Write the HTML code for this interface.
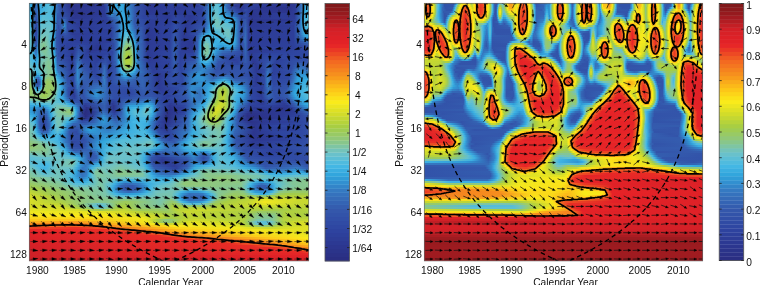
<!DOCTYPE html>
<html><head><meta charset="utf-8"><title>Wavelet power and coherence</title>
<style>
html,body{margin:0;padding:0;background:#fff}
body{width:760px;height:285px;position:relative;overflow:hidden}
.p{position:absolute;overflow:hidden}
.p i{display:block;height:2px}
svg{position:absolute;left:0;top:0}
text{font-family:"Liberation Sans",Arial,Helvetica,sans-serif;font-size:10.2px;fill:#111}
</style></head><body>
<div class="p" style="left:29px;top:3px;width:280px;height:258px">
<i style="background:linear-gradient(90deg,#37abdf 0.5px,#3195d3 4.5px,#3571bc 6.5px,#3382c7 8.5px,#40b3e3 11.5px,#53bbdb 21.5px,#2fa3dc 25.5px,#3465b4 28.5px,#2c358d 39.5px,#2c3891 74.5px,#345daf 79.5px,#3192d1 82.5px,#39ade0 91.5px,#356ab8 102.5px,#2c358c 118.5px,#2d409b 143.5px,#2c3993 164.5px,#3354aa 176.5px,#328dce 180.5px,#3bafe1 182.5px,#65c0cf 186.5px,#44b7e5 191.5px,#3193d2 194.5px,#314fa7 200.5px,#2c358c 211.5px,#2d409b 217.5px,#2c3892 249.5px,#2c378f 265.5px,#3467b6 271.5px,#39ace0 276.5px,#3eb1e2 279.5px)"></i>
<i style="background:linear-gradient(90deg,#37abdf 0.5px,#30a4dc 3.5px,#356cb9 6.5px,#347cc3 8.5px,#37abdf 10.5px,#56bcd9 20.5px,#3cafe1 24.5px,#3389cc 26.5px,#3459ac 29.5px,#2b348c 41.5px,#2c3891 74.5px,#3250a7 78.5px,#309bd7 81.5px,#2fa3dc 86.5px,#34a8de 93.5px,#3251a8 107.5px,#2c368f 121.5px,#2d3e98 142.5px,#2d3b95 168.5px,#345eb0 177.5px,#2fa2db 181.5px,#57bcd8 184.5px,#62bfd1 188.5px,#3baee1 192.5px,#3569b7 197.5px,#2c3992 206.5px,#2c3a94 213.5px,#2e419d 217.5px,#2c3790 247.5px,#2c378f 265.5px,#3568b6 271.5px,#39ace0 276.5px,#3eb1e2 279.5px)"></i>
<i style="background:linear-gradient(90deg,#39ace0 0.5px,#30a4dc 3.5px,#3466b5 6.5px,#3576bf 8.5px,#37abdf 10.5px,#56bcd9 20.5px,#3bafe1 24.5px,#3570bb 27.5px,#3251a8 31.5px,#2c358c 42.5px,#2d3b95 75.5px,#3251a8 78.5px,#33a7de 81.5px,#3197d4 85.5px,#37aadf 92.5px,#3251a8 107.5px,#2c378f 121.5px,#2d3e99 142.5px,#2c3992 149.5px,#2e45a0 173.5px,#356bb8 178.5px,#2fa3dc 181.5px,#58bdd7 184.5px,#63bfd0 188.5px,#3bafe1 192.5px,#3458ac 199.5px,#2c368f 211.5px,#2e439e 217.5px,#2c368e 233.5px,#2b338a 259.5px,#2d3c96 266.5px,#3576c0 272.5px,#3aaee1 276.5px,#40b3e3 279.5px)"></i>
<i style="background:linear-gradient(90deg,#3bafe1 0.5px,#31a5dd 3.5px,#3461b2 6.5px,#3573bd 8.5px,#38ace0 10.5px,#56bcd9 20.5px,#3bafe1 24.5px,#356eba 27.5px,#3251a8 31.5px,#2c358d 43.5px,#2d3b95 75.5px,#3250a7 78.5px,#37aadf 81.5px,#328ecf 85.5px,#36aadf 92.5px,#3384c8 99.5px,#3251a8 107.5px,#2c3891 121.5px,#2d3e99 142.5px,#2d3b95 148.5px,#2e419d 172.5px,#356cb9 178.5px,#31a5dd 181.5px,#64c0cf 185.5px,#5dbed4 189.5px,#3cb0e1 192.5px,#3459ac 200.5px,#2c3a94 212.5px,#304aa4 216.5px,#2c3891 223.5px,#2b348b 259.5px,#2d3c96 266.5px,#3579c1 272.5px,#36aadf 275.5px,#42b6e4 279.5px)"></i>
<i style="background:linear-gradient(90deg,#3eb2e2 0.5px,#33a6dd 3.5px,#345cae 6.5px,#356fbb 8.5px,#39ade0 10.5px,#59bdd7 18.5px,#3bafe1 24.5px,#356dba 27.5px,#3252a9 31.5px,#2c358d 44.5px,#2d3b95 75.5px,#3460b1 79.5px,#31a5dd 81.5px,#3195d3 83.5px,#3482c7 85.5px,#35a9df 92.5px,#3191d1 98.5px,#3353a9 106.5px,#2c3992 121.5px,#2d3f9a 142.5px,#2d3c96 148.5px,#2e419c 172.5px,#356db9 178.5px,#33a7de 181.5px,#5fbed3 184.5px,#67c0cd 188.5px,#3eb1e2 192.5px,#3385c9 196.5px,#2f48a3 207.5px,#2d409b 213.5px,#2e45a1 217.5px,#2c3891 224.5px,#2c358d 259.5px,#2d3d97 266.5px,#356cb9 271.5px,#3aade0 275.5px,#47b8e4 279.5px)"></i>
<i style="background:linear-gradient(90deg,#42b5e4 0.5px,#35a9de 3.5px,#3457ab 6.5px,#3457ac 7.5px,#3bafe1 10.5px,#57bcd8 15.5px,#4fbade 22.5px,#2fa0da 25.5px,#345caf 28.5px,#2c358d 45.5px,#2d3a94 75.5px,#3458ac 79.5px,#3191d1 81.5px,#3195d3 82.5px,#3574be 85.5px,#36aadf 93.5px,#3196d4 98.5px,#3353a9 106.5px,#2c3a94 121.5px,#2d3f9a 142.5px,#2d3c96 148.5px,#2d419c 172.5px,#356eba 178.5px,#35a9df 181.5px,#55bcda 183.5px,#6fc2c5 186.5px,#41b4e3 192.5px,#3290d0 196.5px,#2d419c 212.5px,#314ea6 216.5px,#2c368f 221.5px,#2d3d98 251.5px,#2c3992 265.5px,#356eba 271.5px,#3eb1e2 275.5px,#4dbadf 279.5px)"></i>
<i style="background:linear-gradient(90deg,#46b8e4 0.5px,#37abdf 3.5px,#3354aa 6.5px,#3354aa 7.5px,#3569b7 8.5px,#3db0e2 10.5px,#59bdd7 14.5px,#50bbdd 22.5px,#2fa1da 25.5px,#345aad 28.5px,#2c368e 46.5px,#2d3d97 76.5px,#3463b3 80.5px,#3577c0 82.5px,#356fbb 86.5px,#37aadf 93.5px,#309bd7 98.5px,#3354a9 106.5px,#2e439e 114.5px,#2c3993 140.5px,#2e45a1 146.5px,#2c3892 161.5px,#2f49a3 174.5px,#3481c6 179.5px,#46b8e4 182.5px,#6fc2c6 185.5px,#65c0ce 189.5px,#3cb0e1 193.5px,#3191d1 199.5px,#2e44a0 212.5px,#3251a8 216.5px,#2c368f 221.5px,#2d3d97 250.5px,#2c3a93 265.5px,#3571bc 271.5px,#37aadf 274.5px,#52bbdb 279.5px)"></i>
<i style="background:linear-gradient(90deg,#4bbae0 0.5px,#39ade0 3.5px,#3465b4 5.5px,#3251a8 7.5px,#3466b5 8.5px,#3fb2e2 10.5px,#5bbdd5 13.5px,#53bbdb 22.5px,#2fa2db 25.5px,#3458ac 28.5px,#3252a8 36.5px,#2c368e 43.5px,#2d3f99 77.5px,#3460b1 83.5px,#3577c0 88.5px,#37aadf 93.5px,#309fd9 98.5px,#3457ab 105.5px,#2e44a0 114.5px,#2c3a94 140.5px,#2f46a1 146.5px,#2c3993 161.5px,#2f49a3 174.5px,#3481c7 179.5px,#48b9e3 182.5px,#71c2c1 185.5px,#70c2c3 188.5px,#3cb0e1 194.5px,#3192d1 204.5px,#304ba4 211.5px,#304aa3 217.5px,#2c3790 222.5px,#2d3d97 250.5px,#2d3b95 265.5px,#3464b4 270.5px,#3aade0 274.5px,#57bcd8 279.5px)"></i>
<i style="background:linear-gradient(90deg,#50bbdd 0.5px,#3baee1 3.5px,#3462b2 5.5px,#314ea6 7.5px,#3463b3 8.5px,#40b3e3 10.5px,#5fbed3 13.5px,#56bcd9 22.5px,#2fa3dc 25.5px,#3457ab 28.5px,#3467b6 35.5px,#2d3b95 40.5px,#2d3d98 77.5px,#3568b6 87.5px,#37aadf 93.5px,#2fa2dc 98.5px,#3457ac 105.5px,#304ba4 113.5px,#2d3e98 122.5px,#2d3e98 141.5px,#2f48a3 146.5px,#2c3a93 160.5px,#3049a3 174.5px,#3481c6 179.5px,#47b9e3 182.5px,#72c3bf 185.5px,#73c3bd 188.5px,#41b5e4 195.5px,#31a5dd 204.5px,#314da5 211.5px,#3355aa 216.5px,#2c368f 220.5px,#2c3892 259.5px,#2e419d 266.5px,#3576bf 271.5px,#2fa2db 273.5px,#51bbdc 276.5px,#59bdd7 279.5px)"></i>
<i style="background:linear-gradient(90deg,#53bbdb 0.5px,#3cafe1 3.5px,#345fb1 5.5px,#304ca5 7.5px,#3460b1 8.5px,#41b4e3 10.5px,#5fbed3 12.5px,#60bfd2 21.5px,#42b6e4 24.5px,#3384c8 26.5px,#3355aa 28.5px,#3463b3 33.5px,#3576bf 35.5px,#2d409b 39.5px,#2c3a94 75.5px,#3463b3 87.5px,#36aadf 93.5px,#31a5dd 98.5px,#3458ac 105.5px,#314da5 113.5px,#2d3d98 121.5px,#2d3f9a 141.5px,#304aa4 146.5px,#2c3a94 159.5px,#304aa4 174.5px,#3481c6 179.5px,#45b8e5 182.5px,#71c2c1 185.5px,#75c3b8 188.5px,#4cbae0 196.5px,#42b6e4 203.5px,#3481c6 207.5px,#314ea6 211.5px,#3458ac 216.5px,#2c3790 220.5px,#2d3e99 265.5px,#3569b7 270.5px,#30a4dc 273.5px,#58bdd8 277.5px,#5abdd6 279.5px)"></i>
<i style="background:linear-gradient(90deg,#56bcd9 0.5px,#3db0e2 3.5px,#345daf 5.5px,#304aa3 7.5px,#345eb0 8.5px,#42b5e4 10.5px,#62bfd1 12.5px,#64c0cf 21.5px,#45b8e5 24.5px,#3383c8 26.5px,#3354a9 28.5px,#345daf 32.5px,#3386ca 35.5px,#2f49a3 38.5px,#2c3a94 49.5px,#2e419d 80.5px,#356ab8 88.5px,#3bafe1 94.5px,#309ed9 99.5px,#345aae 105.5px,#314ea6 113.5px,#2d3c97 120.5px,#2d409c 141.5px,#304ca5 146.5px,#2c3a94 158.5px,#3251a8 175.5px,#3481c6 179.5px,#43b6e4 182.5px,#74c3bb 186.5px,#71c2c2 190.5px,#5bbdd5 199.5px,#41b4e3 204.5px,#3385c9 207.5px,#314fa6 211.5px,#3252a8 214.5px,#345bae 216.5px,#2c3891 220.5px,#2d409b 265.5px,#356bb9 270.5px,#30a4dd 273.5px,#57bcd9 277.5px,#58bdd7 279.5px)"></i>
<i style="background:linear-gradient(90deg,#59bdd7 0.5px,#3eb1e2 3.5px,#345bae 5.5px,#2f48a2 7.5px,#345caf 8.5px,#43b6e4 10.5px,#65c0ce 12.5px,#67c0cd 21.5px,#47b8e4 24.5px,#33a7de 25.5px,#3463b3 27.5px,#314da6 29.5px,#3569b7 33.5px,#328dce 35.5px,#304aa4 38.5px,#2d3b95 50.5px,#2e419d 81.5px,#3568b6 88.5px,#36aadf 93.5px,#36aadf 98.5px,#3458ac 106.5px,#314fa6 113.5px,#2d3c96 120.5px,#2e429d 141.5px,#314ea6 146.5px,#2c3993 157.5px,#3355aa 175.5px,#3197d5 180.5px,#51bbdd 183.5px,#73c3bc 187.5px,#5abdd6 202.5px,#38ace0 205.5px,#3356ab 210.5px,#304ba4 213.5px,#345eb0 216.5px,#2c3892 220.5px,#2d3d97 264.5px,#356db9 270.5px,#30a4dc 273.5px,#54bcda 277.5px,#56bcd9 279.5px)"></i>
<i style="background:linear-gradient(90deg,#5cbed5 0.5px,#53bbdb 2.5px,#3fb3e3 3.5px,#345bae 5.5px,#2f47a2 7.5px,#345bae 8.5px,#328fcf 9.5px,#45b8e5 10.5px,#68c0cc 12.5px,#69c1cc 21.5px,#47b9e3 24.5px,#33a6dd 25.5px,#3461b2 27.5px,#304ca5 29.5px,#3568b6 33.5px,#3386ca 35.5px,#304aa3 38.5px,#2c3992 54.5px,#2e45a1 83.5px,#3572bd 89.5px,#37aadf 93.5px,#3baee1 98.5px,#345cae 106.5px,#3457ab 112.5px,#2d3b94 119.5px,#2e439e 141.5px,#314fa7 146.5px,#2c3993 157.5px,#3356ab 174.5px,#328acc 179.5px,#40b3e3 182.5px,#6ec2c8 187.5px,#65c0ce 201.5px,#39ade0 205.5px,#3355aa 210.5px,#304ba4 213.5px,#3462b2 216.5px,#2c3993 220.5px,#2d3e98 264.5px,#356dba 270.5px,#3baee1 274.5px,#52bbdb 279.5px)"></i>
<i style="background:linear-gradient(90deg,#5fbed3 0.5px,#56bcd9 2.5px,#41b4e3 3.5px,#345bae 5.5px,#2f47a2 7.5px,#345bae 8.5px,#3290d0 9.5px,#47b9e3 10.5px,#6bc1ca 12.5px,#6ec2c8 20.5px,#46b8e4 24.5px,#31a5dd 25.5px,#345eb0 27.5px,#314da5 30.5px,#3576c0 35.5px,#2e429d 39.5px,#2d3d98 80.5px,#3467b5 88.5px,#38ace0 93.5px,#40b3e3 98.5px,#347cc3 103.5px,#345caf 108.5px,#3458ac 112.5px,#2c3993 118.5px,#2e439f 141.5px,#3250a7 146.5px,#2c3992 156.5px,#345bae 173.5px,#36aadf 181.5px,#5fbed3 186.5px,#71c2c1 199.5px,#46b8e4 204.5px,#3385c9 207.5px,#314ea6 211.5px,#3355aa 214.5px,#3464b4 216.5px,#2d3c96 219.5px,#2d3e99 264.5px,#356dba 270.5px,#38ace0 274.5px,#4ebadf 279.5px)"></i>
<i style="background:linear-gradient(90deg,#63bfd0 0.5px,#5abdd6 2.5px,#43b6e4 3.5px,#345cae 5.5px,#2f47a2 6.5px,#2f47a2 7.5px,#345caf 8.5px,#3193d2 9.5px,#4bb9e1 10.5px,#6ec2c7 12.5px,#70c2c3 19.5px,#56bcd9 23.5px,#44b7e4 24.5px,#2fa2dc 25.5px,#345cae 27.5px,#304ca5 30.5px,#3568b7 35.5px,#2d3f99 40.5px,#2d3f9a 81.5px,#3467b6 88.5px,#3bafe1 93.5px,#4cbae0 97.5px,#3098d5 102.5px,#3461b2 107.5px,#345aad 112.5px,#2c3992 118.5px,#2e439f 141.5px,#3251a8 146.5px,#2c3892 156.5px,#3356ab 170.5px,#3aade0 181.5px,#71c3c1 195.5px,#70c2c3 200.5px,#39ade0 205.5px,#3355aa 210.5px,#304ca5 213.5px,#3467b5 216.5px,#2d3c97 219.5px,#2d3e99 264.5px,#356cb9 270.5px,#3db0e2 275.5px,#48b9e3 279.5px)"></i>
<i style="background:linear-gradient(90deg,#66c0ce 0.5px,#5dbed4 2.5px,#46b8e4 3.5px,#3192d1 4.5px,#345eb0 5.5px,#2f48a3 6.5px,#2f48a3 7.5px,#345fb0 8.5px,#3196d4 9.5px,#4fbade 10.5px,#71c3c0 12.5px,#70c2c3 19.5px,#53bbdb 23.5px,#309ed9 25.5px,#3459ad 27.5px,#304ba4 30.5px,#3354aa 36.5px,#2d3b95 43.5px,#2e419c 82.5px,#3568b6 88.5px,#34a7de 92.5px,#56bcd9 97.5px,#31a5dd 102.5px,#3465b4 107.5px,#345caf 112.5px,#2c3892 118.5px,#2e439f 141.5px,#3457ab 145.5px,#2c3992 155.5px,#304ca5 167.5px,#38abe0 178.5px,#53bbdb 189.5px,#73c3bd 199.5px,#47b8e4 204.5px,#3385c9 207.5px,#314ea6 211.5px,#3457ab 214.5px,#3568b7 216.5px,#2d3d97 219.5px,#2d3e99 264.5px,#3575be 271.5px,#37abdf 275.5px,#40b4e3 279.5px)"></i>
<i style="background:linear-gradient(90deg,#69c1cc 0.5px,#60bfd2 2.5px,#49b9e2 3.5px,#3196d4 4.5px,#3461b2 5.5px,#304aa4 6.5px,#304aa4 7.5px,#3462b2 8.5px,#309bd7 9.5px,#53bbdb 10.5px,#75c3b8 12.5px,#73c3bb 18.5px,#4fbbde 23.5px,#309bd7 25.5px,#3458ac 27.5px,#304aa4 30.5px,#314ea6 36.5px,#2d3d98 46.5px,#2e419c 82.5px,#3569b7 88.5px,#37abdf 92.5px,#61bfd1 97.5px,#3cb0e1 102.5px,#3572bd 106.5px,#3354a9 113.5px,#2c3892 119.5px,#2e439f 141.5px,#3457ac 145.5px,#2c3a93 154.5px,#2e429e 165.5px,#3579c1 171.5px,#3db0e2 175.5px,#3db1e2 184.5px,#58bdd8 192.5px,#71c2c2 199.5px,#46b8e4 204.5px,#3385c9 207.5px,#314ea6 211.5px,#3457ab 214.5px,#356ab7 216.5px,#2d3d97 219.5px,#2d3e99 264.5px,#3570bb 271.5px,#33a7de 276.5px,#37aadf 279.5px)"></i>
<i style="background:linear-gradient(90deg,#6bc1ca 0.5px,#63bfd0 2.5px,#4dbae0 3.5px,#309ad6 4.5px,#3464b4 5.5px,#314da5 6.5px,#314da5 7.5px,#3465b5 8.5px,#2fa0da 9.5px,#58bdd7 10.5px,#78c4b0 12.5px,#75c3b8 18.5px,#4cbae0 23.5px,#3197d4 25.5px,#3457ab 27.5px,#304aa3 30.5px,#304aa3 36.5px,#2d3e99 46.5px,#2d3e99 81.5px,#356ab8 88.5px,#2fa1da 91.5px,#57bdd8 94.5px,#6cc2c9 98.5px,#3bafe1 103.5px,#3578c1 106.5px,#3355aa 113.5px,#2c3891 118.5px,#2e439f 141.5px,#3459ac 145.5px,#2c3a93 154.5px,#2d3e98 164.5px,#3466b5 169.5px,#3baee1 173.5px,#5bbdd5 177.5px,#39ade0 187.5px,#5abdd6 194.5px,#6bc1ca 200.5px,#39ace0 205.5px,#3355aa 210.5px,#314da5 213.5px,#356bb8 215.5px,#356ab8 216.5px,#2d3c97 219.5px,#2d3e99 264.5px,#3572bd 272.5px,#309cd7 278.5px,#309bd7 279.5px)"></i>
<i style="background:linear-gradient(90deg,#6dc2c9 0.5px,#65c0ce 2.5px,#50bbde 3.5px,#309fd9 4.5px,#3568b7 5.5px,#3250a7 6.5px,#3250a7 7.5px,#356ab8 8.5px,#31a5dd 9.5px,#5ebed4 10.5px,#7cc4a7 12.5px,#7ac4ac 17.5px,#4ab9e1 23.5px,#3195d3 25.5px,#3356ab 27.5px,#3049a3 30.5px,#2e449f 37.5px,#2d3f9a 46.5px,#2d3e99 81.5px,#356bb9 88.5px,#31a5dd 91.5px,#60bfd2 94.5px,#77c3b3 98.5px,#57bcd8 102.5px,#37abdf 104.5px,#356cb9 108.5px,#3462b3 112.5px,#2c3a94 117.5px,#2d3f99 140.5px,#345aad 145.5px,#2d3b95 153.5px,#2d3d97 164.5px,#356ab8 169.5px,#37aadf 172.5px,#58bdd8 174.5px,#69c1cb 178.5px,#3cafe1 184.5px,#43b6e4 192.5px,#65c0ce 200.5px,#38ace0 205.5px,#3355aa 210.5px,#314da5 213.5px,#356bb8 215.5px,#356bb8 216.5px,#2d3c97 219.5px,#2d3f99 264.5px,#3384c8 278.5px,#3384c8 279.5px)"></i>
<i style="background:linear-gradient(90deg,#6dc2c8 0.5px,#66c0ce 2.5px,#2fa3dc 4.5px,#356dba 5.5px,#3353a9 6.5px,#3354a9 7.5px,#356fbb 8.5px,#36aadf 9.5px,#63bfd0 10.5px,#80c59f 12.5px,#7dc4a6 17.5px,#58bdd7 22.5px,#39ade0 24.5px,#3356ab 27.5px,#3049a3 30.5px,#2e439f 37.5px,#2d409c 46.5px,#2d3c96 80.5px,#345fb0 87.5px,#34a8de 91.5px,#58bdd7 93.5px,#80c59d 97.5px,#7ac4ac 100.5px,#40b3e3 104.5px,#2fa3dc 105.5px,#356eba 108.5px,#3464b4 112.5px,#2d3b95 117.5px,#2d3f99 140.5px,#345bae 145.5px,#2d3b95 153.5px,#2c3992 163.5px,#345caf 168.5px,#309cd8 171.5px,#50bbdd 173.5px,#74c3ba 176.5px,#5abdd6 181.5px,#39ace0 185.5px,#43b6e4 194.5px,#5abdd6 201.5px,#37aadf 205.5px,#3355aa 210.5px,#314ca5 213.5px,#356bb8 215.5px,#356ab8 216.5px,#2d3c97 219.5px,#2d3f9a 264.5px,#356fbb 279.5px)"></i>
<i style="background:linear-gradient(90deg,#6dc2c9 0.5px,#66c0ce 2.5px,#32a6dd 4.5px,#3572bd 5.5px,#3457ac 6.5px,#3458ac 7.5px,#3575bf 8.5px,#3aaee1 9.5px,#67c0cd 10.5px,#7cc4a8 11.5px,#85c692 14.5px,#76c3b6 19.5px,#39ade0 24.5px,#3456ab 27.5px,#304aa3 30.5px,#2d409c 38.5px,#2e429d 46.5px,#2e439f 51.5px,#2d3b94 70.5px,#2f48a3 84.5px,#356eba 88.5px,#38ace0 91.5px,#60bfd2 93.5px,#8ac687 97.5px,#85c693 100.5px,#61bfd1 103.5px,#36aadf 105.5px,#3570bc 108.5px,#3459ad 113.5px,#2d3a94 118.5px,#2d3f99 140.5px,#345caf 145.5px,#2d3c96 152.5px,#2c3892 163.5px,#345daf 168.5px,#2fa0da 171.5px,#55bcda 173.5px,#7ac4ad 176.5px,#74c3bb 179.5px,#41b4e3 184.5px,#33a6dd 192.5px,#4ab9e1 202.5px,#3195d3 206.5px,#314da5 211.5px,#3457ab 214.5px,#356ab7 216.5px,#2d3c97 219.5px,#2d409a 264.5px,#345eb0 279.5px)"></i>
<i style="background:linear-gradient(90deg,#6cc1ca 0.5px,#54bcda 3.5px,#35a9df 4.5px,#3578c1 5.5px,#345fb0 6.5px,#345fb1 7.5px,#347dc4 8.5px,#3eb2e2 9.5px,#6ac1cb 10.5px,#7dc4a5 11.5px,#87c68d 14.5px,#77c3b2 19.5px,#3baee1 24.5px,#3457ab 27.5px,#304aa4 30.5px,#2d409b 38.5px,#2e439f 46.5px,#304ba4 50.5px,#2c3992 68.5px,#2f48a3 84.5px,#356fbb 88.5px,#3cb0e2 91.5px,#69c1cb 93.5px,#8ec77e 96.5px,#92c874 99.5px,#7cc4a7 102.5px,#56bcd9 104.5px,#309ad6 106.5px,#3572bd 108.5px,#345bae 113.5px,#2d3b95 118.5px,#2d3f9a 140.5px,#345daf 145.5px,#2d3c96 152.5px,#2c3992 163.5px,#345eb0 168.5px,#2fa2db 171.5px,#41b4e3 172.5px,#77c3b3 175.5px,#7dc4a6 178.5px,#43b6e4 184.5px,#309ad7 191.5px,#39ace0 203.5px,#304ca5 211.5px,#3456ab 214.5px,#3568b7 216.5px,#2d3c97 219.5px,#2d409b 264.5px,#3353a9 279.5px)"></i>
<i style="background:linear-gradient(90deg,#69c1cb 0.5px,#54bcda 3.5px,#38abe0 4.5px,#3466b5 6.5px,#3467b6 7.5px,#42b5e4 9.5px,#6cc1ca 10.5px,#7dc4a5 11.5px,#88c68d 14.5px,#79c4ae 19.5px,#3db0e2 24.5px,#3458ac 27.5px,#304ba4 30.5px,#2d3e99 39.5px,#2e45a0 46.5px,#314ea6 50.5px,#2c3891 67.5px,#2f49a3 84.5px,#3571bc 88.5px,#2fa2db 90.5px,#41b4e3 91.5px,#71c2c1 93.5px,#8dc77f 95.5px,#99ca62 98.5px,#8fc77b 101.5px,#5fbed2 104.5px,#43b6e4 105.5px,#2fa0da 106.5px,#3574be 108.5px,#345caf 113.5px,#2d3b95 118.5px,#2d3f9a 140.5px,#345eb0 145.5px,#2d3c97 152.5px,#2c3a93 163.5px,#345fb0 168.5px,#30a4dc 171.5px,#43b6e4 172.5px,#79c4ae 175.5px,#7fc5a0 178.5px,#44b7e4 184.5px,#3195d3 189.5px,#3195d3 197.5px,#3099d6 203.5px,#304aa4 211.5px,#3356ab 214.5px,#3467b5 216.5px,#2d3d97 219.5px,#2e439f 238.5px,#2d3f9a 263.5px,#314da5 279.5px)"></i>
<i style="background:linear-gradient(90deg,#66c0ce 0.5px,#53bbdb 3.5px,#39ade0 4.5px,#356dba 6.5px,#356eba 7.5px,#328ecf 8.5px,#44b7e4 9.5px,#6ac1cb 10.5px,#82c59b 12.5px,#83c599 17.5px,#62bfd0 22.5px,#40b4e3 24.5px,#309dd8 25.5px,#345bae 27.5px,#304ca5 30.5px,#2d3f9a 45.5px,#3355aa 49.5px,#2c3790 61.5px,#2d3d97 78.5px,#3457ab 86.5px,#328dce 89.5px,#46b8e4 91.5px,#88c68c 94.5px,#9dcb58 97.5px,#9bca5f 100.5px,#8cc782 102.5px,#67c0cd 104.5px,#48b9e3 105.5px,#30a4dc 106.5px,#3575be 108.5px,#345daf 113.5px,#2d3b95 118.5px,#2d409b 140.5px,#345fb0 145.5px,#2d3d97 152.5px,#2d3b95 163.5px,#3461b2 168.5px,#32a6dd 171.5px,#45b8e5 172.5px,#7cc4a9 175.5px,#81c59c 178.5px,#4fbade 183.5px,#309bd7 187.5px,#3576c0 194.5px,#3575bf 204.5px,#2f46a1 212.5px,#3465b4 216.5px,#2d3b94 220.5px,#2d3e99 248.5px,#2f49a3 279.5px)"></i>
<i style="background:linear-gradient(90deg,#62bfd1 0.5px,#51bbdc 3.5px,#3baee1 4.5px,#3574be 6.5px,#3575bf 7.5px,#3195d3 8.5px,#45b8e5 9.5px,#77c3b2 11.5px,#83c597 15.5px,#77c3b3 20.5px,#45b8e5 24.5px,#2fa3dc 25.5px,#345eb0 27.5px,#314da5 30.5px,#2d3c96 44.5px,#3459ac 49.5px,#2c3993 59.5px,#2e429e 73.5px,#2e45a1 83.5px,#3568b6 87.5px,#37abdf 90.5px,#69c1cc 92.5px,#8ec77e 94.5px,#a2cc4c 97.5px,#a0cc53 100.5px,#91c876 102.5px,#6ec2c7 104.5px,#4ebadf 105.5px,#33a7de 106.5px,#3575bf 108.5px,#345daf 113.5px,#2d3a94 118.5px,#2e45a1 141.5px,#345fb1 145.5px,#2d3f99 151.5px,#2d3d97 163.5px,#3465b4 168.5px,#35a9df 171.5px,#49b9e2 172.5px,#7dc4a5 175.5px,#81c59c 178.5px,#4ab9e2 183.5px,#3191d1 187.5px,#356bb8 193.5px,#3353a9 207.5px,#304aa3 213.5px,#3463b3 216.5px,#2d3b95 220.5px,#2d409b 243.5px,#2f48a2 279.5px)"></i>
<i style="background:linear-gradient(90deg,#5ebed3 0.5px,#50bbdd 3.5px,#3195d3 5.5px,#347cc3 6.5px,#347ec4 7.5px,#309bd7 8.5px,#46b8e5 9.5px,#73c3bb 11.5px,#81c59d 16.5px,#74c3ba 21.5px,#4cbae0 24.5px,#34a8de 25.5px,#3462b3 27.5px,#314da5 29.5px,#2f49a3 35.5px,#2d3c96 44.5px,#345eb0 49.5px,#2d409b 56.5px,#2d409b 72.5px,#2f47a2 83.5px,#356bb8 87.5px,#3bafe1 90.5px,#6fc2c5 92.5px,#92c875 94.5px,#a7ce44 97.5px,#a4cd48 100.5px,#88c68c 103.5px,#53bbdb 105.5px,#35a9df 106.5px,#3576bf 108.5px,#345daf 113.5px,#2c3a93 118.5px,#2e46a1 141.5px,#345fb1 145.5px,#2d3f9a 151.5px,#2e439f 164.5px,#3568b6 168.5px,#38abe0 171.5px,#63bfd0 173.5px,#82c59b 176.5px,#78c4b1 179.5px,#43b6e4 183.5px,#3192d1 186.5px,#345eb0 193.5px,#3049a3 213.5px,#3461b1 216.5px,#2d3c97 220.5px,#2e44a0 236.5px,#2e45a1 266.5px,#2f48a2 279.5px)"></i>
<i style="background:linear-gradient(90deg,#5bbdd5 0.5px,#4fbade 3.5px,#309bd7 5.5px,#3386c9 6.5px,#3387ca 7.5px,#2fa1db 8.5px,#47b9e4 9.5px,#70c2c3 11.5px,#80c5a0 17.5px,#77c3b2 21.5px,#53bbdb 24.5px,#3aade0 25.5px,#3467b5 27.5px,#314fa6 29.5px,#2e44a0 36.5px,#2d3c96 44.5px,#3464b4 49.5px,#2e439e 55.5px,#2d3d98 71.5px,#2f47a2 76.5px,#2e439f 82.5px,#356dba 87.5px,#309cd8 89.5px,#3eb2e2 90.5px,#73c3bc 92.5px,#95c96d 94.5px,#a5cd45 96.5px,#a9ce43 100.5px,#8dc781 103.5px,#57bcd8 105.5px,#38abe0 106.5px,#3576c0 108.5px,#345daf 113.5px,#2c3993 118.5px,#2f46a1 141.5px,#345fb1 145.5px,#2d409b 151.5px,#2f47a2 164.5px,#356cb9 168.5px,#39ace0 171.5px,#61bfd1 173.5px,#7dc4a6 176.5px,#66c0ce 180.5px,#3aaee1 183.5px,#3578c1 187.5px,#314fa6 196.5px,#3049a3 213.5px,#345eb0 216.5px,#2d3c96 221.5px,#2f47a2 236.5px,#2f47a2 241.5px,#2f47a2 266.5px,#304aa4 279.5px)"></i>
<i style="background:linear-gradient(90deg,#5bbdd6 0.5px,#50bbdd 3.5px,#2fa2dc 5.5px,#3290d0 6.5px,#33a7de 8.5px,#4ab9e2 9.5px,#74c3bb 12.5px,#80c59f 19.5px,#6cc2c9 23.5px,#3fb2e2 25.5px,#3457ab 28.5px,#2d3d97 44.5px,#356ab7 49.5px,#2e46a1 54.5px,#2d3d97 70.5px,#304aa4 76.5px,#2e439f 82.5px,#356eba 87.5px,#309ed9 89.5px,#40b3e3 90.5px,#75c3b7 92.5px,#97c969 94.5px,#b2d13d 97.5px,#a4cd48 101.5px,#90c77a 103.5px,#5cbed5 105.5px,#3aaee1 106.5px,#3578c0 108.5px,#345eb0 113.5px,#2c3a93 118.5px,#2f46a1 141.5px,#345fb1 145.5px,#2d419c 151.5px,#3150a7 165.5px,#3480c6 169.5px,#47b8e4 172.5px,#71c2c2 175.5px,#63bfd0 179.5px,#3cafe1 182.5px,#3577c0 186.5px,#304aa4 195.5px,#2e439f 212.5px,#345daf 216.5px,#2d3b94 222.5px,#3049a3 236.5px,#3049a3 241.5px,#2f47a2 265.5px,#314da5 279.5px)"></i>
<i style="background:linear-gradient(90deg,#5cbed5 0.5px,#44b7e5 4.5px,#309bd7 6.5px,#39ace0 8.5px,#6fc2c6 11.5px,#82c59a 19.5px,#79c4af 22.5px,#60bed2 24.5px,#43b6e4 25.5px,#3197d4 26.5px,#345aad 28.5px,#2d3b95 43.5px,#3460b1 47.5px,#356fbb 49.5px,#304aa4 53.5px,#2d3e98 69.5px,#314ea6 76.5px,#2e439f 82.5px,#356dba 87.5px,#309dd8 89.5px,#40b3e3 90.5px,#75c3b7 92.5px,#97c967 94.5px,#abcf41 96.5px,#b2d13d 100.5px,#9ecb57 102.5px,#7ec5a2 104.5px,#61bfd2 105.5px,#3db1e2 106.5px,#357ac2 108.5px,#3353a9 114.5px,#2d3a94 120.5px,#2f46a1 141.5px,#345fb0 145.5px,#2e419d 151.5px,#3353a9 165.5px,#3480c6 169.5px,#3fb2e3 172.5px,#61bfd1 176.5px,#39ade0 181.5px,#345fb1 188.5px,#2d3e99 204.5px,#304aa4 213.5px,#345bae 216.5px,#2c3993 223.5px,#304ba4 236.5px,#3252a8 240.5px,#2d409b 249.5px,#314ea6 266.5px,#3250a7 279.5px)"></i>
<i style="background:linear-gradient(90deg,#60bfd2 0.5px,#4ab9e1 4.5px,#32a6dd 7.5px,#55bcda 9.5px,#76c3b6 12.5px,#84c595 19.5px,#7cc4a8 22.5px,#64c0cf 24.5px,#47b9e3 25.5px,#309dd8 26.5px,#345fb1 28.5px,#2d3c96 43.5px,#3464b4 47.5px,#3574be 49.5px,#314da6 53.5px,#2d409b 67.5px,#3251a8 76.5px,#2d409b 81.5px,#345caf 86.5px,#309ad6 89.5px,#3db1e2 90.5px,#73c3bc 92.5px,#96c96a 94.5px,#b3d23d 97.5px,#a7ce44 101.5px,#93c872 103.5px,#64bfcf 105.5px,#40b3e3 106.5px,#347cc3 108.5px,#2d3c96 119.5px,#2e429e 140.5px,#345eb0 145.5px,#2e429d 151.5px,#345eb0 166.5px,#36a9df 172.5px,#46b8e4 177.5px,#328ecf 182.5px,#3354aa 189.5px,#2e419d 208.5px,#345aad 216.5px,#2c3892 224.5px,#314da5 236.5px,#3354aa 240.5px,#2d409b 247.5px,#314fa6 265.5px,#3355aa 276.5px,#3354aa 279.5px)"></i>
<i style="background:linear-gradient(90deg,#64c0cf 0.5px,#52bbdc 4.5px,#3baee1 7.5px,#5cbed5 9.5px,#7bc4ab 13.5px,#85c693 20.5px,#77c3b4 23.5px,#4dbae0 25.5px,#2fa3dc 26.5px,#3464b4 28.5px,#2d3d98 43.5px,#3355aa 46.5px,#3579c1 48.5px,#356db9 50.5px,#314fa7 54.5px,#2e419c 66.5px,#3356ab 73.5px,#3355aa 76.5px,#2d409b 81.5px,#3568b6 87.5px,#39ade0 90.5px,#6ec2c7 92.5px,#93c872 94.5px,#a4cd47 96.5px,#accf41 100.5px,#91c875 103.5px,#64bfcf 105.5px,#41b4e3 106.5px,#347ec5 108.5px,#2d3e99 119.5px,#2e429e 140.5px,#345daf 145.5px,#2e429e 151.5px,#3464b4 166.5px,#36aadf 174.5px,#309bd7 179.5px,#3355aa 188.5px,#2e45a0 208.5px,#3252a9 217.5px,#2c3891 226.5px,#314ea6 236.5px,#3460b1 239.5px,#2d409b 245.5px,#314ea6 264.5px,#3462b2 271.5px,#3458ac 279.5px)"></i>
<i style="background:linear-gradient(90deg,#6ac1cb 0.5px,#5abdd6 4.5px,#42b5e4 7.5px,#74c3b9 11.5px,#87c68f 19.5px,#79c4af 23.5px,#52bbdc 25.5px,#34a8de 26.5px,#356ab8 28.5px,#2d3d98 42.5px,#3457ab 46.5px,#347fc5 48.5px,#3571bc 50.5px,#3354aa 53.5px,#2e429e 66.5px,#3250a7 72.5px,#3464b4 75.5px,#2d3f9a 80.5px,#3457ab 86.5px,#328ecf 89.5px,#49b9e2 91.5px,#7bc4a9 93.5px,#97c968 95.5px,#a5cd46 98.5px,#9dcb58 101.5px,#8cc784 103.5px,#5ebed3 105.5px,#3fb2e2 106.5px,#347fc5 108.5px,#2d3f9a 120.5px,#2d409b 139.5px,#345caf 145.5px,#2e429e 151.5px,#356fbb 167.5px,#309bd7 175.5px,#3250a7 189.5px,#314fa7 213.5px,#3252a9 217.5px,#2c3992 227.5px,#3250a7 236.5px,#3465b4 239.5px,#2e419c 244.5px,#314ea6 263.5px,#356db9 270.5px,#3460b1 279.5px)"></i>
<i style="background:linear-gradient(90deg,#6fc2c6 0.5px,#61bfd1 4.5px,#49b9e2 7.5px,#76c3b4 12.5px,#86c690 20.5px,#7bc4aa 23.5px,#58bdd7 25.5px,#3aaee1 26.5px,#3570bc 28.5px,#2d3f99 42.5px,#3459ac 46.5px,#3383c8 48.5px,#3574be 50.5px,#3356ab 54.5px,#2e439e 65.5px,#3252a8 72.5px,#3569b7 75.5px,#2d3f9a 80.5px,#3355aa 86.5px,#3386ca 89.5px,#2fa0da 90.5px,#40b3e3 91.5px,#70c2c3 93.5px,#8dc77f 95.5px,#9aca61 98.5px,#92c874 101.5px,#6dc2c9 104.5px,#39ade0 106.5px,#3573bd 109.5px,#2d3f9a 122.5px,#2e429e 140.5px,#345bae 145.5px,#2e439e 151.5px,#328ccd 175.5px,#3251a8 188.5px,#3252a9 217.5px,#2c3992 227.5px,#3251a8 236.5px,#3569b7 239.5px,#2e419c 244.5px,#304ca5 262.5px,#3575bf 270.5px,#3569b7 279.5px)"></i>
<i style="background:linear-gradient(90deg,#73c3bd 0.5px,#65c0ce 4.5px,#4ab9e1 7.5px,#7cc4a8 15.5px,#85c693 21.5px,#74c3ba 24.5px,#41b4e3 26.5px,#3197d4 27.5px,#3578c0 28.5px,#2d3f9a 41.5px,#314da5 45.5px,#3387ca 48.5px,#3576bf 50.5px,#3459ad 54.5px,#2e439f 65.5px,#3353a9 72.5px,#356eba 75.5px,#2e419d 79.5px,#3354aa 86.5px,#3196d4 90.5px,#49b9e2 92.5px,#7cc4a8 95.5px,#89c68a 98.5px,#7dc4a6 101.5px,#40b3e3 105.5px,#328dce 107.5px,#356fbb 110.5px,#2d3d97 124.5px,#304ca5 142.5px,#3354aa 146.5px,#2e44a0 152.5px,#328acc 173.5px,#3252a9 187.5px,#3253a9 217.5px,#2c3992 227.5px,#2f49a3 235.5px,#356eba 239.5px,#2d419c 244.5px,#314ea6 262.5px,#3481c6 269.5px,#3572bd 279.5px)"></i>
<i style="background:linear-gradient(90deg,#77c3b4 0.5px,#68c0cd 4.5px,#45b8e5 7.5px,#82c59a 18.5px,#85c693 22.5px,#79c4af 24.5px,#49b9e2 26.5px,#2fa3dc 27.5px,#3574be 29.5px,#2d409b 42.5px,#345caf 46.5px,#3389cb 48.5px,#3577c0 50.5px,#345bae 55.5px,#2e44a0 65.5px,#3354a9 72.5px,#3571bc 75.5px,#2e429d 79.5px,#3354a9 86.5px,#328bcd 90.5px,#3baee1 92.5px,#6bc1ca 96.5px,#5dbed4 101.5px,#3aaee1 104.5px,#3481c7 107.5px,#2d3f9a 123.5px,#2e429e 140.5px,#3459ac 145.5px,#2e45a1 152.5px,#328ece 171.5px,#3354aa 186.5px,#3253a9 217.5px,#2c3992 227.5px,#3049a3 235.5px,#3572bd 238.5px,#3464b4 240.5px,#2d409b 244.5px,#304ba4 261.5px,#328bcd 269.5px,#347fc5 279.5px)"></i>
<i style="background:linear-gradient(90deg,#7bc4aa 0.5px,#73c3bd 3.5px,#42b5e4 6.5px,#3aaee1 9.5px,#6ac1cb 13.5px,#86c691 19.5px,#85c692 23.5px,#71c2c2 25.5px,#39ace0 27.5px,#3579c2 30.5px,#2e419c 41.5px,#314ea6 45.5px,#328acc 48.5px,#3579c1 50.5px,#3460b1 54.5px,#2e44a0 66.5px,#3354aa 72.5px,#3575be 74.5px,#3465b5 76.5px,#2e429e 79.5px,#345aad 87.5px,#38ace0 93.5px,#4ab9e1 98.5px,#3194d3 104.5px,#356fbb 109.5px,#2c3992 128.5px,#304ca5 142.5px,#3253a9 146.5px,#2e46a1 152.5px,#3194d2 169.5px,#3574be 177.5px,#3457ab 187.5px,#3459ad 199.5px,#314ea6 218.5px,#2d3b95 229.5px,#3354aa 236.5px,#3575bf 238.5px,#3466b5 240.5px,#2d409b 244.5px,#304ca5 261.5px,#3193d2 269.5px,#328fcf 279.5px)"></i>
<i style="background:linear-gradient(90deg,#80c59f 0.5px,#74c3bb 3.5px,#49b9e2 5.5px,#3099d5 7.5px,#3192d1 9.5px,#3cafe1 11.5px,#74c3bb 14.5px,#88c68c 18.5px,#8bc686 23.5px,#79c4b0 25.5px,#43b6e4 27.5px,#2fa2dc 28.5px,#304ba4 38.5px,#2e45a1 44.5px,#3574be 47.5px,#328acc 48.5px,#3579c1 50.5px,#3462b2 54.5px,#2e45a1 67.5px,#3355aa 72.5px,#3577c0 74.5px,#3467b6 76.5px,#2e439f 79.5px,#3458ac 87.5px,#32a6dd 95.5px,#3290d0 101.5px,#356cb9 108.5px,#2c3993 130.5px,#304ba4 142.5px,#3252a8 146.5px,#2f46a1 152.5px,#3197d4 168.5px,#3386c9 175.5px,#345cae 185.5px,#356db9 197.5px,#3253a9 208.5px,#314fa7 218.5px,#2c3a94 228.5px,#304aa4 235.5px,#3578c0 238.5px,#3568b7 240.5px,#2e439f 243.5px,#304aa3 260.5px,#3574be 265.5px,#3198d5 268.5px,#309ed9 279.5px)"></i>
<i style="background:linear-gradient(90deg,#86c692 0.5px,#7fc5a1 2.5px,#5cbed5 4.5px,#3db1e2 5.5px,#3578c1 7.5px,#356fbb 9.5px,#309bd7 11.5px,#42b5e4 12.5px,#83c599 15.5px,#90c878 19.5px,#8bc785 24.5px,#6fc2c7 26.5px,#3aade0 28.5px,#314da5 38.5px,#2e45a1 44.5px,#3573bd 47.5px,#3389cb 48.5px,#3578c0 50.5px,#3462b2 54.5px,#2f47a2 69.5px,#3456ab 72.5px,#357ac2 74.5px,#3569b7 76.5px,#2e44a0 79.5px,#345daf 88.5px,#328ecf 96.5px,#3466b5 107.5px,#3461b2 114.5px,#2c3993 129.5px,#3251a8 143.5px,#304aa3 153.5px,#3192d1 166.5px,#3195d3 173.5px,#3465b4 184.5px,#328cce 195.5px,#3457ab 206.5px,#3356ab 217.5px,#2c3993 227.5px,#304ba4 235.5px,#357ac2 238.5px,#356ab8 240.5px,#2e44a0 243.5px,#2f48a3 259.5px,#356dba 264.5px,#309dd8 268.5px,#35a9de 279.5px)"></i>
<i style="background:linear-gradient(90deg,#8cc783 0.5px,#83c598 2.5px,#56bcd9 4.5px,#33a7de 5.5px,#3464b4 7.5px,#3457ac 9.5px,#3382c7 11.5px,#38ace0 12.5px,#5ebed4 13.5px,#89c689 15.5px,#95c96d 18.5px,#90c879 24.5px,#5fbed3 27.5px,#45b8e5 28.5px,#309fd9 31.5px,#314fa7 38.5px,#2e45a1 44.5px,#3572bd 47.5px,#3387ca 48.5px,#3576bf 50.5px,#3460b1 54.5px,#314ca5 70.5px,#356cb9 73.5px,#347bc2 75.5px,#2f46a1 79.5px,#345fb0 89.5px,#3578c0 96.5px,#345daf 106.5px,#3465b4 113.5px,#2c3993 129.5px,#3250a7 143.5px,#304aa4 153.5px,#328bcc 164.5px,#3195d3 173.5px,#3571bc 183.5px,#3192d1 189.5px,#38ace0 195.5px,#3465b4 205.5px,#3459ad 217.5px,#2c3993 227.5px,#304ba4 235.5px,#347bc2 238.5px,#356bb8 240.5px,#2f46a1 243.5px,#304ba4 259.5px,#3573bd 264.5px,#2fa0da 268.5px,#3cb0e1 279.5px)"></i>
<i style="background:linear-gradient(90deg,#91c877 0.5px,#87c68f 2.5px,#54bcda 4.5px,#2fa1db 5.5px,#3572bd 6.5px,#314ea6 8.5px,#3458ac 10.5px,#3574be 11.5px,#32a6dd 12.5px,#5cbed5 13.5px,#8ec77d 15.5px,#99ca63 18.5px,#93c871 24.5px,#7ec5a2 26.5px,#6bc1ca 27.5px,#41b4e3 29.5px,#3290d0 33.5px,#3251a8 38.5px,#2e45a0 44.5px,#356fbb 47.5px,#3384c8 49.5px,#345caf 53.5px,#3355aa 71.5px,#357bc2 75.5px,#2f48a3 79.5px,#3463b3 91.5px,#3463b3 99.5px,#345cae 107.5px,#3465b4 113.5px,#2c3993 129.5px,#314fa7 143.5px,#304aa4 153.5px,#3388cb 163.5px,#328cce 176.5px,#3389cc 184.5px,#3cafe1 189.5px,#5abdd6 195.5px,#32a6dd 200.5px,#3573be 206.5px,#345eb0 217.5px,#2c3993 226.5px,#304ba4 235.5px,#357ac2 238.5px,#356bb8 240.5px,#2f48a2 243.5px,#304ba4 258.5px,#356eba 263.5px,#2fa2db 268.5px,#42b5e4 279.5px)"></i>
<i style="background:linear-gradient(90deg,#95c96d 0.5px,#8bc784 2.5px,#59bdd7 4.5px,#30a4dc 5.5px,#3573be 6.5px,#314ea6 8.5px,#3458ac 10.5px,#3575bf 11.5px,#34a8de 12.5px,#5fbed3 13.5px,#90c878 15.5px,#9bca5f 18.5px,#95c96c 24.5px,#83c597 26.5px,#5cbed5 28.5px,#3aaee1 31.5px,#3253a9 38.5px,#2e44a0 44.5px,#356cb9 47.5px,#347fc5 49.5px,#3458ac 53.5px,#3464b4 72.5px,#3579c2 75.5px,#304ba4 79.5px,#3461b2 97.5px,#3459ac 107.5px,#3464b4 113.5px,#2c3993 129.5px,#314ea6 146.5px,#304ba4 153.5px,#3389cb 163.5px,#309ed9 183.5px,#51bbdc 188.5px,#7cc4a6 193.5px,#79c4ae 196.5px,#42b5e4 201.5px,#3194d2 205.5px,#345aad 218.5px,#2c3993 227.5px,#304aa4 235.5px,#3578c1 238.5px,#356bb8 240.5px,#2f47a2 244.5px,#314fa7 258.5px,#3383c8 264.5px,#2fa3dc 268.5px,#47b9e3 279.5px)"></i>
<i style="background:linear-gradient(90deg,#98ca65 0.5px,#90c879 2.5px,#65c0ce 4.5px,#3cafe1 5.5px,#3467b6 7.5px,#3458ac 9.5px,#3388cb 11.5px,#3eb2e2 12.5px,#69c1cc 13.5px,#84c596 14.5px,#98c966 16.5px,#99ca63 23.5px,#91c877 25.5px,#63bfd0 28.5px,#3eb1e2 31.5px,#3467b6 36.5px,#2d419c 43.5px,#3354aa 46.5px,#3578c1 48.5px,#3356ab 53.5px,#3571bc 73.5px,#356eba 76.5px,#304ba4 80.5px,#3457ac 98.5px,#3457ab 107.5px,#3463b3 113.5px,#2c3a93 129.5px,#314ea6 146.5px,#304ba4 153.5px,#328acc 163.5px,#328bcd 173.5px,#37aadf 182.5px,#58bdd7 186.5px,#7cc4a9 189.5px,#92c875 192.5px,#95c96c 195.5px,#85c694 198.5px,#62bfd0 201.5px,#3eb2e2 204.5px,#3195d3 211.5px,#2d3c96 224.5px,#2e439e 234.5px,#3576bf 238.5px,#304aa4 244.5px,#3253a9 258.5px,#2fa2db 267.5px,#4cbae0 279.5px)"></i>
<i style="background:linear-gradient(90deg,#9bca5f 0.5px,#94c96f 2.5px,#8ac687 3.5px,#53bbdb 5.5px,#33a7de 6.5px,#3575bf 8.5px,#3389cb 10.5px,#34a8de 11.5px,#55bcd9 12.5px,#8ac686 14.5px,#99ca64 16.5px,#99ca64 23.5px,#86c691 26.5px,#66c0ce 28.5px,#3fb2e3 31.5px,#3388cb 34.5px,#314da6 39.5px,#2e45a1 45.5px,#3573bd 48.5px,#3354a9 53.5px,#3574be 69.5px,#356fbb 76.5px,#314da6 80.5px,#314fa6 101.5px,#345fb0 114.5px,#2d3b94 130.5px,#2f49a3 147.5px,#345aad 156.5px,#328ccd 162.5px,#347ec4 171.5px,#37aadf 180.5px,#57bcd8 184.5px,#7bc4a9 187.5px,#9ccb5a 191.5px,#a4cd47 195.5px,#8ec77d 199.5px,#6cc2c9 202.5px,#42b5e4 206.5px,#328dce 214.5px,#2e449f 222.5px,#2d3e99 233.5px,#3573be 239.5px,#314ea6 243.5px,#3252a9 257.5px,#2fa3dc 267.5px,#50bbdd 279.5px)"></i>
<i style="background:linear-gradient(90deg,#9ccb5c 0.5px,#91c877 3.5px,#55bcda 6.5px,#35a8de 8.5px,#40b3e3 10.5px,#73c3bd 12.5px,#92c874 14.5px,#9dcb5a 18.5px,#93c870 24.5px,#54bcda 29.5px,#309bd7 33.5px,#3253a9 38.5px,#2d3c97 44.5px,#356eba 49.5px,#3252a8 53.5px,#3385c9 68.5px,#356fbb 76.5px,#314ea6 81.5px,#304ba4 101.5px,#345daf 114.5px,#2d3c96 131.5px,#3049a3 147.5px,#345aad 156.5px,#328cce 162.5px,#3577c0 171.5px,#36a9df 179.5px,#59bdd7 183.5px,#7dc4a5 186.5px,#a0cc51 190.5px,#b5d23c 195.5px,#9ecb57 198.5px,#6ac1cb 203.5px,#42b5e4 208.5px,#3196d4 214.5px,#2e45a0 222.5px,#2d3c96 232.5px,#3354aa 236.5px,#3570bc 239.5px,#314ea6 244.5px,#3355aa 257.5px,#30a4dc 266.5px,#4ab9e1 275.5px,#53bbdb 279.5px)"></i>
<i style="background:linear-gradient(90deg,#9bca5e 0.5px,#8fc77b 4.5px,#6bc1ca 7.5px,#6ec2c7 10.5px,#93c871 13.5px,#9ecb55 17.5px,#90c77a 24.5px,#61bfd1 28.5px,#3db1e2 31.5px,#304ba4 39.5px,#2c3993 44.5px,#3467b6 49.5px,#3251a8 53.5px,#328fcf 68.5px,#3466b5 77.5px,#314ea6 84.5px,#3049a3 101.5px,#345caf 114.5px,#2d3e99 133.5px,#2f47a2 148.5px,#3463b3 157.5px,#328bcd 163.5px,#3572bd 170.5px,#38ace0 179.5px,#54bcdb 182.5px,#6dc2c8 184.5px,#9fcb54 189.5px,#bfd636 193.5px,#aacf42 197.5px,#84c594 201.5px,#6dc2c9 203.5px,#41b4e3 209.5px,#328fcf 215.5px,#2e46a1 222.5px,#2d3c96 232.5px,#3461b2 237.5px,#356dba 239.5px,#3250a7 244.5px,#3457ab 257.5px,#30a4dc 265.5px,#47b8e4 274.5px,#55bcd9 279.5px)"></i>
<i style="background:linear-gradient(90deg,#98ca65 0.5px,#8fc77b 5.5px,#83c598 8.5px,#a0cc50 15.5px,#93c870 22.5px,#77c3b3 26.5px,#4fbade 29.5px,#309bd7 33.5px,#304ca5 39.5px,#2c3891 44.5px,#3461b2 49.5px,#314fa7 53.5px,#3194d2 67.5px,#3250a7 82.5px,#2f48a3 101.5px,#345bae 115.5px,#2d3f99 135.5px,#345aad 156.5px,#3389cb 163.5px,#3570bc 170.5px,#3aade0 179.5px,#65c0ce 183.5px,#a2cc4d 189.5px,#c3d733 194.5px,#a0cc50 198.5px,#69c1cb 203.5px,#42b5e4 208.5px,#309cd8 214.5px,#2f46a1 222.5px,#2d3c96 232.5px,#3569b7 239.5px,#3150a7 245.5px,#3457ac 257.5px,#30a4dd 265.5px,#48b9e3 274.5px,#56bcd9 279.5px)"></i>
<i style="background:linear-gradient(90deg,#92c875 0.5px,#92c875 9.5px,#a1cc50 15.5px,#8ec77e 22.5px,#58bdd7 28.5px,#36aadf 32.5px,#314fa6 39.5px,#2d3c97 45.5px,#345bae 49.5px,#3251a8 54.5px,#3290d0 67.5px,#314fa7 83.5px,#304ca5 100.5px,#3458ac 109.5px,#3354a9 122.5px,#2d3e99 139.5px,#3458ac 156.5px,#3384c8 163.5px,#3572bd 171.5px,#35a8de 178.5px,#50bbdd 181.5px,#76c3b7 184.5px,#a4cd49 189.5px,#c2d733 194.5px,#9fcb54 198.5px,#64c0cf 203.5px,#41b4e3 207.5px,#3098d5 214.5px,#2f46a1 222.5px,#2d3c96 232.5px,#3465b4 239.5px,#314ea6 246.5px,#345cae 258.5px,#31a5dd 266.5px,#54bcda 279.5px)"></i>
<i style="background:linear-gradient(90deg,#86c690 0.5px,#93c870 10.5px,#9aca61 16.5px,#7fc5a0 23.5px,#58bdd8 28.5px,#34a7de 33.5px,#314fa6 40.5px,#2d409b 45.5px,#3458ac 49.5px,#3252a9 55.5px,#3385c9 68.5px,#3462b3 77.5px,#304ca5 85.5px,#3251a8 100.5px,#345cae 109.5px,#3462b2 121.5px,#2d3f99 135.5px,#3356ab 156.5px,#347ec5 163.5px,#3574be 171.5px,#39ace0 178.5px,#65c0cf 182.5px,#a7ce44 189.5px,#c2d733 194.5px,#9ecb57 198.5px,#70c2c3 202.5px,#41b4e3 206.5px,#3290d0 214.5px,#2f46a1 222.5px,#2d3e99 233.5px,#3460b1 239.5px,#3049a3 249.5px,#345caf 259.5px,#2fa3dc 267.5px,#50bbdd 279.5px)"></i>
<i style="background:linear-gradient(90deg,#74c3ba 0.5px,#83c598 9.5px,#8ec77e 15.5px,#73c3bc 24.5px,#3fb2e3 33.5px,#3481c6 37.5px,#304ba4 43.5px,#3353a9 50.5px,#3252a9 57.5px,#3575bf 69.5px,#3466b5 76.5px,#2f46a1 83.5px,#345bae 99.5px,#3461b2 108.5px,#3575bf 120.5px,#2e439f 132.5px,#2e419d 142.5px,#3354a9 156.5px,#3579c1 163.5px,#3579c1 171.5px,#37abdf 177.5px,#57bcd8 180.5px,#7cc4a8 183.5px,#a5cd45 188.5px,#c7d831 193.5px,#a8ce43 197.5px,#7ec5a2 201.5px,#62bfd0 203.5px,#40b3e3 206.5px,#328bcd 213.5px,#2d419c 223.5px,#2d409b 234.5px,#3355aa 240.5px,#2f47a2 255.5px,#3568b7 262.5px,#2fa1db 269.5px,#49b9e2 279.5px)"></i>
<i style="background:linear-gradient(90deg,#5cbed5 0.5px,#73c3bd 21.5px,#48b9e3 34.5px,#3195d3 38.5px,#3459ac 44.5px,#314ea6 51.5px,#3250a7 60.5px,#356bb8 73.5px,#2d3f9a 84.5px,#356cb9 99.5px,#347bc3 112.5px,#3195d3 119.5px,#314da6 129.5px,#2d3f9a 142.5px,#3250a7 156.5px,#3576bf 164.5px,#3389cc 172.5px,#38abdf 176.5px,#59bdd7 179.5px,#7ec5a2 182.5px,#a8ce43 187.5px,#ccda2e 192.5px,#abcf42 197.5px,#82c59a 201.5px,#57bcd8 204.5px,#31a5dd 208.5px,#2e429e 222.5px,#2d3f9a 234.5px,#3250a7 240.5px,#2d409b 254.5px,#3460b1 263.5px,#309ad6 270.5px,#40b4e3 279.5px)"></i>
<i style="background:linear-gradient(90deg,#43b7e4 0.5px,#58bdd7 18.5px,#6cc2c9 29.5px,#54bcdb 36.5px,#34a7de 40.5px,#356bb8 46.5px,#2d3f99 56.5px,#3462b2 75.5px,#2c3992 83.5px,#3459ad 92.5px,#3385c9 100.5px,#3193d2 112.5px,#3cafe1 118.5px,#328fd0 123.5px,#3252a8 129.5px,#2c3a93 141.5px,#314da5 156.5px,#3578c0 165.5px,#39ace0 175.5px,#6ac1cb 179.5px,#a4cd49 185.5px,#d1dc2b 191.5px,#b9d439 196.5px,#9aca61 199.5px,#6bc1ca 203.5px,#3fb2e3 206.5px,#3388cb 210.5px,#2f46a1 220.5px,#2d3c96 233.5px,#304ba4 240.5px,#2d3b95 255.5px,#3458ac 264.5px,#31a5dd 275.5px,#37abdf 279.5px)"></i>
<i style="background:linear-gradient(90deg,#36a9df 0.5px,#30a4dc 15.5px,#54bcda 21.5px,#75c3b7 28.5px,#71c2c1 36.5px,#3eb1e2 43.5px,#356fbb 48.5px,#2c3891 55.5px,#345eb0 75.5px,#2c358c 84.5px,#345bae 92.5px,#309ed9 99.5px,#35a9de 112.5px,#54bcda 118.5px,#30a4dd 123.5px,#345cae 128.5px,#2c368f 140.5px,#2e45a0 155.5px,#35a9de 173.5px,#4fbbde 176.5px,#6cc2c9 178.5px,#a0cc52 183.5px,#d3dc2a 189.5px,#c2d734 195.5px,#9aca61 199.5px,#6cc2c9 203.5px,#3db0e2 206.5px,#3570bb 211.5px,#2d3f9a 221.5px,#2e429d 236.5px,#2d409b 241.5px,#2c3992 258.5px,#345caf 266.5px,#309fd9 278.5px,#309ed9 279.5px)"></i>
<i style="background:linear-gradient(90deg,#2fa0da 0.5px,#347fc5 14.5px,#3cb0e1 20.5px,#71c3c1 25.5px,#80c59e 33.5px,#7fc5a1 40.5px,#54bcda 44.5px,#2fa2db 46.5px,#314fa7 51.5px,#2b3085 57.5px,#345eb0 75.5px,#2b348b 84.5px,#345daf 92.5px,#34a8de 98.5px,#45b8e5 107.5px,#44b7e4 112.5px,#69c1cb 117.5px,#47b8e4 122.5px,#328dce 125.5px,#3252a8 130.5px,#2c358e 141.5px,#2d3f9a 154.5px,#3aaee1 172.5px,#53bbdb 175.5px,#6ec2c8 177.5px,#a2cc4d 182.5px,#d6de28 188.5px,#c4d732 194.5px,#9ecb56 198.5px,#56bcd9 204.5px,#37abdf 206.5px,#345aad 212.5px,#2c3891 225.5px,#2d409c 240.5px,#2b338a 251.5px,#2d3f9a 263.5px,#328ccd 278.5px,#328ccd 279.5px)"></i>
<i style="background:linear-gradient(90deg,#309ed9 0.5px,#3385c9 7.5px,#356bb8 14.5px,#3388cb 18.5px,#3db0e2 21.5px,#77c3b3 26.5px,#8fc77b 40.5px,#7dc4a6 43.5px,#54bcda 45.5px,#3098d5 47.5px,#2e429d 52.5px,#2a2d80 57.5px,#345aad 70.5px,#3462b3 75.5px,#2c368e 84.5px,#3354aa 91.5px,#3aade0 98.5px,#58bdd7 106.5px,#49b9e2 111.5px,#72c3c0 117.5px,#4dbadf 122.5px,#3191d1 125.5px,#3457ac 129.5px,#2b338a 140.5px,#2e439f 155.5px,#3bafe1 170.5px,#57bcd8 174.5px,#6fc2c5 176.5px,#a2cc4d 181.5px,#d8de28 187.5px,#c0d635 193.5px,#9ecb57 197.5px,#7bc4ab 201.5px,#5dbed4 203.5px,#3cafe1 205.5px,#357ac2 208.5px,#2f47a2 214.5px,#2c3891 230.5px,#2c3992 241.5px,#2c358d 261.5px,#3577c0 278.5px,#3577c0 279.5px)"></i>
<i style="background:linear-gradient(90deg,#30a4dc 0.5px,#328bcd 6.5px,#345eb0 13.5px,#3577c0 18.5px,#35a9de 21.5px,#53bbdb 23.5px,#7bc4aa 27.5px,#8ec77f 37.5px,#91c877 41.5px,#83c597 43.5px,#5cbed5 45.5px,#40b3e3 46.5px,#3480c6 48.5px,#2d409b 52.5px,#2a2d80 56.5px,#2c3790 63.5px,#356eba 74.5px,#2d3c96 85.5px,#3462b2 92.5px,#39ade0 98.5px,#5dbed4 106.5px,#4fbade 111.5px,#71c2c1 117.5px,#4ab9e2 122.5px,#2fa3dc 124.5px,#3460b1 128.5px,#2b3289 138.5px,#2d419c 154.5px,#3388cb 163.5px,#41b4e3 169.5px,#70c2c3 175.5px,#aacf42 181.5px,#d6de28 186.5px,#bad438 192.5px,#93c870 197.5px,#5ebed4 202.5px,#30a4dc 205.5px,#3356ab 210.5px,#2c358c 220.5px,#2c378f 241.5px,#2d3c96 264.5px,#3569b7 279.5px)"></i>
<i style="background:linear-gradient(90deg,#38abe0 0.5px,#309bd7 5.5px,#3459ac 12.5px,#3464b4 17.5px,#2fa2db 21.5px,#5fbed3 24.5px,#7dc4a5 29.5px,#83c596 36.5px,#8bc784 41.5px,#7ec4a4 43.5px,#57bcd8 45.5px,#3cb0e1 46.5px,#3356ab 50.5px,#2a2d80 55.5px,#2b348b 62.5px,#357ac2 74.5px,#2e439f 85.5px,#3464b4 92.5px,#35a9df 98.5px,#5abdd6 106.5px,#54bcdb 112.5px,#6ac1cb 117.5px,#36aadf 123.5px,#345bae 128.5px,#2b3187 138.5px,#2f48a2 155.5px,#3191d1 163.5px,#4dbae0 169.5px,#72c3bf 174.5px,#b1d13e 181.5px,#d3dd29 186.5px,#a1cc4f 193.5px,#5abdd6 201.5px,#31a5dd 204.5px,#3456ab 209.5px,#2b3289 218.5px,#2c368e 241.5px,#2d3e98 265.5px,#345caf 279.5px)"></i>
<i style="background:linear-gradient(90deg,#42b5e4 0.5px,#30a4dd 5.5px,#3459ad 11.5px,#345bae 17.5px,#37abdf 22.5px,#5abdd6 24.5px,#7ac4ad 28.5px,#7bc4a9 37.5px,#7cc4a8 41.5px,#5dbed4 44.5px,#46b8e4 45.5px,#328ecf 47.5px,#2f49a3 51.5px,#2a2d80 56.5px,#2e429e 64.5px,#328bcd 74.5px,#314ea6 84.5px,#3460b1 91.5px,#36aadf 99.5px,#53bbdb 107.5px,#55bcda 113.5px,#5abdd6 118.5px,#37abdf 122.5px,#3356ab 128.5px,#2b3186 138.5px,#3251a8 156.5px,#39ade0 165.5px,#6dc2c9 172.5px,#b2d13d 181.5px,#cbda2e 186.5px,#9ecb56 192.5px,#61bfd1 199.5px,#3cafe1 202.5px,#3251a8 209.5px,#2b3085 218.5px,#2c368e 241.5px,#2d409b 266.5px,#3354aa 279.5px)"></i>
<i style="background:linear-gradient(90deg,#4fbbde 0.5px,#38abe0 5.5px,#3457ab 11.5px,#3355aa 17.5px,#3290d0 21.5px,#42b5e4 23.5px,#75c3b7 27.5px,#74c3bb 32.5px,#5cbed5 42.5px,#35a9de 45.5px,#3353a9 50.5px,#2b3187 56.5px,#3356ab 66.5px,#3197d4 74.5px,#3355aa 85.5px,#3572bd 93.5px,#3cafe1 101.5px,#4bb9e1 108.5px,#4cbae0 118.5px,#3290d0 123.5px,#304ba4 129.5px,#2b3287 139.5px,#345aad 157.5px,#36aadf 164.5px,#58bdd8 168.5px,#78c4b2 173.5px,#add040 181.5px,#bed536 186.5px,#a2cc4c 190.5px,#5dbed4 198.5px,#3baee1 201.5px,#314ea6 209.5px,#2b3084 219.5px,#2c358c 242.5px,#3049a3 271.5px,#314fa7 279.5px)"></i>
<i style="background:linear-gradient(90deg,#5dbed4 0.5px,#4ab9e1 4.5px,#3290d0 7.5px,#3354aa 11.5px,#3250a7 17.5px,#3387ca 21.5px,#3db1e2 23.5px,#74c3b9 27.5px,#75c3b9 31.5px,#3cafe1 42.5px,#2f47a2 52.5px,#2d3f99 59.5px,#3572bd 68.5px,#309bd7 74.5px,#345fb0 86.5px,#3384c8 95.5px,#39ade0 101.5px,#47b8e4 109.5px,#47b8e4 117.5px,#3290d0 122.5px,#314da6 128.5px,#2b3289 138.5px,#345fb0 157.5px,#39ade0 164.5px,#6fc2c5 171.5px,#a7ce44 182.5px,#a4cd49 188.5px,#7ec4a4 194.5px,#5fbed3 197.5px,#3db0e2 200.5px,#3467b6 206.5px,#2c358c 215.5px,#2d3f99 251.5px,#314da5 279.5px)"></i>
<i style="background:linear-gradient(90deg,#68c0cd 0.5px,#53bbdb 4.5px,#34a8de 6.5px,#345bae 10.5px,#2e45a0 15.5px,#356cb9 20.5px,#3aade0 23.5px,#74c3bb 27.5px,#77c3b3 30.5px,#3db1e2 38.5px,#3386ca 43.5px,#304ca5 53.5px,#3461b2 64.5px,#3197d4 74.5px,#3569b7 87.5px,#328fcf 96.5px,#45b8e5 104.5px,#41b4e3 117.5px,#3383c8 122.5px,#2e44a0 129.5px,#2b338a 137.5px,#314fa6 152.5px,#3573bd 159.5px,#3aaee1 164.5px,#73c3bc 172.5px,#9dcb58 182.5px,#9ecb57 187.5px,#88c68b 192.5px,#65c0cf 196.5px,#38ace0 200.5px,#3250a7 209.5px,#2b3389 221.5px,#2d3b95 240.5px,#2d3f9a 261.5px,#314da5 279.5px)"></i>
<i style="background:linear-gradient(90deg,#70c2c4 0.5px,#5bbdd6 4.5px,#38ace0 6.5px,#345bae 10.5px,#2e439e 15.5px,#3568b6 20.5px,#37aadf 23.5px,#5cbed5 25.5px,#78c4b1 29.5px,#57bcd8 34.5px,#309fd9 38.5px,#3465b5 44.5px,#345bae 56.5px,#328fcf 74.5px,#3571bc 88.5px,#3aaee1 101.5px,#48b9e3 110.5px,#36aadf 118.5px,#314da5 127.5px,#2c358d 137.5px,#3252a8 151.5px,#356cb9 158.5px,#3aade0 164.5px,#74c3ba 173.5px,#95c96d 183.5px,#8ec77f 190.5px,#56bcd9 197.5px,#309fd9 201.5px,#3457ab 208.5px,#2c358c 223.5px,#2d3e98 240.5px,#2e439f 260.5px,#314da5 279.5px)"></i>
<i style="background:linear-gradient(90deg,#74c3b9 0.5px,#61bfd1 4.5px,#3cafe1 6.5px,#345daf 10.5px,#2e439f 15.5px,#3467b6 20.5px,#35a8de 23.5px,#45b8e5 24.5px,#71c2c2 27.5px,#74c3bb 30.5px,#40b3e3 35.5px,#328acc 38.5px,#3355aa 44.5px,#3570bb 55.5px,#328bcd 70.5px,#3579c2 88.5px,#38ace0 100.5px,#4cbae0 109.5px,#3bafe1 117.5px,#304ca5 127.5px,#2c368e 136.5px,#3356ab 151.5px,#3576bf 159.5px,#39ade0 164.5px,#72c3be 174.5px,#8cc783 185.5px,#83c597 191.5px,#54bcda 197.5px,#309cd8 201.5px,#3459ad 208.5px,#2c368f 225.5px,#2e429d 239.5px,#2f47a2 251.5px,#2f48a3 272.5px,#314ea6 279.5px)"></i>
<i style="background:linear-gradient(90deg,#78c4b2 0.5px,#71c2c2 3.5px,#40b3e3 6.5px,#2fa2dc 7.5px,#3463b3 10.5px,#2f47a2 15.5px,#356ab8 20.5px,#34a8de 23.5px,#56bcd9 25.5px,#71c2c2 29.5px,#42b6e4 34.5px,#3289cc 37.5px,#3353a9 42.5px,#345bae 50.5px,#309ad6 60.5px,#347cc3 83.5px,#38abe0 99.5px,#4ebadf 109.5px,#3cafe1 117.5px,#356dba 123.5px,#2c3993 132.5px,#314fa7 143.5px,#356bb9 157.5px,#39ade0 164.5px,#71c3c0 176.5px,#83c597 188.5px,#77c3b3 193.5px,#45b8e5 198.5px,#328ccd 202.5px,#3353a9 210.5px,#2c3790 226.5px,#2e429e 240.5px,#2e44a0 260.5px,#314fa7 279.5px)"></i>
<i style="background:linear-gradient(90deg,#79c4ae 0.5px,#73c3bc 3.5px,#46b8e4 6.5px,#3195d3 8.5px,#3457ab 12.5px,#345aad 18.5px,#36aadf 23.5px,#67c0cd 28.5px,#43b6e4 33.5px,#328dce 36.5px,#3253a9 41.5px,#3250a7 48.5px,#2fa0da 60.5px,#347ec4 79.5px,#38ace0 98.5px,#4dbae0 111.5px,#38ace0 118.5px,#304ca5 128.5px,#2d3b95 137.5px,#3575bf 158.5px,#3aade0 164.5px,#70c2c3 178.5px,#7dc4a4 190.5px,#5bbdd5 196.5px,#39ace0 199.5px,#3464b4 206.5px,#2c368f 225.5px,#2e439f 241.5px,#2d409b 262.5px,#314fa7 279.5px)"></i>
<i style="background:linear-gradient(90deg,#7ac4ab 0.5px,#75c3b8 3.5px,#3fb2e3 7.5px,#3191d1 9.5px,#3460b1 13.5px,#3569b7 18.5px,#39ade0 23.5px,#5bbdd6 28.5px,#38abe0 33.5px,#3355aa 40.5px,#304aa4 47.5px,#3098d5 61.5px,#3385c9 79.5px,#3db0e2 98.5px,#4cbae0 115.5px,#309bd7 121.5px,#314da5 129.5px,#2d3e99 138.5px,#347cc3 158.5px,#36a9df 163.5px,#6ac1cb 177.5px,#7bc4aa 190.5px,#57bcd8 196.5px,#35a9df 199.5px,#3466b5 205.5px,#2c368e 224.5px,#2e449f 246.5px,#3049a3 272.5px,#314fa6 279.5px)"></i>
<i style="background:linear-gradient(90deg,#7bc4a9 0.5px,#72c3bf 4.5px,#3eb2e2 8.5px,#347ec5 12.5px,#3576bf 17.5px,#36aadf 22.5px,#4fbade 28.5px,#2fa0da 33.5px,#3354a9 40.5px,#304ba4 48.5px,#328dce 64.5px,#3192d1 80.5px,#4cbae0 108.5px,#46b8e4 118.5px,#3289cc 124.5px,#304ba4 131.5px,#2e45a1 141.5px,#347cc3 157.5px,#39ade0 163.5px,#74c3ba 182.5px,#7ac4ad 190.5px,#53bbdb 196.5px,#32a6dd 199.5px,#3462b2 205.5px,#2c368e 224.5px,#2e45a1 251.5px,#2f49a3 272.5px,#314ea6 279.5px)"></i>
<i style="background:linear-gradient(90deg,#7dc4a4 0.5px,#77c3b4 4.5px,#44b7e5 9.5px,#3194d3 14.5px,#3aade0 21.5px,#49b9e2 27.5px,#3195d3 33.5px,#314fa7 41.5px,#3250a7 51.5px,#328dce 70.5px,#3db1e2 89.5px,#4fbade 119.5px,#2fa1db 124.5px,#3458ac 130.5px,#2e439f 140.5px,#3576c0 155.5px,#39ade0 162.5px,#72c3be 180.5px,#7ac4ac 189.5px,#5bbdd5 195.5px,#39ade0 198.5px,#345eb0 205.5px,#2c368e 223.5px,#2e429e 252.5px,#304ba4 273.5px,#314ea6 279.5px)"></i>
<i style="background:linear-gradient(90deg,#81c59b 0.5px,#79c4af 5.5px,#45b8e5 12.5px,#46b8e4 21.5px,#42b5e4 28.5px,#3385c9 34.5px,#314ca5 42.5px,#3252a8 54.5px,#309bd7 75.5px,#4ebadf 97.5px,#5cbed5 115.5px,#50bbdd 122.5px,#309fd9 126.5px,#3457ab 132.5px,#2f48a3 142.5px,#3573bd 153.5px,#3bafe1 161.5px,#72c3be 177.5px,#7ac4ad 189.5px,#58bdd7 195.5px,#37abdf 198.5px,#345caf 205.5px,#2c368f 222.5px,#2d409c 252.5px,#314ea6 279.5px)"></i>
<i style="background:linear-gradient(90deg,#87c68d 0.5px,#7ec5a2 6.5px,#61bfd1 12.5px,#43b6e4 28.5px,#3388cb 34.5px,#314ca5 42.5px,#314da5 54.5px,#2fa3dc 75.5px,#54bcda 92.5px,#5cbed5 113.5px,#67c0cd 121.5px,#3db0e2 126.5px,#3467b6 132.5px,#304ca5 140.5px,#3569b7 150.5px,#3aade0 159.5px,#71c2c2 171.5px,#7cc4a8 183.5px,#73c3bc 191.5px,#40b3e3 197.5px,#3191d0 200.5px,#3252a8 207.5px,#2c3790 226.5px,#2d3f9a 253.5px,#314fa7 279.5px)"></i>
<i style="background:linear-gradient(90deg,#8ec77e 0.5px,#83c599 8.5px,#69c1cc 17.5px,#3eb1e2 30.5px,#3577c0 36.5px,#2f46a1 44.5px,#3355aa 57.5px,#2fa2db 72.5px,#53bbdb 87.5px,#62bfd0 113.5px,#71c3c1 121.5px,#37abdf 128.5px,#3461b2 135.5px,#3458ac 145.5px,#3098d5 154.5px,#4dbadf 161.5px,#81c59c 175.5px,#72c3bf 191.5px,#41b4e3 197.5px,#3192d1 200.5px,#3456ab 206.5px,#2c3992 223.5px,#304ca5 272.5px,#3251a8 279.5px)"></i>
<i style="background:linear-gradient(90deg,#92c873 0.5px,#87c68e 10.5px,#63bfd0 24.5px,#3baee1 32.5px,#314ea6 42.5px,#2f46a1 52.5px,#357ac2 63.5px,#34a7de 73.5px,#57bcd8 86.5px,#60bfd2 104.5px,#71c2c1 116.5px,#72c3be 122.5px,#40b3e3 128.5px,#3196d4 131.5px,#3466b5 137.5px,#3466b5 146.5px,#37aadf 155.5px,#59bdd7 162.5px,#7ec5a3 171.5px,#84c596 178.5px,#61bfd2 194.5px,#39ade0 198.5px,#3459ad 206.5px,#2d3b95 223.5px,#314ea6 272.5px,#3253a9 279.5px)"></i>
<i style="background:linear-gradient(90deg,#94c96e 0.5px,#87c68e 13.5px,#64c0cf 26.5px,#3eb1e2 33.5px,#3481c6 37.5px,#304ca5 43.5px,#304ba4 53.5px,#39ace0 74.5px,#5dbed4 86.5px,#66c0cd 108.5px,#70c2c4 121.5px,#3aade0 129.5px,#356db9 138.5px,#3573bd 147.5px,#35a9df 154.5px,#5fbed3 163.5px,#80c59e 176.5px,#61bfd1 194.5px,#3cafe1 198.5px,#345eb0 206.5px,#2d3d97 222.5px,#3251a8 273.5px,#3354aa 279.5px)"></i>
<i style="background:linear-gradient(90deg,#93c872 0.5px,#89c68a 14.5px,#68c1cc 27.5px,#38ace0 35.5px,#3457ab 42.5px,#314da6 52.5px,#309ad6 69.5px,#50bbdd 80.5px,#6ec2c7 99.5px,#5fbed3 121.5px,#36aadf 128.5px,#356fbb 139.5px,#347dc4 148.5px,#38ace0 155.5px,#6cc2c9 173.5px,#66c0ce 193.5px,#37abdf 199.5px,#3459ad 208.5px,#2d3e98 227.5px,#3354aa 279.5px)"></i>
<i style="background:linear-gradient(90deg,#8dc780 0.5px,#87c68e 15.5px,#6bc1ca 28.5px,#43b6e4 35.5px,#3196d4 38.5px,#3459ad 44.5px,#3464b4 60.5px,#328fcf 69.5px,#4bbae1 77.5px,#71c2c2 98.5px,#5abdd6 117.5px,#34a7de 124.5px,#356fbb 136.5px,#347dc4 149.5px,#3aade0 158.5px,#4ab9e1 168.5px,#4cbae0 179.5px,#6ac1cb 191.5px,#3cb0e1 199.5px,#3480c6 204.5px,#304ba4 214.5px,#2e429e 248.5px,#3354a9 279.5px)"></i>
<i style="background:linear-gradient(90deg,#81c59b 0.5px,#83c597 16.5px,#6ec2c8 28.5px,#51bbdd 35.5px,#3195d3 40.5px,#3569b7 46.5px,#3465b5 65.5px,#37abdf 73.5px,#63bfd0 82.5px,#70c2c4 107.5px,#4dbadf 116.5px,#3192d1 122.5px,#3467b5 130.5px,#356fbb 148.5px,#39ade0 162.5px,#3195d3 171.5px,#3194d3 177.5px,#48b9e3 183.5px,#68c1cc 190.5px,#3cafe1 200.5px,#3385c9 205.5px,#314da5 215.5px,#2e429e 245.5px,#3252a8 279.5px)"></i>
<i style="background:linear-gradient(90deg,#74c3ba 0.5px,#7fc5a1 16.5px,#6dc2c9 30.5px,#3aaee1 40.5px,#347ec4 49.5px,#3456ab 64.5px,#3482c7 70.5px,#37aadf 73.5px,#66c0ce 80.5px,#6fc2c5 107.5px,#3eb1e2 116.5px,#3386ca 120.5px,#3354aa 128.5px,#356eba 154.5px,#309fd9 164.5px,#3466b5 174.5px,#347dc4 179.5px,#3aade0 183.5px,#65c0ce 190.5px,#38ace0 202.5px,#3354aa 214.5px,#2e429e 232.5px,#3250a7 279.5px)"></i>
<i style="background:linear-gradient(90deg,#66c0cd 0.5px,#77c3b4 18.5px,#58bdd7 39.5px,#35a9de 47.5px,#3354a9 61.5px,#345db0 67.5px,#38abe0 73.5px,#6ac1cb 79.5px,#6bc1ca 108.5px,#3db0e2 115.5px,#3570bb 120.5px,#2f48a3 127.5px,#3465b4 156.5px,#328ccd 164.5px,#3253a9 174.5px,#356ab7 179.5px,#3baee1 184.5px,#63bfd0 190.5px,#37aadf 204.5px,#3355aa 215.5px,#2e44a0 233.5px,#314ea6 279.5px)"></i>
<i style="background:linear-gradient(90deg,#5cbed5 0.5px,#6ec2c8 32.5px,#5abdd6 45.5px,#38ace0 50.5px,#3456ab 60.5px,#345fb0 67.5px,#2fa3dc 72.5px,#54bcdb 75.5px,#70c2c3 81.5px,#65c0ce 109.5px,#38abe0 115.5px,#3353a9 122.5px,#2d3d97 133.5px,#345daf 157.5px,#3480c6 164.5px,#314da5 174.5px,#3462b3 179.5px,#38abe0 184.5px,#61bfd1 190.5px,#3fb3e3 204.5px,#328ccd 209.5px,#3252a8 218.5px,#304aa3 239.5px,#304ca5 279.5px)"></i>
<i style="background:linear-gradient(90deg,#59bdd7 0.5px,#74c3ba 37.5px,#75c3b8 43.5px,#3eb2e2 50.5px,#3387ca 54.5px,#3458ac 62.5px,#3572bd 68.5px,#36aadf 72.5px,#6ec2c8 78.5px,#63bfd0 109.5px,#37aadf 115.5px,#3251a8 122.5px,#2c3992 133.5px,#3356ab 157.5px,#357bc2 165.5px,#3251a8 174.5px,#3568b6 179.5px,#3aade0 184.5px,#61bfd2 190.5px,#46b8e5 204.5px,#328fcf 210.5px,#3457ab 219.5px,#314da5 241.5px,#314da5 274.5px,#304ba4 279.5px)"></i>
<i style="background:linear-gradient(90deg,#5cbed5 0.5px,#55bcd9 17.5px,#6fc2c6 31.5px,#7cc4a7 42.5px,#60bfd2 47.5px,#3db0e2 50.5px,#357ac2 55.5px,#356ab8 63.5px,#328bcd 68.5px,#38ace0 71.5px,#71c2c2 79.5px,#5bbdd5 111.5px,#3aade0 115.5px,#3353a9 122.5px,#2c3992 133.5px,#314fa7 156.5px,#3482c7 165.5px,#3460b1 175.5px,#3385c9 180.5px,#38abe0 183.5px,#61bfd1 190.5px,#4cbae0 204.5px,#3193d2 211.5px,#345eb0 221.5px,#314da5 240.5px,#3354aa 270.5px,#304ba4 279.5px)"></i>
<i style="background:linear-gradient(90deg,#63bfd0 0.5px,#46b8e4 16.5px,#70c2c4 28.5px,#76c3b6 37.5px,#79c4ae 43.5px,#3fb2e3 49.5px,#3387ca 53.5px,#3574be 59.5px,#36aadf 68.5px,#64bfcf 75.5px,#74c3ba 90.5px,#5abdd6 112.5px,#36aadf 116.5px,#3253a9 123.5px,#2d3b95 137.5px,#304ba4 155.5px,#3291d0 166.5px,#3383c8 176.5px,#36aadf 181.5px,#63bfd0 189.5px,#4cbae0 205.5px,#3194d2 213.5px,#3150a7 232.5px,#345cae 260.5px,#345bae 269.5px,#314ea6 279.5px)"></i>
<i style="background:linear-gradient(90deg,#6cc2c9 0.5px,#49b9e3 10.5px,#47b8e4 18.5px,#71c2c1 27.5px,#73c3bb 37.5px,#76c3b5 42.5px,#4cbae0 47.5px,#3290d0 51.5px,#3574be 56.5px,#3baee1 64.5px,#6bc1ca 76.5px,#78c4b0 91.5px,#69c1cc 107.5px,#55bcda 114.5px,#35a9df 117.5px,#3356ab 124.5px,#2d3b95 145.5px,#3457ac 157.5px,#33a7de 167.5px,#49b9e3 180.5px,#69c1cc 190.5px,#4fbade 206.5px,#309ad6 216.5px,#3252a8 236.5px,#3462b2 259.5px,#3569b7 268.5px,#3253a9 279.5px)"></i>
<i style="background:linear-gradient(90deg,#74c3bb 0.5px,#59bdd7 8.5px,#3db1e2 15.5px,#59bdd7 21.5px,#72c3bf 29.5px,#6ac1cb 43.5px,#35a9de 48.5px,#3573be 53.5px,#3382c7 58.5px,#3fb2e3 62.5px,#71c2c2 68.5px,#73c3bc 80.5px,#7ec4a3 91.5px,#6fc2c6 106.5px,#62bfd1 114.5px,#37abdf 118.5px,#345caf 125.5px,#2d409b 147.5px,#3569b7 158.5px,#39ade0 165.5px,#6bc1ca 182.5px,#5fbed2 204.5px,#3cafe1 215.5px,#3290d0 226.5px,#345daf 236.5px,#356bb8 258.5px,#3579c1 267.5px,#345caf 279.5px)"></i>
<i style="background:linear-gradient(90deg,#79c4af 0.5px,#60bed2 8.5px,#41b4e3 15.5px,#73c3bc 27.5px,#5ebed3 43.5px,#36aadf 47.5px,#3572bd 52.5px,#357ac2 57.5px,#32a5dd 60.5px,#5dbed4 63.5px,#7ec5a2 68.5px,#71c3c1 77.5px,#84c694 91.5px,#77c3b3 106.5px,#73c3bd 113.5px,#3aade0 119.5px,#3466b5 126.5px,#2f48a2 146.5px,#356bb8 156.5px,#37abdf 163.5px,#5dbed4 168.5px,#7ac4ac 178.5px,#6fc2c6 202.5px,#3baee1 226.5px,#3573bd 237.5px,#3579c1 257.5px,#3196d4 266.5px,#3570bb 278.5px,#3570bb 279.5px)"></i>
<i style="background:linear-gradient(90deg,#7dc4a5 0.5px,#73c3bc 6.5px,#4cbae0 15.5px,#74c3bb 28.5px,#53bbdb 43.5px,#2fa3dc 47.5px,#356fbb 52.5px,#347bc3 57.5px,#35a8de 60.5px,#53bbdb 62.5px,#7fc5a0 66.5px,#81c59b 70.5px,#74c3ba 77.5px,#89c689 91.5px,#80c59d 108.5px,#77c3b4 114.5px,#45b8e5 119.5px,#3191d0 123.5px,#3465b4 130.5px,#3457ab 147.5px,#328dce 157.5px,#44b7e4 163.5px,#7fc5a0 173.5px,#82c59a 182.5px,#77c3b2 203.5px,#67c0cd 216.5px,#54bcda 227.5px,#2fa2dc 235.5px,#328bcd 253.5px,#3aade0 266.5px,#3191d0 279.5px)"></i>
<i style="background:linear-gradient(90deg,#81c59d 0.5px,#76c3b6 7.5px,#5cbed5 15.5px,#74c3bb 29.5px,#52bbdc 42.5px,#309cd8 47.5px,#3570bb 52.5px,#347ec5 57.5px,#36aadf 60.5px,#53bbdb 62.5px,#7fc5a1 66.5px,#80c59f 71.5px,#78c4b1 78.5px,#8ac687 91.5px,#7fc5a1 113.5px,#47b8e4 120.5px,#309ad6 124.5px,#3570bb 132.5px,#356eba 146.5px,#37abdf 157.5px,#5cbed5 164.5px,#88c68c 176.5px,#84c595 201.5px,#77c3b2 217.5px,#71c2c1 227.5px,#3fb2e2 240.5px,#3db0e2 256.5px,#4fbade 268.5px,#3eb1e2 279.5px)"></i>
<i style="background:linear-gradient(90deg,#84c694 0.5px,#76c3b6 10.5px,#6fc2c6 18.5px,#75c3b7 29.5px,#4dbae0 42.5px,#3191d0 48.5px,#3572bd 53.5px,#3384c9 57.5px,#37abdf 60.5px,#60bfd2 63.5px,#80c59e 68.5px,#7bc4aa 79.5px,#83c597 91.5px,#7cc4a8 113.5px,#40b4e3 122.5px,#3193d2 128.5px,#3481c6 140.5px,#3aade0 151.5px,#70c2c4 165.5px,#89c689 177.5px,#8dc780 200.5px,#77c3b2 230.5px,#4bbae0 246.5px,#6ac1cb 269.5px,#61bfd1 279.5px)"></i>
<i style="background:linear-gradient(90deg,#89c689 0.5px,#7bc4ab 21.5px,#71c3c0 33.5px,#3aade0 45.5px,#347dc4 53.5px,#31a5dd 59.5px,#51bbdc 62.5px,#7ac4ab 67.5px,#78c4b0 87.5px,#6ac1cb 100.5px,#6cc2c9 115.5px,#3baee1 125.5px,#309ed9 138.5px,#52bbdc 149.5px,#78c4b1 161.5px,#92c875 191.5px,#81c59d 220.5px,#5ebed4 243.5px,#76c3b5 260.5px,#7ac4ac 279.5px)"></i>
<i style="background:linear-gradient(90deg,#8fc77c 0.5px,#75c3b9 33.5px,#40b3e3 45.5px,#3191d1 53.5px,#3aaee1 59.5px,#70c2c2 65.5px,#7dc4a4 71.5px,#5dbed4 88.5px,#40b3e3 99.5px,#52bbdc 119.5px,#3cafe1 137.5px,#5bbdd5 145.5px,#87c68f 158.5px,#90c878 201.5px,#84c595 216.5px,#63bfd0 225.5px,#4ebade 238.5px,#76c3b6 254.5px,#86c692 275.5px,#86c691 279.5px)"></i>
<i style="background:linear-gradient(90deg,#94c870 0.5px,#7ec5a2 30.5px,#4bb9e1 45.5px,#37abdf 55.5px,#57bcd8 61.5px,#7dc4a5 70.5px,#72c3c0 79.5px,#3eb2e2 88.5px,#328fcf 95.5px,#3196d4 106.5px,#4cbae0 124.5px,#50bbdd 138.5px,#74c3bb 146.5px,#8fc77b 155.5px,#8cc782 210.5px,#79c4af 217.5px,#4dbadf 223.5px,#309bd7 231.5px,#38abe0 240.5px,#5abdd6 246.5px,#81c59b 261.5px,#89c68a 279.5px)"></i>
<i style="background:linear-gradient(90deg,#99ca62 0.5px,#83c597 30.5px,#58bdd8 46.5px,#50bbdd 56.5px,#7ec5a2 71.5px,#5ebed4 81.5px,#3db1e2 85.5px,#3290d0 89.5px,#3568b6 96.5px,#3579c1 109.5px,#38ace0 118.5px,#57bcd8 130.5px,#72c3bf 143.5px,#91c876 155.5px,#89c68a 211.5px,#77c3b4 216.5px,#46b8e4 221.5px,#3197d4 225.5px,#356db9 232.5px,#3385c9 239.5px,#38abdf 243.5px,#5ebed3 248.5px,#83c598 263.5px,#88c68c 279.5px)"></i>
<i style="background:linear-gradient(90deg,#9fcc53 0.5px,#84c595 33.5px,#69c1cc 48.5px,#73c3bd 62.5px,#7fc5a1 72.5px,#5dbed4 80.5px,#39ace0 84.5px,#3463b3 92.5px,#3356ab 103.5px,#328acc 115.5px,#3db0e2 120.5px,#63bfd0 129.5px,#72c3be 141.5px,#8cc783 156.5px,#8dc780 181.5px,#85c693 212.5px,#5cbed4 218.5px,#3aaee1 221.5px,#3461b2 229.5px,#345cae 236.5px,#3193d2 242.5px,#48b9e3 246.5px,#76c3b6 254.5px,#86c691 269.5px,#86c690 279.5px)"></i>
<i style="background:linear-gradient(90deg,#a6cd44 0.5px,#88c68b 34.5px,#7ac4ac 49.5px,#7cc4a7 74.5px,#4fbade 81.5px,#3191d1 86.5px,#3457ac 93.5px,#3458ac 107.5px,#328ece 116.5px,#43b6e4 121.5px,#6bc1ca 129.5px,#7bc4aa 152.5px,#7ac4ab 167.5px,#87c68e 182.5px,#85c692 212.5px,#5bbdd6 218.5px,#38abe0 221.5px,#3463b3 228.5px,#345aad 236.5px,#3192d1 242.5px,#4bbae1 246.5px,#77c3b2 253.5px,#88c68b 267.5px,#88c68d 279.5px)"></i>
<i style="background:linear-gradient(90deg,#b3d23d 0.5px,#9ecb57 17.5px,#86c691 48.5px,#7fc5a0 69.5px,#7ac4ad 75.5px,#3eb1e2 83.5px,#328bcd 87.5px,#3457ab 95.5px,#3464b4 108.5px,#2fa0da 117.5px,#53bbdb 122.5px,#72c3c0 130.5px,#75c3b7 146.5px,#48b9e3 162.5px,#73c3bc 178.5px,#87c68d 191.5px,#8cc783 211.5px,#76c3b5 216.5px,#40b3e3 221.5px,#328ccd 225.5px,#3572bd 231.5px,#3482c7 239.5px,#37abdf 243.5px,#6dc2c9 248.5px,#87c68e 255.5px,#90c77a 271.5px,#8fc77c 279.5px)"></i>
<i style="background:linear-gradient(90deg,#bfd636 0.5px,#9fcc53 19.5px,#8dc77f 46.5px,#85c694 59.5px,#80c59f 70.5px,#78c4b2 76.5px,#3fb3e3 84.5px,#3383c8 90.5px,#3568b7 99.5px,#3389cb 111.5px,#3baee1 117.5px,#71c2c2 126.5px,#77c3b3 143.5px,#42b5e4 152.5px,#3194d3 159.5px,#3194d3 169.5px,#45b8e5 177.5px,#81c59c 187.5px,#93c872 207.5px,#8bc784 214.5px,#53bcdb 221.5px,#309cd8 226.5px,#328dce 236.5px,#3cafe1 242.5px,#61bfd1 245.5px,#8ec77e 251.5px,#99ca64 265.5px,#98c966 279.5px)"></i>
<i style="background:linear-gradient(90deg,#cad92f 0.5px,#a0cc50 21.5px,#86c691 59.5px,#7bc4aa 76.5px,#43b7e4 86.5px,#3197d4 94.5px,#30a4dc 108.5px,#50bbde 117.5px,#76c3b5 128.5px,#78c4b0 142.5px,#50bbdd 148.5px,#3195d3 153.5px,#356eba 160.5px,#3577c0 173.5px,#35a8de 179.5px,#51bbdd 182.5px,#85c694 189.5px,#98ca66 204.5px,#93c873 215.5px,#59bdd7 225.5px,#38abe0 232.5px,#4cbae0 239.5px,#76c3b6 243.5px,#96c96a 248.5px,#a3cc4a 258.5px,#a2cc4d 279.5px)"></i>
<i style="background:linear-gradient(90deg,#d4dd29 0.5px,#b5d23b 17.5px,#9aca61 34.5px,#83c597 68.5px,#7bc4aa 78.5px,#5abdd6 88.5px,#51bbdc 104.5px,#77c3b2 131.5px,#7bc4aa 142.5px,#56bcd9 147.5px,#33a7de 150.5px,#356dba 156.5px,#3467b6 173.5px,#3191d0 179.5px,#4cbae0 183.5px,#86c691 189.5px,#9aca60 199.5px,#9dcb58 214.5px,#8dc781 234.5px,#b0d13e 249.5px,#b2d13d 279.5px)"></i>
<i style="background:linear-gradient(90deg,#dadf27 0.5px,#bbd438 18.5px,#9ccb5a 34.5px,#87c68f 62.5px,#83c598 78.5px,#7ac4ad 92.5px,#7bc4a9 135.5px,#81c59b 142.5px,#5dbed4 147.5px,#36a9df 150.5px,#356cb9 156.5px,#3467b5 173.5px,#3191d1 179.5px,#50bbdd 183.5px,#7fc5a1 187.5px,#95c96c 192.5px,#a6cd45 207.5px,#bdd536 228.5px,#c2d734 262.5px,#c0d635 279.5px)"></i>
<i style="background:linear-gradient(90deg,#d9df27 0.5px,#b2d13d 24.5px,#8ac688 57.5px,#89c689 79.5px,#91c877 100.5px,#7ac4ac 132.5px,#8dc781 142.5px,#7ac4ab 146.5px,#47b8e4 150.5px,#3099d6 153.5px,#356dba 159.5px,#3575bf 173.5px,#38abe0 179.5px,#6ac1cb 183.5px,#92c875 188.5px,#a7ce44 200.5px,#bfd635 220.5px,#e9e521 236.5px,#c7d831 274.5px,#c7d830 279.5px)"></i>
<i style="background:linear-gradient(90deg,#d7de28 0.5px,#b1d13e 29.5px,#8ac687 58.5px,#88c68d 77.5px,#9ecb57 96.5px,#7bc4aa 131.5px,#97c968 143.5px,#89c689 147.5px,#61bfd1 151.5px,#3eb2e2 154.5px,#328ccd 161.5px,#309ad6 171.5px,#4dbae0 177.5px,#77c3b4 181.5px,#96c969 186.5px,#a8ce43 196.5px,#c3d733 219.5px,#f2e81e 235.5px,#c7d831 269.5px,#c8d930 279.5px)"></i>
<i style="background:linear-gradient(90deg,#d6de28 0.5px,#bfd635 29.5px,#8ec77d 53.5px,#69c1cc 68.5px,#74c3b9 76.5px,#9fcc53 90.5px,#a0cc52 98.5px,#8ec77e 110.5px,#7dc4a6 131.5px,#a2cc4e 144.5px,#8fc77c 150.5px,#6cc2c9 155.5px,#50bbdd 164.5px,#71c2c2 174.5px,#9dcb59 184.5px,#aed040 194.5px,#c7d830 220.5px,#e7e422 236.5px,#c4d732 268.5px,#c5d832 279.5px)"></i>
<i style="background:linear-gradient(90deg,#dadf27 0.5px,#ccda2d 30.5px,#9dcb58 49.5px,#84c596 58.5px,#62bfd0 64.5px,#53bbdb 72.5px,#73c3bb 78.5px,#9ccb5b 87.5px,#aacf42 94.5px,#8fc77b 110.5px,#84c595 127.5px,#87c68f 134.5px,#abcf41 143.5px,#a1cc50 151.5px,#90c77a 160.5px,#9bca5d 176.5px,#b1d13e 189.5px,#c9d930 224.5px,#c8d930 247.5px,#bed536 279.5px)"></i>
<i style="background:linear-gradient(90deg,#dfe125 0.5px,#d6dd29 34.5px,#a1cc4e 54.5px,#71c2c2 68.5px,#77c3b3 74.5px,#a7ce44 87.5px,#b1d13e 96.5px,#94c96f 110.5px,#8ec77d 128.5px,#8fc77c 135.5px,#b7d33a 145.5px,#b7d33a 279.5px)"></i>
<i style="background:linear-gradient(90deg,#e7e422 0.5px,#dbdf27 47.5px,#9fcb53 70.5px,#c6d831 94.5px,#9ecb57 109.5px,#9aca61 127.5px,#94c96f 136.5px,#bad438 148.5px,#cdda2d 170.5px,#b6d33b 209.5px,#a3cc4b 245.5px,#b1d13e 274.5px,#b1d13e 279.5px)"></i>
<i style="background:linear-gradient(90deg,#ede71f 0.5px,#e7e422 57.5px,#d9df27 84.5px,#c7d830 100.5px,#afd03f 115.5px,#a0cc51 130.5px,#9bca5f 139.5px,#cad92f 156.5px,#bbd438 181.5px,#abcf41 217.5px,#98ca65 230.5px,#99ca63 246.5px,#b0d13f 256.5px,#add040 279.5px)"></i>
<i style="background:linear-gradient(90deg,#f7eb1b 0.5px,#eee71f 80.5px,#b6d33b 129.5px,#a1cc4f 142.5px,#c8d930 162.5px,#b2d13d 207.5px,#a3cc4a 218.5px,#90c879 227.5px,#8ec77d 245.5px,#afd03f 255.5px,#accf41 279.5px)"></i>
<i style="background:linear-gradient(90deg,#fbe41a 0.5px,#fbe81a 73.5px,#ccda2e 128.5px,#a7ce44 143.5px,#c2d733 162.5px,#a9ce43 216.5px,#89c689 227.5px,#85c694 244.5px,#aed040 254.5px,#afd03f 279.5px)"></i>
<i style="background:linear-gradient(90deg,#fbd719 0.5px,#fbda19 72.5px,#f0e81e 113.5px,#b8d33a 131.5px,#a3cc4a 142.5px,#c4d732 163.5px,#aed040 215.5px,#85c692 228.5px,#85c693 244.5px,#b1d13e 254.5px,#b8d33a 264.5px,#b8d33a 279.5px)"></i>
<i style="background:linear-gradient(90deg,#fcca18 0.5px,#fcc618 61.5px,#f0e81e 116.5px,#a6cd44 128.5px,#8dc781 136.5px,#94c870 143.5px,#bcd537 153.5px,#d0db2b 168.5px,#b1d13e 214.5px,#8ec77f 222.5px,#78c4b1 229.5px,#7dc4a6 241.5px,#b5d23c 255.5px,#c6d831 279.5px)"></i>
<i style="background:linear-gradient(90deg,#fab31a 0.5px,#f89f1c 48.5px,#f3e91d 118.5px,#a4cd48 129.5px,#8ec77d 136.5px,#96c969 143.5px,#bfd635 151.5px,#e0e224 163.5px,#bfd636 211.5px,#9ecb56 217.5px,#6cc1ca 226.5px,#59bdd7 236.5px,#71c3c1 242.5px,#a6cd44 253.5px,#cbda2e 264.5px,#d6dd29 279.5px)"></i>
<i style="background:linear-gradient(90deg,#f68f1e 0.5px,#f57f1f 51.5px,#fab01a 84.5px,#f1e81e 125.5px,#c4d733 139.5px,#f0e81e 164.5px,#cbda2e 211.5px,#a0cc52 218.5px,#6dc2c9 227.5px,#5cbed4 236.5px,#73c3bd 241.5px,#a4cd47 251.5px,#d4dd29 265.5px,#dde026 279.5px)"></i>
<i style="background:linear-gradient(90deg,#f36f21 0.5px,#f05b23 47.5px,#f7981d 89.5px,#fbe91a 146.5px,#e1e224 209.5px,#afd03f 221.5px,#90c77a 232.5px,#9aca5f 241.5px,#c2d734 251.5px,#e0e125 279.5px)"></i>
<i style="background:linear-gradient(90deg,#ed4724 0.5px,#e93226 47.5px,#f05923 76.5px,#fcd419 147.5px,#f0e81e 208.5px,#c9d930 238.5px,#dde026 266.5px,#dfe125 279.5px)"></i>
<i style="background:linear-gradient(90deg,#e72827 0.5px,#e82d26 74.5px,#f57d1f 113.5px,#fccc18 156.5px,#f1e81e 225.5px,#dde026 279.5px)"></i>
<i style="background:linear-gradient(90deg,#e42227 0.5px,#e82d26 89.5px,#fab21a 152.5px,#f5ea1c 242.5px,#dee125 279.5px)"></i>
<i style="background:linear-gradient(90deg,#e02127 0.5px,#e82d26 110.5px,#f9a41b 167.5px,#fbd919 221.5px,#eee71f 267.5px,#e5e323 279.5px)"></i>
<i style="background:linear-gradient(90deg,#de2127 0.5px,#e82c26 129.5px,#f47a20 159.5px,#fccf19 226.5px,#f1e81e 276.5px,#eee71f 279.5px)"></i>
<i style="background:linear-gradient(90deg,#dc2127 0.5px,#e82c26 141.5px,#f37221 180.5px,#fccb18 241.5px,#f9eb1b 279.5px)"></i>
<i style="background:linear-gradient(90deg,#da2127 0.5px,#e82c26 157.5px,#fcd519 267.5px,#fbe31a 279.5px)"></i>
<i style="background:linear-gradient(90deg,#d82127 0.5px,#e82c26 183.5px,#fcd619 279.5px)"></i>
<i style="background:linear-gradient(90deg,#d72027 0.5px,#e82c26 202.5px,#faad1a 267.5px,#fcc818 279.5px)"></i>
<i style="background:linear-gradient(90deg,#d52027 0.5px,#e82c26 223.5px,#faae1a 279.5px)"></i>
<i style="background:linear-gradient(90deg,#d42027 0.5px,#e82d26 244.5px,#f68b1e 279.5px)"></i>
<i style="background:linear-gradient(90deg,#d32027 0.5px,#e82b26 259.5px,#f36b21 279.5px)"></i>
<i style="background:linear-gradient(90deg,#d12027 0.5px,#e72a26 271.5px,#ec4125 279.5px)"></i>
<i style="background:linear-gradient(90deg,#d02027 0.5px,#e72627 279.5px)"></i>
<i style="background:linear-gradient(90deg,#cf2027 0.5px,#e32227 279.5px)"></i>
<i style="background:linear-gradient(90deg,#cd2026 0.5px,#df2127 279.5px)"></i>
<i style="background:linear-gradient(90deg,#cc1f26 0.5px,#dd2127 279.5px)"></i>
</div>
<div class="p" style="left:424px;top:3px;width:279px;height:258px">
<i style="background:linear-gradient(90deg,#fccf19 0.5px,#fab31a 1.5px,#f47b20 2.5px,#f16122 3.5px,#f16122 4.5px,#f47b20 5.5px,#fab31a 6.5px,#f9eb1b 8.5px,#b1d13e 10.5px,#7bc4ab 12.5px,#45b8e5 14.5px,#328dce 16.5px,#3253a9 20.5px,#3353a9 29.5px,#3387ca 31.5px,#3db1e2 32.5px,#6dc2c9 33.5px,#93c872 34.5px,#add040 35.5px,#ece620 37.5px,#fbd919 39.5px,#fcca18 41.5px,#f7ea1c 44.5px,#a4cd47 47.5px,#fbe61a 50.5px,#f9a31b 52.5px,#f36c21 53.5px,#ea3925 56.5px,#ed4824 58.5px,#f36c21 60.5px,#fcce19 62.5px,#fbe61a 63.5px,#e7e422 64.5px,#bdd536 65.5px,#9aca60 66.5px,#73c3bc 67.5px,#3fb2e2 68.5px,#345fb1 70.5px,#3354a9 72.5px,#3574be 73.5px,#3fb2e2 74.5px,#74c3bb 75.5px,#81c59d 76.5px,#6fc2c5 78.5px,#7ac4ad 79.5px,#b5d23b 81.5px,#e6e422 82.5px,#fbd719 83.5px,#f89e1c 85.5px,#f7971d 87.5px,#f1e81e 91.5px,#d1dc2b 92.5px,#f2e81e 93.5px,#fcc118 95.5px,#f26822 97.5px,#ed4a24 99.5px,#f36a21 101.5px,#fcc818 103.5px,#fbe21a 104.5px,#eee71f 105.5px,#a0cc52 107.5px,#7dc4a4 108.5px,#4ab9e2 109.5px,#3192d1 110.5px,#3568b6 111.5px,#3253a9 112.5px,#356bb8 120.5px,#328bcc 123.5px,#3389cb 125.5px,#42b5e4 126.5px,#77c3b4 127.5px,#9ccb5b 128.5px,#eae521 130.5px,#fbe41a 131.5px,#fccb18 132.5px,#f36b21 134.5px,#ee5124 136.5px,#f5821f 138.5px,#fbbc19 139.5px,#f4e91d 141.5px,#a7ce44 143.5px,#58bdd8 145.5px,#309ed9 146.5px,#356fbb 147.5px,#3459ad 148.5px,#3573bd 149.5px,#30a4dc 150.5px,#5ebed3 151.5px,#8ec77e 152.5px,#accf41 153.5px,#f7eb1b 155.5px,#fbb519 157.5px,#f47c20 158.5px,#f16122 159.5px,#f16122 160.5px,#f47c20 161.5px,#faab1a 162.5px,#f26222 164.5px,#f05c23 165.5px,#f37021 166.5px,#fcd019 168.5px,#fbe81a 169.5px,#bbd438 171.5px,#99ca64 172.5px,#71c2c1 173.5px,#3db0e2 174.5px,#3482c7 175.5px,#52bbdb 176.5px,#a4cd47 177.5px,#fbeb1a 178.5px,#fcc218 179.5px,#fcc618 182.5px,#f7981d 184.5px,#f7941d 185.5px,#efe71f 188.5px,#b5d23b 189.5px,#4fbade 191.5px,#328ecf 192.5px,#3463b3 193.5px,#3253a9 195.5px,#3253a9 205.5px,#3569b7 206.5px,#3194d2 207.5px,#4ebade 208.5px,#a5cd45 210.5px,#dbe026 211.5px,#fbe21a 212.5px,#fab01a 214.5px,#fcbd18 216.5px,#efe71f 218.5px,#a6cd45 220.5px,#86c690 221.5px,#b7d33a 223.5px,#fbe91a 225.5px,#f9a81b 227.5px,#f37021 228.5px,#f15d23 229.5px,#f26822 230.5px,#fccb18 232.5px,#fbe41a 233.5px,#eae521 234.5px,#9ccb5b 236.5px,#76c3b5 237.5px,#41b5e4 238.5px,#3461b2 240.5px,#3253a9 243.5px,#3458ac 246.5px,#3579c1 247.5px,#3cafe1 248.5px,#78c4b0 249.5px,#a4cd48 250.5px,#e3e323 251.5px,#fcd019 252.5px,#f7941d 254.5px,#f7981d 255.5px,#fbe51a 257.5px,#c5d832 258.5px,#5bbdd5 260.5px,#34a8de 261.5px,#3463b3 263.5px,#3253a9 265.5px,#345fb1 266.5px,#3db1e2 268.5px,#70c2c3 269.5px,#97c967 270.5px,#b8d33a 271.5px,#fbeb1a 273.5px,#fab11a 275.5px,#f57d1f 276.5px,#ee5123 278.5px)"></i>
<i style="background:linear-gradient(90deg,#fccb18 0.5px,#f36a21 2.5px,#f05823 4.5px,#f36a21 5.5px,#fccb18 7.5px,#fbe41a 8.5px,#eae521 9.5px,#9ccb5b 11.5px,#7ac4ac 12.5px,#45b8e5 14.5px,#328dce 16.5px,#3253a9 20.5px,#3253a9 28.5px,#3462b2 29.5px,#3db0e2 31.5px,#6dc2c9 32.5px,#93c871 33.5px,#b0d13f 34.5px,#f5ea1c 36.5px,#fcc218 38.5px,#f47720 40.5px,#f37121 41.5px,#faac1a 43.5px,#fbe41a 45.5px,#c9d930 47.5px,#c6d831 48.5px,#eee71f 49.5px,#fbe019 50.5px,#fcc518 51.5px,#f68b1e 52.5px,#ef5323 54.5px,#e93526 56.5px,#ec4325 58.5px,#f26622 60.5px,#f68b1e 61.5px,#fcc518 62.5px,#fbe019 63.5px,#eee71f 64.5px,#9fcb55 66.5px,#7ac4ac 67.5px,#44b7e5 68.5px,#328bcd 69.5px,#3463b3 70.5px,#3253a9 71.5px,#3458ac 72.5px,#328ece 73.5px,#6ac1ca 74.5px,#9aca61 75.5px,#a0cc52 76.5px,#7cc4a7 78.5px,#7ec4a4 79.5px,#b3d23d 81.5px,#e4e323 82.5px,#fbda19 83.5px,#f8a21c 85.5px,#f89a1c 87.5px,#f1e81e 91.5px,#e5e323 92.5px,#fbe81a 93.5px,#f9a71b 95.5px,#f37121 96.5px,#ec4225 99.5px,#f47a20 102.5px,#fab41a 103.5px,#f7eb1b 105.5px,#accf41 107.5px,#8ec77d 108.5px,#5fbed2 109.5px,#30a4dd 110.5px,#3356ab 112.5px,#3463b3 119.5px,#3194d3 122.5px,#328acc 124.5px,#3197d4 125.5px,#51bbdd 126.5px,#a3cd49 128.5px,#f2e91d 130.5px,#fcbe18 132.5px,#f5831f 133.5px,#ee5123 135.5px,#ed4b24 136.5px,#f47420 138.5px,#fcd319 140.5px,#fbec1a 141.5px,#b3d23d 143.5px,#93c872 144.5px,#67c0cd 145.5px,#35a9df 146.5px,#3577c0 147.5px,#3461b2 148.5px,#347cc3 149.5px,#39ade0 150.5px,#6dc2c9 151.5px,#97c969 152.5px,#b8d339 153.5px,#fbe91a 155.5px,#f9a61b 157.5px,#f36f21 158.5px,#f05a23 159.5px,#f05a23 160.5px,#f36f21 161.5px,#f89c1c 162.5px,#f37221 163.5px,#ef5423 165.5px,#f26622 166.5px,#fcc518 168.5px,#fbe119 169.5px,#eee71f 170.5px,#9fcc53 172.5px,#7cc4a8 173.5px,#47b9e4 174.5px,#328ecf 175.5px,#52bbdb 176.5px,#a4cd48 177.5px,#fbeb1a 178.5px,#fcc218 179.5px,#fcc818 182.5px,#f89b1c 184.5px,#f7981d 185.5px,#fccd19 187.5px,#ece620 188.5px,#b2d13d 189.5px,#4dbadf 191.5px,#328dce 192.5px,#3462b3 193.5px,#3253a9 195.5px,#3253a9 205.5px,#3194d2 207.5px,#4ebadf 208.5px,#a5cd46 210.5px,#fbe41a 212.5px,#fab21a 214.5px,#fcc018 216.5px,#efe71f 218.5px,#abcf42 220.5px,#8ac688 221.5px,#bfd635 223.5px,#e9e521 224.5px,#fbe51a 225.5px,#fccc18 226.5px,#f26822 228.5px,#f05923 229.5px,#f26522 230.5px,#f6891e 231.5px,#fcc518 232.5px,#fbe019 233.5px,#eee71f 234.5px,#9fcc53 236.5px,#7cc4a7 237.5px,#47b9e3 238.5px,#328ecf 239.5px,#3465b5 240.5px,#3253a9 242.5px,#3460b1 246.5px,#347bc2 247.5px,#3bafe1 248.5px,#77c3b2 249.5px,#a3cc4b 250.5px,#e1e224 251.5px,#fcd319 252.5px,#f7981d 254.5px,#f89c1c 255.5px,#fbe81a 257.5px,#c0d635 258.5px,#59bdd7 260.5px,#36aadf 261.5px,#3253a9 264.5px,#3354aa 265.5px,#309dd8 267.5px,#55bcd9 268.5px,#a4cd47 270.5px,#f2e91d 272.5px,#fcc018 274.5px,#f26622 276.5px,#ec4524 278.5px)"></i>
<i style="background:linear-gradient(90deg,#fcc518 0.5px,#f6891e 1.5px,#ef5223 3.5px,#f26522 5.5px,#f6891e 6.5px,#fcc518 7.5px,#fbe019 8.5px,#eee71f 9.5px,#9fcb55 11.5px,#7ac4ac 12.5px,#5fbed3 13.5px,#43b7e4 14.5px,#30a4dd 15.5px,#3467b6 18.5px,#3253a9 21.5px,#3457ac 28.5px,#32a6dd 30.5px,#60bfd2 31.5px,#8ec77e 32.5px,#aacf42 33.5px,#f4e91d 35.5px,#fcc118 37.5px,#f36a21 39.5px,#ee5024 41.5px,#f37321 43.5px,#fcce19 45.5px,#fbe51a 46.5px,#cfdb2c 48.5px,#fbe019 50.5px,#fcc518 51.5px,#f6891e 52.5px,#ee5123 54.5px,#e93326 56.5px,#ec4225 58.5px,#f26522 60.5px,#f6891e 61.5px,#fcc518 62.5px,#fbe019 63.5px,#eee71f 64.5px,#9fcb55 66.5px,#7ac4ac 67.5px,#44b7e5 68.5px,#328bcd 69.5px,#3463b3 70.5px,#3253a9 71.5px,#3460b1 72.5px,#31a5dd 73.5px,#8bc785 74.5px,#c2d733 75.5px,#c9d930 76.5px,#a0cc53 77.5px,#85c692 78.5px,#7dc4a4 79.5px,#a8ce43 81.5px,#fbe71a 83.5px,#faaf1a 85.5px,#f9a51b 87.5px,#fbdc19 90.5px,#f1e81e 92.5px,#fcc018 94.5px,#f26622 96.5px,#eb3c25 99.5px,#f36e21 102.5px,#fccf19 104.5px,#fbe81a 105.5px,#b9d439 107.5px,#97c967 108.5px,#6fc2c7 109.5px,#3baee1 110.5px,#345cae 112.5px,#3464b3 119.5px,#309fd9 122.5px,#328fd0 124.5px,#3098d5 125.5px,#52bbdc 126.5px,#a4cd46 128.5px,#f4e91d 130.5px,#fbb919 132.5px,#f47b20 133.5px,#ee4d24 135.5px,#ed4724 136.5px,#f36a21 138.5px,#fcce19 140.5px,#fbe71a 141.5px,#e5e422 142.5px,#bad438 143.5px,#98ca66 144.5px,#6fc2c6 145.5px,#3baee1 146.5px,#347ec4 147.5px,#3465b5 148.5px,#3fb2e3 150.5px,#73c3bb 151.5px,#9bca5f 152.5px,#bed536 153.5px,#e8e521 154.5px,#fbe61a 155.5px,#fccd19 156.5px,#f26822 158.5px,#ef5623 160.5px,#f26822 161.5px,#f7941d 162.5px,#f26822 163.5px,#ee5024 165.5px,#f5801f 167.5px,#fbbb19 168.5px,#f3e91d 170.5px,#a4cd47 172.5px,#52bbdc 174.5px,#3198d5 175.5px,#43b6e4 176.5px,#97c968 177.5px,#e1e224 178.5px,#fbda19 179.5px,#fcc018 183.5px,#f9a81b 185.5px,#fbdb19 187.5px,#dfe125 188.5px,#a5cd46 189.5px,#7fc5a2 190.5px,#44b7e5 191.5px,#345fb1 193.5px,#3253a9 198.5px,#3355aa 205.5px,#3194d3 207.5px,#4dbadf 208.5px,#a2cc4c 210.5px,#fbec1a 212.5px,#fbbc19 214.5px,#fcc918 216.5px,#fbe31a 217.5px,#d6dd29 219.5px,#afd03f 220.5px,#8dc781 221.5px,#9fcb55 222.5px,#eee71f 224.5px,#fbe019 225.5px,#fcc518 226.5px,#f6891e 227.5px,#f26522 228.5px,#ef5623 229.5px,#f5801f 231.5px,#fbbb19 232.5px,#f3e91d 234.5px,#a4cd47 236.5px,#52bbdc 238.5px,#3198d5 239.5px,#356bb8 240.5px,#3253a9 241.5px,#345daf 244.5px,#3197d5 246.5px,#41b4e3 247.5px,#63bfd0 248.5px,#9fcb54 250.5px,#d7de28 251.5px,#fbdf19 252.5px,#f9a81b 254.5px,#faac1a 255.5px,#f2e81e 257.5px,#b4d23c 258.5px,#55bcd9 260.5px,#37abdf 261.5px,#3353a9 264.5px,#345daf 265.5px,#3bafe1 267.5px,#6fc2c6 268.5px,#97c968 269.5px,#b8d339 270.5px,#fbe91a 272.5px,#f9a91b 274.5px,#f37221 275.5px,#eb3d25 278.5px)"></i>
<i style="background:linear-gradient(90deg,#fcc518 0.5px,#f6891e 1.5px,#ee5123 3.5px,#f26522 5.5px,#f6891e 6.5px,#fcc518 7.5px,#fbe019 8.5px,#eee71f 9.5px,#9fcb55 11.5px,#7ac4ac 12.5px,#5abdd6 13.5px,#41b4e3 14.5px,#2fa3dc 15.5px,#3467b6 18.5px,#3253a9 22.5px,#3253a9 27.5px,#3467b6 28.5px,#3290d0 29.5px,#48b9e3 30.5px,#7bc4a9 31.5px,#9fcb55 32.5px,#ebe620 34.5px,#fbe31a 35.5px,#fcca18 36.5px,#f36c21 38.5px,#ec4225 41.5px,#f47b20 44.5px,#fab31a 45.5px,#f9eb1b 47.5px,#dee125 48.5px,#fbe019 50.5px,#fcc518 51.5px,#f68b1e 52.5px,#ef5323 54.5px,#e93526 56.5px,#ec4325 58.5px,#f26622 60.5px,#f68b1e 61.5px,#fcc518 62.5px,#fbe019 63.5px,#eee71f 64.5px,#9fcb55 66.5px,#7ac4ac 67.5px,#44b7e5 68.5px,#328bcd 69.5px,#3463b3 70.5px,#3253a9 71.5px,#3466b5 72.5px,#3eb1e2 73.5px,#9bca5d 74.5px,#e4e323 75.5px,#e6e422 76.5px,#aed040 77.5px,#88c68b 78.5px,#78c3b2 79.5px,#84c596 80.5px,#c0d635 82.5px,#e9e521 83.5px,#fcc818 85.5px,#fcc218 88.5px,#fbe61a 90.5px,#e7e422 91.5px,#f9eb1b 92.5px,#fab11a 94.5px,#f47720 95.5px,#eb3e25 98.5px,#ea3725 99.5px,#f26722 102.5px,#fcc918 104.5px,#fbe21a 105.5px,#ece620 106.5px,#9ecb57 108.5px,#78c4b0 109.5px,#43b6e4 110.5px,#3462b3 112.5px,#345aae 117.5px,#3573bd 120.5px,#33a7de 122.5px,#33a7de 123.5px,#3193d2 124.5px,#3098d5 125.5px,#52bbdc 126.5px,#a4cd46 128.5px,#f4e91d 130.5px,#fbb919 132.5px,#f47b20 133.5px,#ee4d24 135.5px,#ec4624 136.5px,#f26822 138.5px,#fcce19 140.5px,#fbe71a 141.5px,#e5e422 142.5px,#bad438 143.5px,#98ca66 144.5px,#6fc2c6 145.5px,#3baee1 146.5px,#347ec4 147.5px,#3467b6 148.5px,#328bcd 149.5px,#44b7e5 150.5px,#7ac4ac 151.5px,#9fcb55 152.5px,#eee71f 154.5px,#fbe019 155.5px,#fcc518 156.5px,#f68b1e 157.5px,#ef5323 159.5px,#f26622 161.5px,#f6871e 162.5px,#ef5623 164.5px,#ee4e24 165.5px,#f47b20 167.5px,#fbb919 168.5px,#f4e91d 170.5px,#a4cd46 172.5px,#52bbdc 174.5px,#3098d5 175.5px,#31a5dd 176.5px,#7cc4a8 177.5px,#b1d13e 178.5px,#e2e224 179.5px,#fbeb1a 181.5px,#fcc618 185.5px,#f1e81e 187.5px,#c4d732 188.5px,#98ca65 189.5px,#6fc2c6 190.5px,#39ace0 191.5px,#345aad 193.5px,#3356ab 204.5px,#3196d4 206.5px,#46b8e4 207.5px,#71c3c0 208.5px,#91c877 209.5px,#a6cd44 210.5px,#ede71f 212.5px,#fccc18 215.5px,#f8eb1b 217.5px,#d6dd29 219.5px,#b1d13e 220.5px,#8fc77c 221.5px,#9fcb55 222.5px,#eee71f 224.5px,#fbe019 225.5px,#fcc518 226.5px,#f6891e 227.5px,#ef5423 229.5px,#f47b20 231.5px,#fbb919 232.5px,#f4e91d 234.5px,#a4cd46 236.5px,#52bbdc 238.5px,#3098d5 239.5px,#356cb9 240.5px,#3356ab 241.5px,#3356ab 242.5px,#40b3e3 245.5px,#69c1cc 246.5px,#9fcc53 248.5px,#d2dc2a 250.5px,#faec1a 252.5px,#fcc518 254.5px,#fcca18 255.5px,#fbe31a 256.5px,#9fcc53 259.5px,#68c0cd 261.5px,#3eb1e2 262.5px,#3569b7 264.5px,#3568b6 265.5px,#3191d1 266.5px,#4ab9e1 267.5px,#a0cc50 269.5px,#efe71f 271.5px,#fcc618 273.5px,#f26622 275.5px,#ea3625 278.5px)"></i>
<i style="background:linear-gradient(90deg,#fcc718 0.5px,#f26622 2.5px,#ef5423 4.5px,#f26622 5.5px,#fcc718 7.5px,#fbe119 8.5px,#ede71f 9.5px,#9ecb55 11.5px,#7ac4ad 12.5px,#55bcda 13.5px,#2fa1db 15.5px,#345aad 19.5px,#345aad 26.5px,#347dc4 28.5px,#32a6dd 29.5px,#61bfd1 30.5px,#8fc77b 31.5px,#add040 32.5px,#f8eb1b 34.5px,#fbb519 36.5px,#f47c20 37.5px,#eb4025 40.5px,#ea3925 41.5px,#f26922 44.5px,#fcc718 46.5px,#eee71f 48.5px,#e8e521 49.5px,#fbe61a 50.5px,#f9a31b 52.5px,#f36c21 53.5px,#ea3a25 56.5px,#ed4824 58.5px,#f36c21 60.5px,#fcce19 62.5px,#fbe61a 63.5px,#e7e422 64.5px,#bdd536 65.5px,#9aca60 66.5px,#73c3bc 67.5px,#3fb2e2 68.5px,#345fb1 70.5px,#3253a9 71.5px,#3568b6 72.5px,#42b5e4 73.5px,#a1cc50 74.5px,#f0e81e 75.5px,#f1e81e 76.5px,#b3d23d 77.5px,#85c694 78.5px,#6cc1ca 79.5px,#72c3be 80.5px,#a1cc4e 82.5px,#e7e422 84.5px,#fbea1a 85.5px,#fbda19 88.5px,#e5e323 91.5px,#fbe71a 92.5px,#f9a31b 94.5px,#f36c21 95.5px,#e93426 99.5px,#f26522 102.5px,#f6891e 103.5px,#fcc518 104.5px,#fbe019 105.5px,#eee71f 106.5px,#9fcb55 108.5px,#7ac4ac 109.5px,#44b7e5 110.5px,#328bcd 111.5px,#3463b3 112.5px,#3464b4 119.5px,#3bafe1 122.5px,#3baee1 123.5px,#3197d4 124.5px,#3098d5 125.5px,#52bbdc 126.5px,#a4cd46 128.5px,#f4e91d 130.5px,#fbb919 132.5px,#f47b20 133.5px,#ee4d24 135.5px,#ed4724 136.5px,#f36a21 138.5px,#fcce19 140.5px,#fbe71a 141.5px,#e5e422 142.5px,#bad438 143.5px,#98ca66 144.5px,#6fc2c6 145.5px,#3baee1 146.5px,#347ec4 147.5px,#3467b6 148.5px,#328bcd 149.5px,#44b7e5 150.5px,#7ac4ac 151.5px,#9fcb55 152.5px,#eee71f 154.5px,#fbe019 155.5px,#fcc518 156.5px,#f6891e 157.5px,#ee5123 159.5px,#f26522 161.5px,#f5851f 162.5px,#ef5623 164.5px,#ee4e24 165.5px,#f47b20 167.5px,#fbb919 168.5px,#f4e91d 170.5px,#a4cd46 172.5px,#52bbdc 174.5px,#3098d5 175.5px,#328cce 176.5px,#53bcdb 177.5px,#8dc781 178.5px,#abcf42 179.5px,#e8e521 182.5px,#fbe91a 185.5px,#cedb2c 187.5px,#a3cc4a 188.5px,#56bcd9 190.5px,#309dd8 191.5px,#3355aa 193.5px,#3355aa 203.5px,#3198d5 205.5px,#4dbadf 206.5px,#9dcb5a 208.5px,#e0e125 210.5px,#fbe019 212.5px,#fbd719 215.5px,#f1e81e 217.5px,#d6de28 219.5px,#b4d23c 220.5px,#91c877 221.5px,#9fcb55 222.5px,#eee71f 224.5px,#fbe019 225.5px,#fcc518 226.5px,#f6891e 227.5px,#ef5423 229.5px,#f47b20 231.5px,#fbb919 232.5px,#f4e91d 234.5px,#a4cd46 236.5px,#52bbdc 238.5px,#3098d5 239.5px,#3460b1 241.5px,#3572bd 242.5px,#309dd8 243.5px,#4fbade 244.5px,#7bc4aa 245.5px,#9aca60 246.5px,#dadf27 248.5px,#fbe31a 250.5px,#fbb819 253.5px,#fcd319 256.5px,#f2e81e 258.5px,#b4d23c 260.5px,#98ca65 261.5px,#78c4b1 262.5px,#4ab9e1 263.5px,#3198d5 264.5px,#3577c0 265.5px,#2fa0da 266.5px,#5abdd6 267.5px,#a9ce43 269.5px,#f6ea1c 271.5px,#fbb719 273.5px,#f47c20 274.5px,#e93126 278.5px)"></i>
<i style="background:linear-gradient(90deg,#fcd019 0.5px,#f37021 2.5px,#f05c23 3.5px,#f05c23 4.5px,#f37021 5.5px,#fcd019 7.5px,#fbe91a 8.5px,#bad439 10.5px,#98ca66 11.5px,#70c2c4 12.5px,#3db1e2 14.5px,#3389cc 16.5px,#3353a9 20.5px,#345daf 24.5px,#3eb1e2 27.5px,#71c2c1 29.5px,#bfd636 32.5px,#e8e521 33.5px,#fbe51a 34.5px,#f9a21b 36.5px,#f36c21 37.5px,#e93226 41.5px,#f47a20 45.5px,#fab41a 46.5px,#f7eb1b 48.5px,#e2e224 49.5px,#f7eb1b 50.5px,#fbb619 52.5px,#f57f1f 53.5px,#ec4325 56.5px,#ee5123 58.5px,#f57f1f 60.5px,#fbb619 61.5px,#f7eb1b 63.5px,#add040 65.5px,#8fc77b 66.5px,#61bfd1 67.5px,#32a5dd 68.5px,#3356ab 70.5px,#3253a9 71.5px,#3467b5 72.5px,#3db0e2 73.5px,#9aca60 74.5px,#e3e323 75.5px,#e5e323 76.5px,#a6cd45 77.5px,#79c4af 78.5px,#56bcd9 79.5px,#58bdd8 80.5px,#71c2c2 81.5px,#a0cc51 83.5px,#d5dd29 85.5px,#efe71f 88.5px,#e0e125 90.5px,#fbe21a 92.5px,#fcc918 93.5px,#f26722 95.5px,#e93326 99.5px,#f26522 102.5px,#f6891e 103.5px,#fcc518 104.5px,#fbe019 105.5px,#eee71f 106.5px,#9fcb55 108.5px,#7ac4ac 109.5px,#44b7e5 110.5px,#328bcd 111.5px,#3463b3 112.5px,#3465b5 119.5px,#3578c1 120.5px,#2fa2db 121.5px,#46b8e5 122.5px,#45b8e5 123.5px,#309fd9 124.5px,#3197d4 125.5px,#51bbdd 126.5px,#a3cd49 128.5px,#f2e91d 130.5px,#fcbe18 132.5px,#f5831f 133.5px,#ee5123 135.5px,#ed4b24 136.5px,#f47420 138.5px,#fcd319 140.5px,#fbec1a 141.5px,#b3d23d 143.5px,#93c872 144.5px,#67c0cd 145.5px,#35a9df 146.5px,#3577c0 147.5px,#3466b5 148.5px,#328bcd 149.5px,#44b7e5 150.5px,#7ac4ac 151.5px,#9fcb55 152.5px,#eee71f 154.5px,#fbe019 155.5px,#fcc518 156.5px,#f68b1e 157.5px,#ef5323 159.5px,#f26622 161.5px,#f6871e 162.5px,#ef5723 164.5px,#ee5024 165.5px,#f5801f 167.5px,#fbbb19 168.5px,#f3e91d 170.5px,#a4cd47 172.5px,#52bbdc 174.5px,#3198d5 175.5px,#3577c0 176.5px,#35a9de 177.5px,#64c0cf 178.5px,#8ac688 179.5px,#9dcb59 180.5px,#d3dc2a 183.5px,#d7de28 185.5px,#a6cd44 187.5px,#90c878 188.5px,#6fc2c7 189.5px,#40b3e3 190.5px,#3569b7 192.5px,#3253a9 202.5px,#3463b3 203.5px,#41b4e3 205.5px,#75c3b9 206.5px,#9aca60 207.5px,#bbd438 208.5px,#fbea1a 210.5px,#fab31a 212.5px,#f6861e 213.5px,#f57f1f 214.5px,#fbe119 217.5px,#d7de28 219.5px,#b7d33a 220.5px,#93c873 221.5px,#9fcb55 222.5px,#eee71f 224.5px,#fbe019 225.5px,#fcc518 226.5px,#f6891e 227.5px,#ef5423 229.5px,#f47b20 231.5px,#fbb919 232.5px,#f4e91d 234.5px,#a4cd46 236.5px,#52bbdc 238.5px,#3098d5 239.5px,#3572bd 241.5px,#309ed9 242.5px,#54bcdb 243.5px,#a0cc52 245.5px,#e6e422 247.5px,#fbea1a 248.5px,#fbb919 250.5px,#f37021 252.5px,#f26422 254.5px,#f68f1e 256.5px,#fcd719 258.5px,#fbec1a 259.5px,#bdd536 261.5px,#9ccb5c 262.5px,#79c4ae 263.5px,#48b9e3 264.5px,#3195d3 265.5px,#35a9df 266.5px,#67c0cd 267.5px,#93c872 268.5px,#b3d23d 269.5px,#fbec1a 271.5px,#faac1a 273.5px,#f37321 274.5px,#e82d26 278.5px)"></i>
<i style="background:linear-gradient(90deg,#fbdd19 0.5px,#fcc218 1.5px,#f36b21 3.5px,#f36b21 4.5px,#fcc218 6.5px,#f3e91d 8.5px,#a6cd45 10.5px,#64c0cf 12.5px,#3eb1e2 14.5px,#328ccd 16.5px,#3353a9 20.5px,#3355aa 22.5px,#40b3e3 25.5px,#69c1cc 26.5px,#9ecb56 28.5px,#c6d831 30.5px,#d9df27 32.5px,#f2e81e 33.5px,#fcc018 35.5px,#f5851f 36.5px,#ef5223 38.5px,#e82d26 41.5px,#f36e21 45.5px,#fccf19 47.5px,#fbe81a 48.5px,#e5e422 49.5px,#e6e422 50.5px,#fbe81a 51.5px,#faad1a 53.5px,#f47b20 54.5px,#ef5423 56.5px,#f26322 58.5px,#f47b20 59.5px,#fcd119 61.5px,#fbe81a 62.5px,#bed536 64.5px,#9ccb5c 65.5px,#78c4b0 66.5px,#45b8e5 67.5px,#328ecf 68.5px,#3466b5 69.5px,#3253a9 71.5px,#3462b2 72.5px,#30a4dc 73.5px,#88c68d 74.5px,#bed536 75.5px,#c2d734 76.5px,#95c96c 77.5px,#62bfd1 78.5px,#3eb2e2 79.5px,#4dbadf 81.5px,#6cc1ca 82.5px,#98ca66 84.5px,#a5cd45 85.5px,#cbda2e 88.5px,#cad92f 90.5px,#eee71f 91.5px,#fbe019 92.5px,#fcc518 93.5px,#f6891e 94.5px,#ee5123 96.5px,#e93326 99.5px,#f26522 102.5px,#f6891e 103.5px,#fcc518 104.5px,#fbe019 105.5px,#eee71f 106.5px,#9fcb55 108.5px,#7ac4ac 109.5px,#44b7e5 110.5px,#328bcd 111.5px,#3463b3 112.5px,#3569b7 119.5px,#38ace0 121.5px,#58bdd7 122.5px,#57bcd8 123.5px,#35a9de 124.5px,#3389cb 125.5px,#42b5e4 126.5px,#77c3b4 127.5px,#9ccb5b 128.5px,#eae521 130.5px,#fbe41a 131.5px,#fccb18 132.5px,#f36b21 134.5px,#ef5223 136.5px,#f5821f 138.5px,#fbbc19 139.5px,#f4e91d 141.5px,#a7ce44 143.5px,#58bdd8 145.5px,#309ed9 146.5px,#356fbb 147.5px,#3461b2 148.5px,#3fb2e3 150.5px,#73c3bb 151.5px,#9bca5f 152.5px,#bed536 153.5px,#e8e521 154.5px,#fbe61a 155.5px,#fccd19 156.5px,#f26822 158.5px,#ef5623 160.5px,#f26822 161.5px,#f8991c 162.5px,#f05c23 164.5px,#ef5423 165.5px,#f26622 166.5px,#fcc518 168.5px,#fbe119 169.5px,#eee71f 170.5px,#9fcc53 172.5px,#7cc4a8 173.5px,#47b9e4 174.5px,#328ecf 175.5px,#3570bc 176.5px,#3193d2 177.5px,#42b5e4 178.5px,#68c1cc 179.5px,#95c96d 181.5px,#accf41 183.5px,#b0d13e 185.5px,#a2cc4d 186.5px,#94c870 187.5px,#58bdd8 189.5px,#35a8de 190.5px,#35a9df 192.5px,#309dd8 196.5px,#3355aa 201.5px,#3354aa 202.5px,#356bb8 203.5px,#3197d5 204.5px,#51bbdc 205.5px,#a4cd48 207.5px,#f3e91d 209.5px,#fbbd19 211.5px,#f5831f 212.5px,#f26422 213.5px,#f15e22 214.5px,#f47420 215.5px,#fcd219 217.5px,#fbea1a 218.5px,#bbd438 220.5px,#96c96b 221.5px,#9fcb55 222.5px,#eee71f 224.5px,#fbe019 225.5px,#fcc518 226.5px,#f6891e 227.5px,#f26522 228.5px,#ef5623 229.5px,#f5801f 231.5px,#fbbb19 232.5px,#f3e91d 234.5px,#a4cd47 236.5px,#52bbdc 238.5px,#31a5dd 239.5px,#3193d2 241.5px,#4ab9e2 242.5px,#7cc4a8 243.5px,#9ecb56 244.5px,#e8e422 246.5px,#fbe71a 247.5px,#faac1a 249.5px,#f47b20 250.5px,#ec4624 253.5px,#f26522 256.5px,#f5811f 257.5px,#fcd619 259.5px,#faec1a 260.5px,#b7d33a 262.5px,#98ca66 263.5px,#71c3c0 264.5px,#3fb2e2 265.5px,#3cafe1 266.5px,#70c2c3 267.5px,#98ca64 268.5px,#bbd438 269.5px,#e6e422 270.5px,#fbe71a 271.5px,#f8a11c 273.5px,#f36a21 274.5px,#e72a26 278.5px)"></i>
<i style="background:linear-gradient(90deg,#f4e91d 0.5px,#fbb919 3.5px,#fccb18 5.5px,#f4e91d 7.5px,#afd03f 9.5px,#75c3b8 11.5px,#42b5e4 14.5px,#3191d1 16.5px,#3354aa 20.5px,#3354aa 21.5px,#3193d2 23.5px,#47b8e4 24.5px,#77c3b2 25.5px,#99ca62 26.5px,#b7d33a 27.5px,#f2e81e 29.5px,#fcd719 34.5px,#fab41a 35.5px,#f47920 36.5px,#e83026 40.5px,#e72827 41.5px,#f26622 45.5px,#fcc718 47.5px,#fbe119 48.5px,#cfdb2c 50.5px,#fbea1a 52.5px,#fcbe18 54.5px,#f7971d 55.5px,#f5851f 57.5px,#f7971d 58.5px,#fcd619 60.5px,#fbea1a 61.5px,#c3d733 63.5px,#a0cc52 64.5px,#51bbdc 66.5px,#309bd7 67.5px,#3355aa 69.5px,#345aad 72.5px,#328bcd 73.5px,#63bfd0 74.5px,#94c96f 75.5px,#97c968 76.5px,#77c3b4 77.5px,#41b4e3 78.5px,#309bd7 79.5px,#31a5dd 81.5px,#43b6e4 82.5px,#78c4b2 84.5px,#96c96b 86.5px,#a7ce44 89.5px,#eee71f 91.5px,#fbe019 92.5px,#fcc518 93.5px,#f6891e 94.5px,#ee5123 96.5px,#e93326 98.5px,#ec4225 100.5px,#f26522 102.5px,#f6891e 103.5px,#fcc518 104.5px,#fbe019 105.5px,#eee71f 106.5px,#9fcb55 108.5px,#7ac4ac 109.5px,#44b7e5 110.5px,#328bcd 111.5px,#3464b3 112.5px,#3571bc 119.5px,#3290d0 120.5px,#45b8e5 121.5px,#6ec2c8 122.5px,#6dc2c9 123.5px,#42b5e4 124.5px,#309ad6 125.5px,#3eb1e2 126.5px,#65c0ce 127.5px,#90c77a 128.5px,#add040 129.5px,#f6ea1c 131.5px,#fbbc19 133.5px,#f26822 135.5px,#f16122 136.5px,#f47620 137.5px,#fcd019 139.5px,#fbe81a 140.5px,#bed536 142.5px,#9bca5d 143.5px,#76c3b5 144.5px,#42b5e4 145.5px,#3463b3 147.5px,#345daf 148.5px,#39ade0 150.5px,#6dc2c9 151.5px,#97c969 152.5px,#b8d339 153.5px,#fbe91a 155.5px,#f9a61b 157.5px,#f36f21 158.5px,#f05a23 159.5px,#f05a23 160.5px,#f36f21 161.5px,#f9a21b 162.5px,#f26322 164.5px,#f05c23 165.5px,#f37021 166.5px,#fcd019 168.5px,#fbe81a 169.5px,#bbd438 171.5px,#99ca64 172.5px,#71c2c1 173.5px,#3db0e2 174.5px,#3482c7 175.5px,#356fbb 176.5px,#34a8de 178.5px,#4ebadf 179.5px,#6dc2c9 180.5px,#90c878 182.5px,#9dcb59 184.5px,#94c96f 186.5px,#6fc2c7 188.5px,#64bfcf 189.5px,#91c876 192.5px,#95c96d 194.5px,#86c690 196.5px,#43b6e4 199.5px,#309fd9 200.5px,#347cc3 201.5px,#3480c6 202.5px,#3bafe1 204.5px,#5cbed5 205.5px,#a4cd46 207.5px,#f4e91d 209.5px,#fbb919 211.5px,#f47b20 212.5px,#f05823 214.5px,#f26822 215.5px,#fcce19 217.5px,#fbe71a 218.5px,#c1d634 220.5px,#98ca65 221.5px,#9bca5d 222.5px,#e9e521 224.5px,#fbe51a 225.5px,#fccc18 226.5px,#f26822 228.5px,#f05923 229.5px,#f26522 230.5px,#f6891e 231.5px,#fcc518 232.5px,#fbe019 233.5px,#eee71f 234.5px,#9fcc53 236.5px,#7cc4a7 237.5px,#47b9e3 238.5px,#3cafe1 241.5px,#6ec2c8 242.5px,#95c96b 243.5px,#b5d23c 244.5px,#faec1a 246.5px,#fab11a 248.5px,#f47b20 249.5px,#ed4924 252.5px,#ef5523 256.5px,#f6871e 258.5px,#fcbe18 259.5px,#f4e91d 261.5px,#a6cd44 263.5px,#59bdd7 265.5px,#45b8e5 266.5px,#79c4ae 267.5px,#9ecb56 268.5px,#ede620 270.5px,#fbe21a 271.5px,#fcc818 272.5px,#f26722 274.5px,#e72727 278.5px)"></i>
<i style="background:linear-gradient(90deg,#c3d733 0.5px,#ece620 2.5px,#ece620 5.5px,#a4cd47 8.5px,#83c597 10.5px,#4bbae0 14.5px,#309bd7 16.5px,#3355aa 20.5px,#3462b2 21.5px,#3fb2e2 23.5px,#71c3c0 24.5px,#98ca66 25.5px,#b7d33a 26.5px,#faec1a 28.5px,#fbb919 30.5px,#f68f1e 31.5px,#f6881e 32.5px,#fcc818 34.5px,#f9ab1b 35.5px,#f37221 36.5px,#e62527 41.5px,#f26322 45.5px,#f5821f 46.5px,#fbbd19 47.5px,#f3e91d 49.5px,#b8d339 51.5px,#fbea1a 54.5px,#fbda19 57.5px,#fbea1a 59.5px,#b3d23d 62.5px,#99ca62 63.5px,#7bc4aa 64.5px,#52bbdc 65.5px,#42b5e4 66.5px,#3195d3 67.5px,#3568b6 68.5px,#3253a9 69.5px,#3354aa 72.5px,#3571bc 73.5px,#37aadf 74.5px,#63bfd0 75.5px,#69c1cb 76.5px,#46b8e4 77.5px,#3198d5 78.5px,#347dc4 79.5px,#3386c9 81.5px,#3aade0 83.5px,#64c0cf 85.5px,#8cc783 88.5px,#c6d831 90.5px,#eee71f 91.5px,#fbe019 92.5px,#fcc518 93.5px,#f6891e 94.5px,#ee5123 96.5px,#e93326 98.5px,#ef5323 101.5px,#f68b1e 103.5px,#fcc518 104.5px,#fbe019 105.5px,#eee71f 106.5px,#9fcb55 108.5px,#7ac4ac 109.5px,#44b7e5 110.5px,#328bcd 111.5px,#3465b4 112.5px,#347fc5 119.5px,#2fa3dc 120.5px,#5abdd6 121.5px,#7ec5a2 122.5px,#7ec4a3 123.5px,#66c0cd 124.5px,#8dc780 126.5px,#a1cc4f 129.5px,#f7ea1c 132.5px,#f8991c 136.5px,#fbe61a 139.5px,#c7d830 141.5px,#a2cc4d 142.5px,#54bcda 144.5px,#309ed9 145.5px,#3570bc 146.5px,#345eb0 147.5px,#3573bd 149.5px,#30a4dc 150.5px,#5ebed3 151.5px,#8ec77e 152.5px,#accf41 153.5px,#f7eb1b 155.5px,#fbb519 157.5px,#f47c20 158.5px,#f16122 159.5px,#f16122 160.5px,#f47c20 161.5px,#fab31a 162.5px,#f9a51b 163.5px,#f37321 164.5px,#f36b21 165.5px,#fcc118 167.5px,#f3e91d 169.5px,#a6cd45 171.5px,#59bdd7 173.5px,#2fa0da 174.5px,#3571bc 175.5px,#328acc 177.5px,#30a4dd 178.5px,#44b7e5 179.5px,#85c693 182.5px,#94c96f 184.5px,#8ec77f 186.5px,#81c59d 187.5px,#a2cc4b 189.5px,#dadf27 192.5px,#d9df27 195.5px,#a2cc4b 198.5px,#91c877 199.5px,#73c3be 200.5px,#4dbadf 201.5px,#5dbed4 202.5px,#9ccb5c 205.5px,#b5d23b 207.5px,#f4e91d 209.5px,#fbba19 211.5px,#f57e1f 212.5px,#f16222 213.5px,#f05b23 214.5px,#f36e21 215.5px,#fccf19 217.5px,#fbe81a 218.5px,#c7d831 220.5px,#9aca5f 221.5px,#96c96b 222.5px,#b7d33a 223.5px,#fbe91a 225.5px,#f9a81b 227.5px,#f37021 228.5px,#f15e23 229.5px,#f26822 230.5px,#fccb18 232.5px,#fbe41a 233.5px,#eae521 234.5px,#9ccb5b 236.5px,#76c3b5 237.5px,#41b5e4 238.5px,#55bcda 241.5px,#a4cd47 243.5px,#f2e81e 245.5px,#fcc118 247.5px,#f26622 249.5px,#ef5423 251.5px,#f5821f 254.5px,#f15d23 257.5px,#f37021 258.5px,#fcd019 260.5px,#fbe81a 261.5px,#bbd438 263.5px,#99ca64 264.5px,#71c2c1 265.5px,#4dbadf 266.5px,#7ac4ac 267.5px,#9fcb55 268.5px,#eee71f 270.5px,#fbe019 271.5px,#fcc518 272.5px,#f6891e 273.5px,#ee5123 275.5px,#e62427 278.5px)"></i>
<i style="background:linear-gradient(90deg,#b6d33b 0.5px,#d5dd29 4.5px,#a6cd44 7.5px,#5bbdd5 14.5px,#44b7e5 15.5px,#328fcf 17.5px,#3459ad 20.5px,#3571bc 21.5px,#2fa1db 22.5px,#5bbdd5 23.5px,#a8ce43 25.5px,#f4e91d 27.5px,#fbbd19 29.5px,#f26622 31.5px,#f16022 32.5px,#f47420 33.5px,#f9aa1b 34.5px,#f8a01c 35.5px,#f26822 36.5px,#e62227 41.5px,#f16022 45.5px,#f47b20 46.5px,#fbb719 47.5px,#f6ea1c 49.5px,#a9ce42 51.5px,#9ccb5a 52.5px,#ccda2d 55.5px,#ccda2d 58.5px,#aacf42 60.5px,#99ca63 61.5px,#60bed2 63.5px,#3fb3e3 64.5px,#48b9e3 66.5px,#3099d6 67.5px,#3568b7 68.5px,#3253a9 69.5px,#3460b1 73.5px,#2fa3dc 75.5px,#33a7de 76.5px,#3569b7 79.5px,#3579c1 82.5px,#2fa1db 84.5px,#4ab9e1 86.5px,#5cbdd5 87.5px,#7ac4ac 88.5px,#9fcb55 89.5px,#eee71f 91.5px,#fbe019 92.5px,#fcc518 93.5px,#f6891e 94.5px,#ee5123 96.5px,#e93326 98.5px,#f26822 102.5px,#fccd19 104.5px,#fbe61a 105.5px,#e8e521 106.5px,#bed536 107.5px,#9bca5f 108.5px,#73c3bb 109.5px,#3fb2e3 110.5px,#3465b5 112.5px,#3383c7 118.5px,#3fb3e3 120.5px,#6fc2c5 121.5px,#8cc782 122.5px,#93c871 123.5px,#bbd438 125.5px,#dfe125 127.5px,#d6dd29 132.5px,#fbe81a 135.5px,#efe71f 138.5px,#bbd438 140.5px,#9dcb58 141.5px,#57bcd9 143.5px,#2fa3dc 144.5px,#3576bf 145.5px,#3464b4 148.5px,#3568b7 149.5px,#3290d0 150.5px,#48b9e3 151.5px,#7bc4a9 152.5px,#9fcb55 153.5px,#ebe620 155.5px,#fbe41a 156.5px,#fccb18 157.5px,#f37021 159.5px,#f37021 160.5px,#fccb18 162.5px,#fcd119 163.5px,#fbb919 165.5px,#f5ea1c 168.5px,#b3d23d 170.5px,#95c96d 171.5px,#6ec2c8 172.5px,#3cafe1 173.5px,#3382c7 174.5px,#3572bd 175.5px,#34a7de 178.5px,#45b8e5 179.5px,#72c3bf 181.5px,#8cc782 183.5px,#92c874 185.5px,#8fc77d 186.5px,#c0d635 188.5px,#f6ea1c 190.5px,#fccf19 194.5px,#f6ea1c 197.5px,#a4cd48 200.5px,#90c879 201.5px,#b3d23c 203.5px,#f1e81e 206.5px,#fbe31a 210.5px,#f9a31b 212.5px,#f47420 213.5px,#f36d21 214.5px,#f68b1e 215.5px,#fcbe18 216.5px,#f4e91d 218.5px,#ebe620 219.5px,#cedb2d 220.5px,#9ecb57 221.5px,#8cc782 222.5px,#aacf42 223.5px,#f6ea1c 225.5px,#fbb719 227.5px,#f57f1f 228.5px,#f26522 229.5px,#f47720 230.5px,#fcd419 232.5px,#fbec1a 233.5px,#b3d23c 235.5px,#93c871 236.5px,#68c1cc 237.5px,#39ade0 238.5px,#60bfd2 239.5px,#6cc2c9 241.5px,#95c96c 242.5px,#b6d33b 243.5px,#fbea1a 245.5px,#f9ab1b 247.5px,#f47420 248.5px,#ef5723 250.5px,#f6891e 252.5px,#fbba19 253.5px,#fccd19 254.5px,#fab01a 255.5px,#f47a20 256.5px,#f16222 257.5px,#f26622 258.5px,#fcc318 260.5px,#f0e81e 262.5px,#a1cc4e 264.5px,#80c59f 265.5px,#5cbed5 266.5px,#a3cc4a 268.5px,#f1e81e 270.5px,#fcc018 272.5px,#f5851f 273.5px,#ee5123 275.5px,#e62427 278.5px)"></i>
<i style="background:linear-gradient(90deg,#fbec1a 0.5px,#fbdc19 4.5px,#eae521 7.5px,#b1d13e 10.5px,#92c873 12.5px,#86c690 15.5px,#46b8e5 18.5px,#31a5dd 19.5px,#3388cb 20.5px,#3384c8 21.5px,#3cafe1 22.5px,#70c2c4 23.5px,#98ca66 24.5px,#bad439 25.5px,#fbe91a 27.5px,#f9a61b 29.5px,#f36f21 30.5px,#ef5423 32.5px,#f89f1c 35.5px,#f26822 36.5px,#e62227 41.5px,#f37321 46.5px,#fcd419 48.5px,#faec1a 49.5px,#afd03f 51.5px,#90c77a 52.5px,#8ac688 56.5px,#78c4b0 59.5px,#4dbae0 61.5px,#3099d6 63.5px,#4fbade 65.5px,#4dbadf 66.5px,#309cd8 67.5px,#3568b7 68.5px,#3253a9 69.5px,#3354aa 73.5px,#3576bf 76.5px,#3458ac 80.5px,#328ecf 85.5px,#309ed9 86.5px,#44b7e5 87.5px,#7ac4ac 88.5px,#9fcb55 89.5px,#eee71f 91.5px,#fbe019 92.5px,#fcc518 93.5px,#f68b1e 94.5px,#ef5323 96.5px,#e93526 98.5px,#f37221 102.5px,#fcd219 104.5px,#fbea1a 105.5px,#b6d33b 107.5px,#95c96d 108.5px,#6ac1cb 109.5px,#38abe0 110.5px,#357ac2 111.5px,#3465b5 112.5px,#36aadf 119.5px,#57bcd8 120.5px,#9dcb58 122.5px,#dee125 124.5px,#fbe119 126.5px,#fcca18 129.5px,#f6ea1c 132.5px,#bed536 135.5px,#a9ce42 138.5px,#89c68a 140.5px,#69c1cb 141.5px,#48b9e3 142.5px,#30a4dd 143.5px,#3572bd 146.5px,#3465b4 149.5px,#3576bf 150.5px,#32a6dd 151.5px,#5ebed3 152.5px,#a5cd45 154.5px,#eee71f 156.5px,#fcd119 158.5px,#fbbc19 159.5px,#fbbc19 160.5px,#fbe41a 162.5px,#dde026 167.5px,#a4cd47 169.5px,#90c879 170.5px,#6ec2c8 171.5px,#40b3e3 172.5px,#3577c0 174.5px,#3aade0 178.5px,#61bfd1 180.5px,#8dc780 183.5px,#95c96e 185.5px,#a2cc4d 186.5px,#ebe620 188.5px,#fbe51a 189.5px,#f47520 193.5px,#f6881e 195.5px,#fbe019 198.5px,#f3e91d 199.5px,#b7d33a 201.5px,#fbe71a 204.5px,#f9a81b 208.5px,#fbd919 211.5px,#fcc118 214.5px,#f5ea1c 217.5px,#f1e81e 219.5px,#d4dd29 220.5px,#a2cc4d 221.5px,#81c59c 222.5px,#9ccb5b 223.5px,#e7e422 225.5px,#fbe81a 226.5px,#f6891e 229.5px,#fbe21a 232.5px,#d1dc2b 234.5px,#accf41 235.5px,#94c870 236.5px,#74c3bb 237.5px,#4bbae1 238.5px,#6dc2c8 239.5px,#6bc1ca 240.5px,#7bc4a9 241.5px,#9fcb54 242.5px,#ede71f 244.5px,#fbe21a 245.5px,#fcc818 246.5px,#f26722 248.5px,#f05723 249.5px,#f47c20 251.5px,#fab41a 252.5px,#fcd619 253.5px,#fbe019 254.5px,#fcc818 255.5px,#f26722 257.5px,#f16122 258.5px,#f47b20 259.5px,#fbb919 260.5px,#f5e91d 262.5px,#a6cd44 264.5px,#63bfd0 266.5px,#a4cd46 268.5px,#f4e91d 270.5px,#fbb919 272.5px,#f47b20 273.5px,#e83026 277.5px,#e62227 278.5px)"></i>
<i style="background:linear-gradient(90deg,#faac1a 0.5px,#f6881e 3.5px,#f8a11c 5.5px,#fbe81a 9.5px,#d5dd29 11.5px,#cdda2d 15.5px,#a4cd46 17.5px,#5fbed3 20.5px,#3cb0e1 21.5px,#46b8e4 22.5px,#7bc4ab 23.5px,#9fcb54 24.5px,#ede71f 26.5px,#fbe119 27.5px,#fcc718 28.5px,#f26622 30.5px,#ee4e24 32.5px,#f68a1e 35.5px,#ef5323 37.5px,#e62227 41.5px,#f37221 46.5px,#fcd419 48.5px,#faec1a 49.5px,#afd03f 51.5px,#92c875 52.5px,#90c878 54.5px,#53bbdb 58.5px,#31a4dd 60.5px,#3388cb 62.5px,#36aadf 64.5px,#53bbdb 65.5px,#52bbdc 66.5px,#309ed9 67.5px,#3568b6 68.5px,#3253a9 69.5px,#345eb0 83.5px,#3384c8 86.5px,#3fb2e3 87.5px,#73c3bb 88.5px,#9bca5f 89.5px,#bed536 90.5px,#e8e521 91.5px,#fbe61a 92.5px,#fccd19 93.5px,#f26822 95.5px,#ea3925 98.5px,#f16222 101.5px,#f57e1f 102.5px,#fbb819 103.5px,#f6ea1c 105.5px,#a9ce43 107.5px,#5abdd6 109.5px,#2fa0da 110.5px,#3570bc 111.5px,#3467b5 112.5px,#36aadf 118.5px,#4ab9e2 119.5px,#7bc4aa 120.5px,#9dcb59 121.5px,#e7e422 123.5px,#fbe81a 124.5px,#fab41a 126.5px,#f37121 128.5px,#f37121 129.5px,#fbe81a 133.5px,#c0d635 135.5px,#9fcb55 136.5px,#6fc2c5 140.5px,#3eb1e2 143.5px,#3192d1 145.5px,#3465b4 149.5px,#3462b3 150.5px,#34a8de 152.5px,#5ebed3 153.5px,#9fcb53 155.5px,#d8de28 157.5px,#f2e81e 160.5px,#d8de28 162.5px,#a5cd45 164.5px,#98ca65 167.5px,#8ac687 168.5px,#70c2c3 169.5px,#50bbdd 170.5px,#36a9df 171.5px,#3384c8 173.5px,#33a7de 177.5px,#52bbdb 179.5px,#85c692 182.5px,#99ca62 185.5px,#e2e224 187.5px,#fbea1a 188.5px,#f9ab1b 190.5px,#f47420 191.5px,#ee5024 193.5px,#f05b23 195.5px,#f7901d 197.5px,#fcbf18 198.5px,#f8eb1b 200.5px,#e2e224 201.5px,#fbdd19 203.5px,#f8991c 205.5px,#f47420 206.5px,#f15f22 208.5px,#f5841f 210.5px,#fcd119 212.5px,#f5ea1c 214.5px,#e0e224 216.5px,#f5ea1c 219.5px,#dadf27 220.5px,#a8ce43 221.5px,#8ac688 222.5px,#85c692 223.5px,#a2cc4c 224.5px,#e9e521 226.5px,#fbe91a 227.5px,#fcc918 230.5px,#f7ea1c 234.5px,#a1cc4e 237.5px,#88c68d 238.5px,#75c3b8 239.5px,#74c3bb 240.5px,#85c692 241.5px,#a4cd47 242.5px,#f3e91d 244.5px,#fbbb19 246.5px,#f5801f 247.5px,#f05823 249.5px,#f26722 250.5px,#fcc818 252.5px,#fbe21a 253.5px,#fbe71a 254.5px,#fcce19 255.5px,#f26822 257.5px,#f15f22 258.5px,#f47520 259.5px,#fcd419 261.5px,#faec1a 262.5px,#afd03f 264.5px,#90c77a 265.5px,#68c0cc 266.5px,#a4cd46 268.5px,#f4e91d 270.5px,#fbb919 272.5px,#f47b20 273.5px,#e82f26 277.5px,#e62227 278.5px)"></i>
<i style="background:linear-gradient(90deg,#f15f22 0.5px,#ef5623 4.5px,#f47820 7.5px,#fcc718 9.5px,#fbe019 10.5px,#fbd719 14.5px,#f9eb1b 16.5px,#b4d23c 19.5px,#9bca5f 20.5px,#64c0cf 22.5px,#a4cd48 24.5px,#f3e91d 26.5px,#fbbd19 28.5px,#f5821f 29.5px,#ee5024 31.5px,#ed4a24 32.5px,#f6871e 35.5px,#ee5123 37.5px,#e62227 41.5px,#f37221 46.5px,#fcd419 48.5px,#faec1a 49.5px,#afd03f 51.5px,#97c967 52.5px,#96c96a 54.5px,#7fc5a1 56.5px,#6bc1ca 57.5px,#3db0e2 59.5px,#328dce 61.5px,#328bcd 63.5px,#36a9df 64.5px,#56bcd9 65.5px,#55bcda 66.5px,#309ed9 67.5px,#3466b5 68.5px,#3253a9 70.5px,#345caf 85.5px,#3579c1 86.5px,#36aadf 87.5px,#68c1cc 88.5px,#94c870 89.5px,#b4d23c 90.5px,#fbeb1a 92.5px,#faac1a 94.5px,#f47520 95.5px,#eb3e25 98.5px,#f26922 101.5px,#fcca18 103.5px,#fbe31a 104.5px,#ece620 105.5px,#9fcb55 107.5px,#7bc4aa 108.5px,#47b8e4 109.5px,#328ecf 110.5px,#3466b5 111.5px,#37abdf 117.5px,#43b6e4 118.5px,#64bfcf 119.5px,#91c877 120.5px,#b0d13f 121.5px,#f9eb1b 123.5px,#fbb419 125.5px,#f57d1f 126.5px,#ef5223 128.5px,#f26222 130.5px,#f57d1f 131.5px,#fbb419 132.5px,#f9eb1b 134.5px,#b0d13f 136.5px,#93c871 137.5px,#74c3b9 140.5px,#41b4e3 144.5px,#3196d4 149.5px,#3576bf 151.5px,#357ac2 152.5px,#3197d4 153.5px,#42b5e4 154.5px,#68c0cc 155.5px,#95c96c 157.5px,#a3cd49 159.5px,#9fcb55 161.5px,#84c595 163.5px,#68c1cc 164.5px,#4dbae0 166.5px,#65c0cf 169.5px,#36aadf 171.5px,#328bcd 173.5px,#38ace0 177.5px,#58bdd8 179.5px,#7bc4aa 181.5px,#99ca62 184.5px,#9ecb55 185.5px,#ede71f 187.5px,#fbe119 188.5px,#fcc718 189.5px,#f26622 191.5px,#eb3d25 194.5px,#f26822 197.5px,#fcc118 199.5px,#f8eb1b 201.5px,#fcc418 203.5px,#f36b21 205.5px,#ec4424 208.5px,#f47720 211.5px,#fcd119 213.5px,#fbe81a 214.5px,#d9df27 216.5px,#f8eb1b 218.5px,#f7eb1b 219.5px,#dfe125 220.5px,#b2d13d 221.5px,#93c872 222.5px,#96c96a 223.5px,#b4d23c 224.5px,#f7eb1b 226.5px,#fcc118 228.5px,#f47c20 230.5px,#f37321 231.5px,#f5851f 232.5px,#fbe31a 235.5px,#cdda2d 237.5px,#a5cd46 238.5px,#8ac688 239.5px,#79c4af 240.5px,#add040 242.5px,#f8eb1b 244.5px,#fab21a 246.5px,#f47820 247.5px,#f05723 249.5px,#f26822 250.5px,#fcce19 252.5px,#fbe71a 253.5px,#fbe21a 254.5px,#fcc818 255.5px,#f26722 257.5px,#f15d23 258.5px,#f37221 259.5px,#fcd419 261.5px,#faec1a 262.5px,#afd03f 264.5px,#90c77a 265.5px,#68c0cc 266.5px,#a4cd46 268.5px,#f4e91d 270.5px,#fbb919 272.5px,#f47b20 273.5px,#e82f26 277.5px,#e62227 278.5px)"></i>
<i style="background:linear-gradient(90deg,#eb3e25 0.5px,#ea3a25 4.5px,#f37121 8.5px,#fcc918 10.5px,#f47820 13.5px,#fbe81a 18.5px,#cedb2c 20.5px,#aacf42 21.5px,#93c873 22.5px,#89c68a 23.5px,#a4cd46 24.5px,#f4e91d 26.5px,#fbb919 28.5px,#f47b20 29.5px,#ee4d24 31.5px,#ed4924 32.5px,#f6861e 35.5px,#ee5123 37.5px,#e62227 41.5px,#f37221 46.5px,#fcd419 48.5px,#faec1a 49.5px,#afd03f 51.5px,#9dcb59 52.5px,#9dcb59 54.5px,#84c595 56.5px,#6ec2c8 57.5px,#3bafe1 59.5px,#347dc4 62.5px,#3387ca 63.5px,#35a8de 64.5px,#56bcd9 65.5px,#56bcd9 66.5px,#309dd8 67.5px,#3465b4 68.5px,#3253a9 70.5px,#3354a9 85.5px,#309cd7 87.5px,#55bcd9 88.5px,#a5cd46 90.5px,#f3e91d 92.5px,#fcbe18 94.5px,#f5851f 95.5px,#ef5223 97.5px,#ec4624 98.5px,#f47c20 101.5px,#fab41a 102.5px,#f9eb1b 104.5px,#b0d13e 106.5px,#92c875 107.5px,#66c0ce 108.5px,#35a9df 109.5px,#3578c1 110.5px,#3465b4 111.5px,#36aadf 116.5px,#4fbade 118.5px,#6fc2c6 119.5px,#98ca66 120.5px,#bad438 121.5px,#e5e422 122.5px,#fbe71a 123.5px,#f8a21c 125.5px,#f36b21 126.5px,#ed4724 128.5px,#f05823 130.5px,#f36b21 131.5px,#fcce19 133.5px,#fbe71a 134.5px,#e5e422 135.5px,#bad438 136.5px,#7ec5a2 138.5px,#6fc2c6 142.5px,#73c3bd 143.5px,#8bc784 145.5px,#8bc784 148.5px,#52bbdc 151.5px,#38ace0 152.5px,#328fcf 153.5px,#30a4dc 156.5px,#51bbdc 160.5px,#30a4dc 163.5px,#347bc3 165.5px,#2fa0da 166.5px,#53bbdb 167.5px,#73c3bc 168.5px,#75c3b8 169.5px,#3aaee1 171.5px,#328acc 173.5px,#39ace0 177.5px,#59bdd7 179.5px,#7cc4a8 181.5px,#9bca5e 184.5px,#a0cc51 185.5px,#eee71f 187.5px,#fbe019 188.5px,#fcc518 189.5px,#f6891e 190.5px,#ee5123 192.5px,#e93426 194.5px,#f36f21 198.5px,#fccd19 200.5px,#fbe019 201.5px,#fccf19 202.5px,#f37121 204.5px,#ea3626 208.5px,#f57f1f 212.5px,#fbb719 213.5px,#f6ea1c 215.5px,#dfe125 216.5px,#f8eb1b 219.5px,#bed536 221.5px,#9dcb5a 222.5px,#aacf42 223.5px,#f5ea1c 225.5px,#fcbe18 227.5px,#f26822 229.5px,#ee5024 231.5px,#f37121 233.5px,#fccc18 235.5px,#fbe41a 236.5px,#ebe620 237.5px,#a0cc52 239.5px,#80c59f 240.5px,#90c77a 241.5px,#afd03f 242.5px,#faec1a 244.5px,#faad1a 246.5px,#f37221 247.5px,#ef5523 249.5px,#f26722 250.5px,#fcc818 252.5px,#fbe019 253.5px,#fcd619 254.5px,#fab41a 255.5px,#f47c20 256.5px,#f16122 257.5px,#f05b23 258.5px,#f37221 259.5px,#fcd419 261.5px,#faec1a 262.5px,#afd03f 264.5px,#90c77a 265.5px,#68c0cc 266.5px,#a4cd46 268.5px,#f4e91d 270.5px,#fbb919 272.5px,#f47b20 273.5px,#e82f26 277.5px,#e62227 278.5px)"></i>
<i style="background:linear-gradient(90deg,#e62327 0.5px,#e72627 4.5px,#f47920 9.5px,#f9a91b 10.5px,#f26422 12.5px,#ef5623 14.5px,#f47420 16.5px,#fcc418 18.5px,#f7ea1c 20.5px,#b9d439 22.5px,#9ccb5b 23.5px,#a4cd46 24.5px,#f4e91d 26.5px,#fbb919 28.5px,#f47b20 29.5px,#ee4d24 31.5px,#ed4724 32.5px,#f6871e 35.5px,#ef5323 37.5px,#e62227 41.5px,#f37221 46.5px,#fcd419 48.5px,#faec1a 49.5px,#afd03f 51.5px,#a4cd47 54.5px,#8ac688 56.5px,#71c2c2 57.5px,#51bbdc 58.5px,#3098d5 60.5px,#3578c0 62.5px,#3383c7 63.5px,#33a6dd 64.5px,#55bcda 65.5px,#54bcda 66.5px,#309bd7 67.5px,#3463b3 68.5px,#3253a9 70.5px,#3253a9 85.5px,#3461b2 86.5px,#40b3e3 88.5px,#73c3bc 89.5px,#99ca62 90.5px,#bbd438 91.5px,#fbe91a 93.5px,#f9aa1b 95.5px,#f47420 96.5px,#ef5223 98.5px,#f37321 100.5px,#fcce19 102.5px,#fbe51a 103.5px,#eae521 104.5px,#9ecb56 106.5px,#7bc4aa 107.5px,#47b9e3 108.5px,#3290d0 109.5px,#3569b7 110.5px,#3385c9 113.5px,#3bafe1 116.5px,#56bcd9 118.5px,#6fc2c6 119.5px,#98ca66 120.5px,#bad438 121.5px,#e5e422 122.5px,#fbe71a 123.5px,#f8a21c 125.5px,#f36b21 126.5px,#ed4724 128.5px,#f05823 130.5px,#f36b21 131.5px,#fcce19 133.5px,#fbe71a 134.5px,#e5e422 135.5px,#bad438 136.5px,#98ca66 137.5px,#72c3bf 138.5px,#70c2c4 140.5px,#9aca61 142.5px,#c4d733 144.5px,#dadf27 147.5px,#aed040 150.5px,#9aca61 151.5px,#5ebed3 153.5px,#38abe0 154.5px,#356bb8 156.5px,#3356ab 164.5px,#356bb9 165.5px,#309ad7 166.5px,#5cbed5 167.5px,#83c599 168.5px,#85c693 169.5px,#68c1cc 170.5px,#3cafe1 171.5px,#3384c8 173.5px,#37abdf 177.5px,#58bdd8 179.5px,#7bc4aa 181.5px,#9bca5e 184.5px,#a1cc4f 185.5px,#eee71f 187.5px,#fbe019 188.5px,#fcc518 189.5px,#f6891e 190.5px,#ef5223 192.5px,#e93326 195.5px,#f26322 198.5px,#f5821f 199.5px,#fbbc19 200.5px,#fcd619 201.5px,#fcbe18 202.5px,#f5831f 203.5px,#ec4325 206.5px,#e82d26 208.5px,#f36c21 212.5px,#fccd19 214.5px,#fbe51a 215.5px,#e8e521 216.5px,#f9eb1b 219.5px,#cbda2e 221.5px,#a9ce43 222.5px,#ebe620 224.5px,#fbe31a 225.5px,#fcca18 226.5px,#f36c21 228.5px,#ec4225 231.5px,#f47920 234.5px,#fcd519 236.5px,#faec1a 237.5px,#b3d23d 239.5px,#94c870 240.5px,#90c77a 241.5px,#afd03f 242.5px,#faec1a 244.5px,#faad1a 246.5px,#f37221 247.5px,#ee5024 249.5px,#f47a20 251.5px,#fab01a 252.5px,#fccd19 253.5px,#fbba19 254.5px,#f26722 256.5px,#ef5723 257.5px,#f47820 259.5px,#fab21a 260.5px,#f8eb1b 262.5px,#add040 264.5px,#67c0cd 266.5px,#a4cd46 268.5px,#f4e91d 270.5px,#fbb919 272.5px,#f47b20 273.5px,#e82f26 277.5px,#e62227 278.5px)"></i>
<i style="background:linear-gradient(90deg,#e32227 0.5px,#e72926 5.5px,#f26822 9.5px,#f89d1c 10.5px,#ee4d24 13.5px,#ed4a24 15.5px,#f26822 17.5px,#fcd519 20.5px,#fbea1a 21.5px,#a9ce42 24.5px,#f4e91d 26.5px,#fbb919 28.5px,#f47b20 29.5px,#ee4e24 31.5px,#ed4924 32.5px,#f37221 34.5px,#f89a1c 35.5px,#f26822 36.5px,#e62227 41.5px,#f37321 46.5px,#fcd419 48.5px,#faec1a 49.5px,#afd03f 51.5px,#b2d13d 54.5px,#a1cc4f 55.5px,#8fc77b 56.5px,#73c3bc 57.5px,#51bbdd 58.5px,#3194d2 60.5px,#3574be 62.5px,#347ec4 63.5px,#2fa3dc 64.5px,#51bbdc 65.5px,#50bbdd 66.5px,#3196d4 67.5px,#3460b1 68.5px,#3253a9 72.5px,#3355aa 86.5px,#309bd7 88.5px,#53bbdb 89.5px,#a2cc4d 91.5px,#ece620 93.5px,#fbe41a 94.5px,#f9a71b 96.5px,#f57e1f 97.5px,#f36f21 98.5px,#faac1a 100.5px,#fbe41a 102.5px,#c9d930 104.5px,#a3cc4b 105.5px,#59bdd7 107.5px,#2fa2db 108.5px,#3574be 109.5px,#356dba 111.5px,#3db0e2 116.5px,#6cc2c9 119.5px,#91c877 120.5px,#b0d13f 121.5px,#f9eb1b 123.5px,#fbb419 125.5px,#f57d1f 126.5px,#ef5223 128.5px,#f26222 130.5px,#f57d1f 131.5px,#fbb419 132.5px,#f9eb1b 134.5px,#b0d13f 136.5px,#91c877 137.5px,#67c0cd 138.5px,#71c2c1 139.5px,#94c96f 140.5px,#aed040 141.5px,#ece620 143.5px,#fcd319 146.5px,#fbe91a 149.5px,#d2dc2a 151.5px,#aed040 152.5px,#94c96f 153.5px,#71c2c1 154.5px,#41b5e4 155.5px,#3568b6 157.5px,#3253a9 159.5px,#3253a9 164.5px,#3463b3 165.5px,#309ad6 166.5px,#6bc1ca 167.5px,#94c870 168.5px,#95c96d 169.5px,#76c3b6 170.5px,#3fb3e3 171.5px,#347fc5 173.5px,#36aadf 177.5px,#57bcd8 179.5px,#7ac4ac 181.5px,#9aca5f 184.5px,#a1cc50 185.5px,#eae521 187.5px,#fbe41a 188.5px,#fccb18 189.5px,#f36b21 191.5px,#e93026 195.5px,#f47520 199.5px,#faae1a 200.5px,#fcce19 201.5px,#faaf1a 202.5px,#f47620 203.5px,#e82f26 207.5px,#e72727 208.5px,#f26522 212.5px,#f6871e 213.5px,#fcc118 214.5px,#f1e81e 216.5px,#f8eb1b 219.5px,#bdd537 222.5px,#f7ea1c 224.5px,#fbb619 226.5px,#f57d1f 227.5px,#eb4025 230.5px,#ea3925 231.5px,#f26822 234.5px,#fcc918 236.5px,#fbe21a 237.5px,#ece620 238.5px,#9fcb55 240.5px,#92c875 241.5px,#afd03f 242.5px,#faec1a 244.5px,#faae1a 246.5px,#f47520 247.5px,#ee4c24 249.5px,#f5821f 253.5px,#ee5124 257.5px,#f5801f 259.5px,#fbbb19 260.5px,#f3e91d 262.5px,#a4cd47 264.5px,#61bfd1 266.5px,#a4cd47 268.5px,#f4e91d 270.5px,#fbba19 272.5px,#f57e1f 273.5px,#e93126 277.5px,#e62327 278.5px)"></i>
<i style="background:linear-gradient(90deg,#e12127 0.5px,#e72627 5.5px,#f26622 9.5px,#f68b1e 10.5px,#eb4025 14.5px,#ec4524 16.5px,#f57d1f 19.5px,#fcd319 21.5px,#fbea1a 22.5px,#c0d635 24.5px,#cad92f 25.5px,#f0e81e 26.5px,#fcc318 28.5px,#f6891e 29.5px,#ef5223 31.5px,#ed4c24 32.5px,#f47520 34.5px,#f89b1c 35.5px,#f26822 36.5px,#e62227 41.5px,#f16022 45.5px,#f47b20 46.5px,#fbb719 47.5px,#f6ea1c 49.5px,#a9ce43 51.5px,#c4d733 53.5px,#a9ce43 55.5px,#93c871 56.5px,#75c3b9 57.5px,#4fbade 58.5px,#34a8de 59.5px,#3577c0 61.5px,#3577c0 63.5px,#309ed9 64.5px,#4bb9e1 65.5px,#49b9e2 66.5px,#3290d0 67.5px,#345daf 68.5px,#3459ac 87.5px,#30a4dd 89.5px,#5abdd6 90.5px,#a2cc4c 92.5px,#fbec1a 95.5px,#fcca18 98.5px,#f7ea1c 101.5px,#a1cc4e 104.5px,#5abdd6 106.5px,#33a7de 107.5px,#356db9 109.5px,#3575bf 112.5px,#3aade0 116.5px,#55bcda 118.5px,#6ac1cb 119.5px,#80c59e 120.5px,#9dcb59 121.5px,#e7e422 123.5px,#fbe81a 124.5px,#fab41a 126.5px,#f37121 128.5px,#f37121 129.5px,#fbe81a 133.5px,#c0d635 135.5px,#9dcb59 136.5px,#7bc4aa 137.5px,#72c3be 138.5px,#96c96a 139.5px,#b4d23c 140.5px,#f7eb1b 142.5px,#fcc118 144.5px,#f57d1f 146.5px,#f57d1f 147.5px,#fbda19 150.5px,#f7eb1b 151.5px,#b4d23c 153.5px,#96c96a 154.5px,#70c2c3 155.5px,#3fb2e2 156.5px,#3462b2 158.5px,#3253a9 161.5px,#3253a9 164.5px,#3461b2 165.5px,#2fa0da 166.5px,#7bc4ab 167.5px,#a3cc4b 168.5px,#a4cd48 169.5px,#85c694 170.5px,#47b8e4 171.5px,#3194d3 172.5px,#3480c6 173.5px,#38ace0 175.5px,#6cc2c9 177.5px,#83c596 179.5px,#9aca61 184.5px,#aed03f 186.5px,#f8eb1b 188.5px,#fbb519 190.5px,#f47c20 191.5px,#e93426 195.5px,#f05b23 198.5px,#f37221 199.5px,#faad1a 200.5px,#fccb18 201.5px,#f36c21 203.5px,#e62327 208.5px,#f16022 212.5px,#f47b20 213.5px,#fbb919 214.5px,#f4e91d 216.5px,#efe71f 220.5px,#cedb2c 222.5px,#fbea1a 224.5px,#f9a91b 226.5px,#f37121 227.5px,#e93426 231.5px,#f26222 234.5px,#f5801f 235.5px,#fbbb19 236.5px,#f3e91d 238.5px,#a4cd47 240.5px,#91c877 241.5px,#a6cd44 242.5px,#f5e91d 244.5px,#fbb919 246.5px,#f47b20 247.5px,#ec4225 250.5px,#ed4724 256.5px,#f26722 258.5px,#fcc818 260.5px,#fbe21a 261.5px,#ede71f 262.5px,#9fcb54 264.5px,#7bc4a9 265.5px,#56bcd9 266.5px,#7dc4a5 267.5px,#a3cc4a 268.5px,#eee71f 270.5px,#fbe019 271.5px,#fcc518 272.5px,#f6891e 273.5px,#ee5123 275.5px,#e62427 278.5px)"></i>
<i style="background:linear-gradient(90deg,#e02127 0.5px,#e62427 5.5px,#f26522 9.5px,#f6891e 10.5px,#f7901d 11.5px,#f26622 12.5px,#ea3625 15.5px,#ef5223 18.5px,#f57d1f 20.5px,#fcd319 22.5px,#fbea1a 23.5px,#cbda2e 25.5px,#fbe41a 27.5px,#fccb18 28.5px,#f36a21 30.5px,#ee5024 32.5px,#f5801f 34.5px,#f9a61b 35.5px,#f37221 36.5px,#e62527 41.5px,#f26322 45.5px,#f5821f 46.5px,#fbbd19 47.5px,#f3e91d 49.5px,#abcf42 51.5px,#d1dc2b 53.5px,#cedb2c 54.5px,#b4d23c 55.5px,#96c96a 56.5px,#75c3b8 57.5px,#4ab9e1 58.5px,#2fa3dc 59.5px,#3572bd 61.5px,#3572bd 63.5px,#3196d3 64.5px,#42b6e4 65.5px,#41b4e3 66.5px,#3458ac 68.5px,#3459ad 88.5px,#2fa1db 90.5px,#51bbdc 91.5px,#96c96b 93.5px,#aacf42 94.5px,#e0e224 97.5px,#d7de28 100.5px,#a4cd47 102.5px,#91c877 103.5px,#72c3be 104.5px,#4ab9e2 105.5px,#2fa1db 106.5px,#3099d6 107.5px,#3466b5 109.5px,#356bb8 112.5px,#30a4dd 116.5px,#4dbadf 118.5px,#65c0cf 119.5px,#bcd537 123.5px,#f6ea1c 125.5px,#fcca18 129.5px,#f6ea1c 132.5px,#bcd537 134.5px,#9dcb58 135.5px,#80c59e 136.5px,#67c0cd 137.5px,#a9ce43 139.5px,#f4e91d 141.5px,#fcbe18 143.5px,#f26822 145.5px,#ef5723 147.5px,#f68a1e 149.5px,#fcbe18 150.5px,#f4e91d 152.5px,#a9ce43 154.5px,#5cbed4 156.5px,#2fa3dc 157.5px,#3356ab 159.5px,#3253a9 164.5px,#3568b7 165.5px,#39ace0 166.5px,#8cc783 167.5px,#bbd438 168.5px,#bdd537 169.5px,#93c872 170.5px,#58bdd7 171.5px,#2fa2db 172.5px,#3bafe1 173.5px,#60bed2 174.5px,#9aca61 176.5px,#aed040 177.5px,#d1dc2b 180.5px,#b4d23c 183.5px,#9ecb56 185.5px,#a1cc4e 186.5px,#eae521 188.5px,#fbe51a 189.5px,#f9a41b 191.5px,#f37221 192.5px,#eb4025 195.5px,#ee4d24 197.5px,#f47820 199.5px,#fab21a 200.5px,#fccb18 201.5px,#f26822 203.5px,#e62227 208.5px,#f16022 212.5px,#f47b20 213.5px,#fbb919 214.5px,#f4e91d 216.5px,#f2e81e 220.5px,#d9df27 222.5px,#fbe71a 224.5px,#fcce19 225.5px,#f26822 227.5px,#e93026 231.5px,#f47820 235.5px,#fab21a 236.5px,#f8eb1b 238.5px,#add040 240.5px,#92c874 241.5px,#a1cc4e 242.5px,#f0e81e 244.5px,#fcc318 246.5px,#f26622 248.5px,#e93026 252.5px,#eb3d25 255.5px,#f47420 258.5px,#fcd219 260.5px,#fbea1a 261.5px,#b6d33b 263.5px,#95c96c 264.5px,#6cc2c9 265.5px,#4bb9e1 266.5px,#7ac4ac 267.5px,#aed040 268.5px,#eee71f 270.5px,#fbe019 271.5px,#fcc518 272.5px,#f6891e 273.5px,#ef5223 275.5px,#e72627 278.5px)"></i>
<i style="background:linear-gradient(90deg,#df2127 0.5px,#e62327 5.5px,#f26222 9.5px,#f9a41b 11.5px,#f37221 12.5px,#e93026 16.5px,#f26322 20.5px,#f57f1f 21.5px,#fcd619 23.5px,#faec1a 24.5px,#dee125 25.5px,#dde026 26.5px,#faec1a 27.5px,#fab01a 29.5px,#f47820 30.5px,#f05923 32.5px,#f36b21 33.5px,#f89a1c 34.5px,#fab11a 35.5px,#f47920 36.5px,#e83026 40.5px,#e72827 41.5px,#f26622 45.5px,#fcc718 47.5px,#fbe119 48.5px,#ede71f 49.5px,#b1d13e 51.5px,#dbdf27 53.5px,#d9df27 54.5px,#bed536 55.5px,#98ca65 56.5px,#73c3bd 57.5px,#44b7e5 58.5px,#309ad6 59.5px,#356cb9 61.5px,#356cb9 63.5px,#3aaee1 65.5px,#39ace0 66.5px,#3356ab 68.5px,#3459ad 87.5px,#3579c1 90.5px,#36aadf 92.5px,#4fbade 93.5px,#6dc2c9 94.5px,#90c77a 96.5px,#95c96d 99.5px,#90c77a 100.5px,#6bc1ca 102.5px,#48b9e3 103.5px,#2fa1da 104.5px,#347cc3 105.5px,#328bcd 107.5px,#3458ac 109.5px,#3462b3 113.5px,#31a4dd 117.5px,#42b5e4 118.5px,#5fbed3 119.5px,#8dc780 121.5px,#a2cc4b 124.5px,#dfe125 127.5px,#d2dc2a 131.5px,#a2cc4b 133.5px,#90c878 134.5px,#70c2c3 135.5px,#51bbdc 136.5px,#75c3b8 137.5px,#9bca5e 138.5px,#e8e422 140.5px,#fbe61a 141.5px,#f9a41b 143.5px,#f36e21 144.5px,#ed4924 146.5px,#f05a23 148.5px,#f36e21 149.5px,#fcce19 151.5px,#fbe61a 152.5px,#e8e422 153.5px,#9bca5e 155.5px,#75c3b8 156.5px,#41b4e3 157.5px,#3462b2 159.5px,#3253a9 162.5px,#3458ac 164.5px,#347bc2 165.5px,#4ebadf 166.5px,#98ca65 167.5px,#cdda2d 168.5px,#cedb2d 169.5px,#9ecb57 170.5px,#70c2c4 171.5px,#4cbae0 172.5px,#7ac4ab 173.5px,#99ca62 174.5px,#d3dd29 176.5px,#fbe91a 178.5px,#fbdc19 181.5px,#f6ea1c 183.5px,#a5cd46 186.5px,#a4cd47 187.5px,#eee71f 189.5px,#fccb18 191.5px,#f47620 193.5px,#ee4d24 196.5px,#f36a21 198.5px,#fcc718 200.5px,#fccd19 201.5px,#f26822 203.5px,#e62227 208.5px,#f16022 212.5px,#f47b20 213.5px,#fbb919 214.5px,#f4e91d 216.5px,#f2e81e 220.5px,#dde026 222.5px,#fbe71a 224.5px,#fcce19 225.5px,#f26822 227.5px,#e82d26 231.5px,#f37221 235.5px,#fcd419 237.5px,#faec1a 238.5px,#afd03f 240.5px,#90c878 241.5px,#99ca64 242.5px,#bbd438 243.5px,#fbe81a 245.5px,#f9a71b 247.5px,#f37021 248.5px,#e82e26 252.5px,#ea3725 254.5px,#f26622 257.5px,#fcc118 259.5px,#f2e81e 261.5px,#a4cd47 263.5px,#55bcda 265.5px,#42b5e4 266.5px,#78c4b0 267.5px,#b3d23c 268.5px,#bfd635 269.5px,#e9e521 270.5px,#fbe51a 271.5px,#fccc18 272.5px,#f26822 274.5px,#e72827 278.5px)"></i>
<i style="background:linear-gradient(90deg,#df2127 0.5px,#e62227 5.5px,#f47b20 10.5px,#fab11a 11.5px,#f26622 13.5px,#e82d26 17.5px,#f26622 21.5px,#fbdb19 24.5px,#f5ea1c 25.5px,#dadf27 26.5px,#fbe31a 28.5px,#f89e1c 30.5px,#f37021 31.5px,#f26922 32.5px,#fbbc19 34.5px,#fcc018 35.5px,#f5851f 36.5px,#ef5223 38.5px,#e82d26 41.5px,#f36e21 45.5px,#fccf19 47.5px,#fbe81a 48.5px,#e5e323 49.5px,#bad438 50.5px,#b4d23c 51.5px,#e2e224 53.5px,#e1e224 54.5px,#c4d733 55.5px,#98ca65 56.5px,#6ec2c7 57.5px,#3db1e2 58.5px,#3573be 60.5px,#345eb0 62.5px,#3480c6 64.5px,#30a4dd 65.5px,#2fa3dc 66.5px,#3353a9 68.5px,#3459ad 84.5px,#3bafe1 88.5px,#6ec2c8 94.5px,#6fc2c6 97.5px,#43b6e4 100.5px,#3192d1 102.5px,#3465b5 104.5px,#3460b1 105.5px,#3577c0 106.5px,#3577c0 107.5px,#3253a9 109.5px,#3459ac 114.5px,#3192d1 117.5px,#39ace0 118.5px,#57bdd8 119.5px,#8dc781 121.5px,#96c96a 123.5px,#90c77a 126.5px,#96c96a 129.5px,#8dc780 131.5px,#63bfd0 133.5px,#43b7e4 134.5px,#34a8de 135.5px,#51bbdd 136.5px,#a3cd49 138.5px,#f2e91d 140.5px,#fcbe18 142.5px,#f5831f 143.5px,#ec4325 146.5px,#ef5223 148.5px,#f5831f 150.5px,#fcbe18 151.5px,#f2e91d 153.5px,#a3cd49 155.5px,#51bbdd 157.5px,#3197d4 158.5px,#356bb8 159.5px,#3253a9 160.5px,#345caf 163.5px,#3571bc 164.5px,#2fa1db 165.5px,#6dc2c9 166.5px,#a2cc4e 167.5px,#d3dd29 168.5px,#d4dd29 169.5px,#a7ce44 170.5px,#85c693 171.5px,#7bc4ab 172.5px,#9dcb5a 173.5px,#e4e323 175.5px,#fbeb1a 176.5px,#fcbe18 178.5px,#f7951d 179.5px,#f5841f 180.5px,#f68b1e 181.5px,#fbe21a 184.5px,#efe71f 185.5px,#a7ce44 187.5px,#a5cd46 188.5px,#e9e521 190.5px,#fbe81a 191.5px,#fcbe18 193.5px,#f57d1f 195.5px,#f37221 196.5px,#f57e1f 197.5px,#fbdb19 200.5px,#fcd019 201.5px,#f36f21 203.5px,#e62427 208.5px,#f16122 212.5px,#f47c20 213.5px,#fbb919 214.5px,#f4e91d 216.5px,#efe71f 220.5px,#dadf27 222.5px,#fbe71a 224.5px,#fcce19 225.5px,#f26822 227.5px,#e82e26 231.5px,#f37221 235.5px,#fcd419 237.5px,#faec1a 238.5px,#afd03f 240.5px,#90c77a 241.5px,#89c689 242.5px,#a6cd44 243.5px,#f4e91d 245.5px,#fcbe18 247.5px,#f6871e 248.5px,#ef5423 250.5px,#e93526 253.5px,#f47b20 257.5px,#fcd519 259.5px,#faec1a 260.5px,#b5d23c 262.5px,#95c96b 263.5px,#6ec2c8 264.5px,#3cafe1 265.5px,#3aade0 266.5px,#76c3b6 267.5px,#aed040 268.5px,#b8d339 269.5px,#fbe91a 271.5px,#f9a61b 273.5px,#f36f21 274.5px,#e82b26 278.5px)"></i>
<i style="background:linear-gradient(90deg,#e02127 0.5px,#e72627 5.5px,#f26522 9.5px,#fcc018 11.5px,#faae1a 12.5px,#f47720 13.5px,#e93226 17.5px,#ea3b25 19.5px,#f36c21 22.5px,#fccc18 24.5px,#fbe41a 25.5px,#d5dd29 27.5px,#fbe41a 29.5px,#fbbc19 31.5px,#fcc718 33.5px,#fbda19 34.5px,#fccd19 35.5px,#f36c21 37.5px,#e93226 41.5px,#f47a20 45.5px,#fab41a 46.5px,#f7eb1b 48.5px,#accf41 50.5px,#b1d13e 51.5px,#e6e422 53.5px,#e6e422 54.5px,#c5d832 55.5px,#96c96b 56.5px,#66c0ce 57.5px,#36a9df 58.5px,#356eba 60.5px,#345aad 62.5px,#3576bf 64.5px,#3198d5 65.5px,#3195d3 66.5px,#3253a9 68.5px,#3355aa 82.5px,#3aaee1 85.5px,#5ebed3 86.5px,#92c873 88.5px,#abcf41 91.5px,#b9d439 96.5px,#a2cc4d 98.5px,#67c0cd 101.5px,#48b9e3 102.5px,#328ccd 104.5px,#3571bc 105.5px,#3569b7 107.5px,#3253a9 109.5px,#3457ab 115.5px,#347fc5 117.5px,#2fa3dc 118.5px,#4fbade 119.5px,#8cc783 121.5px,#97c968 123.5px,#91c877 125.5px,#58bdd8 128.5px,#3bafe1 130.5px,#357ac2 134.5px,#2fa3dc 135.5px,#5ebed4 136.5px,#8ec77f 137.5px,#accf41 138.5px,#f7eb1b 140.5px,#fab41a 142.5px,#f47920 143.5px,#eb3e25 146.5px,#ee4d24 148.5px,#f47920 150.5px,#fab41a 151.5px,#f7eb1b 153.5px,#accf41 155.5px,#8ec77f 156.5px,#5ebed4 157.5px,#2fa3dc 158.5px,#3355aa 160.5px,#3578c1 163.5px,#309bd7 164.5px,#4dbadf 165.5px,#abcf41 167.5px,#d3dc2a 168.5px,#d3dc2a 169.5px,#b3d23d 170.5px,#96c96a 171.5px,#95c96c 172.5px,#b5d23c 173.5px,#faec1a 175.5px,#fab31a 177.5px,#f57e1f 178.5px,#ef5523 180.5px,#f36f21 182.5px,#fcca18 184.5px,#fbe31a 185.5px,#ece620 186.5px,#a0cc50 188.5px,#9ccb5b 189.5px,#d3dd29 191.5px,#fbe91a 193.5px,#fcca18 196.5px,#faec1a 200.5px,#fab11a 202.5px,#f47720 203.5px,#e82f26 207.5px,#e72827 208.5px,#f26622 212.5px,#fcc518 214.5px,#efe71f 216.5px,#eae521 220.5px,#d2dc2a 222.5px,#fbe71a 224.5px,#fcce19 225.5px,#f26822 227.5px,#e93126 231.5px,#f47a20 235.5px,#fbb519 236.5px,#f7ea1c 238.5px,#aacf42 240.5px,#75c3b7 242.5px,#98ca66 243.5px,#b7d33a 244.5px,#faec1a 246.5px,#fbb419 248.5px,#f5811f 249.5px,#ed4724 252.5px,#ef5323 254.5px,#f47b20 256.5px,#fcd019 258.5px,#fbe71a 259.5px,#c2d734 261.5px,#9ecb56 262.5px,#7cc4a8 263.5px,#4ab9e2 264.5px,#3194d3 265.5px,#31a5dd 266.5px,#6fc2c7 267.5px,#a2cc4c 268.5px,#aed040 269.5px,#f9eb1b 271.5px,#fab11a 273.5px,#f47720 274.5px,#e82f26 278.5px)"></i>
<i style="background:linear-gradient(90deg,#e12127 0.5px,#e72926 5.5px,#f26822 9.5px,#fccc18 11.5px,#fccc18 12.5px,#f37021 14.5px,#e93026 18.5px,#ee4f24 21.5px,#f47c20 23.5px,#fbb519 24.5px,#f8eb1b 26.5px,#c3d733 28.5px,#f2e81e 31.5px,#f8eb1b 34.5px,#fbb519 36.5px,#f47c20 37.5px,#eb4025 40.5px,#ea3925 41.5px,#f26922 44.5px,#fcc718 46.5px,#eee71f 48.5px,#a0cc51 50.5px,#a6cd44 51.5px,#e6e422 53.5px,#e5e323 54.5px,#bfd635 55.5px,#90c879 56.5px,#59bdd7 57.5px,#2fa0da 58.5px,#3569b7 60.5px,#3458ac 62.5px,#3572bd 64.5px,#328ccd 65.5px,#3389cc 66.5px,#3253a9 68.5px,#3353a9 81.5px,#3191d1 83.5px,#46b8e5 84.5px,#76c3b5 85.5px,#98ca66 86.5px,#b2d13d 87.5px,#e6e422 89.5px,#fbe71a 95.5px,#e7e422 98.5px,#a6cd44 101.5px,#84c594 103.5px,#68c1cc 104.5px,#44b7e5 105.5px,#309fd9 106.5px,#3458ac 109.5px,#3253a9 115.5px,#3573be 117.5px,#3198d5 118.5px,#45b8e5 119.5px,#6fc2c5 120.5px,#88c68c 121.5px,#96c96a 123.5px,#92c874 125.5px,#59bdd7 128.5px,#3db1e2 129.5px,#3480c6 131.5px,#3464b4 133.5px,#3573bd 134.5px,#31a5dd 135.5px,#61bfd1 136.5px,#90c77a 137.5px,#afd03f 138.5px,#faec1a 140.5px,#faad1a 142.5px,#f37221 143.5px,#ea3b25 146.5px,#ed4924 148.5px,#f37221 150.5px,#fcd419 152.5px,#faec1a 153.5px,#afd03f 155.5px,#90c77a 156.5px,#61bfd1 157.5px,#31a5dd 158.5px,#3573bd 159.5px,#345eb0 160.5px,#2fa0da 163.5px,#46b8e4 164.5px,#71c3c0 165.5px,#94c96e 166.5px,#b3d23c 167.5px,#cfdb2c 168.5px,#d0db2b 169.5px,#a2cc4c 171.5px,#a1cc4e 172.5px,#efe81e 174.5px,#fcc418 176.5px,#f26722 178.5px,#ed4724 180.5px,#f47920 183.5px,#fab21a 184.5px,#f8eb1b 186.5px,#afd03f 188.5px,#90c878 189.5px,#88c68b 190.5px,#aed040 192.5px,#dfe125 195.5px,#d4dd29 199.5px,#f1e81e 200.5px,#fcc018 202.5px,#f26622 204.5px,#e82e26 208.5px,#f36f21 212.5px,#fcd019 214.5px,#fbe81a 215.5px,#eee71f 217.5px,#e3e323 220.5px,#c4d732 222.5px,#fbeb1a 224.5px,#faab1a 226.5px,#f47420 227.5px,#e93526 231.5px,#f26422 234.5px,#f5831f 235.5px,#fcbe18 236.5px,#f2e91d 238.5px,#a3cd49 240.5px,#84c596 241.5px,#7dc4a6 242.5px,#9ccb5c 243.5px,#dfe125 245.5px,#f8eb1b 246.5px,#f9aa1b 249.5px,#f37021 251.5px,#f26422 253.5px,#f68e1e 255.5px,#fcd519 257.5px,#fbea1a 258.5px,#c3d733 260.5px,#a0cc52 261.5px,#54bcdb 263.5px,#309ed9 264.5px,#3577c0 265.5px,#3099d5 266.5px,#62bfd0 267.5px,#97c967 268.5px,#a4cd48 269.5px,#f2e91d 271.5px,#fcbe18 273.5px,#f5831f 274.5px,#ec4225 277.5px,#e93426 278.5px)"></i>
<i style="background:linear-gradient(90deg,#e32227 0.5px,#e82d26 5.5px,#f37321 9.5px,#fcd219 11.5px,#fbde19 12.5px,#fcc618 13.5px,#f36d21 15.5px,#e93226 19.5px,#f36b21 23.5px,#fccb18 25.5px,#fbe41a 26.5px,#eae521 27.5px,#a1cc4e 29.5px,#a9ce43 32.5px,#ebe620 34.5px,#fbe31a 35.5px,#fcca18 36.5px,#f36c21 38.5px,#ec4225 41.5px,#f47b20 44.5px,#fab31a 45.5px,#f9eb1b 47.5px,#b2d13d 49.5px,#93c871 50.5px,#9aca5f 51.5px,#bcd537 52.5px,#dde026 53.5px,#dce026 54.5px,#b1d13e 55.5px,#47b9e3 57.5px,#3194d3 58.5px,#3569b7 60.5px,#3462b3 63.5px,#3386ca 65.5px,#3383c7 66.5px,#3354a9 68.5px,#3458ac 81.5px,#36aadf 83.5px,#68c1cc 84.5px,#93c871 85.5px,#b3d23d 86.5px,#f9eb1b 88.5px,#f9a81b 92.5px,#f7971d 95.5px,#faec1a 100.5px,#bdd537 103.5px,#a3cc4b 104.5px,#56bcd9 107.5px,#38ace0 108.5px,#345daf 111.5px,#345caf 116.5px,#3eb1e2 119.5px,#64bfcf 120.5px,#8dc780 122.5px,#8fc77b 124.5px,#7ac4ad 126.5px,#47b8e4 128.5px,#31a5dd 129.5px,#3467b6 132.5px,#345daf 133.5px,#3573bd 134.5px,#31a5dd 135.5px,#61bfd1 136.5px,#90c77a 137.5px,#afd03f 138.5px,#faec1a 140.5px,#faad1a 142.5px,#f37321 143.5px,#eb3c25 146.5px,#ed4a24 148.5px,#f37321 150.5px,#fcd419 152.5px,#faec1a 153.5px,#afd03f 155.5px,#90c77a 156.5px,#61bfd1 157.5px,#31a5dd 158.5px,#3573bd 159.5px,#356bb8 160.5px,#309ad6 162.5px,#3eb2e2 163.5px,#5fbed2 164.5px,#9bca5e 166.5px,#b6d33b 167.5px,#cdda2d 169.5px,#a4cd46 172.5px,#f4e91d 174.5px,#fbb919 176.5px,#f47b20 177.5px,#eb4025 180.5px,#f36c21 183.5px,#fcce19 185.5px,#fbe71a 186.5px,#e5e323 187.5px,#bad438 188.5px,#7ec4a4 190.5px,#76c3b4 191.5px,#80c59f 193.5px,#94c96f 195.5px,#9aca5f 198.5px,#e3e323 200.5px,#fbe91a 201.5px,#f9aa1b 203.5px,#f47420 204.5px,#ea3825 208.5px,#f26522 211.5px,#fbdb19 214.5px,#ede71f 216.5px,#dce026 220.5px,#b4d23c 222.5px,#f4e91d 224.5px,#fbbc19 226.5px,#f5821f 227.5px,#ec4225 230.5px,#ea3b25 231.5px,#f36b21 234.5px,#fccb18 236.5px,#fbe41a 237.5px,#eae521 238.5px,#9ccb5b 240.5px,#81c59b 241.5px,#bbd438 243.5px,#fbea1a 245.5px,#fbb519 247.5px,#f36b21 249.5px,#f36b21 251.5px,#fcd319 255.5px,#f2e91d 257.5px,#b7d33a 259.5px,#9aca60 260.5px,#7bc4aa 261.5px,#4fbade 262.5px,#309dd8 263.5px,#3572bd 264.5px,#356ab8 265.5px,#328cce 266.5px,#55bcd9 267.5px,#8ac688 268.5px,#c0d635 270.5px,#eae521 271.5px,#fbe41a 272.5px,#fccb18 273.5px,#f36b21 275.5px,#ea3925 278.5px)"></i>
<i style="background:linear-gradient(90deg,#e62327 0.5px,#e72926 4.5px,#f26422 8.5px,#f5811f 9.5px,#fbb919 10.5px,#faec1a 12.5px,#fcc518 14.5px,#f36d21 16.5px,#ea3625 20.5px,#f26422 23.5px,#f5831f 24.5px,#fcbe18 25.5px,#f2e91d 27.5px,#a3cd49 29.5px,#87c68f 30.5px,#82c59b 31.5px,#8ec77e 32.5px,#aacf42 33.5px,#f4e91d 35.5px,#fcc118 37.5px,#f36a21 39.5px,#ee5024 41.5px,#f37321 43.5px,#fcce19 45.5px,#fbe51a 46.5px,#eae521 47.5px,#9ecb55 49.5px,#7cc4a8 50.5px,#85c694 51.5px,#a3cc4b 52.5px,#c8d930 53.5px,#c6d831 54.5px,#9dcb58 55.5px,#70c2c4 56.5px,#38ace0 57.5px,#3573be 59.5px,#356cb9 63.5px,#3389cc 65.5px,#356fbb 67.5px,#3253a9 69.5px,#345caf 81.5px,#3bafe1 83.5px,#6fc2c5 84.5px,#98ca65 85.5px,#bad438 86.5px,#e5e422 87.5px,#fbe71a 88.5px,#fcce19 89.5px,#f26922 91.5px,#f05923 95.5px,#f5841f 98.5px,#fbe119 102.5px,#e3e323 104.5px,#afd03f 106.5px,#85c693 108.5px,#68c1cc 109.5px,#44b7e5 110.5px,#309fd9 111.5px,#3458ac 114.5px,#3573be 117.5px,#35a9df 119.5px,#6ec2c7 121.5px,#7cc4a7 122.5px,#7fc5a0 123.5px,#52bbdb 126.5px,#309bd7 128.5px,#3464b4 131.5px,#3356ab 133.5px,#3570bc 134.5px,#2fa0da 135.5px,#5abdd6 136.5px,#a9ce43 138.5px,#f6ea1c 140.5px,#fbb719 142.5px,#f47b20 143.5px,#eb3f25 146.5px,#ee4d24 148.5px,#f47b20 150.5px,#fbb719 151.5px,#f6ea1c 153.5px,#a9ce43 155.5px,#5abdd6 157.5px,#2fa0da 158.5px,#3570bc 159.5px,#3384c8 161.5px,#3fb2e3 163.5px,#5ebed3 164.5px,#98c966 166.5px,#aed040 167.5px,#c5d832 169.5px,#a4cd46 172.5px,#f4e91d 174.5px,#fbb919 176.5px,#f47b20 177.5px,#eb3f25 180.5px,#f26822 183.5px,#fcce19 185.5px,#fbe71a 186.5px,#e5e422 187.5px,#bad438 188.5px,#82c599 190.5px,#6ac1cb 195.5px,#64bfcf 197.5px,#a2cc4c 199.5px,#eee71f 201.5px,#fcc918 203.5px,#f36f21 205.5px,#ed4824 208.5px,#f57d1f 211.5px,#fcd419 213.5px,#fbea1a 214.5px,#d3dc2a 220.5px,#a3cc4a 222.5px,#fbe61a 225.5px,#f9a41b 227.5px,#f36f21 228.5px,#ec4424 231.5px,#f57e1f 234.5px,#fbb619 235.5px,#f8eb1b 237.5px,#aed03f 239.5px,#90c879 240.5px,#8dc780 241.5px,#aacf42 242.5px,#f6ea1c 244.5px,#fbb919 246.5px,#f5821f 247.5px,#ef5323 249.5px,#ed4824 250.5px,#f26422 252.5px,#f5821f 253.5px,#fbb919 254.5px,#f6ea1c 256.5px,#afd03f 258.5px,#93c871 259.5px,#6fc2c5 260.5px,#42b5e4 261.5px,#309cd7 262.5px,#3572bd 264.5px,#3574be 265.5px,#3192d1 266.5px,#4dbadf 267.5px,#7ac4ab 268.5px,#aed03f 270.5px,#f8eb1b 272.5px,#fbb519 274.5px,#f47c20 275.5px,#eb4025 278.5px)"></i>
<i style="background:linear-gradient(90deg,#eb3e25 0.5px,#ec4424 5.5px,#f57d1f 8.5px,#fcd319 10.5px,#fbea1a 11.5px,#e6e422 12.5px,#fbdf19 14.5px,#f7981d 16.5px,#f36f21 17.5px,#eb3f25 21.5px,#f47b20 24.5px,#fbb919 25.5px,#f4e91d 27.5px,#a4cd46 29.5px,#85c692 30.5px,#74c3ba 31.5px,#72c3c0 32.5px,#93c871 33.5px,#b0d13f 34.5px,#f5ea1c 36.5px,#fcc218 38.5px,#f47720 40.5px,#f37121 41.5px,#faac1a 43.5px,#fbe41a 45.5px,#c9d930 47.5px,#a3cc4b 48.5px,#59bdd7 50.5px,#5cbed5 51.5px,#8cc784 52.5px,#a3cc4a 53.5px,#a2cc4c 54.5px,#88c68c 55.5px,#50bbdd 56.5px,#309ad7 57.5px,#3574be 59.5px,#3480c6 63.5px,#3197d4 65.5px,#347bc3 67.5px,#3253a9 70.5px,#3253a9 80.5px,#3462b3 81.5px,#43b6e4 83.5px,#78c4b0 84.5px,#9ecb57 85.5px,#ece620 87.5px,#fbe21a 88.5px,#fcc918 89.5px,#f26722 91.5px,#eb3c25 94.5px,#f36e21 100.5px,#fbd919 104.5px,#ede620 106.5px,#a3cc4b 109.5px,#56bcd9 112.5px,#38ace0 113.5px,#3571bc 115.5px,#2fa1db 119.5px,#52bbdc 121.5px,#60bfd2 123.5px,#3aaee1 125.5px,#356eba 128.5px,#3253a9 132.5px,#3253a9 133.5px,#3569b7 134.5px,#3194d3 135.5px,#4ebadf 136.5px,#a2cc4c 138.5px,#f1e81e 140.5px,#fcc118 142.5px,#f6891e 143.5px,#ef5323 145.5px,#ec4325 147.5px,#f26622 149.5px,#f6891e 150.5px,#fcc118 151.5px,#f1e81e 153.5px,#a2cc4c 155.5px,#4ebadf 157.5px,#3194d3 158.5px,#3569b7 159.5px,#328fcf 162.5px,#31a5dd 163.5px,#46b8e4 164.5px,#6ac1cb 165.5px,#9ecb57 167.5px,#afd03f 168.5px,#a0cc51 171.5px,#a4cd46 172.5px,#f4e91d 174.5px,#fbb919 176.5px,#f47b20 177.5px,#eb4025 180.5px,#f36c21 183.5px,#fcce19 185.5px,#fbe71a 186.5px,#e5e323 187.5px,#bad438 188.5px,#97c967 189.5px,#89c68a 191.5px,#70c2c3 198.5px,#a5cd45 200.5px,#efe71f 202.5px,#fccc18 204.5px,#f36d21 207.5px,#f37121 209.5px,#fcd519 212.5px,#fbe51a 214.5px,#dbe026 219.5px,#aacf42 221.5px,#97c967 222.5px,#a6cd44 223.5px,#f2e81e 225.5px,#fcc518 227.5px,#f36d21 229.5px,#ef5423 231.5px,#f47920 233.5px,#fcd119 235.5px,#fbe81a 236.5px,#bfd635 238.5px,#9ccb5b 239.5px,#7fc5a1 240.5px,#b8d339 242.5px,#fbe91a 244.5px,#f9a61b 246.5px,#f36f21 247.5px,#eb3e25 250.5px,#f36f21 253.5px,#fcd019 255.5px,#fbe91a 256.5px,#b8d339 258.5px,#97c969 259.5px,#6dc2c9 260.5px,#42b5e4 261.5px,#3387ca 264.5px,#3387ca 265.5px,#309fd9 266.5px,#4bbae1 267.5px,#70c2c3 268.5px,#7bc4a9 269.5px,#9fcb55 270.5px,#ebe620 272.5px,#fbe31a 273.5px,#fcca18 274.5px,#f36d21 276.5px,#ee4f24 278.5px)"></i>
<i style="background:linear-gradient(90deg,#f16022 0.5px,#f15d23 5.5px,#f57d1f 7.5px,#fcd319 9.5px,#fbea1a 10.5px,#c5d832 12.5px,#d0db2b 13.5px,#fbe21a 15.5px,#f9a81b 17.5px,#f26322 19.5px,#ed4924 21.5px,#f16122 23.5px,#f47b20 24.5px,#fbb919 25.5px,#f4e91d 27.5px,#a4cd46 29.5px,#5fbed3 31.5px,#5abdd6 32.5px,#6dc2c9 33.5px,#93c872 34.5px,#add040 35.5px,#ece620 37.5px,#fbd919 39.5px,#fcca18 41.5px,#f7ea1c 44.5px,#a1cc4e 47.5px,#5abdd6 49.5px,#30a4dd 50.5px,#30a4dc 51.5px,#60bfd2 52.5px,#84c595 53.5px,#85c694 54.5px,#64bfcf 55.5px,#36a9df 56.5px,#3578c1 58.5px,#37abdf 65.5px,#3197d4 67.5px,#345eb0 70.5px,#3253a9 80.5px,#3463b3 81.5px,#328bcd 82.5px,#44b7e5 83.5px,#7ac4ac 84.5px,#9fcb55 85.5px,#eee71f 87.5px,#fbe019 88.5px,#fcc518 89.5px,#f6891e 90.5px,#ee5123 92.5px,#e72727 95.5px,#f26622 102.5px,#fcd119 106.5px,#f6ea1c 108.5px,#afd03f 111.5px,#9aca61 112.5px,#60bed2 114.5px,#3bafe1 115.5px,#3098d5 116.5px,#3aaee1 123.5px,#3459ac 127.5px,#3253a9 133.5px,#3460b1 134.5px,#3fb2e2 136.5px,#72c3be 137.5px,#99ca62 138.5px,#bcd537 139.5px,#e6e422 140.5px,#fbe81a 141.5px,#f9a71b 143.5px,#f37121 144.5px,#ed4b24 146.5px,#f05d23 148.5px,#f37121 149.5px,#fcd019 151.5px,#fbe81a 152.5px,#e6e422 153.5px,#bcd537 154.5px,#99ca62 155.5px,#72c3be 156.5px,#3fb2e2 157.5px,#3462b3 159.5px,#3388cb 163.5px,#2fa0da 164.5px,#44b7e5 165.5px,#6cc2c9 166.5px,#8ac687 167.5px,#99ca62 168.5px,#9ccb5a 169.5px,#90c878 171.5px,#a1cc4e 172.5px,#efe81e 174.5px,#fcc418 176.5px,#f26722 178.5px,#ed4724 180.5px,#f47920 183.5px,#fab21a 184.5px,#f8eb1b 186.5px,#afd03f 188.5px,#97c967 189.5px,#8dc781 196.5px,#76c3b5 199.5px,#a3cc4b 201.5px,#f7ea1c 204.5px,#fcc118 208.5px,#f6ea1c 212.5px,#f6ea1c 216.5px,#b5d23b 220.5px,#87c68f 222.5px,#90c779 223.5px,#abcf42 224.5px,#f2e81e 226.5px,#fccb18 228.5px,#f68b1e 230.5px,#f5841f 231.5px,#f7921d 232.5px,#fbe81a 235.5px,#c4d733 237.5px,#a0cc52 238.5px,#81c59b 239.5px,#72c3bf 240.5px,#98ca66 241.5px,#bad438 242.5px,#e5e422 243.5px,#fbe71a 244.5px,#fcce19 245.5px,#f26822 247.5px,#ea3b25 250.5px,#f26822 253.5px,#fcce19 255.5px,#fbe71a 256.5px,#e5e422 257.5px,#bad438 258.5px,#98ca66 259.5px,#70c2c3 260.5px,#58bdd8 261.5px,#45b8e5 266.5px,#72c3bf 269.5px,#a9ce43 271.5px,#f2e91d 273.5px,#fcc518 275.5px,#f47520 277.5px,#f47520 278.5px)"></i>
<i style="background:linear-gradient(90deg,#fab01a 0.5px,#f7981d 3.5px,#fcc018 7.5px,#fbeb1a 9.5px,#c9d92f 11.5px,#cdda2d 14.5px,#fbeb1a 16.5px,#fcbe18 18.5px,#f47720 20.5px,#f16022 22.5px,#f36d21 23.5px,#fcc718 25.5px,#eee71f 27.5px,#a1cc4f 29.5px,#4cbae0 31.5px,#3eb1e2 33.5px,#5ebed3 34.5px,#9aca5f 36.5px,#c8d930 38.5px,#e2e224 41.5px,#bdd536 44.5px,#a4cd49 45.5px,#91c877 46.5px,#72c3be 47.5px,#4ab9e2 48.5px,#309cd8 49.5px,#3574be 50.5px,#3574be 51.5px,#30a4dd 52.5px,#50bbdd 53.5px,#54bcda 54.5px,#3bafe1 55.5px,#347bc3 57.5px,#3386c9 59.5px,#41b4e3 62.5px,#53bbdb 65.5px,#31a5dd 68.5px,#3459ad 72.5px,#3253a9 80.5px,#3463b3 81.5px,#328bcd 82.5px,#44b7e5 83.5px,#7ac4ac 84.5px,#9fcb55 85.5px,#eee71f 87.5px,#fbe019 88.5px,#fcc518 89.5px,#f6891e 90.5px,#ee5123 92.5px,#e52227 96.5px,#ed4924 102.5px,#f36e21 105.5px,#fbd919 109.5px,#ece620 111.5px,#b4d23c 113.5px,#9aca60 114.5px,#55bcda 116.5px,#46b8e4 117.5px,#50bbdd 120.5px,#3197d4 124.5px,#3354a9 129.5px,#3355aa 134.5px,#309fd9 136.5px,#57bcd8 137.5px,#a4cd47 139.5px,#f1e81e 141.5px,#fcc618 143.5px,#f36d21 145.5px,#f05b23 147.5px,#f36d21 148.5px,#fcc618 150.5px,#f1e81e 152.5px,#a4cd47 154.5px,#57bcd8 156.5px,#309fd9 157.5px,#3570bc 158.5px,#345aad 159.5px,#356cb9 163.5px,#309bd7 165.5px,#44b7e5 166.5px,#7fc5a0 168.5px,#84c595 169.5px,#74c3ba 171.5px,#95c96c 172.5px,#b5d23c 173.5px,#faec1a 175.5px,#fab31a 177.5px,#f57e1f 178.5px,#ef5523 180.5px,#f36f21 182.5px,#fcca18 184.5px,#fbe31a 185.5px,#ece620 186.5px,#a2cc4d 188.5px,#9aca5f 196.5px,#7fc5a1 199.5px,#71c2c1 200.5px,#73c3bd 201.5px,#91c877 202.5px,#a4cd47 203.5px,#e4e323 206.5px,#e2e224 210.5px,#d3dc2a 211.5px,#f1e81e 214.5px,#cad92f 218.5px,#9ecb56 220.5px,#6cc1ca 222.5px,#65c0ce 223.5px,#8dc780 224.5px,#a4cd48 225.5px,#f6ea1c 228.5px,#fbdd19 232.5px,#f0e81e 234.5px,#b9d439 236.5px,#9ccb5c 237.5px,#55bcda 239.5px,#6dc2c9 240.5px,#97c969 241.5px,#b8d339 242.5px,#fbe91a 244.5px,#f9a61b 246.5px,#f36f21 247.5px,#eb3e25 250.5px,#f36f21 253.5px,#fcd019 255.5px,#fbe91a 256.5px,#b8d339 258.5px,#9bca5e 259.5px,#94c870 260.5px,#a4cd48 263.5px,#a0cc51 265.5px,#7ac4ad 270.5px,#aacf42 272.5px,#ece620 274.5px,#fbd719 276.5px,#fccb18 278.5px)"></i>
<i style="background:linear-gradient(90deg,#f9eb1b 0.5px,#f1e81e 7.5px,#cedb2d 11.5px,#c5d832 15.5px,#fbe81a 18.5px,#f9a61b 22.5px,#f2e81e 26.5px,#aacf42 28.5px,#8fc77c 29.5px,#64bfcf 30.5px,#35a9df 31.5px,#3195d3 34.5px,#3aade0 35.5px,#72c3be 37.5px,#91c876 39.5px,#94c96f 42.5px,#8dc780 43.5px,#66c0ce 45.5px,#46b8e4 46.5px,#2fa0da 47.5px,#3463b3 49.5px,#345bae 51.5px,#309ad6 53.5px,#2fa2db 54.5px,#357ac2 57.5px,#3baee1 60.5px,#76c3b6 63.5px,#78c4b1 65.5px,#5abdd6 68.5px,#44b7e5 69.5px,#3191d1 71.5px,#3356ab 74.5px,#3253a9 80.5px,#3463b3 81.5px,#328bcd 82.5px,#44b7e5 83.5px,#7ac4ac 84.5px,#9fcb55 85.5px,#eee71f 87.5px,#fbe019 88.5px,#fcc518 89.5px,#f6891e 90.5px,#ef5223 92.5px,#e52227 96.5px,#e72827 101.5px,#f47a20 108.5px,#fcd619 111.5px,#fbe91a 112.5px,#c9d92f 114.5px,#a5cd45 115.5px,#94c870 116.5px,#a4cd48 119.5px,#95c96d 122.5px,#80c59f 124.5px,#59bdd7 126.5px,#3eb1e2 127.5px,#3578c1 129.5px,#3253a9 132.5px,#345daf 135.5px,#38abdf 137.5px,#66c0ce 138.5px,#90c77a 139.5px,#abcf42 140.5px,#f2e81e 142.5px,#fccb18 144.5px,#f68f1e 146.5px,#f68f1e 147.5px,#fbe019 150.5px,#f2e81e 151.5px,#abcf42 153.5px,#90c77a 154.5px,#66c0ce 155.5px,#38abdf 156.5px,#345daf 158.5px,#3459ad 163.5px,#347fc5 165.5px,#2fa3dc 166.5px,#47b9e3 167.5px,#61bfd1 169.5px,#4cbae0 171.5px,#7bc4ab 172.5px,#9dcb5a 173.5px,#e4e323 175.5px,#fbeb1a 176.5px,#fcbe18 178.5px,#f7951d 179.5px,#f5841f 180.5px,#f68b1e 181.5px,#fbe21a 184.5px,#efe71f 185.5px,#aacf42 187.5px,#a4cd47 196.5px,#94c96f 198.5px,#6fc2c6 200.5px,#4dbadf 202.5px,#6bc1ca 203.5px,#92c875 205.5px,#9dcb59 207.5px,#98ca65 210.5px,#bbd438 213.5px,#b9d439 216.5px,#a3cc4b 218.5px,#84c596 220.5px,#64c0cf 221.5px,#41b4e3 222.5px,#30a4dc 223.5px,#4bb9e1 224.5px,#72c3be 225.5px,#90c879 226.5px,#a1cc4f 227.5px,#d0db2b 230.5px,#c2d733 233.5px,#9bca5d 235.5px,#72c3bf 237.5px,#3fb2e3 239.5px,#5dbed4 240.5px,#aacf42 242.5px,#f6ea1c 244.5px,#fbb919 246.5px,#f5821f 247.5px,#ef5323 249.5px,#ed4824 250.5px,#f26422 252.5px,#f5821f 253.5px,#fbb919 254.5px,#f6ea1c 256.5px,#c8d930 258.5px,#f2e91d 264.5px,#b1d13e 270.5px,#9aca61 272.5px,#b2d13d 274.5px,#dde026 276.5px,#e2e224 278.5px)"></i>
<i style="background:linear-gradient(90deg,#c4d732 0.5px,#c8d930 14.5px,#bad439 17.5px,#f8eb1b 21.5px,#ede71f 24.5px,#a4cd48 27.5px,#8dc780 28.5px,#65c0ce 29.5px,#39ace0 30.5px,#328ccd 31.5px,#356eba 35.5px,#35a9df 39.5px,#31a5dd 43.5px,#3355aa 48.5px,#3253a9 51.5px,#3385c9 54.5px,#3385c9 57.5px,#3bafe1 59.5px,#57bcd8 60.5px,#93c872 63.5px,#90c779 67.5px,#56bcd9 71.5px,#3eb1e2 72.5px,#3577c0 74.5px,#3354a9 77.5px,#3253a9 80.5px,#3460b1 81.5px,#40b3e3 83.5px,#75c3b8 84.5px,#9bca5d 85.5px,#e9e521 87.5px,#fbe51a 88.5px,#fccc18 89.5px,#f26822 91.5px,#e52227 96.5px,#e82d26 104.5px,#f16222 109.5px,#f47720 110.5px,#fcc818 112.5px,#f3e91d 114.5px,#d7de28 115.5px,#d1dc2b 116.5px,#f3e91d 119.5px,#c6d831 124.5px,#9ecb55 126.5px,#8ec77f 127.5px,#73c3bd 128.5px,#52bbdc 129.5px,#36aadf 130.5px,#3459ad 133.5px,#3253a9 135.5px,#3481c7 137.5px,#39ace0 138.5px,#65c0ce 139.5px,#8dc780 140.5px,#a4cd48 141.5px,#f6ea1c 144.5px,#f6ea1c 149.5px,#a4cd48 152.5px,#8dc780 153.5px,#65c0ce 154.5px,#39ace0 155.5px,#3461b2 157.5px,#3253a9 160.5px,#345fb0 164.5px,#3baee1 167.5px,#37abdf 170.5px,#2fa3dc 171.5px,#4cbae0 172.5px,#7ac4ab 173.5px,#99ca62 174.5px,#d3dd29 176.5px,#fbe91a 178.5px,#fbdc19 181.5px,#f6ea1c 183.5px,#add040 186.5px,#b6d33b 195.5px,#a6cd45 197.5px,#86c691 199.5px,#67c0cd 200.5px,#43b6e4 201.5px,#2fa2db 202.5px,#3192d1 203.5px,#44b7e5 207.5px,#55bcda 210.5px,#86c691 214.5px,#82c599 217.5px,#6cc2c9 219.5px,#4fbade 220.5px,#33a7de 221.5px,#3576bf 223.5px,#347bc2 224.5px,#309dd8 225.5px,#40b4e3 226.5px,#7ec5a3 229.5px,#8fc77c 235.5px,#5ebed3 239.5px,#50bbdd 240.5px,#75c3b8 241.5px,#9aca60 242.5px,#bbd438 243.5px,#fbea1a 245.5px,#fbb519 247.5px,#f36b21 249.5px,#f36b21 251.5px,#fcd419 254.5px,#fbea1a 255.5px,#e8e521 256.5px,#fbdc19 259.5px,#fbb919 264.5px,#f7eb1b 270.5px,#accf41 273.5px,#96c96b 275.5px,#99ca64 278.5px)"></i>
<i style="background:linear-gradient(90deg,#c7d830 0.5px,#c1d634 15.5px,#9ecb57 19.5px,#afd03f 22.5px,#a3cd49 24.5px,#8ac687 26.5px,#70c2c3 27.5px,#4bb9e1 28.5px,#2fa0da 29.5px,#347fc5 30.5px,#3355aa 37.5px,#3253a9 51.5px,#3aade0 58.5px,#54bcda 59.5px,#74c3ba 60.5px,#9bca5e 62.5px,#abcf41 64.5px,#a2cc4d 69.5px,#91c876 71.5px,#6ac1cb 73.5px,#46b8e4 74.5px,#2fa2db 75.5px,#3465b4 78.5px,#345bae 81.5px,#3aade0 83.5px,#6ec2c8 84.5px,#97c967 85.5px,#b9d439 86.5px,#fbe81a 88.5px,#f9a51b 90.5px,#f36e21 91.5px,#e52227 96.5px,#e72926 106.5px,#f36c21 111.5px,#fcd719 114.5px,#fbe119 116.5px,#fbb819 119.5px,#f3e91d 125.5px,#accf41 128.5px,#99ca63 129.5px,#60bed2 131.5px,#3bafe1 132.5px,#3458ac 135.5px,#3574be 137.5px,#3aade0 139.5px,#57bcd8 140.5px,#76c3b4 141.5px,#a1cc4f 143.5px,#c6d831 146.5px,#b4d23c 149.5px,#a1cc4f 150.5px,#90c879 151.5px,#72c3be 152.5px,#4bb9e1 153.5px,#2fa0da 154.5px,#345eb0 156.5px,#3253a9 163.5px,#3480c6 165.5px,#32a6dd 166.5px,#3eb1e2 168.5px,#3386c9 171.5px,#328cce 172.5px,#3bafe1 173.5px,#60bed2 174.5px,#9aca61 176.5px,#aed040 177.5px,#d1dc2b 180.5px,#abcf41 185.5px,#c1d634 190.5px,#b7d33a 197.5px,#a1cc4f 198.5px,#5fbed2 200.5px,#35a8de 201.5px,#356eba 203.5px,#3467b6 207.5px,#38ace0 215.5px,#2fa3dc 219.5px,#3464b4 222.5px,#345fb1 225.5px,#32a6dd 229.5px,#47b9e3 230.5px,#67c0cd 231.5px,#90c77a 233.5px,#9ccb5b 235.5px,#8dc780 238.5px,#69c1cb 241.5px,#7cc4a8 242.5px,#9ccb5c 243.5px,#dee125 245.5px,#f6ea1c 246.5px,#fbb719 250.5px,#f6ea1c 254.5px,#e3e323 255.5px,#fbe119 257.5px,#f57d1f 260.5px,#f26622 264.5px,#f9a41b 269.5px,#fbec1a 272.5px,#b4d23c 275.5px,#92c875 277.5px,#90c879 278.5px)"></i>
<i style="background:linear-gradient(90deg,#c9d930 0.5px,#bad438 16.5px,#a1cc4f 18.5px,#76c3b5 21.5px,#45b8e5 25.5px,#3384c9 28.5px,#3253a9 35.5px,#3354a9 51.5px,#38ace0 57.5px,#4dbadf 58.5px,#6cc1ca 59.5px,#97c968 61.5px,#a5cd46 62.5px,#cbda2e 66.5px,#d3dc2a 69.5px,#afd03f 72.5px,#8fc77d 74.5px,#76c3b7 75.5px,#57bcd8 76.5px,#309cd8 78.5px,#356ab7 81.5px,#3574be 82.5px,#32a6dd 83.5px,#62bfd1 84.5px,#90c879 85.5px,#afd03f 86.5px,#faeb1b 88.5px,#faaf1a 90.5px,#f47620 91.5px,#e62327 96.5px,#e62427 107.5px,#f47b20 113.5px,#f9a51b 115.5px,#f6871e 117.5px,#f26522 119.5px,#f68e1e 123.5px,#fbdb19 126.5px,#ece620 128.5px,#b4d23c 130.5px,#9bca5f 131.5px,#5abdd6 133.5px,#35a9de 134.5px,#3568b7 136.5px,#3aade0 139.5px,#6cc2c9 141.5px,#92c873 143.5px,#9aca61 145.5px,#7cc4a7 148.5px,#59bdd7 150.5px,#40b4e3 151.5px,#309dd8 152.5px,#3463b3 154.5px,#3253a9 158.5px,#3253a9 163.5px,#3569b7 164.5px,#309dd8 165.5px,#4ebade 166.5px,#5bbdd6 167.5px,#48b9e3 168.5px,#30a4dc 169.5px,#3575be 171.5px,#3576c0 173.5px,#38ace0 175.5px,#6cc2c9 177.5px,#8ac686 180.5px,#b6d33b 185.5px,#c8d930 189.5px,#c0d635 194.5px,#cdda2d 197.5px,#b1d13e 198.5px,#90c878 199.5px,#5dbed4 200.5px,#309dd8 201.5px,#3570bb 202.5px,#3353a9 204.5px,#356cb9 216.5px,#356bb8 219.5px,#3253a9 223.5px,#345aad 226.5px,#309ed9 229.5px,#44b7e5 230.5px,#67c0cd 231.5px,#94c96f 233.5px,#a8ce43 235.5px,#a0cc50 238.5px,#85c694 243.5px,#a4cd47 245.5px,#e9e521 248.5px,#e9e521 252.5px,#cfdb2c 254.5px,#fbe71a 256.5px,#f9a81b 258.5px,#f37221 259.5px,#ec4624 262.5px,#f05823 268.5px,#f47c20 270.5px,#fcd619 273.5px,#ede71f 275.5px,#a8ce43 278.5px)"></i>
<i style="background:linear-gradient(90deg,#c7d830 0.5px,#bdd536 16.5px,#a2cc4c 18.5px,#61bfd1 22.5px,#32a6dd 25.5px,#345aae 31.5px,#345bae 51.5px,#35a9df 56.5px,#43b6e4 57.5px,#73c3bc 59.5px,#a4cd47 62.5px,#f6ea1c 69.5px,#d6dd29 73.5px,#a7ce44 75.5px,#61bfd1 78.5px,#43b6e4 79.5px,#2fa2dc 80.5px,#3577c0 82.5px,#3099d5 83.5px,#51bbdc 84.5px,#a2cc4c 86.5px,#efe71f 88.5px,#fcc718 90.5px,#f26922 92.5px,#e52227 97.5px,#e72a26 109.5px,#f15e23 116.5px,#ec4524 120.5px,#f26922 124.5px,#f7971d 126.5px,#fcd619 128.5px,#ebe620 130.5px,#abcf41 132.5px,#94c970 133.5px,#74c3bb 134.5px,#48b9e3 135.5px,#309bd7 136.5px,#347ec5 137.5px,#3db0e2 139.5px,#71c2c1 141.5px,#94c970 143.5px,#99ca63 145.5px,#91c876 146.5px,#65c0ce 148.5px,#42b5e4 149.5px,#3098d5 150.5px,#3462b2 152.5px,#3253a9 156.5px,#3354a9 163.5px,#357ac2 164.5px,#4ab9e2 165.5px,#7ec4a4 166.5px,#83c597 167.5px,#65c0ce 168.5px,#37abdf 169.5px,#3571bc 171.5px,#357ac2 174.5px,#3cafe1 177.5px,#68c0cc 179.5px,#99ca63 182.5px,#b3d23d 184.5px,#cdda2d 188.5px,#b9d439 193.5px,#e2e224 196.5px,#e0e125 197.5px,#c4d733 198.5px,#97c968 199.5px,#61bfd1 200.5px,#3098d5 201.5px,#3569b7 202.5px,#3353a9 203.5px,#3356ab 226.5px,#3578c1 228.5px,#3099d6 229.5px,#41b4e3 230.5px,#62bfd0 231.5px,#93c871 233.5px,#add040 235.5px,#b1d13e 238.5px,#98ca65 246.5px,#afd03f 250.5px,#bdd537 253.5px,#f6ea1c 255.5px,#fbb719 257.5px,#f57f1f 258.5px,#e93426 262.5px,#e82b26 265.5px,#f16122 271.5px,#f7951d 273.5px,#fcce19 275.5px,#fbec1a 277.5px,#ebe620 278.5px)"></i>
<i style="background:linear-gradient(90deg,#e2e224 0.5px,#bdd536 6.5px,#bdd537 13.5px,#c4d733 16.5px,#a6cd44 18.5px,#66c0cd 22.5px,#41b4e3 24.5px,#3385c9 27.5px,#3253a9 32.5px,#345eb0 50.5px,#37aadf 56.5px,#53bbdb 58.5px,#79c4ae 60.5px,#a0cc52 63.5px,#fbe51a 69.5px,#fbdc19 72.5px,#f4e91d 74.5px,#c1d634 76.5px,#a1cc4f 77.5px,#6fc2c7 79.5px,#4bb9e1 80.5px,#32a6dd 81.5px,#347fc5 83.5px,#37aadf 84.5px,#67c0cd 85.5px,#92c874 86.5px,#b0d13e 87.5px,#f8eb1b 89.5px,#fbb619 91.5px,#f57e1f 92.5px,#e72627 97.5px,#e72827 110.5px,#ec4125 115.5px,#e72927 120.5px,#f16122 126.5px,#f47420 127.5px,#fcc418 129.5px,#f8eb1b 131.5px,#a1cc50 134.5px,#62bfd0 136.5px,#39ace0 137.5px,#32a6dd 138.5px,#45b8e5 139.5px,#78c4b0 141.5px,#97c969 143.5px,#9aca60 145.5px,#82c59a 147.5px,#69c1cc 148.5px,#45b8e5 149.5px,#309dd8 150.5px,#3462b3 152.5px,#3253a9 155.5px,#345aad 163.5px,#3197d4 164.5px,#74c3b9 165.5px,#9fcb54 166.5px,#a1cc4f 167.5px,#83c598 168.5px,#46b8e4 169.5px,#3290d0 170.5px,#3576bf 171.5px,#3386c9 174.5px,#45b8e5 177.5px,#73c3bd 179.5px,#9ecb56 182.5px,#c5d832 185.5px,#c9d92f 189.5px,#b9d439 193.5px,#e8e422 196.5px,#e7e422 197.5px,#ccda2d 198.5px,#9bcb5d 199.5px,#69c1cc 200.5px,#2f9fda 201.5px,#356dba 202.5px,#3355aa 203.5px,#3457ab 226.5px,#3194d2 229.5px,#3aaee1 230.5px,#56bcd9 231.5px,#73c3bd 232.5px,#96c96a 234.5px,#a6cd44 236.5px,#a4cd47 249.5px,#bcd537 253.5px,#fbe91a 255.5px,#f9a81b 257.5px,#f37021 258.5px,#e62227 263.5px,#e72a26 268.5px,#f5811f 275.5px,#fcce19 278.5px)"></i>
<i style="background:linear-gradient(90deg,#fcca18 0.5px,#fbe91a 3.5px,#b9d439 6.5px,#b7d33a 12.5px,#cbda2e 16.5px,#9fcb55 19.5px,#72c3bf 22.5px,#4bbae1 24.5px,#309fd9 26.5px,#345cae 30.5px,#3354aa 40.5px,#3388cb 44.5px,#356cb9 49.5px,#39ace0 58.5px,#60bed2 61.5px,#7fc5a1 63.5px,#a6cd44 66.5px,#f1e81e 69.5px,#fcd319 73.5px,#f8eb1b 75.5px,#b9d439 77.5px,#9aca61 78.5px,#5abdd6 80.5px,#3aade0 81.5px,#357ac2 83.5px,#328fcf 84.5px,#45b8e5 85.5px,#79c4b0 86.5px,#9ccb5b 87.5px,#e7e422 89.5px,#fbe71a 90.5px,#f9a61b 92.5px,#f37121 93.5px,#e62327 98.5px,#e72926 109.5px,#f05923 114.5px,#e52227 120.5px,#e93326 124.5px,#f26722 128.5px,#fccf19 131.5px,#f0e81e 133.5px,#aed03f 135.5px,#94c96e 136.5px,#72c3bf 137.5px,#47b8e4 138.5px,#71c2c1 140.5px,#92c874 142.5px,#a0cc52 144.5px,#98ca65 146.5px,#5cbed4 149.5px,#3eb1e2 150.5px,#3577c0 152.5px,#3253a9 155.5px,#3253a9 162.5px,#3466b5 163.5px,#38abe0 164.5px,#8ec77e 165.5px,#c2d734 166.5px,#c3d733 167.5px,#96c96b 168.5px,#5cbed5 169.5px,#2fa3dc 170.5px,#328ccd 171.5px,#31a5dd 174.5px,#50bbdd 176.5px,#77c3b4 178.5px,#9ccb5b 181.5px,#bdd537 184.5px,#c5d832 189.5px,#b9d439 193.5px,#e2e224 196.5px,#e1e224 197.5px,#c9d930 198.5px,#9ecb57 199.5px,#75c3b8 200.5px,#3db0e2 201.5px,#3568b7 203.5px,#3253a9 206.5px,#3457ab 225.5px,#328ecf 229.5px,#40b4e3 231.5px,#6ac1cb 233.5px,#8ec77d 236.5px,#a4cd46 243.5px,#a1cc4e 250.5px,#a5cd46 252.5px,#ece620 254.5px,#fbe21a 255.5px,#fcc918 256.5px,#f26722 258.5px,#e52227 263.5px,#e72827 270.5px,#f36c21 277.5px,#f5811f 278.5px)"></i>
<i style="background:linear-gradient(90deg,#f36e21 0.5px,#f89a1c 2.5px,#fbdb19 4.5px,#f7ea1c 5.5px,#b6d33b 7.5px,#b3d23d 11.5px,#d2dc2a 16.5px,#a6cd45 19.5px,#70c2c3 23.5px,#46b8e4 25.5px,#3193d2 27.5px,#3354aa 31.5px,#3356ab 39.5px,#32a5dd 42.5px,#4cbae0 44.5px,#3193d2 48.5px,#3384c8 58.5px,#34a8de 62.5px,#54bcdb 64.5px,#6cc2c9 65.5px,#b2d13d 68.5px,#f7ea1c 71.5px,#fbe019 74.5px,#f8eb1b 75.5px,#bcd537 77.5px,#9aca5f 78.5px,#57bcd8 80.5px,#35a9df 81.5px,#3573bd 83.5px,#3571bc 84.5px,#309fda 85.5px,#57bcd8 86.5px,#a4cd47 88.5px,#f1e81e 90.5px,#fcc618 92.5px,#f36d21 94.5px,#e62327 99.5px,#e72926 108.5px,#f68c1e 114.5px,#f05b23 116.5px,#e62227 121.5px,#e82c26 125.5px,#f36f21 130.5px,#fcc118 132.5px,#f8eb1b 134.5px,#bbd438 136.5px,#9ccb5b 137.5px,#7ec5a2 138.5px,#7ac4ad 139.5px,#96c96a 141.5px,#a5cd45 144.5px,#9aca61 147.5px,#68c1cc 150.5px,#4cbae0 151.5px,#3194d2 153.5px,#3458ac 157.5px,#3355aa 162.5px,#3570bc 163.5px,#42b5e4 164.5px,#96c96a 165.5px,#d0db2b 166.5px,#d1dc2b 167.5px,#9dcb59 168.5px,#6dc2c9 169.5px,#3fb2e3 170.5px,#37abdf 172.5px,#56bcd9 174.5px,#7ac4ac 176.5px,#99ca62 179.5px,#b6d33b 183.5px,#bad438 190.5px,#c4d732 194.5px,#d5dd29 197.5px,#a0cc51 199.5px,#60bfd2 201.5px,#3db0e2 202.5px,#3386c9 204.5px,#3466b5 210.5px,#356fbb 213.5px,#30a4dc 217.5px,#3099d6 221.5px,#356bb8 224.5px,#3388cb 229.5px,#44b7e5 234.5px,#71c3c0 238.5px,#9bca5e 242.5px,#9fcb55 245.5px,#93c871 250.5px,#94c970 251.5px,#a4cd48 252.5px,#f3e91d 254.5px,#fbbd19 256.5px,#f5821f 257.5px,#ec4125 260.5px,#e52227 263.5px,#e72a26 273.5px,#ee5124 278.5px)"></i>
<i style="background:linear-gradient(90deg,#ed4a24 0.5px,#f26822 2.5px,#fbdb19 5.5px,#f5ea1c 6.5px,#add040 8.5px,#c8d930 13.5px,#d7de28 16.5px,#a3cc4b 20.5px,#80c59f 23.5px,#58bdd7 25.5px,#40b3e3 26.5px,#2fa1da 27.5px,#3463b3 30.5px,#3253a9 35.5px,#345aad 38.5px,#328fcf 40.5px,#40b4e3 41.5px,#69c1cc 42.5px,#7fc5a0 43.5px,#86c690 44.5px,#5bbdd5 47.5px,#3aaee1 49.5px,#3569b7 56.5px,#356dba 62.5px,#30a4dc 65.5px,#48b9e3 66.5px,#71c2c1 67.5px,#93c871 68.5px,#b1d13e 69.5px,#dadf27 71.5px,#f3e91d 74.5px,#d1dc2a 76.5px,#aed040 77.5px,#93c871 78.5px,#73c3bd 79.5px,#48b9e3 80.5px,#309cd8 81.5px,#3568b6 83.5px,#345db0 84.5px,#38abdf 86.5px,#66c0ce 87.5px,#90c77a 88.5px,#abcf42 89.5px,#f2e91d 91.5px,#fcc518 93.5px,#f36d21 95.5px,#e62327 100.5px,#e72627 107.5px,#f47c20 112.5px,#fab11a 113.5px,#fcc718 114.5px,#f26422 117.5px,#e62227 122.5px,#e93026 127.5px,#f26722 131.5px,#fcd319 134.5px,#fbe81a 135.5px,#a6cd45 138.5px,#e0e224 142.5px,#dfe125 146.5px,#a8ce43 149.5px,#72c3be 152.5px,#45b8e5 154.5px,#3194d3 156.5px,#345caf 160.5px,#345fb1 162.5px,#3578c0 163.5px,#44b7e4 164.5px,#92c874 165.5px,#c4d732 166.5px,#c5d832 167.5px,#9bca5f 168.5px,#72c3be 169.5px,#4fbbde 170.5px,#49b9e2 171.5px,#6dc2c9 173.5px,#8fc77c 175.5px,#a4cd47 178.5px,#b4d23c 187.5px,#c4d732 194.5px,#cdda2d 197.5px,#aacf42 199.5px,#6ac1cb 203.5px,#42b5e4 208.5px,#39ade0 212.5px,#46b8e4 213.5px,#89c68a 216.5px,#8fc77b 219.5px,#83c598 221.5px,#5abdd6 223.5px,#40b4e3 224.5px,#3388cb 226.5px,#3385c9 234.5px,#3baee1 238.5px,#6dc2c9 240.5px,#95c96c 242.5px,#9fcb55 244.5px,#7ec4a3 249.5px,#7cc4a8 250.5px,#86c690 251.5px,#a5cd46 252.5px,#f4e91d 254.5px,#fbb919 256.5px,#f47b20 257.5px,#e82f26 261.5px,#e22227 265.5px,#e82f26 277.5px,#e93226 278.5px)"></i>
<i style="background:linear-gradient(90deg,#ea3b25 0.5px,#f36c21 3.5px,#fcca18 5.5px,#fbe31a 6.5px,#ebe620 7.5px,#aacf42 9.5px,#d9df27 16.5px,#a2cc4b 21.5px,#7ec5a2 24.5px,#6bc1ca 25.5px,#38ace0 27.5px,#356ab8 30.5px,#3253a9 34.5px,#345fb1 37.5px,#3193d2 39.5px,#44b7e5 40.5px,#74c3b9 41.5px,#93c872 42.5px,#a1cc4e 43.5px,#a1cc4e 45.5px,#8ac687 47.5px,#61bfd1 49.5px,#38abe0 51.5px,#345bae 56.5px,#345caf 64.5px,#3389cc 66.5px,#3db1e2 67.5px,#74c3ba 68.5px,#9dcb59 69.5px,#c5d832 70.5px,#d9df27 72.5px,#d4dd29 75.5px,#9fcb53 77.5px,#61bfd1 79.5px,#39ade0 80.5px,#345bae 83.5px,#3354aa 84.5px,#3481c7 86.5px,#39ade0 87.5px,#67c0cd 88.5px,#90c779 89.5px,#abcf42 90.5px,#f2e91d 92.5px,#fcc518 94.5px,#f36d21 96.5px,#e62427 101.5px,#e62327 106.5px,#f37221 111.5px,#fccf19 113.5px,#fbe31a 114.5px,#fbb819 116.5px,#f26822 118.5px,#e62327 123.5px,#e82c26 128.5px,#f47720 133.5px,#fccb18 135.5px,#f1e81e 137.5px,#dfe125 138.5px,#fbe61a 140.5px,#fcca18 144.5px,#faec1a 148.5px,#abcf41 151.5px,#85c694 154.5px,#58bdd7 156.5px,#3fb2e2 157.5px,#3385c9 159.5px,#356bb8 162.5px,#347ec4 163.5px,#3db1e2 164.5px,#82c59b 165.5px,#a3cd49 166.5px,#a6cd44 167.5px,#90c878 168.5px,#6fc2c6 169.5px,#59bdd7 170.5px,#70c2c4 172.5px,#95c96e 174.5px,#aacf42 176.5px,#b9d439 180.5px,#a5cd45 188.5px,#d0db2b 197.5px,#9dcb59 205.5px,#8ec77e 212.5px,#91c877 213.5px,#a4cd49 214.5px,#d9df27 217.5px,#d7de28 220.5px,#a1cc4f 223.5px,#90c879 224.5px,#72c3be 225.5px,#4bb9e1 226.5px,#2fa2db 227.5px,#3579c1 229.5px,#3460b1 235.5px,#347fc5 238.5px,#2fa0da 239.5px,#4ebadf 240.5px,#94c96f 242.5px,#a0cc51 243.5px,#a1cc4e 244.5px,#8ec77f 246.5px,#6fc2c5 248.5px,#64c0cf 250.5px,#8fc77b 251.5px,#aed040 252.5px,#f9eb1b 254.5px,#fab11a 256.5px,#f47720 257.5px,#e62227 262.5px,#e52227 278.5px)"></i>
<i style="background:linear-gradient(90deg,#e93226 0.5px,#f57d1f 4.5px,#fbb619 5.5px,#f7ea1c 7.5px,#accf41 9.5px,#dadf27 15.5px,#bed536 20.5px,#97c967 23.5px,#5fbed3 26.5px,#43b6e4 27.5px,#2fa3dc 28.5px,#3568b6 31.5px,#345bae 35.5px,#3573bd 37.5px,#40b4e3 39.5px,#71c2c2 40.5px,#94c96e 41.5px,#aed040 42.5px,#ccda2e 44.5px,#a5cd45 47.5px,#87c68e 49.5px,#70c2c3 50.5px,#39ade0 52.5px,#3467b6 55.5px,#3253a9 58.5px,#3355aa 65.5px,#3465b4 66.5px,#328ccd 67.5px,#51bbdc 68.5px,#91c877 69.5px,#bcd537 70.5px,#d8de28 71.5px,#c4d733 75.5px,#accf41 76.5px,#96c96a 77.5px,#50bbdd 79.5px,#2fa1db 80.5px,#3463b3 82.5px,#3253a9 85.5px,#3481c7 87.5px,#39ade0 88.5px,#67c0cd 89.5px,#90c779 90.5px,#abcf42 91.5px,#f2e91d 93.5px,#fcc518 95.5px,#f36d21 97.5px,#e52227 103.5px,#e82d26 106.5px,#f36c21 110.5px,#fcc718 112.5px,#f0e81e 114.5px,#fbda19 116.5px,#fcc018 117.5px,#f36c21 119.5px,#e62227 124.5px,#e72827 129.5px,#f36e21 134.5px,#fcc518 136.5px,#fbe71a 138.5px,#f47a20 142.5px,#f37021 145.5px,#f8a01c 147.5px,#fbdb19 149.5px,#f7ea1c 150.5px,#b1d13e 153.5px,#94c96e 155.5px,#67c0cd 157.5px,#46b8e4 158.5px,#30a4dc 159.5px,#3576bf 161.5px,#347cc3 163.5px,#31a5dd 164.5px,#64bfcf 165.5px,#89c689 166.5px,#8ec77e 167.5px,#5ebed4 169.5px,#51bbdc 170.5px,#70c2c2 172.5px,#95c96c 174.5px,#a9ce43 176.5px,#afd03f 180.5px,#9bca5e 187.5px,#bed536 193.5px,#e2e224 200.5px,#e0e125 209.5px,#cad92f 213.5px,#f7ea1c 215.5px,#fcd319 219.5px,#f6ea1c 222.5px,#a4cd48 225.5px,#8ec77f 226.5px,#69c1cc 227.5px,#3eb1e2 228.5px,#356cb9 230.5px,#3253a9 233.5px,#3355aa 237.5px,#3481c6 239.5px,#3db0e2 240.5px,#74c3ba 241.5px,#97c967 242.5px,#a9ce43 243.5px,#aacf42 244.5px,#9dcb5a 245.5px,#73c3bc 247.5px,#50bbdd 249.5px,#61bfd1 250.5px,#90c77a 251.5px,#afd03f 252.5px,#faec1a 254.5px,#faad1a 256.5px,#f37221 257.5px,#e62227 262.5px,#e22227 278.5px)"></i>
<i style="background:linear-gradient(90deg,#e82c26 0.5px,#f37021 4.5px,#fcd119 6.5px,#fbe91a 7.5px,#b7d33a 9.5px,#dadf27 16.5px,#b9d439 21.5px,#9dcb59 23.5px,#6bc1ca 26.5px,#39ade0 28.5px,#356bb8 32.5px,#356bb8 35.5px,#328ecf 37.5px,#39ace0 38.5px,#61bfd1 39.5px,#a6cd45 41.5px,#dbdf27 43.5px,#d7de28 46.5px,#a1cc4f 49.5px,#5dbed4 52.5px,#3db1e2 53.5px,#3464b4 56.5px,#3253a9 59.5px,#3355aa 66.5px,#3573bd 67.5px,#3cb0e1 68.5px,#85c694 69.5px,#b3d23d 70.5px,#d4dd29 71.5px,#bcd537 75.5px,#a4cd47 76.5px,#92c874 77.5px,#74c3bb 78.5px,#48b9e3 79.5px,#3099d6 80.5px,#345daf 82.5px,#3253a9 86.5px,#3481c7 88.5px,#39ade0 89.5px,#67c0cd 90.5px,#90c779 91.5px,#abcf42 92.5px,#f2e81e 94.5px,#fcc818 96.5px,#f37021 98.5px,#e62227 104.5px,#f26522 109.5px,#fbdb19 112.5px,#f5ea1c 113.5px,#d5dd29 114.5px,#d6dd29 115.5px,#f3e91d 116.5px,#fcc418 118.5px,#f36a21 120.5px,#e62227 125.5px,#e93026 131.5px,#f36d21 135.5px,#fcc518 137.5px,#fcd219 138.5px,#f47a20 140.5px,#ed4824 143.5px,#f05823 146.5px,#f68c1e 148.5px,#fcc218 149.5px,#f1e81e 151.5px,#bcd537 153.5px,#9bcb5d 155.5px,#73c3bc 157.5px,#53bcdb 158.5px,#38ace0 159.5px,#3572bd 162.5px,#3575bf 163.5px,#3db0e2 165.5px,#5cbed5 166.5px,#63bfd0 167.5px,#39ade0 170.5px,#51bbdc 172.5px,#7cc4a8 174.5px,#92c874 176.5px,#98ca65 180.5px,#91c875 187.5px,#b7d33a 193.5px,#fbe71a 200.5px,#fcc918 206.5px,#f6ea1c 213.5px,#fccc18 215.5px,#f5851f 217.5px,#f47a20 219.5px,#fbe019 223.5px,#d8de28 225.5px,#b3d23c 226.5px,#97c968 227.5px,#75c3b8 228.5px,#45b8e5 229.5px,#3193d2 230.5px,#3355aa 232.5px,#3356ab 238.5px,#3572bd 239.5px,#36a9df 240.5px,#74c3bb 241.5px,#9ccb5c 242.5px,#b6d33b 243.5px,#b7d33a 244.5px,#a0cc50 245.5px,#70c2c4 247.5px,#48b9e3 249.5px,#62bfd0 250.5px,#90c878 251.5px,#b0d13f 252.5px,#faec1a 254.5px,#faad1a 256.5px,#f37221 257.5px,#e62227 262.5px,#e02127 278.5px)"></i>
<i style="background:linear-gradient(90deg,#e72827 0.5px,#f26822 4.5px,#fcce19 6.5px,#fbe71a 7.5px,#e5e422 8.5px,#bad438 9.5px,#dadf27 16.5px,#c8d930 20.5px,#9ecb57 23.5px,#70c2c3 26.5px,#41b4e3 28.5px,#3193d2 30.5px,#3574be 33.5px,#328dce 36.5px,#31a5dd 37.5px,#4dbae0 38.5px,#77c3b4 39.5px,#98ca66 40.5px,#b9d439 41.5px,#e4e323 43.5px,#d9df27 48.5px,#afd03f 50.5px,#88c68c 52.5px,#6dc2c8 53.5px,#49b9e2 54.5px,#2fa2db 55.5px,#3356ab 58.5px,#3253a9 66.5px,#3569b7 67.5px,#31a5dd 68.5px,#79c4ae 69.5px,#a6cd44 70.5px,#ccda2e 71.5px,#bad438 75.5px,#a4cd47 76.5px,#92c875 77.5px,#73c3bc 78.5px,#47b8e4 79.5px,#3197d4 80.5px,#345aae 82.5px,#3253a9 87.5px,#3481c7 89.5px,#39ace0 90.5px,#65c0ce 91.5px,#8ec77e 92.5px,#a6cd44 93.5px,#eee71f 95.5px,#fccc18 97.5px,#f47420 99.5px,#e72a26 104.5px,#f16022 108.5px,#f47720 109.5px,#fcd319 111.5px,#fbeb1a 112.5px,#b8d339 114.5px,#afd03f 115.5px,#f6ea1c 117.5px,#fcbe18 119.5px,#f26622 121.5px,#e62227 126.5px,#e83026 132.5px,#f36d21 136.5px,#fcc018 138.5px,#f9a71b 139.5px,#f37021 140.5px,#eb3f25 143.5px,#ee5123 146.5px,#f5801f 148.5px,#fbbb19 149.5px,#f3e91d 151.5px,#a9ce42 153.5px,#92c873 155.5px,#69c1cc 157.5px,#4ab9e2 158.5px,#33a7de 159.5px,#356db9 162.5px,#3574be 164.5px,#2fa1db 166.5px,#309ad6 168.5px,#3384c8 170.5px,#41b4e3 174.5px,#73c3bb 179.5px,#8cc783 188.5px,#a4cd47 190.5px,#ece620 193.5px,#e2e224 197.5px,#fbea1a 199.5px,#faaf1a 205.5px,#fccf19 211.5px,#fbe21a 213.5px,#fccb18 214.5px,#f36f21 216.5px,#ee4e24 218.5px,#f36c21 221.5px,#fbd819 224.5px,#f9eb1b 225.5px,#bad439 227.5px,#9aca61 228.5px,#76c3b4 229.5px,#44b7e5 230.5px,#328fcf 231.5px,#3353a9 233.5px,#3253a9 238.5px,#356dba 239.5px,#32a6dd 240.5px,#73c3bc 241.5px,#9dcb58 242.5px,#bbd438 243.5px,#bbd438 244.5px,#a2cc4d 245.5px,#70c2c4 247.5px,#4ab9e1 249.5px,#6ec2c8 250.5px,#97c967 251.5px,#b9d439 252.5px,#fbe81a 254.5px,#f9a51b 256.5px,#f36e21 257.5px,#e52227 262.5px,#df2127 278.5px)"></i>
<i style="background:linear-gradient(90deg,#e72827 0.5px,#f26822 4.5px,#fcce19 6.5px,#fbe71a 7.5px,#e5e422 8.5px,#bad438 9.5px,#dadf27 15.5px,#c3d733 20.5px,#99ca62 23.5px,#6ec2c8 26.5px,#43b6e4 28.5px,#3291d0 31.5px,#3386ca 34.5px,#309fd9 36.5px,#3db1e2 37.5px,#5cbed5 38.5px,#9dcb59 40.5px,#c1d634 41.5px,#e8e422 43.5px,#f0e81e 48.5px,#c4d733 51.5px,#a8ce43 52.5px,#5ebed3 55.5px,#3aaee1 56.5px,#3458ac 59.5px,#3253a9 66.5px,#3467b5 67.5px,#309ed9 68.5px,#70c2c3 69.5px,#9ecb56 70.5px,#bfd635 71.5px,#bcd537 75.5px,#a7ce44 76.5px,#94c870 77.5px,#76c3b6 78.5px,#49b9e2 79.5px,#3098d5 80.5px,#345aad 82.5px,#3356ab 88.5px,#3386ca 90.5px,#3aade0 91.5px,#64c0cf 92.5px,#a3cc4a 94.5px,#eae521 96.5px,#fbe61a 97.5px,#faac1a 99.5px,#f47b20 100.5px,#e93526 104.5px,#ef5623 107.5px,#f26822 108.5px,#fcc918 110.5px,#fbe21a 111.5px,#ede620 112.5px,#a0cc51 114.5px,#9dcb5a 115.5px,#dee125 117.5px,#faeb1b 118.5px,#fbb619 120.5px,#f5811f 121.5px,#ec4325 124.5px,#e52227 127.5px,#e83026 133.5px,#f36e21 137.5px,#fcbd18 139.5px,#f47420 141.5px,#f05a23 144.5px,#f26922 146.5px,#fbe81a 150.5px,#bfd635 152.5px,#89c68a 154.5px,#66c0ce 156.5px,#37abdf 158.5px,#356eba 161.5px,#3462b3 164.5px,#3571bc 167.5px,#345fb1 171.5px,#34a7de 178.5px,#4fbade 181.5px,#79c4b0 186.5px,#9ecb55 188.5px,#dde026 190.5px,#f5ea1c 191.5px,#fbba19 194.5px,#fbec1a 197.5px,#eee71f 198.5px,#fbdf19 200.5px,#faac1a 205.5px,#fcc918 210.5px,#fbe019 212.5px,#fbd819 213.5px,#fbb619 214.5px,#f57d1f 215.5px,#eb4125 218.5px,#ed4724 220.5px,#f5841f 223.5px,#fbb819 224.5px,#f9eb1b 226.5px,#b3d23c 228.5px,#95c96d 229.5px,#6ec2c8 230.5px,#3cafe1 231.5px,#345fb1 233.5px,#3253a9 238.5px,#356cb9 239.5px,#30a4dc 240.5px,#70c2c4 241.5px,#9bca5f 242.5px,#b5d23b 243.5px,#b6d33b 244.5px,#a0cc51 245.5px,#72c3bf 247.5px,#55bcda 249.5px,#6fc2c6 250.5px,#98ca66 251.5px,#bad438 252.5px,#e5e422 253.5px,#fbe71a 254.5px,#fcce19 255.5px,#f26822 257.5px,#e52227 262.5px,#df2127 278.5px)"></i>
<i style="background:linear-gradient(90deg,#e72827 0.5px,#f26822 4.5px,#fcce19 6.5px,#fbe71a 7.5px,#e5e422 8.5px,#bad438 9.5px,#d8df27 15.5px,#c3d733 19.5px,#99ca63 22.5px,#60bfd2 26.5px,#34a8de 29.5px,#328cce 33.5px,#31a5dd 36.5px,#40b4e3 37.5px,#5dbed4 38.5px,#9ccb5b 40.5px,#c0d635 41.5px,#e9e521 43.5px,#f6ea1c 50.5px,#c0d635 53.5px,#a2cc4b 54.5px,#8ec77d 55.5px,#6fc2c7 56.5px,#43b7e4 57.5px,#3196d4 58.5px,#345daf 60.5px,#3459ad 63.5px,#3571bc 67.5px,#309cd7 68.5px,#67c0cd 69.5px,#97c969 70.5px,#b1d13e 71.5px,#c6d831 74.5px,#abcf42 76.5px,#96c96b 77.5px,#78c4b0 78.5px,#4cbae0 79.5px,#309ad6 80.5px,#345aad 82.5px,#3355aa 88.5px,#35a9de 91.5px,#5abdd6 92.5px,#97c968 94.5px,#c4d732 96.5px,#fbe81a 98.5px,#f9aa1b 100.5px,#f47420 101.5px,#eb3e25 104.5px,#ed4924 106.5px,#f37021 108.5px,#fcd119 110.5px,#fbe91a 111.5px,#b7d33a 113.5px,#9bca5d 114.5px,#9ecb55 116.5px,#e8e422 118.5px,#fbe61a 119.5px,#f9a31b 121.5px,#f36c21 122.5px,#e52227 127.5px,#e72527 133.5px,#f26322 137.5px,#f5821f 138.5px,#fbbc19 139.5px,#fcd119 140.5px,#f8991c 144.5px,#f7ea1c 149.5px,#c0d635 151.5px,#9fcb54 152.5px,#81c59c 153.5px,#66c0ce 154.5px,#40b4e3 156.5px,#3191d1 158.5px,#3459ad 162.5px,#345daf 176.5px,#31a4dd 181.5px,#4bbae1 183.5px,#61bfd2 184.5px,#7ac4ac 185.5px,#97c968 186.5px,#b1d13e 187.5px,#eee71f 189.5px,#fcd119 191.5px,#f36c21 194.5px,#f47c20 195.5px,#fbda19 198.5px,#faec1a 200.5px,#fbba19 205.5px,#fbda19 210.5px,#faec1a 212.5px,#faad1a 214.5px,#f37221 215.5px,#e82f26 219.5px,#f26822 223.5px,#fcc118 225.5px,#f3e91d 227.5px,#a6cd45 229.5px,#59bdd7 231.5px,#2fa0da 232.5px,#3355aa 234.5px,#3353a9 238.5px,#356cb9 239.5px,#2fa1db 240.5px,#68c0cd 241.5px,#94c870 242.5px,#a6cd45 243.5px,#a8ce43 244.5px,#89c689 246.5px,#75c3b8 247.5px,#64c0cf 249.5px,#6fc2c6 250.5px,#97c967 251.5px,#bad438 252.5px,#e5e323 253.5px,#fbe71a 254.5px,#f9a31b 256.5px,#f36c21 257.5px,#e52227 262.5px,#df2127 278.5px)"></i>
<i style="background:linear-gradient(90deg,#e72a26 0.5px,#f36b21 4.5px,#fcce19 6.5px,#fbe71a 7.5px,#e5e422 8.5px,#bad438 9.5px,#d1dc2b 16.5px,#add040 19.5px,#67c0cd 24.5px,#45b8e5 26.5px,#309ad7 29.5px,#328acc 34.5px,#39ade0 37.5px,#50bbdd 38.5px,#74c3b9 39.5px,#95c96d 40.5px,#b6d33b 41.5px,#dadf27 42.5px,#e9e521 44.5px,#eee71f 47.5px,#f8eb1b 52.5px,#add040 55.5px,#93c872 56.5px,#73c3bd 57.5px,#46b8e5 58.5px,#3198d5 59.5px,#3574be 60.5px,#356cb9 61.5px,#3bafe1 64.5px,#51bbdc 67.5px,#4ab9e1 68.5px,#61bfd1 69.5px,#90c779 70.5px,#a5cd46 71.5px,#c6d831 74.5px,#abcf41 76.5px,#96c96a 77.5px,#78c4b1 78.5px,#4bbae1 79.5px,#3099d6 80.5px,#3459ad 82.5px,#3354a9 88.5px,#347ec4 90.5px,#31a5dd 91.5px,#53bcdb 92.5px,#93c871 94.5px,#a3cc4b 95.5px,#cad92f 97.5px,#efe71f 98.5px,#fcc718 100.5px,#f36a21 102.5px,#eb3f25 105.5px,#f47520 108.5px,#fcd419 110.5px,#faec1a 111.5px,#afd03f 113.5px,#9bca5d 114.5px,#9dcb58 116.5px,#b0d13e 117.5px,#faec1a 119.5px,#faad1a 121.5px,#f47420 122.5px,#e62227 127.5px,#e82d26 134.5px,#f37321 138.5px,#fcd219 140.5px,#faec1a 142.5px,#ece620 147.5px,#a4cd47 150.5px,#91c877 151.5px,#73c3bd 152.5px,#42b6e4 154.5px,#3387ca 157.5px,#3353a9 162.5px,#3457ac 178.5px,#3290d0 181.5px,#3aaee1 182.5px,#63bfd0 183.5px,#a3cd49 185.5px,#fbec1a 188.5px,#fcc018 190.5px,#f37121 192.5px,#ee5123 194.5px,#f47c20 197.5px,#fbdb19 200.5px,#fbe61a 202.5px,#fcd219 206.5px,#ebe620 211.5px,#faec1a 212.5px,#faad1a 214.5px,#f37221 215.5px,#e82c26 219.5px,#f05c23 223.5px,#f37021 224.5px,#fccf19 226.5px,#fbe71a 227.5px,#e6e422 228.5px,#bcd537 229.5px,#9aca61 230.5px,#73c3bc 231.5px,#40b3e3 232.5px,#3461b2 234.5px,#3253a9 237.5px,#3355aa 238.5px,#356dba 239.5px,#309cd8 240.5px,#5cbed5 241.5px,#88c68b 242.5px,#9aca5f 243.5px,#9dcb59 244.5px,#7ac4ad 247.5px,#75c3b7 249.5px,#7cc4a8 250.5px,#b0d13e 252.5px,#faec1a 254.5px,#faad1a 256.5px,#f47420 257.5px,#e62227 262.5px,#df2127 278.5px)"></i>
<i style="background:linear-gradient(90deg,#e82f26 0.5px,#f47620 4.5px,#faaf1a 5.5px,#faec1a 7.5px,#b1d13e 9.5px,#c0d635 16.5px,#a4cd48 18.5px,#61bfd2 22.5px,#3eb1e2 24.5px,#3386c9 28.5px,#3575bf 34.5px,#3197d5 37.5px,#39ace0 38.5px,#5abdd6 39.5px,#a4cd47 41.5px,#d1dc2b 42.5px,#e6e422 43.5px,#dce026 47.5px,#fbe71a 50.5px,#faeb1b 53.5px,#ccda2e 55.5px,#a5cd45 56.5px,#69c1cb 58.5px,#3fb2e2 59.5px,#3192d1 60.5px,#3aaee1 61.5px,#5ebed3 62.5px,#92c873 64.5px,#a3cc4b 66.5px,#9fcb55 68.5px,#93c871 70.5px,#b0d13f 72.5px,#c3d733 74.5px,#a6cd44 76.5px,#93c872 77.5px,#74c3bb 78.5px,#46b8e5 79.5px,#3194d3 80.5px,#3457ab 82.5px,#3253a9 88.5px,#3575bf 90.5px,#309bd7 91.5px,#47b9e3 92.5px,#70c2c4 93.5px,#8cc783 94.5px,#a9ce43 96.5px,#b6d33b 97.5px,#f7ea1c 99.5px,#fbb919 101.5px,#f5821f 102.5px,#ec4524 105.5px,#f47720 108.5px,#faaf1a 109.5px,#fbe91a 111.5px,#bfd636 113.5px,#9fcb54 114.5px,#9ccb5a 115.5px,#a2cc4c 116.5px,#e8e422 118.5px,#fbe71a 119.5px,#faae1a 121.5px,#f47720 122.5px,#e62227 127.5px,#e72827 134.5px,#f26722 138.5px,#fcc718 140.5px,#eee71f 142.5px,#bdd536 144.5px,#a1cc4e 147.5px,#8dc780 149.5px,#6bc1ca 151.5px,#43b6e4 153.5px,#3194d3 155.5px,#3356ab 160.5px,#3356ab 178.5px,#328fcf 180.5px,#41b4e3 181.5px,#6fc2c6 182.5px,#92c873 183.5px,#accf41 184.5px,#f1e81e 186.5px,#fccb18 188.5px,#f47c20 190.5px,#eb3d25 194.5px,#f26722 198.5px,#fccf19 201.5px,#f7ea1c 203.5px,#eae521 209.5px,#dce026 211.5px,#faec1a 212.5px,#faad1a 214.5px,#f37321 215.5px,#e82d26 219.5px,#e93526 221.5px,#f26522 224.5px,#f5851f 225.5px,#fcbe18 226.5px,#f2e91d 228.5px,#a4cd48 230.5px,#52bbdb 232.5px,#3099d5 233.5px,#3253a9 235.5px,#3356ab 238.5px,#3196d4 240.5px,#4ebadf 241.5px,#79c4ae 242.5px,#8fc77c 243.5px,#93c872 244.5px,#7fc5a0 247.5px,#84c595 249.5px,#94c96e 251.5px,#a8ce43 252.5px,#f5ea1c 254.5px,#fbb819 256.5px,#f47b20 257.5px,#e62227 262.5px,#df2127 278.5px)"></i>
<i style="background:linear-gradient(90deg,#ea3625 0.5px,#f26622 3.5px,#fcc018 5.5px,#f2e81e 7.5px,#a4cd48 9.5px,#a4cd47 16.5px,#90c77a 18.5px,#61bfd2 20.5px,#45b8e5 21.5px,#3098d5 23.5px,#3467b6 28.5px,#3465b5 35.5px,#3575bf 37.5px,#3aade0 39.5px,#6ac1cb 40.5px,#96c969 41.5px,#c0d635 42.5px,#dde026 43.5px,#d2dc2a 45.5px,#c2d733 47.5px,#fbea1a 52.5px,#eee71f 54.5px,#b7d33a 56.5px,#99ca63 57.5px,#56bcd9 59.5px,#46b8e4 60.5px,#77c3b4 61.5px,#98ca66 62.5px,#b2d13d 63.5px,#e6e422 65.5px,#eae521 68.5px,#aed03f 72.5px,#b4d23c 75.5px,#a0cc50 76.5px,#8ec77f 77.5px,#6cc2c9 78.5px,#40b3e3 79.5px,#3355aa 82.5px,#3459ad 89.5px,#3cb0e1 92.5px,#60bfd2 93.5px,#93c872 95.5px,#bcd537 98.5px,#fbe81a 100.5px,#f9a81b 102.5px,#f37121 103.5px,#ec4524 106.5px,#f57d1f 109.5px,#fcd319 111.5px,#fbea1a 112.5px,#cfdb2c 115.5px,#fbe61a 118.5px,#faac1a 120.5px,#f47920 121.5px,#e72927 126.5px,#e62327 134.5px,#f47c20 139.5px,#fbb919 140.5px,#f4e91d 142.5px,#a4cd46 144.5px,#96c96a 145.5px,#70c2c3 151.5px,#42b5e4 153.5px,#2fa1db 154.5px,#3569b7 157.5px,#3253a9 161.5px,#345eb0 177.5px,#309cd8 179.5px,#4dbadf 180.5px,#7bc4ab 181.5px,#9aca60 182.5px,#dce026 184.5px,#f6ea1c 185.5px,#fcc318 187.5px,#f36e21 189.5px,#e72a26 194.5px,#f37021 200.5px,#fcc018 202.5px,#fbec1a 204.5px,#dde026 207.5px,#d5dd29 211.5px,#f6ea1c 212.5px,#fbb719 214.5px,#f47c20 215.5px,#e93126 219.5px,#e72527 220.5px,#f15e23 224.5px,#f47720 225.5px,#fab11a 226.5px,#f9eb1b 228.5px,#aed040 230.5px,#8fc77b 231.5px,#60bfd2 232.5px,#30a4dc 233.5px,#3355aa 235.5px,#3457ab 238.5px,#328fcf 240.5px,#41b5e4 241.5px,#80c59f 243.5px,#88c68c 245.5px,#89c68a 248.5px,#a5cd45 252.5px,#f1e81e 254.5px,#fcc118 256.5px,#f6871e 257.5px,#ee5123 259.5px,#e52227 263.5px,#df2127 278.5px)"></i>
<i style="background:linear-gradient(90deg,#ec4125 0.5px,#f47720 3.5px,#fcd319 5.5px,#fbeb1a 6.5px,#b8d33a 8.5px,#97c967 9.5px,#93c871 13.5px,#8fc77a 16.5px,#6dc2c9 18.5px,#4dbadf 19.5px,#35a8de 20.5px,#356eba 23.5px,#3353a9 29.5px,#345eb0 37.5px,#328cce 39.5px,#44b8e5 40.5px,#81c59d 41.5px,#a5cd45 42.5px,#cad92f 43.5px,#cedb2c 44.5px,#a3cd49 47.5px,#ebe620 52.5px,#d7de28 55.5px,#9ecb57 57.5px,#67c0cd 59.5px,#70c2c3 60.5px,#97c967 61.5px,#b7d33a 62.5px,#faec1a 64.5px,#fcc118 66.5px,#fcc718 68.5px,#f6ea1c 71.5px,#b9d439 73.5px,#a8ce43 75.5px,#9aca60 76.5px,#63bfd0 78.5px,#3baee1 79.5px,#3355aa 82.5px,#3456ab 89.5px,#32a6dd 92.5px,#4fbade 93.5px,#70c2c3 94.5px,#94c96f 96.5px,#a7ce44 98.5px,#f4e91d 100.5px,#fbbc19 102.5px,#f5821f 103.5px,#ec4325 106.5px,#f26322 109.5px,#f57d1f 110.5px,#faaf1a 111.5px,#fbdb19 114.5px,#fcd619 116.5px,#f89b1c 119.5px,#f16022 121.5px,#e52227 126.5px,#e62227 134.5px,#f16022 138.5px,#f47b20 139.5px,#fbb919 140.5px,#f4e91d 142.5px,#a4cd46 144.5px,#97c969 145.5px,#85c692 149.5px,#7ec4a3 151.5px,#4bb9e1 153.5px,#30a4dc 154.5px,#3466b5 157.5px,#3253a9 161.5px,#345eb0 175.5px,#3198d5 177.5px,#42b5e4 178.5px,#6ac1cb 179.5px,#a1cc4f 181.5px,#fbea1a 184.5px,#fbb819 186.5px,#f26922 188.5px,#e52227 194.5px,#eb3d25 198.5px,#f57d1f 202.5px,#fccb18 204.5px,#f3e91d 206.5px,#c6d831 208.5px,#c7d831 211.5px,#eee71f 212.5px,#fbe119 213.5px,#fcc818 214.5px,#f26922 216.5px,#e72a26 220.5px,#ed4924 223.5px,#f37221 225.5px,#fcd419 227.5px,#faec1a 228.5px,#afd03f 230.5px,#90c77a 231.5px,#61bfd1 232.5px,#31a5dd 233.5px,#3355aa 235.5px,#3457ab 238.5px,#38abdf 241.5px,#71c3c0 243.5px,#81c59c 245.5px,#94c96e 249.5px,#aacf42 252.5px,#ece620 254.5px,#fbe21a 255.5px,#fcc918 256.5px,#f26722 258.5px,#e52227 263.5px,#df2127 278.5px)"></i>
<i style="background:linear-gradient(90deg,#f05823 0.5px,#f47a20 2.5px,#fccd19 4.5px,#fbe41a 5.5px,#ebe620 6.5px,#a0cc51 8.5px,#81c59c 9.5px,#76c3b4 13.5px,#75c3b8 15.5px,#3eb2e2 18.5px,#347dc4 20.5px,#3356ab 23.5px,#3458ac 38.5px,#356fbb 39.5px,#309dd8 40.5px,#62bfd1 41.5px,#93c872 42.5px,#aacf42 43.5px,#b1d13e 44.5px,#92c875 47.5px,#afd03f 50.5px,#d9df27 53.5px,#ccda2e 55.5px,#9ecb56 57.5px,#71c2c1 59.5px,#86c690 60.5px,#a4cd47 61.5px,#f2e91d 63.5px,#fcc018 65.5px,#f6891e 66.5px,#f36b21 67.5px,#f6881e 69.5px,#fbd819 71.5px,#f8eb1b 72.5px,#aed03f 74.5px,#94c96f 76.5px,#5dbed4 78.5px,#39ace0 79.5px,#3457ab 82.5px,#3356ab 89.5px,#309cd8 92.5px,#41b4e3 93.5px,#77c3b2 95.5px,#9ccb5c 98.5px,#e8e521 100.5px,#fbe51a 101.5px,#f9a21b 103.5px,#f36c21 104.5px,#eb3c25 107.5px,#f7921d 115.5px,#e52227 125.5px,#e62227 134.5px,#f16022 138.5px,#f47b20 139.5px,#fbb919 140.5px,#f4e91d 142.5px,#a4cd46 144.5px,#93c873 146.5px,#8ec77e 149.5px,#8ec77e 151.5px,#5abdd6 153.5px,#36aadf 154.5px,#3467b6 157.5px,#3253a9 161.5px,#345eb0 173.5px,#3198d5 175.5px,#42b5e4 176.5px,#6ac1cb 177.5px,#a0cc52 179.5px,#f2e91d 182.5px,#fccf19 184.5px,#f47c20 186.5px,#e82d26 191.5px,#e62227 197.5px,#f36d21 203.5px,#fcd519 206.5px,#fbe81a 207.5px,#b8d339 210.5px,#b5d23c 211.5px,#f9eb1b 213.5px,#fab31a 215.5px,#f47b20 216.5px,#e93326 220.5px,#e82d26 221.5px,#f37221 225.5px,#fcd419 227.5px,#faec1a 228.5px,#afd03f 230.5px,#90c77a 231.5px,#61bfd1 232.5px,#31a5dd 233.5px,#3355aa 235.5px,#3356ab 238.5px,#347cc3 240.5px,#2f9fda 241.5px,#44b7e5 242.5px,#77c3b2 245.5px,#a3cc4b 252.5px,#b7d33a 253.5px,#fbea1a 255.5px,#f9a91b 257.5px,#f37221 258.5px,#e62227 263.5px,#df2127 278.5px)"></i>
<i style="background:linear-gradient(90deg,#f7971d 0.5px,#fbea1a 4.5px,#a2cc4c 7.5px,#60bfd2 9.5px,#3fb2e2 16.5px,#328ccd 18.5px,#3356ab 21.5px,#3253a9 38.5px,#345fb1 39.5px,#41b4e3 41.5px,#78c4b0 42.5px,#94c96f 43.5px,#99ca63 44.5px,#7dc4a6 47.5px,#8ec77e 49.5px,#a5cd45 51.5px,#c3d733 54.5px,#aacf42 56.5px,#8cc783 58.5px,#75c3b7 59.5px,#98ca65 60.5px,#b9d439 61.5px,#fbe91a 63.5px,#f9a91b 65.5px,#f37221 66.5px,#f05823 68.5px,#f36b21 69.5px,#fcca18 71.5px,#fbe31a 72.5px,#ece620 73.5px,#9fcb55 75.5px,#5ebed4 78.5px,#3db0e2 79.5px,#3461b2 82.5px,#3354a9 88.5px,#347cc3 91.5px,#3aaee1 93.5px,#69c1cb 95.5px,#8fc77b 98.5px,#add040 99.5px,#f8eb1b 101.5px,#fab41a 103.5px,#f47a20 104.5px,#e93526 108.5px,#ef5223 116.5px,#e42227 125.5px,#e62227 134.5px,#f16022 138.5px,#f47b20 139.5px,#fbb919 140.5px,#f4e91d 142.5px,#a4cd46 144.5px,#94c96f 146.5px,#8fc77c 148.5px,#97c968 151.5px,#89c68a 152.5px,#68c0cd 153.5px,#3eb1e2 154.5px,#356dba 157.5px,#3253a9 162.5px,#3457ab 170.5px,#347bc2 172.5px,#309dd8 173.5px,#43b6e4 174.5px,#6ac1cb 175.5px,#a0cc52 177.5px,#f2e91d 180.5px,#fcd019 182.5px,#f36e21 185.5px,#e62227 191.5px,#e62527 199.5px,#f47420 205.5px,#fcc318 207.5px,#f9eb1b 209.5px,#c5d832 211.5px,#c6d831 212.5px,#fbe51a 214.5px,#f9a31b 216.5px,#f37121 217.5px,#e93526 221.5px,#f47620 225.5px,#faaf1a 226.5px,#faeb1b 228.5px,#afd03f 230.5px,#8fc77a 231.5px,#60bfd2 232.5px,#30a4dd 233.5px,#3355aa 235.5px,#345fb1 239.5px,#34a8de 242.5px,#57bcd8 244.5px,#81c59c 249.5px,#94c970 252.5px,#a4cd47 253.5px,#f2e91d 255.5px,#fcc018 257.5px,#f26622 259.5px,#e52227 264.5px,#df2127 278.5px)"></i>
<i style="background:linear-gradient(90deg,#fbe71a 0.5px,#e7e422 3.5px,#b3d23d 5.5px,#99ca62 6.5px,#52bbdc 8.5px,#37abdf 9.5px,#328dce 16.5px,#3354aa 20.5px,#3458ac 39.5px,#3572bd 40.5px,#2fa3dc 41.5px,#5bbdd6 42.5px,#7bc4aa 43.5px,#83c597 44.5px,#6bc1ca 47.5px,#71c2c1 48.5px,#a1cc4f 52.5px,#a8ce43 55.5px,#83c598 59.5px,#a3cc4a 60.5px,#f1e81e 62.5px,#fcc018 64.5px,#f26622 66.5px,#ee4f24 68.5px,#f47c20 70.5px,#fbb519 71.5px,#f8eb1b 73.5px,#afd03f 75.5px,#67c0cd 78.5px,#49b9e2 79.5px,#32a6dd 80.5px,#3467b6 83.5px,#3459ad 87.5px,#3385c9 91.5px,#48b9e3 94.5px,#79c4b0 97.5px,#82c59a 98.5px,#a0cc51 99.5px,#eee71f 101.5px,#fcc718 103.5px,#f26722 105.5px,#e72627 110.5px,#e93526 116.5px,#e32227 124.5px,#e62227 134.5px,#f16022 138.5px,#f47b20 139.5px,#fbb919 140.5px,#f4e91d 142.5px,#a4cd46 144.5px,#91c878 147.5px,#9aca60 151.5px,#8ec77f 152.5px,#6ec2c7 153.5px,#43b6e4 154.5px,#309ed9 155.5px,#3570bb 158.5px,#3355aa 167.5px,#356dba 169.5px,#34a8de 171.5px,#52bbdc 172.5px,#74c3bb 173.5px,#90c879 174.5px,#bcd537 176.5px,#f2e91d 178.5px,#fcd019 180.5px,#f36e21 183.5px,#e52227 190.5px,#e72827 201.5px,#f26622 206.5px,#fbe019 210.5px,#dbdf27 212.5px,#d2dc2a 213.5px,#fbe119 215.5px,#f8a11c 217.5px,#f37321 218.5px,#ec4424 221.5px,#f26622 224.5px,#f6891e 225.5px,#fcc018 226.5px,#f2e81e 228.5px,#a4cd48 230.5px,#53bbdb 232.5px,#3099d6 233.5px,#3353a9 235.5px,#3458ac 239.5px,#38ace0 244.5px,#5bbdd6 249.5px,#74c3ba 252.5px,#98ca65 253.5px,#b9d439 254.5px,#fbe91a 256.5px,#f9a91b 258.5px,#f37221 259.5px,#e62227 264.5px,#df2127 278.5px)"></i>
<i style="background:linear-gradient(90deg,#bad438 0.5px,#a2cc4d 3.5px,#5ebed3 6.5px,#3baee1 7.5px,#328ccd 8.5px,#3574be 12.5px,#3464b4 17.5px,#3253a9 22.5px,#3458ac 39.5px,#3194d2 41.5px,#43b6e4 42.5px,#6dc2c9 44.5px,#64c0cf 48.5px,#80c59f 50.5px,#9ccb5c 53.5px,#99ca64 56.5px,#85c693 58.5px,#8ac688 59.5px,#a8ce43 60.5px,#f5ea1c 62.5px,#fbb819 64.5px,#f47b20 65.5px,#ee4d24 67.5px,#ed4824 68.5px,#f36a21 70.5px,#fcc718 72.5px,#f0e81e 74.5px,#a5cd46 76.5px,#75c3b7 78.5px,#4ab9e2 80.5px,#309cd7 82.5px,#3575bf 85.5px,#347ec4 89.5px,#39ade0 93.5px,#6cc1ca 97.5px,#75c3b8 98.5px,#95c96c 99.5px,#b6d33b 100.5px,#fbea1a 102.5px,#f9aa1b 104.5px,#f37321 105.5px,#e62227 110.5px,#e62227 134.5px,#f16022 138.5px,#f47b20 139.5px,#fbb919 140.5px,#f4e91d 142.5px,#a4cd46 144.5px,#8fc77a 147.5px,#97c968 151.5px,#8ac688 152.5px,#6cc2c9 153.5px,#45b8e5 154.5px,#31a5dd 155.5px,#347fc5 159.5px,#3574be 167.5px,#3bafe1 169.5px,#5fbed3 170.5px,#abcf41 173.5px,#f6ea1c 176.5px,#fbb619 179.5px,#f36e21 181.5px,#e52227 188.5px,#e82b26 203.5px,#f36c21 208.5px,#fcd319 211.5px,#fbe71a 212.5px,#d8de28 214.5px,#fbe51a 216.5px,#fab21a 218.5px,#f36b21 220.5px,#f05d23 222.5px,#f6871e 224.5px,#fcd619 226.5px,#faec1a 227.5px,#b7d33a 229.5px,#97c967 230.5px,#70c2c3 231.5px,#3db1e2 232.5px,#345fb1 234.5px,#3354a9 239.5px,#3195d3 247.5px,#36aadf 251.5px,#55bcd9 252.5px,#a4cd47 254.5px,#f2e91d 256.5px,#fcc018 258.5px,#f26622 260.5px,#e52227 266.5px,#df2127 278.5px)"></i>
<i style="background:linear-gradient(90deg,#6fc2c6 0.5px,#57bcd8 3.5px,#2fa1db 5.5px,#356cb9 7.5px,#3253a9 20.5px,#345bae 39.5px,#37abdf 42.5px,#58bdd8 44.5px,#5bbdd5 48.5px,#76c3b6 50.5px,#92c874 53.5px,#91c877 56.5px,#80c59e 58.5px,#90c77a 59.5px,#afd03f 60.5px,#faec1a 62.5px,#faad1a 64.5px,#f47420 65.5px,#eb4125 68.5px,#f37021 71.5px,#fccc18 73.5px,#fbe41a 74.5px,#ebe620 75.5px,#a1cc4f 77.5px,#86c690 78.5px,#6ec2c8 80.5px,#41b4e3 83.5px,#309fd9 89.5px,#53bbdb 96.5px,#67c0cd 98.5px,#a7ce44 100.5px,#f4e91d 102.5px,#fbbc19 104.5px,#f5821f 105.5px,#ec4225 108.5px,#e52227 111.5px,#e62527 134.5px,#f16222 138.5px,#f57e1f 139.5px,#fbba19 140.5px,#f4e91d 142.5px,#a4cd47 144.5px,#96c96a 145.5px,#88c68c 148.5px,#8ec77e 151.5px,#61bfd1 153.5px,#42b5e4 154.5px,#309ad7 157.5px,#41b4e3 167.5px,#60bed2 168.5px,#9bca5f 170.5px,#d3dc2a 172.5px,#fbec1a 174.5px,#faac1a 177.5px,#f15d23 180.5px,#e52227 186.5px,#e62427 204.5px,#f47520 210.5px,#fcc818 212.5px,#f4e91d 214.5px,#dfe125 215.5px,#f7ea1c 217.5px,#f9a81b 221.5px,#fab11a 223.5px,#f6ea1c 226.5px,#b9d439 228.5px,#9aca61 229.5px,#78c3b2 230.5px,#47b8e4 231.5px,#3193d2 232.5px,#3354aa 234.5px,#3463b3 244.5px,#3570bb 250.5px,#3383c8 251.5px,#3db1e2 252.5px,#70c2c3 253.5px,#97c967 254.5px,#b8d33a 255.5px,#fbeb1a 257.5px,#fbb819 259.5px,#f36e21 261.5px,#e52227 268.5px,#df2127 278.5px)"></i>
<i style="background:linear-gradient(90deg,#347ec4 0.5px,#3253a9 8.5px,#3356ab 38.5px,#3386ca 41.5px,#3eb2e2 43.5px,#60bfd2 49.5px,#8bc785 54.5px,#83c597 57.5px,#7cc4a7 58.5px,#b0d13e 60.5px,#faec1a 62.5px,#faad1a 64.5px,#f37221 65.5px,#ea3b25 68.5px,#f16022 71.5px,#f47620 72.5px,#fcd119 74.5px,#fbe81a 75.5px,#bfd635 77.5px,#9ccb5b 78.5px,#81c59c 81.5px,#66c0ce 84.5px,#3fb2e2 90.5px,#4ebadf 97.5px,#56bcd9 98.5px,#77c3b2 99.5px,#9dcb5a 100.5px,#eae521 102.5px,#fbe41a 103.5px,#fccb18 104.5px,#f36b21 106.5px,#e62227 111.5px,#e62227 133.5px,#f36f21 138.5px,#fccc18 140.5px,#fbe51a 141.5px,#eae521 142.5px,#9ecb56 144.5px,#85c692 146.5px,#7ac4ac 148.5px,#7dc4a5 150.5px,#67c0cd 152.5px,#4bbae0 153.5px,#2fa1da 156.5px,#54bcda 161.5px,#80c59d 166.5px,#83c598 167.5px,#b4d23c 169.5px,#fbe71a 172.5px,#f89e1c 175.5px,#f26922 177.5px,#e52227 184.5px,#e72727 206.5px,#f36b21 211.5px,#fcd519 214.5px,#fbea1a 215.5px,#d4dd29 217.5px,#faec1a 221.5px,#f1e81e 224.5px,#a4cd47 227.5px,#91c877 228.5px,#70c2c3 229.5px,#43b6e4 230.5px,#3191d1 231.5px,#3355aa 233.5px,#3355aa 250.5px,#3196d4 252.5px,#4cbae0 253.5px,#7cc4a9 254.5px,#9bcb5d 255.5px,#dadf27 257.5px,#fbe31a 259.5px,#fbb619 261.5px,#f36e21 263.5px,#e62327 269.5px,#df2127 278.5px)"></i>
<i style="background:linear-gradient(90deg,#3253a9 0.5px,#3457ac 38.5px,#3cafe1 44.5px,#57bcd9 49.5px,#82c59b 55.5px,#7ac4ad 58.5px,#97c967 59.5px,#bad438 60.5px,#e5e323 61.5px,#fbe71a 62.5px,#f9a31b 64.5px,#f36c21 65.5px,#e93526 69.5px,#f57e1f 73.5px,#fbb619 74.5px,#f8eb1b 76.5px,#aed03f 78.5px,#9aca60 80.5px,#7cc4a7 85.5px,#5fbed3 88.5px,#3bafe1 93.5px,#45b8e5 98.5px,#62bfd0 99.5px,#90c77a 100.5px,#add040 101.5px,#f7ea1c 103.5px,#fbb919 105.5px,#f5821f 106.5px,#ec4325 109.5px,#e52227 112.5px,#e72827 133.5px,#f26622 137.5px,#fcc018 139.5px,#f3e91d 141.5px,#a7ce44 143.5px,#8ac687 144.5px,#71c3c0 146.5px,#42b5e4 152.5px,#3194d3 155.5px,#3aade0 158.5px,#5cbed5 160.5px,#80c59e 162.5px,#9ecb55 165.5px,#abcf41 167.5px,#fbe91a 170.5px,#fcbe18 172.5px,#f47320 174.5px,#e72627 181.5px,#e62427 207.5px,#f26322 212.5px,#f47a20 213.5px,#fcd119 215.5px,#fbe91a 216.5px,#a5cd45 219.5px,#a6cd45 224.5px,#8dc77f 226.5px,#72c3c0 227.5px,#4bb9e1 228.5px,#2fa1db 229.5px,#3463b3 231.5px,#3253a9 235.5px,#3356ab 251.5px,#3192d1 253.5px,#41b4e3 254.5px,#69c1cb 255.5px,#a0cc52 257.5px,#f2e91d 260.5px,#fcd019 262.5px,#f36a21 265.5px,#e52227 271.5px,#df2127 278.5px)"></i>
<i style="background:linear-gradient(90deg,#3253a9 0.5px,#345daf 39.5px,#34a8de 45.5px,#56bcd9 50.5px,#7bc4aa 56.5px,#79c4af 58.5px,#98ca66 59.5px,#bad438 60.5px,#e5e422 61.5px,#fbe71a 62.5px,#fcce19 63.5px,#f26822 65.5px,#e82d26 69.5px,#f36b21 73.5px,#fcca18 75.5px,#fbe31a 76.5px,#ece620 77.5px,#a6cd44 79.5px,#91c877 84.5px,#67c0cd 88.5px,#3baee1 92.5px,#3aade0 98.5px,#42b6e4 99.5px,#75c3b8 100.5px,#9aca60 101.5px,#bcd537 102.5px,#fbe91a 104.5px,#f9aa1b 106.5px,#f47420 107.5px,#e82b26 112.5px,#e72727 131.5px,#f16022 136.5px,#f47720 137.5px,#fcd319 139.5px,#fbeb1a 140.5px,#b8d33a 142.5px,#97c967 143.5px,#70c2c3 144.5px,#41b4e3 147.5px,#328ecf 152.5px,#3579c1 155.5px,#33a7de 158.5px,#44b7e5 159.5px,#77c3b2 161.5px,#9aca60 163.5px,#b7d33a 165.5px,#f8eb1b 168.5px,#fcc418 170.5px,#f47720 172.5px,#e72a26 178.5px,#e72a26 209.5px,#f26622 213.5px,#fcc718 215.5px,#fbe119 216.5px,#ede71f 217.5px,#9fcb54 219.5px,#7ec5a3 220.5px,#6cc1ca 221.5px,#49b9e2 225.5px,#3196d4 227.5px,#345daf 230.5px,#3354a9 252.5px,#3574be 254.5px,#3198d5 255.5px,#42b5e4 256.5px,#6ac1cb 257.5px,#a0cc52 259.5px,#f6ea1c 262.5px,#fcc618 264.5px,#f47520 266.5px,#e62327 272.5px,#df2127 278.5px)"></i>
<i style="background:linear-gradient(90deg,#3253a9 0.5px,#3356ab 39.5px,#36aadf 48.5px,#52bbdc 51.5px,#77c3b3 57.5px,#78c4b1 58.5px,#97c969 59.5px,#b8d339 60.5px,#fbe91a 62.5px,#f9a61b 64.5px,#f36f21 65.5px,#e82c26 69.5px,#f16122 73.5px,#f47c20 74.5px,#fbb519 75.5px,#f8eb1b 77.5px,#b0d13e 79.5px,#8fc77b 84.5px,#6ec2c8 87.5px,#42b5e4 90.5px,#3197d5 95.5px,#34a8de 99.5px,#53bbdb 100.5px,#a2cc4c 102.5px,#efe71f 104.5px,#fcc718 106.5px,#f47420 108.5px,#e82c26 115.5px,#e82f26 129.5px,#f47620 136.5px,#fcca18 138.5px,#fbe31a 139.5px,#ece620 140.5px,#a0cc51 142.5px,#4ebadf 144.5px,#2fa1db 146.5px,#356dba 151.5px,#3465b4 155.5px,#3195d3 158.5px,#53bbdb 160.5px,#72c3be 161.5px,#a0cc52 163.5px,#f3e91d 166.5px,#fccc18 168.5px,#f26722 171.5px,#e62227 177.5px,#e62427 209.5px,#f26322 213.5px,#f5821f 214.5px,#fbbd19 215.5px,#f3e91d 217.5px,#a4cd48 219.5px,#55bcda 221.5px,#38abdf 223.5px,#3457ab 230.5px,#3354aa 254.5px,#3574be 256.5px,#3198d5 257.5px,#43b6e4 258.5px,#6ec2c7 259.5px,#91c877 260.5px,#a8ce43 261.5px,#eae521 263.5px,#fbe71a 264.5px,#fbb619 266.5px,#f36a21 268.5px,#e62227 273.5px,#df2127 278.5px)"></i>
<i style="background:linear-gradient(90deg,#356bb8 0.5px,#3253a9 18.5px,#345daf 41.5px,#39ade0 50.5px,#71c2c1 57.5px,#74c3b9 58.5px,#afd03f 60.5px,#faec1a 62.5px,#faad1a 64.5px,#f37221 65.5px,#e82c26 69.5px,#f05c23 73.5px,#f36f21 74.5px,#fccf19 76.5px,#fbe71a 77.5px,#e5e323 78.5px,#a0cc52 80.5px,#81c59c 84.5px,#58bdd8 87.5px,#34a7de 90.5px,#3388cb 95.5px,#36aadf 100.5px,#64bfcf 101.5px,#8fc77c 102.5px,#a9ce42 103.5px,#ece620 105.5px,#fcd619 107.5px,#f26922 111.5px,#ed4924 115.5px,#ed4a24 128.5px,#f26522 132.5px,#fbe81a 138.5px,#ccda2d 140.5px,#a5cd45 141.5px,#5ebed3 143.5px,#32a6dd 144.5px,#356eba 147.5px,#3353a9 153.5px,#345db0 156.5px,#3388cb 158.5px,#37aadf 159.5px,#5ebed3 160.5px,#a2cc4d 162.5px,#e7e422 164.5px,#fbe81a 165.5px,#fbb719 167.5px,#f36d21 169.5px,#e62327 175.5px,#e62227 209.5px,#f47920 214.5px,#fab41a 215.5px,#f7eb1b 217.5px,#accf41 219.5px,#8ec77f 220.5px,#5ebed4 221.5px,#41b5e4 222.5px,#3387ca 225.5px,#3353a9 230.5px,#3355aa 256.5px,#3481c6 258.5px,#32a6dd 259.5px,#58bdd8 260.5px,#9dcb5a 262.5px,#e2e224 264.5px,#fbec1a 265.5px,#fbb419 267.5px,#f47a20 268.5px,#e62227 273.5px,#df2127 278.5px)"></i>
<i style="background:linear-gradient(90deg,#51bbdc 0.5px,#309cd8 8.5px,#3356ab 14.5px,#3459ad 42.5px,#3aaee1 52.5px,#6bc1ca 58.5px,#aacf42 60.5px,#f7ea1c 62.5px,#fbb519 64.5px,#f47a20 65.5px,#ea3a25 69.5px,#ef5623 72.5px,#f68c1e 74.5px,#fcbf18 75.5px,#f4e91d 77.5px,#aacf42 79.5px,#92c873 80.5px,#66c0ce 84.5px,#3cb0e1 87.5px,#347bc3 93.5px,#3388cb 98.5px,#39ade0 101.5px,#5dbed4 102.5px,#9bca5f 104.5px,#d2dc2a 106.5px,#faec1a 108.5px,#fab41a 111.5px,#f68e1e 112.5px,#f36e21 117.5px,#f26822 123.5px,#f5831f 130.5px,#f68d1e 131.5px,#fcd719 134.5px,#f4e91d 136.5px,#b2d13d 139.5px,#9bca5f 140.5px,#5abdd6 142.5px,#33a7de 143.5px,#3466b5 146.5px,#3253a9 150.5px,#3355aa 155.5px,#3389cb 157.5px,#3db0e2 158.5px,#6ac1cb 159.5px,#90c879 160.5px,#a8ce43 161.5px,#eee71f 163.5px,#fccd19 165.5px,#f47920 167.5px,#e82f26 172.5px,#df2127 180.5px,#e82c26 210.5px,#f37121 214.5px,#fcd219 216.5px,#fbea1a 217.5px,#b6d33b 219.5px,#95c96d 220.5px,#6ac1cb 221.5px,#41b5e4 222.5px,#3384c8 225.5px,#3253a9 230.5px,#3355aa 256.5px,#3193d2 259.5px,#3aade0 260.5px,#61bfd1 261.5px,#90c879 262.5px,#afd03f 263.5px,#faec1a 265.5px,#faad1a 267.5px,#f37221 268.5px,#e62227 273.5px,#df2127 278.5px)"></i>
<i style="background:linear-gradient(90deg,#a3cd49 0.5px,#87c68f 8.5px,#5abdd6 11.5px,#42b5e4 12.5px,#328dce 14.5px,#3356ab 18.5px,#345aad 44.5px,#3198d5 52.5px,#4cbae0 57.5px,#55bcda 58.5px,#7fc5a0 59.5px,#a1cc4f 60.5px,#eee71f 62.5px,#fccc18 64.5px,#f36c21 67.5px,#ef5323 69.5px,#f26522 72.5px,#f5811f 73.5px,#fbb719 74.5px,#f9eb1b 76.5px,#b4d23c 78.5px,#95c96c 79.5px,#76c3b6 80.5px,#4bbae1 83.5px,#3192d1 87.5px,#356eba 93.5px,#347fc5 98.5px,#3aade0 102.5px,#48b9e3 103.5px,#64c0cf 104.5px,#a8ce43 107.5px,#f2e91d 110.5px,#fbb719 121.5px,#f4e91d 133.5px,#a2cc4d 137.5px,#81c59c 139.5px,#68c0cc 140.5px,#46b8e4 141.5px,#31a5dd 142.5px,#3568b6 145.5px,#3253a9 149.5px,#3457ac 154.5px,#3194d3 156.5px,#46b8e5 157.5px,#75c3b9 158.5px,#96c96a 159.5px,#b2d13d 160.5px,#f4e91d 162.5px,#fcc618 164.5px,#f37021 166.5px,#e52227 172.5px,#e72a26 210.5px,#f26822 214.5px,#fcce19 216.5px,#fbe71a 217.5px,#e5e422 218.5px,#bad438 219.5px,#98ca66 220.5px,#6fc2c6 221.5px,#42b5e4 222.5px,#3383c8 225.5px,#3353a9 229.5px,#3457ab 256.5px,#3195d3 259.5px,#3baee1 260.5px,#6dc2c9 261.5px,#97c969 262.5px,#b8d339 263.5px,#fbe91a 265.5px,#f9a61b 267.5px,#f36f21 268.5px,#e52227 273.5px,#df2127 278.5px)"></i>
<i style="background:linear-gradient(90deg,#f2e81e 0.5px,#c6d831 9.5px,#a2cc4c 11.5px,#5abdd6 15.5px,#42b5e4 16.5px,#328dce 18.5px,#3356ab 22.5px,#345bae 47.5px,#39ace0 58.5px,#5fbed2 59.5px,#a3cc4b 61.5px,#f7ea1c 64.5px,#fbb619 67.5px,#f68e1e 68.5px,#f7911d 70.5px,#fbeb1a 75.5px,#bcd537 77.5px,#9bca5f 78.5px,#77c3b3 79.5px,#46b8e4 80.5px,#3099d6 83.5px,#3569b7 89.5px,#356cb9 96.5px,#3aade0 102.5px,#57bcd8 104.5px,#84c595 107.5px,#a0cc50 109.5px,#d0db2b 112.5px,#f2e81e 122.5px,#d5dd29 133.5px,#a8ce43 136.5px,#8ac686 138.5px,#5abdd6 140.5px,#3fb2e3 141.5px,#3385c9 143.5px,#3354aa 147.5px,#3354a9 152.5px,#347dc4 154.5px,#32a6dd 155.5px,#58bdd8 156.5px,#9ccb5a 158.5px,#e0e224 160.5px,#f9eb1b 161.5px,#fcbe18 163.5px,#f36b21 165.5px,#e52227 171.5px,#e82c26 210.5px,#f37121 214.5px,#fcd219 216.5px,#fbea1a 217.5px,#b6d33b 219.5px,#95c96d 220.5px,#6ac1cb 221.5px,#42b5e4 222.5px,#3382c7 225.5px,#3253a9 229.5px,#345bae 256.5px,#309dd8 259.5px,#41b4e3 260.5px,#6fc2c6 261.5px,#98ca66 262.5px,#bad438 263.5px,#e5e422 264.5px,#fbe71a 265.5px,#fcce19 266.5px,#f26822 268.5px,#e52227 273.5px,#df2127 278.5px)"></i>
<i style="background:linear-gradient(90deg,#fbbb19 0.5px,#f8eb1b 10.5px,#a2cc4c 15.5px,#5abdd6 19.5px,#42b5e4 20.5px,#328bcd 22.5px,#3573be 23.5px,#3253a9 37.5px,#3462b2 52.5px,#328bcd 58.5px,#309fd9 59.5px,#4bb9e1 60.5px,#73c3be 61.5px,#91c877 62.5px,#a4cd47 63.5px,#f2e81e 66.5px,#fbe019 70.5px,#f4e91d 73.5px,#b3d23d 76.5px,#99ca62 77.5px,#7ac4ab 78.5px,#4cbae0 79.5px,#3198d5 80.5px,#3576bf 82.5px,#3458ac 91.5px,#3578c1 98.5px,#31a5dd 101.5px,#5ebed4 104.5px,#7cc4a7 106.5px,#a2cc4c 110.5px,#cdda2d 116.5px,#cedb2c 126.5px,#dde026 132.5px,#bdd537 135.5px,#99ca62 137.5px,#74c3bb 139.5px,#3eb2e2 141.5px,#3387ca 143.5px,#345bae 147.5px,#3458ac 151.5px,#3192d1 153.5px,#42b5e4 154.5px,#6ec2c7 155.5px,#91c877 156.5px,#a8ce43 157.5px,#eae521 159.5px,#fbe71a 160.5px,#fab41a 162.5px,#f5831f 163.5px,#ed4824 166.5px,#e52227 170.5px,#e62227 209.5px,#f47820 214.5px,#fab21a 215.5px,#f8eb1b 217.5px,#add040 219.5px,#8fc77d 220.5px,#5fbed3 221.5px,#42b5e4 222.5px,#3382c7 225.5px,#3253a9 229.5px,#3355aa 255.5px,#328bcd 258.5px,#34a8de 259.5px,#4ebadf 260.5px,#70c2c3 261.5px,#97c967 262.5px,#bad438 263.5px,#e5e323 264.5px,#fbe71a 265.5px,#f9a31b 267.5px,#f36c21 268.5px,#e52227 273.5px,#df2127 278.5px)"></i>
<i style="background:linear-gradient(90deg,#f26722 0.5px,#f5821f 7.5px,#fbe41a 13.5px,#c9d930 17.5px,#a2cc4c 19.5px,#84c595 21.5px,#69c1cc 22.5px,#46b8e4 23.5px,#3197d4 28.5px,#3355aa 38.5px,#3460b1 56.5px,#347dc4 60.5px,#2fa1da 61.5px,#48b9e3 62.5px,#6cc2c9 63.5px,#9ecb56 65.5px,#c6d831 67.5px,#cad92f 70.5px,#9ecb55 74.5px,#7ec4a3 76.5px,#5ebed3 77.5px,#3baee1 78.5px,#356bb8 80.5px,#3353a9 87.5px,#3462b2 95.5px,#36aadf 101.5px,#55bcda 103.5px,#83c597 106.5px,#a5cd46 110.5px,#ccda2d 116.5px,#cedb2c 126.5px,#dce026 132.5px,#bcd537 135.5px,#9aca61 137.5px,#5cbed4 140.5px,#43b6e4 141.5px,#3192d1 143.5px,#3570bb 146.5px,#3570bc 150.5px,#347dc4 151.5px,#32a6dd 152.5px,#58bdd8 153.5px,#9ccb5b 155.5px,#dde026 157.5px,#f6ea1c 158.5px,#fcc618 160.5px,#f47520 162.5px,#e62227 168.5px,#e62327 209.5px,#f26222 213.5px,#f5801f 214.5px,#fbbb19 215.5px,#f3e91d 217.5px,#a4cd47 219.5px,#53bcdb 221.5px,#34a7de 223.5px,#3459ad 228.5px,#3457ac 255.5px,#3196d4 258.5px,#3db0e2 259.5px,#5cbed5 260.5px,#b0d13e 263.5px,#faec1a 265.5px,#faad1a 267.5px,#f37221 268.5px,#e62227 273.5px,#df2127 278.5px)"></i>
<i style="background:linear-gradient(90deg,#ec4225 0.5px,#f15f22 9.5px,#f8a11c 13.5px,#fbe41a 17.5px,#d8df27 20.5px,#a4cd48 22.5px,#7dc4a5 24.5px,#5bbdd5 28.5px,#3baee1 31.5px,#3457ac 40.5px,#345aad 59.5px,#3574be 62.5px,#3eb1e2 64.5px,#7ec5a3 67.5px,#85c693 69.5px,#5cbed4 73.5px,#3db0e2 75.5px,#3384c8 77.5px,#3459ad 79.5px,#345daf 92.5px,#31a5dd 98.5px,#59bdd7 102.5px,#7ec5a2 105.5px,#a1cc4f 109.5px,#c8d930 116.5px,#cbda2e 126.5px,#d8df27 132.5px,#a8ce43 136.5px,#66c0ce 140.5px,#3db0e2 142.5px,#328bcc 146.5px,#2fa1db 150.5px,#44b7e5 151.5px,#6ec2c7 152.5px,#91c877 153.5px,#a8ce43 154.5px,#eae521 156.5px,#fbe71a 157.5px,#fbb619 159.5px,#f36a21 161.5px,#e52227 167.5px,#e72627 209.5px,#f26622 213.5px,#f68b1e 214.5px,#fcc518 215.5px,#fbe019 216.5px,#eee71f 217.5px,#9fcc53 219.5px,#7cc4a8 220.5px,#53bbdb 221.5px,#33a7de 223.5px,#345aad 228.5px,#345cae 255.5px,#309fda 258.5px,#44b7e4 259.5px,#66c0ce 260.5px,#afd03f 263.5px,#faec1a 265.5px,#faad1a 267.5px,#f47420 268.5px,#e62227 273.5px,#e02127 278.5px)"></i>
<i style="background:linear-gradient(90deg,#e72627 0.5px,#eb4025 9.5px,#f47720 15.5px,#fbe019 20.5px,#e6e422 22.5px,#9ecb55 25.5px,#5dbed4 32.5px,#34a8de 35.5px,#345daf 41.5px,#345bae 63.5px,#3197d5 68.5px,#347dc4 72.5px,#3253a9 78.5px,#345bae 88.5px,#30a4dd 92.5px,#42b5e4 93.5px,#7ec5a3 96.5px,#93c872 99.5px,#b8d33a 106.5px,#d2dc2a 113.5px,#d1dc2a 129.5px,#c6d831 134.5px,#9dcb59 137.5px,#63bfd0 141.5px,#3db0e2 144.5px,#3eb1e2 148.5px,#52bbdc 149.5px,#74c3bb 150.5px,#90c879 151.5px,#bcd537 153.5px,#f6ea1c 155.5px,#fcc618 157.5px,#f47520 159.5px,#e62327 165.5px,#e72926 209.5px,#f26822 213.5px,#fccd19 215.5px,#fbe61a 216.5px,#e8e521 217.5px,#bed536 218.5px,#9bca5f 219.5px,#73c3bb 220.5px,#54bcda 221.5px,#34a8de 223.5px,#345bae 228.5px,#3354aa 254.5px,#3384c9 257.5px,#2fa2db 258.5px,#45b8e5 259.5px,#66c0cd 260.5px,#a8ce43 263.5px,#f5ea1c 265.5px,#fbb819 267.5px,#f47b20 268.5px,#e93426 272.5px,#e32227 276.5px,#e22227 278.5px)"></i>
<i style="background:linear-gradient(90deg,#e42227 0.5px,#e82c26 10.5px,#f36d21 18.5px,#fcd619 22.5px,#f3e91d 24.5px,#a0cc52 28.5px,#81c59b 32.5px,#55bcda 35.5px,#36a9df 37.5px,#3460b1 42.5px,#3253a9 50.5px,#345bae 84.5px,#30a4dd 88.5px,#42b5e4 89.5px,#73c3be 91.5px,#a2cc4c 94.5px,#d9df27 98.5px,#fbe61a 107.5px,#fbdc19 124.5px,#eae521 127.5px,#ccda2e 131.5px,#accf41 136.5px,#6fc2c5 142.5px,#5abdd6 146.5px,#64c0cf 147.5px,#abcf41 150.5px,#f6ea1c 153.5px,#fbb519 156.5px,#f36a21 158.5px,#e52227 164.5px,#e62227 208.5px,#f37321 213.5px,#fcd219 215.5px,#fbeb1a 216.5px,#b4d23c 218.5px,#94c870 219.5px,#6cc2c9 220.5px,#44b7e4 222.5px,#3385c9 225.5px,#3355aa 229.5px,#3356ab 254.5px,#3383c7 257.5px,#3fb3e3 259.5px,#75c3b7 261.5px,#a2cc4c 263.5px,#f0e81e 265.5px,#fcc718 267.5px,#f47520 269.5px,#e62327 275.5px,#e52227 278.5px)"></i>
<i style="background:linear-gradient(90deg,#e12127 0.5px,#e82c26 14.5px,#f47320 21.5px,#fbdb19 25.5px,#ece620 27.5px,#a1cc4f 30.5px,#83c598 34.5px,#50bbdd 37.5px,#2fa3dc 39.5px,#3459ad 44.5px,#3459ad 81.5px,#30a4dc 84.5px,#42b5e4 85.5px,#73c3be 87.5px,#a2cc4c 90.5px,#f8eb1b 95.5px,#f9a31b 106.5px,#f5831f 112.5px,#f68b1e 124.5px,#fbd919 128.5px,#eae521 131.5px,#a0cc50 138.5px,#7fc5a0 144.5px,#7dc4a4 145.5px,#84c595 146.5px,#b4d23c 148.5px,#fbec1a 151.5px,#faac1a 154.5px,#f15d23 157.5px,#e52227 163.5px,#e62227 208.5px,#f47b20 213.5px,#fbb719 214.5px,#f6ea1c 216.5px,#a9ce43 218.5px,#70c2c4 220.5px,#46b8e4 222.5px,#3386ca 225.5px,#3253a9 230.5px,#3457ab 254.5px,#3193d2 258.5px,#45b8e5 260.5px,#73c3bb 262.5px,#a7ce44 264.5px,#eae521 266.5px,#fbe71a 267.5px,#fbb619 269.5px,#f36a21 271.5px,#ea3925 275.5px,#e82f26 278.5px)"></i>
<i style="background:linear-gradient(90deg,#df2127 0.5px,#e82c26 17.5px,#f47c20 24.5px,#fcd619 27.5px,#ebe620 29.5px,#abcf41 31.5px,#8ac687 35.5px,#6cc2c9 37.5px,#42b5e4 39.5px,#3193d2 41.5px,#345bae 45.5px,#3457ab 79.5px,#3bafe1 82.5px,#5fbed3 83.5px,#95c96c 85.5px,#b5d23c 87.5px,#f8eb1b 91.5px,#fbba19 95.5px,#f57f1f 98.5px,#ee4e24 112.5px,#ef5623 124.5px,#f68b1e 128.5px,#fbd919 132.5px,#ebe620 134.5px,#b6d33b 136.5px,#99ca62 145.5px,#d3dc2a 147.5px,#fbe71a 149.5px,#f89e1c 152.5px,#f26922 154.5px,#e52227 161.5px,#e72627 208.5px,#f26522 212.5px,#f6891e 213.5px,#fcc318 214.5px,#f0e81e 216.5px,#a1cc4e 218.5px,#84c595 219.5px,#60bed2 221.5px,#38ace0 223.5px,#345eb0 228.5px,#3253a9 245.5px,#3457ab 254.5px,#3197d4 259.5px,#41b4e3 261.5px,#65c0cf 263.5px,#9ccb5b 265.5px,#dde026 267.5px,#f6ea1c 268.5px,#fcc618 270.5px,#f47520 272.5px,#f05723 275.5px,#ee4d24 278.5px)"></i>
<i style="background:linear-gradient(90deg,#e02127 0.5px,#e72727 19.5px,#f16122 25.5px,#f47420 26.5px,#fcc418 28.5px,#f7eb1b 30.5px,#a4cd48 33.5px,#8bc686 36.5px,#6bc1ca 38.5px,#40b3e3 40.5px,#328fd0 42.5px,#3355aa 47.5px,#3457ac 77.5px,#3576bf 79.5px,#2fa2db 80.5px,#53bbdb 81.5px,#9aca60 83.5px,#d3dc2a 85.5px,#fbe41a 88.5px,#f8a11c 92.5px,#f15f22 96.5px,#e93426 109.5px,#ea3a25 124.5px,#f47820 131.5px,#fccf19 133.5px,#fbe81a 134.5px,#bdd536 136.5px,#accf41 144.5px,#fbeb1a 147.5px,#fcbe18 149.5px,#f47320 151.5px,#e72627 158.5px,#e72926 208.5px,#f26822 212.5px,#fccc18 214.5px,#fbe51a 215.5px,#e9e521 216.5px,#9bca5d 218.5px,#62bfd0 221.5px,#39ace0 223.5px,#345eb0 228.5px,#3353a9 253.5px,#3191d1 260.5px,#4ebade 264.5px,#6ec2c7 265.5px,#91c877 266.5px,#a8ce43 267.5px,#eae521 269.5px,#fbe81a 270.5px,#f8a01c 274.5px,#f47a20 278.5px)"></i>
<i style="background:linear-gradient(90deg,#e22227 0.5px,#e72926 22.5px,#f26822 27.5px,#fcd019 30.5px,#efe71f 32.5px,#9ccb5c 35.5px,#5fbed3 39.5px,#48b9e3 40.5px,#3384c8 43.5px,#3353a9 48.5px,#345cae 75.5px,#356cb9 77.5px,#39ace0 79.5px,#63bfd0 80.5px,#a3cd49 82.5px,#e8e521 84.5px,#fbe91a 85.5px,#f36a21 91.5px,#e72926 101.5px,#e72727 125.5px,#ef5523 130.5px,#f26722 131.5px,#fcc818 133.5px,#fbe21a 134.5px,#ede620 135.5px,#c5d832 136.5px,#c4d732 143.5px,#f5e91d 145.5px,#fcc918 147.5px,#f26322 150.5px,#e62327 156.5px,#e62227 207.5px,#f37321 212.5px,#fcd219 214.5px,#fbeb1a 215.5px,#b4d23c 217.5px,#62bfd0 221.5px,#49b9e2 222.5px,#3198d5 224.5px,#345cae 228.5px,#345bae 255.5px,#309fda 263.5px,#3fb2e3 265.5px,#58bdd8 266.5px,#9aca5f 268.5px,#d2dc2a 270.5px,#faec1a 273.5px,#fcd319 278.5px)"></i>
<i style="background:linear-gradient(90deg,#e42227 0.5px,#e82c26 24.5px,#f37021 29.5px,#fcc118 31.5px,#faec1a 33.5px,#bdd536 35.5px,#9bcb5d 36.5px,#80c59d 37.5px,#5dbed4 39.5px,#46b8e4 40.5px,#3384c8 43.5px,#3353a9 48.5px,#345bae 72.5px,#357ac2 76.5px,#3193d2 77.5px,#44b7e4 78.5px,#72c3bf 79.5px,#94c96e 80.5px,#aed03f 81.5px,#f1e81e 83.5px,#fccb18 85.5px,#f47720 87.5px,#ed4724 91.5px,#e52227 99.5px,#e62427 127.5px,#f26522 131.5px,#f6891e 132.5px,#fcc518 133.5px,#fbe019 134.5px,#eee71f 135.5px,#ccda2e 136.5px,#cfdb2c 142.5px,#fbec1a 144.5px,#fbb719 146.5px,#f36b21 148.5px,#e62227 154.5px,#e62327 207.5px,#f47c20 212.5px,#fbb719 213.5px,#f6ea1c 215.5px,#a9ce43 217.5px,#5fbed2 221.5px,#46b8e5 222.5px,#3193d2 224.5px,#3458ac 228.5px,#345caf 256.5px,#328ccd 263.5px,#39ade0 266.5px,#44b7e5 267.5px,#5fbed2 268.5px,#92c873 270.5px,#a9ce43 272.5px,#dadf27 278.5px)"></i>
<i style="background:linear-gradient(90deg,#e82f26 0.5px,#e82c26 25.5px,#f26922 30.5px,#fbdb19 33.5px,#f3e91d 34.5px,#a4cd48 36.5px,#84c694 37.5px,#68c0cc 38.5px,#40b3e3 40.5px,#3192d1 42.5px,#3355aa 47.5px,#345bae 69.5px,#328fcf 75.5px,#2fa2db 76.5px,#53bbdb 77.5px,#9ccb5b 79.5px,#dfe125 81.5px,#f8eb1b 82.5px,#fcc118 84.5px,#f36e21 86.5px,#e72727 92.5px,#e62427 127.5px,#f26322 131.5px,#f5821f 132.5px,#fbbd19 133.5px,#f3e91d 135.5px,#d1dc2b 136.5px,#ccda2d 142.5px,#fbe91a 144.5px,#f9a81b 146.5px,#f37121 147.5px,#e62527 152.5px,#e72827 207.5px,#f26722 211.5px,#fcc718 213.5px,#eee71f 215.5px,#a1cc4e 217.5px,#5bbdd5 221.5px,#42b5e4 222.5px,#328ece 224.5px,#3356ab 228.5px,#345cae 257.5px,#3196d3 265.5px,#49b9e2 269.5px,#7cc4a7 274.5px,#8fc77a 278.5px)"></i>
<i style="background:linear-gradient(90deg,#ee4e24 0.5px,#ec4424 25.5px,#ef5423 28.5px,#f5831f 30.5px,#fcd419 32.5px,#fbea1a 33.5px,#bdd536 35.5px,#9bcb5d 36.5px,#78c3b2 37.5px,#5bbdd5 38.5px,#39ace0 40.5px,#3463b3 45.5px,#3253a9 51.5px,#345cae 67.5px,#2fa2dc 74.5px,#3aaee1 75.5px,#63bfd0 76.5px,#a3cd49 78.5px,#e8e521 80.5px,#fbe81a 81.5px,#fbb519 83.5px,#f26722 85.5px,#e52227 91.5px,#e72727 126.5px,#f26722 131.5px,#f5831f 132.5px,#fbbb19 133.5px,#f3e91d 135.5px,#d2dc2a 136.5px,#c2d734 142.5px,#f4e91d 144.5px,#fcbe18 146.5px,#f5851f 147.5px,#ef5223 149.5px,#e52227 153.5px,#e62227 206.5px,#f47420 211.5px,#fcd219 213.5px,#fbea1a 214.5px,#9fcc53 217.5px,#59bdd7 221.5px,#41b4e3 222.5px,#2fa2dc 223.5px,#3569b7 226.5px,#3253a9 230.5px,#345bae 258.5px,#309ed9 267.5px,#4cbae0 272.5px,#61bfd1 278.5px)"></i>
<i style="background:linear-gradient(90deg,#f57f1f 0.5px,#f16122 19.5px,#f36f21 28.5px,#f6891e 29.5px,#fcd619 31.5px,#faec1a 32.5px,#bbd438 34.5px,#9ccb5c 35.5px,#7cc4a8 36.5px,#64c0cf 37.5px,#41b4e3 39.5px,#3387ca 42.5px,#3354aa 47.5px,#345eb0 66.5px,#39ace0 73.5px,#43b6e4 74.5px,#5fbed3 75.5px,#8dc781 76.5px,#a9ce43 77.5px,#f1e81e 79.5px,#fccb18 81.5px,#f47720 83.5px,#e62227 89.5px,#e62427 124.5px,#f37221 130.5px,#fcc118 132.5px,#faec1a 134.5px,#ccda2e 136.5px,#b2d13d 142.5px,#bdd537 143.5px,#e7e422 144.5px,#fbe71a 145.5px,#f9a51b 147.5px,#f36e21 148.5px,#e82f26 153.5px,#e32227 162.5px,#e72527 206.5px,#f26422 210.5px,#f5831f 211.5px,#fcbe18 212.5px,#f3e91d 214.5px,#accf41 216.5px,#86c690 219.5px,#5bbdd5 221.5px,#42b5e4 222.5px,#328ece 224.5px,#3355aa 228.5px,#345aad 259.5px,#39ace0 274.5px,#3cb0e1 278.5px)"></i>
<i style="background:linear-gradient(90deg,#fcd519 0.5px,#fbb719 19.5px,#fcd019 29.5px,#f5ea1c 31.5px,#b7d33a 33.5px,#99ca62 34.5px,#7fc5a1 35.5px,#62bfd1 37.5px,#37aadf 40.5px,#345aad 47.5px,#345cae 65.5px,#30a4dc 71.5px,#56bcd9 74.5px,#71c2c2 75.5px,#99ca63 76.5px,#bbd438 77.5px,#e6e422 78.5px,#fbe71a 79.5px,#f9a41b 81.5px,#f36f21 82.5px,#e52227 88.5px,#e72a26 123.5px,#f36a21 128.5px,#fcd219 131.5px,#ede620 133.5px,#bfd635 135.5px,#a2cc4c 142.5px,#a9ce43 143.5px,#f4e91d 145.5px,#fcc218 147.5px,#f47a20 149.5px,#e82e26 156.5px,#e32227 186.5px,#e72926 205.5px,#f36c21 210.5px,#fccd19 212.5px,#fbe51a 213.5px,#e8e521 214.5px,#c0d635 215.5px,#97c966 218.5px,#65c0cf 221.5px,#38ace0 223.5px,#3459ad 228.5px,#345caf 261.5px,#328ecf 276.5px,#328fcf 278.5px)"></i>
<i style="background:linear-gradient(90deg,#dde026 0.5px,#f0e81e 20.5px,#d7de28 30.5px,#a4cd47 32.5px,#76c3b5 36.5px,#42b5e4 40.5px,#3195d3 43.5px,#3457ac 50.5px,#345daf 65.5px,#3198d5 70.5px,#4ebadf 73.5px,#5ebed3 74.5px,#7ac4ad 75.5px,#9ecb55 76.5px,#ede71f 78.5px,#fbe119 79.5px,#fcc718 80.5px,#f26622 82.5px,#e52227 87.5px,#e62527 121.5px,#f26322 126.5px,#fbde19 130.5px,#f5ea1c 131.5px,#aacf42 134.5px,#97c967 143.5px,#d2dc2a 145.5px,#fbe91a 147.5px,#faaf1a 150.5px,#f26622 153.5px,#ec4225 159.5px,#e62327 177.5px,#e93026 203.5px,#f36c21 209.5px,#f6871e 210.5px,#fbd819 212.5px,#f7eb1b 213.5px,#c2d733 215.5px,#9ecb57 218.5px,#5fbed2 222.5px,#48b9e3 223.5px,#3198d5 225.5px,#345aae 229.5px,#3459ad 263.5px,#3570bb 278.5px)"></i>
<i style="background:linear-gradient(90deg,#d0db2b 0.5px,#d1dc2b 25.5px,#a2cc4d 31.5px,#63bfd0 39.5px,#3aade0 43.5px,#345daf 53.5px,#345cae 65.5px,#3193d2 70.5px,#4cbae0 73.5px,#5ebed4 74.5px,#7ec5a2 75.5px,#a1cc50 76.5px,#efe71f 78.5px,#fcc418 80.5px,#f6891e 81.5px,#ee5123 83.5px,#e52227 87.5px,#e72926 120.5px,#f36e21 125.5px,#fbd719 128.5px,#fbeb1a 129.5px,#a6cd44 132.5px,#9aca5f 133.5px,#8ec77e 144.5px,#afd03f 146.5px,#f2e91d 149.5px,#fcc518 152.5px,#f57f1f 155.5px,#ec4624 168.5px,#eb3e25 196.5px,#ef5223 204.5px,#f7951d 208.5px,#fcce19 210.5px,#f6ea1c 212.5px,#c3d733 216.5px,#9ecb57 219.5px,#65c0ce 223.5px,#3cb0e1 225.5px,#328bcd 227.5px,#3353a9 232.5px,#345daf 278.5px)"></i>
<i style="background:linear-gradient(90deg,#cbda2e 0.5px,#ccda2d 25.5px,#9dcb58 32.5px,#65c0cf 41.5px,#3baee1 46.5px,#356dba 54.5px,#3355aa 63.5px,#357ac2 69.5px,#38ace0 72.5px,#59bdd7 74.5px,#a4cd46 76.5px,#f4e91d 78.5px,#fbb919 80.5px,#f47c20 81.5px,#e62327 86.5px,#e62327 118.5px,#f26322 123.5px,#f47b20 124.5px,#fccb18 126.5px,#f1e81e 128.5px,#b2d13d 130.5px,#8fc77a 132.5px,#82c599 137.5px,#84c595 144.5px,#81c59c 146.5px,#b1d13e 149.5px,#f4e91d 152.5px,#f36e21 168.5px,#f05b23 192.5px,#f47a20 204.5px,#fccc18 207.5px,#fbea1a 209.5px,#bbd438 218.5px,#99ca63 221.5px,#5dbed4 225.5px,#37abdf 227.5px,#345daf 232.5px,#3354a9 278.5px)"></i>
<i style="background:linear-gradient(90deg,#b8d33a 0.5px,#b8d339 25.5px,#99ca64 32.5px,#5fbed3 44.5px,#3baee1 49.5px,#356bb8 57.5px,#3458ac 65.5px,#3385c9 70.5px,#41b5e4 73.5px,#5cbed5 74.5px,#aacf42 76.5px,#f7ea1c 78.5px,#fbb519 80.5px,#f47a20 81.5px,#e62227 86.5px,#e72627 117.5px,#f36b21 122.5px,#fcd519 125.5px,#fbea1a 126.5px,#a3cc4a 129.5px,#87c68e 131.5px,#6ec2c8 135.5px,#7cc4a7 144.5px,#68c0cc 148.5px,#77c3b3 149.5px,#9fcb54 151.5px,#d2dc2a 154.5px,#fbe61a 162.5px,#fcc118 172.5px,#faac1a 180.5px,#f7981d 189.5px,#fcc118 199.5px,#fbda19 205.5px,#ede71f 208.5px,#d6de28 217.5px,#a0cc51 222.5px,#7fc5a1 225.5px,#6fc2c6 226.5px,#43b7e4 228.5px,#3195d3 230.5px,#345daf 234.5px,#3253a9 278.5px)"></i>
<i style="background:linear-gradient(90deg,#9ccb5c 0.5px,#99ca62 26.5px,#64c0cf 43.5px,#3cb0e2 50.5px,#3573bd 57.5px,#3458ac 64.5px,#3384c8 70.5px,#41b4e3 73.5px,#61bfd1 74.5px,#90c879 75.5px,#afd03f 76.5px,#faec1a 78.5px,#faad1a 80.5px,#f37221 81.5px,#e62227 86.5px,#e82b26 116.5px,#f37321 121.5px,#fcc618 123.5px,#f5ea1c 125.5px,#b7d33a 127.5px,#84c595 130.5px,#6dc2c9 132.5px,#53bbdb 136.5px,#63bfd0 145.5px,#44b7e5 150.5px,#7ec5a3 153.5px,#a0cc51 158.5px,#e2e224 167.5px,#fbe61a 184.5px,#fbd919 198.5px,#f4e91d 209.5px,#cedb2c 220.5px,#a0cc51 224.5px,#7dc4a6 227.5px,#6cc2c9 228.5px,#42b5e4 230.5px,#3382c7 233.5px,#3355aa 238.5px,#3253a9 278.5px)"></i>
<i style="background:linear-gradient(90deg,#78c4b0 0.5px,#72c3bf 27.5px,#3db0e2 47.5px,#347cc3 56.5px,#345daf 64.5px,#347dc4 69.5px,#39ace0 72.5px,#47b9e3 73.5px,#6dc2c9 74.5px,#97c969 75.5px,#b8d339 76.5px,#fbe91a 78.5px,#f9a61b 80.5px,#f36f21 81.5px,#e62227 86.5px,#e72926 114.5px,#f26622 119.5px,#fcd219 122.5px,#fbe61a 123.5px,#cdda2d 125.5px,#9ccb5a 127.5px,#69c1cb 131.5px,#42b5e4 135.5px,#2fa1da 148.5px,#2fa0da 153.5px,#4dbadf 158.5px,#70c2c4 161.5px,#a4cd47 166.5px,#d6dd29 171.5px,#fbe61a 185.5px,#fcd119 197.5px,#f4e91d 211.5px,#cfdb2c 222.5px,#9fcb53 226.5px,#6dc2c9 230.5px,#45b8e5 232.5px,#328dce 235.5px,#3456ab 241.5px,#3253a9 278.5px)"></i>
<i style="background:linear-gradient(90deg,#3eb1e2 0.5px,#309ad6 41.5px,#3464b4 64.5px,#328ccd 69.5px,#43b6e4 72.5px,#6ec2c8 74.5px,#97c967 75.5px,#b9d439 76.5px,#fbe81a 78.5px,#f9a71b 80.5px,#f47420 81.5px,#e62327 88.5px,#e82c26 112.5px,#f47320 118.5px,#fbda19 121.5px,#f9eb1b 122.5px,#a3cc4a 126.5px,#64c0cf 131.5px,#40b3e3 135.5px,#3194d2 153.5px,#35a9df 158.5px,#59bdd7 161.5px,#7bc4aa 163.5px,#9ecb57 166.5px,#c4d732 170.5px,#fbe61a 185.5px,#fcd719 198.5px,#f4e91d 213.5px,#d8de28 223.5px,#a1cc50 228.5px,#67c0cd 233.5px,#45b8e5 235.5px,#3194d3 238.5px,#3460b1 244.5px,#3253a9 269.5px,#345aad 278.5px)"></i>
<i style="background:linear-gradient(90deg,#3579c1 0.5px,#356ab8 64.5px,#309bd7 69.5px,#51bbdd 72.5px,#73c3bc 74.5px,#a5cd46 76.5px,#ebe620 78.5px,#fcd619 80.5px,#f47320 83.5px,#e62527 90.5px,#e72627 109.5px,#f26522 115.5px,#fcd619 119.5px,#ece620 121.5px,#a4cd47 126.5px,#6fc2c6 131.5px,#51bbdd 136.5px,#5fbed3 145.5px,#42b5e4 154.5px,#67c0cd 159.5px,#a4cd47 165.5px,#cfdb2c 172.5px,#fbe31a 186.5px,#fbe119 202.5px,#eae521 223.5px,#accf41 230.5px,#62bfd1 238.5px,#37abdf 244.5px,#345daf 257.5px,#3465b5 271.5px,#3571bc 278.5px)"></i>
<i style="background:linear-gradient(90deg,#3457ab 0.5px,#345eb0 60.5px,#3389cc 67.5px,#3db0e2 70.5px,#6dc2c9 73.5px,#b4d23c 78.5px,#fbe71a 81.5px,#f89e1c 84.5px,#f26522 86.5px,#eb3f25 90.5px,#e62427 101.5px,#ec4524 110.5px,#f26922 113.5px,#fbda19 117.5px,#eee71f 119.5px,#a8ce43 126.5px,#70c2c4 133.5px,#74c3bb 137.5px,#96c969 143.5px,#95c96c 148.5px,#8ac687 153.5px,#9dcb59 157.5px,#dbe026 169.5px,#fbe51a 184.5px,#fbdd19 217.5px,#efe71f 227.5px,#a3cd49 240.5px,#75c3b7 249.5px,#44b7e5 255.5px,#31a5dd 273.5px,#2fa1db 278.5px)"></i>
<i style="background:linear-gradient(90deg,#3253a9 0.5px,#3459ad 61.5px,#3389cc 67.5px,#3eb1e2 70.5px,#6ec2c7 73.5px,#98c966 77.5px,#b7d33a 80.5px,#fbec1a 83.5px,#fcc418 85.5px,#f47c20 87.5px,#ed4a24 95.5px,#ec4125 102.5px,#f36e21 111.5px,#fbdf19 115.5px,#f1e81e 117.5px,#c6d831 124.5px,#96c969 129.5px,#81c59d 134.5px,#95c96d 139.5px,#b9d439 144.5px,#c0d635 152.5px,#ebe620 157.5px,#fbe019 168.5px,#faac1a 188.5px,#f68e1e 205.5px,#f68c1e 217.5px,#fbda19 232.5px,#ece620 241.5px,#a0cc51 254.5px,#96c96a 258.5px,#91c875 263.5px,#8dc781 275.5px,#85c692 277.5px,#85c692 278.5px)"></i>
<i style="background:linear-gradient(90deg,#3253a9 0.5px,#345aad 63.5px,#309cd8 69.5px,#53bbdb 72.5px,#7fc5a0 75.5px,#9fcc53 79.5px,#cbda2e 83.5px,#fbec1a 85.5px,#f37221 95.5px,#f05a23 100.5px,#f7931d 108.5px,#f7ea1c 114.5px,#dce026 122.5px,#9bcb5d 130.5px,#94c96f 135.5px,#b4d23c 141.5px,#f0e81e 149.5px,#fbdf19 153.5px,#f5831f 170.5px,#f16022 185.5px,#ef5423 218.5px,#f5841f 232.5px,#fbde19 247.5px,#eae521 255.5px,#d1dc2b 278.5px)"></i>
<i style="background:linear-gradient(90deg,#3253a9 0.5px,#345daf 65.5px,#36aadf 71.5px,#54bcdb 73.5px,#80c59e 76.5px,#a4cd46 81.5px,#cbda2e 85.5px,#fbe61a 91.5px,#faac1a 98.5px,#f89c1c 100.5px,#fbdc19 107.5px,#f0e81e 112.5px,#e5e323 121.5px,#a3cd4a 133.5px,#bfd635 140.5px,#f9eb1b 146.5px,#f9a61b 152.5px,#f36e21 156.5px,#eb3e25 186.5px,#ea3725 219.5px,#f47720 244.5px,#fcca18 256.5px,#fbda19 278.5px)"></i>
<i style="background:linear-gradient(90deg,#3253a9 0.5px,#345cae 66.5px,#38abe0 72.5px,#56bcd9 74.5px,#9bca5e 80.5px,#b8d33a 84.5px,#fbe71a 100.5px,#dde026 109.5px,#efe71f 118.5px,#c0d635 135.5px,#ece620 143.5px,#fbe119 145.5px,#f68e1e 148.5px,#ef5223 154.5px,#e72627 182.5px,#e82c26 229.5px,#f36e21 260.5px,#f5831f 278.5px)"></i>
<i style="background:linear-gradient(90deg,#3253a9 0.5px,#3459ad 66.5px,#3196d4 71.5px,#4fbade 74.5px,#7dc4a6 77.5px,#a5cd45 82.5px,#d8de28 90.5px,#e7e422 122.5px,#e0e125 139.5px,#faec1a 143.5px,#fcc118 145.5px,#f36e21 147.5px,#ec4424 151.5px,#e62327 161.5px,#e82b26 243.5px,#ed4924 265.5px,#ee4e24 278.5px)"></i>
<i style="background:linear-gradient(90deg,#345daf 0.5px,#345cae 65.5px,#328fcf 70.5px,#44b8e5 73.5px,#74c3b9 76.5px,#9aca60 80.5px,#bcd537 84.5px,#eae521 94.5px,#f5ea1c 141.5px,#fcd319 143.5px,#f26722 146.5px,#e72926 151.5px,#e62327 278.5px)"></i>
<i style="background:linear-gradient(90deg,#3aaee1 0.5px,#356cb9 24.5px,#356fbb 63.5px,#39ace0 70.5px,#60bfd2 73.5px,#a1cc4f 80.5px,#e1e224 89.5px,#f3e91d 104.5px,#f6ea1c 138.5px,#fbe91a 141.5px,#faab1a 143.5px,#f47920 144.5px,#e82d26 149.5px,#e02127 176.5px,#dc2127 278.5px)"></i>
<i style="background:linear-gradient(90deg,#96c96a 0.5px,#8bc784 6.5px,#7ac4ac 13.5px,#50bbdd 20.5px,#3eb1e2 26.5px,#3bafe1 64.5px,#5fbed2 69.5px,#a3cd49 78.5px,#e8e422 90.5px,#f2e81e 108.5px,#fbe21a 141.5px,#fbbc19 143.5px,#f26722 145.5px,#ea3b25 149.5px,#e52227 162.5px,#d92127 278.5px)"></i>
<i style="background:linear-gradient(90deg,#e2e224 0.5px,#aed03f 18.5px,#90c879 25.5px,#92c874 40.5px,#87c68e 64.5px,#bad438 76.5px,#f2e81e 94.5px,#fbe31a 139.5px,#fcd319 143.5px,#fbbc19 144.5px,#f68a1e 145.5px,#f36d21 146.5px,#ea3825 160.5px,#df2127 189.5px,#dc2127 278.5px)"></i>
<i style="background:linear-gradient(90deg,#fcca18 0.5px,#f0e81e 20.5px,#e1e224 26.5px,#e5e323 40.5px,#d5dd29 68.5px,#f4e91d 94.5px,#fbe119 138.5px,#fbbb19 146.5px,#f16022 156.5px,#e02127 189.5px,#df2127 278.5px)"></i>
<i style="background:linear-gradient(90deg,#f36e21 0.5px,#f8991c 16.5px,#fbbc19 21.5px,#faac1a 38.5px,#fbec1a 102.5px,#fbe019 136.5px,#fbb719 156.5px,#f5831f 165.5px,#ec4424 182.5px,#e52227 186.5px,#df2127 278.5px)"></i>
<i style="background:linear-gradient(90deg,#ed4724 0.5px,#f26822 20.5px,#f5841f 35.5px,#f7951d 67.5px,#fbdf19 96.5px,#fbde19 133.5px,#fcca18 147.5px,#fbe019 161.5px,#fbb719 174.5px,#f5841f 180.5px,#e62327 186.5px,#df2127 278.5px)"></i>
<i style="background:linear-gradient(90deg,#eb3b25 0.5px,#f26422 22.5px,#f5841f 34.5px,#f68d1e 74.5px,#fcd619 99.5px,#fbdc19 129.5px,#fcc218 145.5px,#f8eb1b 160.5px,#fbe019 178.5px,#fcc518 180.5px,#f36d21 182.5px,#e62327 187.5px,#df2127 278.5px)"></i>
<i style="background:linear-gradient(90deg,#f05a23 0.5px,#f5841f 27.5px,#f68e1e 77.5px,#fbdd19 108.5px,#fbd819 128.5px,#fbb919 143.5px,#f8eb1b 160.5px,#fbe41a 177.5px,#fccd19 180.5px,#f7931d 182.5px,#f05a23 184.5px,#e62227 188.5px,#df2127 278.5px)"></i>
<i style="background:linear-gradient(90deg,#f5821f 0.5px,#f68e1e 73.5px,#fbe119 110.5px,#fbd819 127.5px,#fab31a 141.5px,#fbe51a 162.5px,#fbb719 175.5px,#e62227 188.5px,#df2127 278.5px)"></i>
<i style="background:linear-gradient(90deg,#f9a91b 0.5px,#f7951d 27.5px,#f8a01c 61.5px,#faeb1b 109.5px,#fbdf19 126.5px,#fab21a 139.5px,#fcc118 157.5px,#f9a61b 162.5px,#ec4424 182.5px,#e32227 189.5px,#df2127 278.5px)"></i>
<i style="background:linear-gradient(90deg,#fbe31a 0.5px,#fbdb19 30.5px,#ede620 76.5px,#e4e323 109.5px,#fbe21a 127.5px,#f5831f 141.5px,#e22227 189.5px,#df2127 278.5px)"></i>
<i style="background:linear-gradient(90deg,#c7d831 0.5px,#bed536 33.5px,#a4cd47 92.5px,#fbe71a 128.5px,#fcd719 130.5px,#f47a20 133.5px,#ee4e24 141.5px,#e12127 188.5px,#df2127 278.5px)"></i>
<i style="background:linear-gradient(90deg,#99ca63 0.5px,#8cc783 33.5px,#77c3b4 77.5px,#84c595 93.5px,#b9d439 110.5px,#fbe41a 130.5px,#fcc518 133.5px,#f36a21 137.5px,#e82f26 145.5px,#df2127 224.5px,#df2127 278.5px)"></i>
<i style="background:linear-gradient(90deg,#84c596 0.5px,#51bbdd 52.5px,#57bcd8 87.5px,#74c3bb 96.5px,#b1d13e 110.5px,#fbe91a 129.5px,#fcc718 136.5px,#f16122 141.5px,#e52227 150.5px,#df2127 278.5px)"></i>
<i style="background:linear-gradient(90deg,#8ec77f 0.5px,#63bfd0 47.5px,#5dbed4 90.5px,#75c3b7 96.5px,#b0d13e 108.5px,#efe71f 120.5px,#fbdc19 129.5px,#fab21a 140.5px,#f26422 144.5px,#e62227 152.5px,#df2127 278.5px)"></i>
<i style="background:linear-gradient(90deg,#d1dc2b 0.5px,#afd03f 56.5px,#a3cc4b 81.5px,#9dcb59 87.5px,#98ca65 96.5px,#bbd438 104.5px,#fbe71a 115.5px,#f7941d 144.5px,#eb3d25 151.5px,#e42227 157.5px,#df2127 218.5px,#df2127 278.5px)"></i>
<i style="background:linear-gradient(90deg,#fbda19 0.5px,#f3e91d 75.5px,#e6e422 100.5px,#fbe61a 105.5px,#f9a31b 122.5px,#f47c20 148.5px,#e52227 158.5px,#de2127 183.5px,#df2127 278.5px)"></i>
<i style="background:linear-gradient(90deg,#f5831f 0.5px,#f89c1c 38.5px,#faac1a 63.5px,#fbb719 70.5px,#fbbd19 96.5px,#f6871e 115.5px,#f5821f 150.5px,#ec4624 154.5px,#e52227 159.5px,#df2127 217.5px,#df2127 278.5px)"></i>
<i style="background:linear-gradient(90deg,#ee4e24 0.5px,#f26222 106.5px,#ed4b24 144.5px,#ea3725 153.5px,#e62327 155.5px,#df2127 278.5px)"></i>
<i style="background:#df2127"></i>
<i style="background:linear-gradient(90deg,#d02027 0.5px,#d02027 98.5px,#de2127 274.5px,#de2127 278.5px)"></i>
<i style="background:linear-gradient(90deg,#c11e25 0.5px,#bd1e24 94.5px,#d62027 134.5px,#dd2127 278.5px)"></i>
<i style="background:linear-gradient(90deg,#c61f25 0.5px,#c61f25 98.5px,#db2127 206.5px,#db2127 278.5px)"></i>
<i style="background:#d52027"></i>
<i style="background:#d52027"></i>
<i style="background:#d22027"></i>
<i style="background:linear-gradient(90deg,#cf2027 0.5px,#c11e25 162.5px,#c11e25 278.5px)"></i>
<i style="background:#b91e24"></i>
<i style="background:#aa1c22"></i>
<i style="background:#9e1b20"></i>
<i style="background:#9a1b1f"></i>
<i style="background:#991a1f"></i>
<i style="background:#9a1b1f"></i>
<i style="background:#9c1b20"></i>
<i style="background:#9e1b20"></i>
<i style="background:#a01b20"></i>
<i style="background:#a01b20"></i>
<i style="background:#a01b20"></i>
<i style="background:#9f1b20"></i>
<i style="background:#9e1b20"></i>
<i style="background:#9e1b20"></i>
</div>
<svg width="760" height="285" viewBox="0 0 760 285">
<defs><clipPath id="cl"><rect x="29" y="3" width="280" height="258"/></clipPath><clipPath id="cr"><rect x="424" y="3" width="279" height="258"/></clipPath></defs>
<g clip-path="url(#cl)">
<path d="M34.1 0.9L34.2 3.5M42.1 8.1L43.2 5.8M56.9 4.1L54.3 4.5M63.0 0.9L62.7 3.5M73.2 1.1L72.4 3.6M81.9 0.9L81.6 3.5M94.6 4.9L92.0 4.8M104.0 3.9L101.4 4.5M109.3 8.5L109.5 5.9M118.7 8.5L119.0 5.9M131.0 1.8L129.3 3.8M141.5 3.4L139.0 4.3M151.0 5.7L148.5 5.0M159.5 2.1L157.6 3.9M166.5 8.5L166.3 5.9M174.2 8.2L175.1 5.8M182.0 2.3L184.1 4.0M194.7 0.9L194.5 3.5M207.6 5.1L205.1 4.8M213.4 8.5L213.3 5.9M225.9 2.6L223.7 4.1M230.9 8.3L231.7 5.8M243.2 1.3L242.1 3.6M253.9 2.3L251.9 3.9M260.0 0.9L260.3 3.5M273.2 3.0L270.9 4.2M282.1 2.3L280.1 3.9M287.3 8.2L288.2 5.8M300.0 1.4L298.7 3.7M311.3 5.1L308.7 4.8M34.7 17.3L34.4 14.7M47.4 12.4L44.9 13.1M52.5 17.2L52.9 14.7M62.5 9.7L62.6 12.3M73.3 9.9L72.4 12.3M85.2 13.9L82.6 13.6M94.5 12.5L92.0 13.2M101.4 17.1L100.6 14.6M113.5 13.4L110.9 13.5M121.9 10.9L120.0 12.7M128.8 17.3L128.6 14.7M136.4 16.9L137.4 14.6M148.2 17.2L147.6 14.6M156.8 17.3L156.8 14.7M169.9 12.9L167.4 13.3M175.9 17.3L175.7 14.7M184.7 17.3L184.9 14.7M197.1 16.2L195.3 14.3M205.7 10.1L204.4 12.4M214.4 9.8L213.6 12.3M226.3 12.3L223.8 13.1M232.3 9.7L232.2 12.3M245.3 13.0L242.7 13.3M249.0 16.8L250.4 14.5M260.2 17.3L260.3 14.7M270.0 17.3L269.9 14.7M278.9 9.7L279.1 12.3M288.7 17.3L288.6 14.7M301.8 12.8L299.2 13.3M311.2 12.6L308.6 13.2M38.1 22.3L35.5 22.3M47.4 21.4L44.9 22.0M56.7 23.5L54.3 22.7M63.3 26.0L62.8 23.4M75.7 22.9L73.2 22.5M82.0 18.5L81.6 21.1M92.0 18.6L91.2 21.1M103.6 20.6L101.3 21.7M113.2 20.8L110.8 21.8M122.7 21.3L120.2 21.9M131.8 20.4L129.5 21.7M137.8 26.0L137.9 23.4M150.1 19.6L148.2 21.4M157.6 18.5L157.0 21.1M164.7 25.7L165.7 23.3M179.3 23.0L176.8 22.5M188.5 20.7L186.1 21.8M197.6 20.2L195.5 21.6M205.4 18.8L204.3 21.1M215.2 19.0L213.9 21.2M225.1 19.3L223.5 21.3M235.9 21.9L233.3 22.1M241.8 18.4L241.6 21.0M252.4 18.7L251.4 21.1M264.2 22.4L261.6 22.3M273.6 22.1L271.0 22.2M280.7 18.7L279.7 21.1M292.3 21.2L289.8 21.9M296.5 25.7L297.6 23.3M310.9 20.6L308.6 21.7M35.8 27.5L34.8 29.9M45.8 27.8L44.4 30.0M56.8 30.1L54.3 30.7M64.3 27.6L63.1 29.9M75.8 30.8L73.2 30.9M83.0 34.5L81.9 32.1M93.0 34.1L91.5 32.0M98.2 34.2L99.6 32.0M111.2 27.5L110.1 29.9M122.7 29.9L120.2 30.7M125.6 28.6L127.6 30.3M138.9 27.3L138.2 29.9M149.3 27.8L148.0 30.0M159.1 34.0L157.5 32.0M168.7 28.2L167.0 30.1M178.7 28.9L176.6 30.3M184.3 34.7L184.8 32.2M198.1 30.1L195.6 30.7M203.6 34.8L203.8 32.2M213.4 34.8L213.3 32.2M223.7 34.7L223.0 32.2M231.9 34.8L232.1 32.2M240.8 34.7L241.3 32.2M251.6 34.7L251.2 32.2M264.1 32.0L261.5 31.3M270.7 27.3L270.1 29.8M282.8 32.4L280.3 31.4M289.9 27.4L289.0 29.9M299.1 34.7L298.4 32.2M306.0 34.5L307.0 32.1M34.1 43.6L34.2 41.0M41.7 43.0L43.1 40.8M56.2 37.6L54.1 39.1M62.9 36.0L62.7 38.6M75.8 39.4L73.2 39.6M81.3 43.6L81.4 41.0M89.8 43.5L90.5 40.9M99.6 43.5L100.0 41.0M113.5 39.7L110.9 39.7M122.9 40.1L120.3 39.9M128.8 36.0L128.6 38.6M136.6 43.3L137.5 40.9M151.1 39.4L148.5 39.7M156.7 43.6L156.7 41.0M169.8 41.0L167.3 40.2M176.0 43.6L175.7 41.0M181.2 40.0L183.8 39.9M193.5 43.5L194.1 40.9M203.8 43.6L203.8 41.0M213.6 36.0L213.4 38.6M225.5 37.2L223.6 39.0M232.8 36.0L232.3 38.6M242.4 36.1L241.8 38.6M250.1 43.5L250.7 40.9M262.8 36.8L261.1 38.8M269.1 36.0L269.6 38.6M279.1 36.0L279.2 38.6M289.0 43.6L288.7 41.0M298.3 36.0L298.1 38.6M311.3 40.2L308.7 39.9M36.6 45.5L35.0 47.6M46.9 46.5L44.7 47.9M56.9 48.9L54.3 48.7M64.5 45.3L63.2 47.5M75.6 47.3L73.1 48.2M79.6 45.2L80.8 47.5M89.8 52.2L90.5 49.7M100.1 52.3L100.2 49.7M111.6 45.3L110.3 47.5M122.4 46.8L120.1 48.0M131.6 46.4L129.5 47.9M137.4 52.3L137.8 49.7M146.0 52.1L146.9 49.7M159.1 45.5L157.5 47.6M167.4 52.1L166.6 49.7M177.5 45.2L176.2 47.5M188.8 48.1L186.2 48.4M194.4 52.3L194.4 49.7M205.9 51.8L204.5 49.6M217.1 48.2L214.5 48.4M226.4 47.8L223.9 48.3M231.5 52.3L231.9 49.7M242.3 52.3L241.8 49.7M254.3 46.7L252.0 48.0M261.5 52.2L260.7 49.7M273.0 50.7L270.8 49.2M283.0 48.0L280.4 48.4M291.3 45.8L289.5 47.7M301.7 47.4L299.2 48.2M310.4 46.1L308.4 47.8M35.6 60.9L34.7 58.4M47.5 57.4L44.9 57.3M56.6 55.8L54.2 56.8M61.0 60.8L62.1 58.4M72.0 53.5L72.0 56.1M79.3 60.5L80.7 58.3M89.3 53.8L90.3 56.2M103.7 58.9L101.3 57.8M109.0 53.6L109.4 56.1M119.8 61.1L119.3 58.5M131.8 55.4L129.5 56.7M139.2 60.9L138.3 58.4M151.1 57.6L148.5 57.4M160.3 55.8L157.9 56.9M169.8 58.3L167.3 57.6M175.5 53.5L175.6 56.1M184.7 61.1L184.9 58.5M198.2 57.8L195.6 57.5M205.2 53.8L204.3 56.2M213.3 53.5L213.3 56.1M226.4 58.0L223.9 57.5M235.0 54.9L233.0 56.6M242.0 53.6L241.7 56.1M251.9 53.6L251.3 56.2M259.1 60.9L260.0 58.4M269.8 53.5L269.8 56.1M281.8 54.5L280.0 56.4M287.8 53.6L288.4 56.1M301.7 58.3L299.2 57.6M311.3 57.2L308.7 57.3M34.4 69.9L34.3 67.3M44.1 62.3L43.8 64.9M52.7 69.9L53.0 67.3M66.3 66.9L63.7 66.3M72.8 62.4L72.3 64.9M84.3 63.7L82.3 65.3M91.1 69.9L90.9 67.3M99.4 69.8L100.0 67.3M111.4 62.7L110.2 65.0M122.8 65.1L120.2 65.8M132.2 67.0L129.7 66.4M136.3 62.6L137.4 65.0M147.8 69.9L147.5 67.3M156.8 69.9L156.8 67.3M169.0 63.5L167.1 65.3M178.1 63.2L176.4 65.2M184.4 69.8L184.8 67.3M196.7 63.1L195.2 65.1M206.1 69.1L204.6 67.1M215.0 69.5L213.8 67.2M224.4 62.7L223.2 65.0M232.2 62.3L232.1 64.9M242.8 62.5L241.9 65.0M253.4 63.1L251.7 65.2M261.9 62.6L260.9 65.0M273.3 64.5L270.9 65.6M282.5 68.0L280.3 66.7M289.0 62.3L288.7 64.9M298.4 69.9L298.2 67.3M306.6 69.8L307.2 67.3M35.0 78.6L34.5 76.0M47.5 74.3L44.9 74.7M56.9 75.0L54.3 74.9M64.2 78.3L63.1 75.9M75.4 73.1L73.0 74.3M82.9 71.4L81.9 73.8M92.1 71.3L91.2 73.7M104.0 75.4L101.4 75.0M107.1 77.7L108.8 75.7M122.9 74.8L120.3 74.8M125.3 72.8L127.5 74.2M136.5 78.4L137.5 76.0M150.9 73.4L148.5 74.4M160.5 74.0L157.9 74.6M167.5 71.3L166.6 73.7M178.7 72.7L176.6 74.2M188.4 76.5L186.1 75.4M196.7 71.8L195.2 73.9M207.6 74.5L205.1 74.8M216.8 76.2L214.4 75.3M226.4 74.1L223.9 74.6M230.1 71.6L231.5 73.8M244.9 73.0L242.6 74.3M252.7 78.2L251.5 75.9M264.0 76.1L261.5 75.3M272.8 72.6L270.8 74.1M279.6 71.1L279.3 73.7M292.4 74.2L289.8 74.6M295.4 72.2L297.2 74.0M306.8 71.1L307.3 73.7M33.7 79.9L34.1 82.4M44.7 87.3L44.0 84.8M52.1 80.0L52.8 82.5M66.2 82.6L63.7 83.3M70.8 80.0L71.6 82.5M80.7 87.4L81.2 84.8M88.9 86.9L90.2 84.7M101.9 87.0L100.8 84.7M111.0 80.1L110.1 82.5M119.4 87.4L119.2 84.8M128.1 79.8L128.4 82.4M139.1 87.2L138.3 84.8M148.8 80.1L147.8 82.5M159.0 80.6L157.5 82.7M167.5 87.2L166.6 84.7M179.4 83.4L176.8 83.6M188.8 83.1L186.2 83.5M198.1 82.7L195.6 83.3M205.7 80.3L204.4 82.6M217.0 84.4L214.5 83.9M224.9 80.5L223.4 82.6M233.0 87.3L232.4 84.8M245.1 82.4L242.7 83.2M250.0 87.3L250.7 84.8M264.0 84.8L261.5 84.0M268.4 87.2L269.4 84.7M281.0 87.0L279.8 84.7M288.2 87.4L288.5 84.8M301.9 83.6L299.3 83.6M306.8 87.4L307.3 84.8M34.8 96.2L34.5 93.6M47.4 93.5L44.9 92.8M50.4 89.8L52.3 91.6M63.7 88.8L62.9 91.3M73.9 89.1L72.6 91.4M79.6 95.7L80.8 93.5M87.6 90.3L89.8 91.7M104.0 92.4L101.4 92.4M109.8 96.2L109.7 93.6M118.8 96.2L119.0 93.6M129.4 96.1L128.8 93.6M135.5 89.4L137.2 91.5M149.9 89.6L148.1 91.5M160.4 93.5L157.9 92.7M168.8 89.6L167.0 91.5M178.6 90.1L176.6 91.7M187.6 89.6L185.8 91.5M198.1 93.4L195.6 92.7M205.1 96.0L204.3 93.5M217.0 93.0L214.5 92.6M222.9 88.6L222.8 91.2M233.0 88.7L232.4 91.2M245.3 92.4L242.7 92.4M250.0 96.1L250.7 93.6M264.1 93.1L261.6 92.6M272.8 90.1L270.7 91.7M279.5 96.2L279.3 93.6M292.3 91.3L289.8 92.0M297.5 96.2L297.9 93.6M311.3 92.2L308.7 92.3M35.6 104.7L34.7 102.3M47.5 101.5L44.9 101.3M54.6 97.7L53.6 100.1M65.4 103.7L63.5 102.0M69.4 98.4L71.2 100.3M80.3 97.5L81.1 100.0M94.2 102.9L91.9 101.7M103.0 98.6L101.1 100.3M109.6 97.4L109.6 100.0M118.4 104.9L118.9 102.3M131.9 99.6L129.6 100.7M136.7 104.8L137.5 102.3M151.0 100.1L148.5 100.8M158.0 97.6L157.2 100.0M169.6 99.4L167.2 100.6M176.7 104.8L175.9 102.3M188.6 100.0L186.2 100.8M195.1 104.9L194.6 102.4M206.4 98.4L204.7 100.3M212.3 104.8L213.0 102.3M226.5 101.7L223.9 101.3M235.9 101.9L233.3 101.4M242.8 104.8L241.9 102.3M254.7 101.9L252.1 101.4M264.1 101.9L261.6 101.4M267.1 103.8L268.9 102.0M282.9 100.1L280.4 100.8M286.6 98.0L288.0 100.2M301.8 101.9L299.2 101.4M311.2 100.3L308.6 100.9M34.3 113.7L34.3 111.1M43.2 106.2L43.6 108.8M55.9 107.3L54.0 109.1M66.2 111.0L63.7 110.3M71.2 113.7L71.7 111.1M82.7 113.5L81.8 111.1M90.6 106.1L90.7 108.7M101.9 113.4L100.8 111.0M110.9 106.3L110.1 108.8M122.8 109.0L120.2 109.7M128.9 113.7L128.6 111.1M138.4 106.2L138.1 108.7M149.6 106.9L148.1 109.0M159.7 107.6L157.7 109.2M167.4 113.5L166.6 111.1M177.1 113.4L176.1 111.0M188.8 109.4L186.2 109.8M197.9 111.5L195.5 110.4M202.7 106.3L203.5 108.8M212.5 113.7L213.0 111.1M224.1 106.4L223.2 108.8M233.7 106.5L232.6 108.8M244.6 107.6L242.5 109.2M251.2 113.7L251.0 111.1M264.0 111.0L261.5 110.3M271.2 106.4L270.2 108.8M282.8 108.7L280.3 109.5M292.2 108.7L289.8 109.6M301.4 108.1L299.1 109.3M311.3 110.0L308.7 110.0M37.0 116.0L35.1 117.9M43.4 122.5L43.6 119.9M55.6 115.8L53.9 117.8M62.2 122.5L62.4 119.9M75.2 116.6L73.0 118.1M85.2 118.8L82.6 118.7M92.9 115.6L91.5 117.7M103.7 120.3L101.3 119.2M111.5 115.4L110.2 117.7M121.3 121.8L119.8 119.7M127.0 122.2L128.0 119.8M136.5 115.2L137.5 117.6M146.4 122.4L147.1 119.9M153.8 121.0L155.8 119.4M165.8 114.9L166.1 117.5M175.7 122.5L175.6 119.9M185.6 115.0L185.2 117.5M192.8 122.1L193.9 119.8M203.2 122.5L203.7 119.9M215.3 115.5L213.9 117.7M226.2 117.3L223.8 118.2M235.3 116.6L233.1 118.1M243.7 115.6L242.2 117.7M254.1 116.6L251.9 118.0M261.7 122.3L260.8 119.8M269.4 122.5L269.7 119.9M279.5 122.5L279.3 119.9M288.9 122.5L288.7 119.9M299.0 115.0L298.3 117.5M308.1 115.0L307.7 117.5M35.6 123.9L34.7 126.4M43.4 131.3L43.6 128.7M51.5 130.9L52.6 128.6M66.4 127.6L63.8 127.5M75.7 126.7L73.2 127.2M82.9 131.0L81.9 128.6M94.6 127.5L92.0 127.5M104.0 128.1L101.4 127.7M113.3 126.3L110.8 127.1M121.8 124.9L120.0 126.7M128.6 131.3L128.5 128.7M139.9 130.7L138.5 128.5M144.1 129.4L146.3 128.1M159.5 124.8L157.6 126.6M167.1 131.2L166.5 128.6M178.8 125.4L176.6 126.8M185.1 131.3L185.0 128.7M192.9 124.0L193.9 126.4M207.4 126.2L205.0 127.1M214.6 123.9L213.7 126.4M224.0 123.9L223.1 126.4M233.0 123.8L232.4 126.3M244.9 129.2L242.6 128.0M254.7 127.2L252.2 127.4M260.1 131.3L260.3 128.7M271.4 130.9L270.3 128.6M278.2 131.1L278.9 128.6M289.7 123.8L289.0 126.3M300.7 124.8L298.9 126.6M310.0 130.3L308.3 128.4M32.0 133.2L33.6 135.3M41.7 133.0L43.1 135.2M56.3 134.2L54.1 135.6M59.3 134.3L61.5 135.6M72.8 132.5L72.2 135.1M82.4 132.6L81.7 135.1M87.7 134.0L89.8 135.5M100.6 132.5L100.3 135.1M106.1 137.6L108.5 136.7M115.7 138.0L118.0 136.8M125.8 133.6L127.7 135.4M134.1 136.0L136.7 136.2M144.4 133.8L146.4 135.5M153.0 136.1L155.6 136.2M162.7 137.7L165.1 136.7M172.5 134.1L174.6 135.6M182.3 138.9L184.2 137.1M190.7 135.7L193.3 136.1M200.6 134.4L202.8 135.7M209.5 136.0L212.1 136.2M219.1 137.5L221.6 136.6M229.0 134.1L231.1 135.6M237.7 136.2L240.3 136.2M247.8 134.1L250.0 135.6M257.1 138.1L259.3 136.8M266.0 136.5L268.6 136.3M275.5 135.5L278.0 136.0M285.2 137.9L287.6 136.8M294.9 134.2L297.0 135.6M303.7 135.6L306.3 136.0M30.6 145.9L33.1 145.3M42.2 141.6L43.2 143.9M49.4 144.6L51.9 144.9M60.3 142.0L61.8 144.1M71.9 141.2L72.0 143.8M80.1 141.4L81.0 143.9M88.8 141.8L90.2 144.0M99.4 141.3L100.0 143.8M106.1 143.7L108.5 144.6M115.5 143.7L118.0 144.6M125.5 142.7L127.5 144.3M134.1 145.2L136.7 145.1M143.6 145.6L146.2 145.2M153.1 146.2L155.6 145.4M163.5 142.3L165.3 144.2M172.0 146.3L174.5 145.4M181.2 145.0L183.8 145.0M191.4 142.8L193.5 144.3M200.1 145.1L202.7 145.1M209.7 146.3L212.2 145.4M219.0 145.8L221.5 145.3M228.5 146.2L231.0 145.4M238.0 146.5L240.4 145.5M247.4 146.4L249.8 145.5M256.6 144.9L259.2 145.0M267.5 142.0L269.1 144.1M275.6 143.7L278.1 144.6M284.9 145.6L287.5 145.2M294.3 144.2L296.9 144.8M303.8 146.1L306.3 145.4M31.0 152.0L33.2 153.2M41.8 150.5L43.1 152.8M49.5 154.7L52.0 154.1M63.2 150.0L62.8 152.6M68.5 152.3L70.9 153.3M80.7 150.1L81.2 152.6M91.0 150.0L90.9 152.6M97.2 151.5L99.3 153.1M106.0 152.7L108.5 153.5M115.5 155.2L118.0 154.2M125.2 151.9L127.5 153.2M134.1 153.8L136.7 153.8M143.8 152.4L146.2 153.3M153.0 153.4L155.6 153.7M162.4 153.1L165.0 153.6M172.3 152.0L174.5 153.2M181.4 154.8L183.9 154.1M191.2 151.8L193.4 153.2M200.4 152.2L202.8 153.3M209.8 155.2L212.2 154.2M219.2 155.3L221.6 154.3M228.5 154.9L231.0 154.1M237.8 154.3L240.4 154.0M248.9 157.0L250.3 154.8M257.1 151.9L259.3 153.2M266.2 152.6L268.7 153.4M275.8 152.2L278.1 153.3M285.1 155.2L287.5 154.2M294.3 154.2L296.9 153.9M304.1 155.5L306.4 154.3M30.8 161.2L33.2 162.1M42.4 159.0L43.3 161.4M53.4 158.8L53.2 161.4M63.2 158.8L62.8 161.4M68.6 164.3L70.9 163.1M77.9 161.1L80.3 162.1M87.8 160.3L89.9 161.8M99.2 158.9L99.9 161.4M105.9 162.2L108.5 162.4M115.3 162.0L117.9 162.4M124.7 162.0L127.3 162.4M136.0 159.3L137.3 161.5M143.5 162.4L146.1 162.5M153.0 161.9L155.6 162.4M162.4 163.0L165.0 162.7M171.8 162.9L174.4 162.7M181.5 163.9L183.9 163.0M190.6 162.5L193.2 162.5M200.3 163.8L202.7 163.0M211.6 159.1L212.8 161.5M219.3 160.8L221.6 162.0M229.3 165.1L231.2 163.4M238.3 160.6L240.5 161.9M247.2 162.1L249.8 162.4M256.8 163.7L259.2 162.9M266.3 161.1L268.7 162.1M275.6 163.7L278.1 162.9M285.6 160.3L287.7 161.9M295.5 159.7L297.3 161.7M304.3 160.5L306.5 161.9M32.4 168.0L33.7 170.3M40.8 168.9L42.8 170.6M50.4 168.7L52.3 170.5M59.5 169.1L61.6 170.6M69.7 168.3L71.3 170.4M77.7 170.7L80.2 171.1M88.0 168.8L89.9 170.5M97.4 168.9L99.3 170.5M106.5 169.2L108.7 170.6M115.4 170.3L117.9 171.0M124.9 170.0L127.4 170.9M134.2 170.6L136.7 171.1M143.5 171.3L146.1 171.3M153.0 171.1L155.6 171.2M162.4 171.3L165.0 171.3M172.0 170.1L174.5 170.9M181.5 169.9L183.9 170.9M190.7 172.1L193.3 171.6M200.2 170.3L202.7 171.0M209.5 170.9L212.1 171.2M218.9 171.1L221.5 171.3M228.3 171.7L230.9 171.4M238.2 169.5L240.5 170.8M247.3 170.2L249.8 171.0M256.8 170.2L259.2 171.0M266.1 170.3L268.6 171.0M276.4 168.8L278.3 170.5M284.9 170.5L287.5 171.1M295.5 168.6L297.2 170.5M303.7 170.8L306.3 171.2M31.1 178.0L33.3 179.4M40.5 178.0L42.7 179.4M50.9 177.0L52.4 179.1M59.2 178.3L61.5 179.5M69.6 177.2L71.2 179.2M79.2 177.0L80.7 179.1M88.5 177.1L90.1 179.2M97.8 177.2L99.5 179.2M106.7 177.8L108.7 179.4M115.3 180.0L117.9 180.1M125.5 177.8L127.5 179.4M134.3 178.9L136.8 179.7M143.5 180.0L146.1 180.1M153.0 179.5L155.6 179.9M162.4 179.7L165.0 180.0M172.3 178.2L174.6 179.5M181.2 180.1L183.8 180.1M191.2 178.2L193.4 179.5M200.1 179.5L202.7 179.9M209.5 180.4L212.1 180.2M219.0 180.8L221.5 180.3M228.3 179.7L230.9 180.0M237.7 180.0L240.3 180.1M247.4 178.8L249.8 179.7M256.8 178.9L259.2 179.7M266.0 180.2L268.6 180.1M275.5 179.3L278.0 179.9M284.9 179.2L287.5 179.8M294.7 178.3L297.0 179.5M303.7 179.4L306.3 179.9M31.1 186.8L33.3 188.2M41.3 186.0L42.9 188.0M50.5 186.1L52.3 188.0M59.0 187.5L61.4 188.4M69.0 186.5L71.0 188.1M78.6 186.3L80.5 188.0M88.6 185.8L90.1 187.9M97.7 186.1L99.4 188.0M106.9 186.3L108.8 188.1M115.3 189.2L117.9 189.0M124.9 187.6L127.4 188.5M134.2 189.5L136.7 189.1M143.8 187.4L146.2 188.4M153.1 187.8L155.6 188.5M162.4 188.7L165.0 188.8M171.9 187.9L174.4 188.6M181.5 187.4L183.9 188.4M190.7 188.0L193.3 188.6M200.1 188.4L202.7 188.7M210.1 186.8L212.3 188.2M219.0 187.9L221.5 188.6M228.4 188.0L231.0 188.6M237.9 187.8L240.4 188.5M247.2 188.7L249.8 188.8M256.8 187.6L259.2 188.5M266.2 187.8L268.6 188.5M275.5 188.1L278.0 188.6M284.8 188.7L287.4 188.8M294.4 187.9L296.9 188.6M303.7 189.3L306.3 189.0M31.9 194.7L33.5 196.7M40.3 196.1L42.6 197.1M50.7 194.7L52.4 196.7M59.7 195.1L61.7 196.8M68.9 195.4L71.0 196.9M77.7 196.6L80.2 197.3M87.5 195.8L89.8 197.1M97.5 195.0L99.4 196.8M106.2 196.1L108.6 197.1M115.4 196.7L117.9 197.3M125.0 196.2L127.4 197.2M134.1 197.2L136.7 197.5M143.6 196.9L146.2 197.4M153.0 197.6L155.6 197.6M162.6 196.4L165.0 197.3M171.8 197.1L174.4 197.5M181.2 197.3L183.8 197.5M190.7 197.1L193.3 197.5M200.1 196.8L202.7 197.4M209.7 196.3L212.2 197.2M218.9 197.6L221.5 197.6M228.4 197.0L230.9 197.4M237.8 197.2L240.3 197.5M247.3 196.6L249.8 197.3M256.7 196.9L259.2 197.4M266.3 196.1L268.7 197.1M275.5 196.9L278.0 197.4M284.8 197.5L287.4 197.6M294.3 196.9L296.9 197.4M303.7 197.5L306.3 197.6M31.1 204.4L33.3 205.8M40.2 205.0L42.6 206.0M50.1 204.1L52.2 205.7M60.2 203.4L61.8 205.5M68.7 204.5L70.9 205.8M78.4 204.1L80.4 205.7M88.1 203.7L90.0 205.6M96.9 204.6L99.2 205.8M106.5 204.4L108.6 205.8M115.8 204.5L118.0 205.8M125.5 204.1L127.6 205.7M134.7 204.3L136.9 205.8M144.1 204.4L146.3 205.8M153.1 205.3L155.6 206.1M163.3 203.9L165.3 205.6M172.5 204.2L174.6 205.7M181.8 204.4L184.0 205.8M192.1 203.4L193.7 205.5M201.5 203.5L203.1 205.5M209.6 205.5L212.1 206.1M220.4 203.4L222.0 205.5M228.8 204.6L231.1 205.8M238.8 203.8L240.7 205.6M248.2 203.8L250.1 205.6M258.2 203.3L259.7 205.4M267.1 203.8L268.9 205.6M275.8 204.7L278.2 205.9M286.1 203.5L287.9 205.5M294.7 204.6L297.0 205.8M304.3 204.4L306.5 205.8M30.6 214.2L33.1 214.9M40.8 212.8L42.8 214.4M49.6 213.7L52.0 214.7M59.1 213.5L61.5 214.7M69.0 212.8L71.0 214.4M79.0 212.2L80.7 214.2M87.2 213.9L89.7 214.8M97.7 212.3L99.4 214.3M106.7 212.8L108.7 214.4M115.7 213.5L118.0 214.7M125.0 213.6L127.4 214.7M135.2 212.6L137.0 214.4M144.2 213.0L146.4 214.5M153.7 212.9L155.8 214.4M162.7 213.7L165.1 214.7M171.9 214.5L174.4 215.0M182.7 212.1L184.3 214.2M191.0 213.5L193.4 214.7M202.2 211.8L203.3 214.1M210.2 213.0L212.3 214.5M220.1 212.4L221.9 214.3M228.5 214.2L231.0 214.9M238.4 213.1L240.5 214.5M248.2 212.6L250.1 214.4M257.5 212.7L259.5 214.4M266.9 212.7L268.9 214.4M276.0 213.1L278.2 214.5M285.6 212.9L287.7 214.5M294.7 213.4L297.0 214.6M303.9 213.9L306.3 214.8M30.9 222.2L33.2 223.4M41.1 221.2L42.9 223.1M50.8 221.0L52.4 223.0M59.8 221.4L61.7 223.1M68.5 222.4L70.9 223.5M78.4 221.6L80.5 223.2M88.0 221.4L89.9 223.2M97.1 221.8L99.2 223.3M107.2 221.1L108.9 223.0M116.5 221.2L118.3 223.1M125.2 222.1L127.5 223.4M134.9 221.6L137.0 223.2M144.4 221.5L146.4 223.2M153.5 221.9L155.7 223.3M163.3 221.5L165.3 223.2M172.8 221.4L174.7 223.1M182.1 221.5L184.1 223.2M191.1 222.1L193.4 223.4M200.7 221.8L202.9 223.3M210.7 221.2L212.5 223.1M219.7 221.6L221.8 223.2M228.8 222.1L231.1 223.4M237.9 222.9L240.4 223.6M248.3 221.2L250.1 223.1M257.1 222.0L259.4 223.3M266.8 221.6L268.8 223.2M275.8 222.2L278.1 223.4M285.4 222.0L287.6 223.3M294.5 222.6L296.9 223.5M304.2 222.1L306.4 223.4M30.5 232.6L33.1 232.7M39.9 232.6L42.5 232.7M49.3 232.8L51.9 232.7M58.8 232.8L61.4 232.7M68.2 233.2L70.8 232.9M77.6 233.1L80.2 232.8M87.0 232.5L89.6 232.6M96.4 232.8L99.0 232.7M105.9 232.5L108.5 232.6M115.3 232.4L117.9 232.6M124.7 232.9L127.3 232.8M134.1 232.8L136.7 232.8M143.5 232.5L146.1 232.7M153.0 233.0L155.6 232.8M162.4 232.5L165.0 232.7M171.8 232.5L174.4 232.6M181.2 232.8L183.8 232.8M190.6 232.8L193.2 232.7M200.1 232.7L202.7 232.7M209.5 232.7L212.1 232.7M218.9 232.8L221.5 232.7M228.3 232.7L230.9 232.7M237.7 232.7L240.3 232.7M247.2 232.3L249.8 232.6M256.6 232.5L259.2 232.6M266.0 232.8L268.6 232.8M275.4 232.6L278.0 232.7M284.8 232.8L287.4 232.8M294.3 233.0L296.9 232.8M303.7 232.6L306.3 232.7M30.5 241.5L33.1 241.5M39.9 241.9L42.5 241.6M49.3 241.6L51.9 241.5M58.8 241.9L61.4 241.6M68.2 241.8L70.8 241.6M77.6 241.6L80.2 241.5M87.0 241.5L89.6 241.5M96.4 241.3L99.0 241.4M105.9 241.3L108.5 241.4M115.3 241.6L117.9 241.5M124.7 241.6L127.3 241.5M134.1 241.5L136.7 241.5M143.5 241.7L146.1 241.5M153.0 241.4L155.6 241.5M162.4 241.7L165.0 241.6M171.8 241.5L174.4 241.5M181.2 241.5L183.8 241.5M190.6 241.5L193.2 241.5M200.1 241.5L202.7 241.5M209.5 242.0L212.1 241.6M218.9 241.2L221.5 241.4M228.3 241.5L230.9 241.5M237.7 241.7L240.3 241.6M247.2 241.6L249.8 241.5M256.6 241.4L259.2 241.5M266.0 241.8L268.6 241.6M275.4 241.3L278.0 241.4M284.8 241.2L287.4 241.4M294.3 241.6L296.9 241.5M303.7 241.2L306.3 241.4M30.5 249.8L33.1 250.1M39.9 250.4L42.5 250.3M49.3 250.4L51.9 250.3M58.8 250.4L61.4 250.3M68.2 250.2L70.8 250.2M77.6 250.3L80.2 250.3M87.0 250.1L89.6 250.2M96.5 250.6L99.0 250.4M105.9 250.4L108.5 250.3M115.3 250.4L117.9 250.3M124.7 249.9L127.3 250.1M134.1 250.4L136.7 250.3M143.6 250.6L146.1 250.4M153.0 250.5L155.6 250.3M162.4 250.4L165.0 250.3M171.8 250.3L174.4 250.3M181.2 250.2L183.8 250.2M190.6 250.4L193.2 250.3M200.1 250.3L202.7 250.3M209.5 250.3L212.1 250.3M218.9 250.2L221.5 250.2M228.3 250.6L230.9 250.4M237.7 250.0L240.3 250.2M247.2 250.3L249.8 250.3M256.6 250.1L259.2 250.2M266.0 250.5L268.6 250.3M275.4 250.5L278.0 250.3M284.8 250.5L287.4 250.3M294.3 250.4L296.9 250.3M303.7 250.0L306.3 250.2M30.5 259.4L33.1 259.2M39.9 259.1L42.5 259.1M49.3 259.0L51.9 259.0M58.8 259.0L61.4 259.0M68.2 259.0L70.8 259.0M77.6 259.1L80.2 259.1M87.0 259.1L89.6 259.0M96.4 259.0L99.0 259.0M105.9 258.5L108.5 258.9M115.3 259.0L117.9 259.0M124.7 259.1L127.3 259.1M134.1 259.1L136.7 259.1M143.5 259.0L146.1 259.0M153.0 259.1L155.6 259.1M162.4 259.2L165.0 259.1M171.8 258.9L174.4 259.0M181.2 259.3L183.8 259.1M190.7 258.6L193.2 258.9M200.1 258.8L202.7 259.0M209.5 258.8L212.1 259.0M218.9 258.5L221.5 258.9M228.3 258.8L230.9 259.0M237.7 259.3L240.3 259.1M247.2 259.3L249.8 259.1M256.6 259.0L259.2 259.0M266.0 259.4L268.6 259.1M275.4 259.1L278.0 259.0M284.8 258.9L287.4 259.0M294.3 259.1L296.9 259.0M303.7 259.0L306.3 259.0" fill="none" stroke="#222" stroke-width="0.6"/>
<path d="M34.5 8.5L32.8 3.6L35.6 3.4ZM45.4 1.3L44.5 6.4L41.9 5.2ZM49.4 5.3L54.1 3.1L54.5 5.9ZM62.1 8.5L61.3 3.3L64.1 3.7ZM70.8 8.3L71.0 3.1L73.7 4.0ZM80.9 8.5L80.2 3.3L83.0 3.7ZM87.0 4.5L92.1 3.4L91.9 6.2ZM96.5 5.5L101.1 3.1L101.7 5.8ZM110.0 0.9L110.9 6.0L108.1 5.8ZM119.4 0.9L120.4 6.0L117.6 5.8ZM126.0 7.6L128.2 2.9L130.3 4.7ZM134.4 6.0L138.6 3.0L139.5 5.6ZM143.7 3.7L148.9 3.7L148.1 6.4ZM154.0 7.3L156.7 2.9L158.6 4.9ZM165.9 0.9L167.7 5.8L164.9 6.0ZM177.0 1.2L176.4 6.3L173.8 5.3ZM188.0 7.1L183.2 5.1L184.9 2.9ZM194.2 8.5L193.1 3.4L195.9 3.6ZM200.1 4.3L205.2 3.4L204.9 6.2ZM213.1 0.9L214.7 5.8L211.9 6.0ZM219.5 6.8L223.0 2.9L224.5 5.2ZM233.4 1.1L233.1 6.3L230.4 5.4ZM239.9 8.1L240.8 3.0L243.3 4.2ZM248.0 7.1L251.0 2.9L252.8 5.0ZM260.8 8.5L258.9 3.6L261.7 3.4ZM266.4 6.4L270.2 2.9L271.5 5.4ZM276.3 7.1L279.2 2.9L281.0 5.0ZM290.0 1.2L289.5 6.3L286.9 5.3ZM296.1 8.0L297.5 3.0L299.9 4.4ZM303.7 4.3L308.8 3.4L308.5 6.2ZM33.9 9.7L35.8 14.5L33.0 14.8ZM40.1 14.5L44.5 11.8L45.3 14.5ZM53.8 9.7L54.3 14.9L51.6 14.4ZM62.6 17.3L61.2 12.3L64.0 12.3ZM70.7 17.0L71.1 11.9L73.7 12.8ZM77.6 13.1L82.7 12.2L82.4 15.0ZM87.2 14.5L91.6 11.8L92.3 14.5ZM99.1 9.9L101.9 14.2L99.3 15.0ZM105.9 13.5L110.8 12.1L110.9 14.9ZM116.3 16.0L119.0 11.6L120.9 13.7ZM128.2 9.7L130.0 14.6L127.2 14.8ZM139.5 10.0L138.7 15.1L136.2 14.0ZM146.4 9.8L149.0 14.3L146.3 15.0ZM156.8 9.7L158.2 14.7L155.4 14.7ZM162.4 14.1L167.1 11.9L167.6 14.7ZM175.3 9.7L177.1 14.5L174.3 14.8ZM185.4 9.7L186.3 14.8L183.5 14.5ZM191.8 10.8L196.3 13.3L194.3 15.3ZM202.0 16.8L203.2 11.7L205.7 13.1ZM212.2 17.1L212.3 11.9L215.0 12.7ZM219.1 14.6L223.4 11.8L224.3 14.5ZM231.9 17.3L230.8 12.2L233.6 12.4ZM237.8 14.0L242.5 11.9L242.9 14.7ZM252.9 10.2L251.6 15.2L249.1 13.8ZM260.5 9.7L261.7 14.7L258.9 14.6ZM269.6 9.7L271.3 14.6L268.5 14.7ZM279.5 17.3L277.7 12.4L280.5 12.2ZM288.6 9.7L290.0 14.7L287.2 14.7ZM294.3 14.1L299.0 11.9L299.5 14.7ZM303.8 14.3L308.3 11.8L309.0 14.6ZM30.5 22.2L35.5 20.9L35.5 23.7ZM40.0 23.1L44.6 20.6L45.2 23.4ZM49.6 20.9L54.7 21.3L53.8 24.0ZM61.8 18.5L64.2 23.1L61.4 23.7ZM68.2 21.6L73.4 21.1L72.9 23.8ZM80.8 26.0L80.2 20.8L83.0 21.3ZM89.6 25.8L89.9 20.7L92.5 21.6ZM96.8 23.9L100.7 20.5L101.9 23.0ZM106.1 23.7L110.2 20.5L111.3 23.1ZM115.4 23.2L119.9 20.6L120.6 23.3ZM125.2 24.1L128.9 20.4L130.2 22.9ZM138.0 18.4L139.3 23.5L136.5 23.4ZM144.6 24.8L147.3 20.4L149.2 22.4ZM155.9 25.9L155.7 20.8L158.4 21.4ZM167.7 18.7L167.0 23.9L164.4 22.8ZM171.9 21.5L177.1 21.1L176.5 23.9ZM181.5 23.8L185.5 20.5L186.7 23.0ZM191.2 24.3L194.7 20.4L196.2 22.8ZM202.3 25.7L203.1 20.6L205.6 21.7ZM211.4 25.5L212.7 20.5L215.1 21.9ZM220.3 25.2L222.4 20.4L224.5 22.2ZM228.3 22.5L233.2 20.7L233.4 23.5ZM241.3 26.0L240.2 21.0L243.0 21.1ZM249.6 25.8L250.1 20.6L252.7 21.6ZM256.6 22.1L261.6 20.9L261.5 23.7ZM266.0 22.4L270.9 20.8L271.1 23.6ZM277.7 25.7L278.4 20.6L281.0 21.7ZM285.0 23.3L289.4 20.6L290.2 23.2ZM299.6 18.8L298.9 23.9L296.3 22.8ZM304.1 23.9L307.9 20.5L309.2 23.0ZM32.8 34.5L33.5 29.4L36.1 30.5ZM41.7 34.2L43.2 29.2L45.5 30.8ZM49.5 32.0L54.0 29.4L54.7 32.1ZM60.9 34.4L61.8 29.3L64.3 30.6ZM68.2 31.2L73.1 29.5L73.3 32.3ZM79.8 27.6L83.2 31.5L80.6 32.7ZM88.6 27.9L92.7 31.2L90.4 32.8ZM102.3 27.8L100.8 32.8L98.4 31.3ZM108.2 34.5L108.8 29.4L111.4 30.5ZM115.5 32.1L119.8 29.3L120.6 32.0ZM131.4 33.4L126.7 31.3L128.5 29.2ZM136.9 34.7L136.9 29.5L139.6 30.2ZM145.4 34.3L146.8 29.3L149.2 30.7ZM154.5 28.0L158.6 31.1L156.4 32.8ZM163.6 33.8L165.9 29.2L168.0 31.0ZM172.5 33.1L175.8 29.2L177.4 31.5ZM185.8 27.3L186.2 32.5L183.4 31.9ZM190.7 31.9L195.3 29.4L195.9 32.1ZM204.1 27.2L205.2 32.3L202.4 32.1ZM213.2 27.2L214.7 32.2L211.9 32.2ZM221.7 27.3L224.4 31.8L221.7 32.5ZM232.3 27.2L233.5 32.3L230.7 32.1ZM242.2 27.3L242.7 32.4L239.9 31.9ZM250.3 27.3L252.6 31.9L249.8 32.4ZM256.7 30.0L261.9 30.0L261.2 32.7ZM268.9 34.7L268.7 29.5L271.4 30.2ZM275.7 29.7L280.8 30.1L279.8 32.7ZM287.4 34.6L287.7 29.4L290.4 30.3ZM297.1 27.3L299.7 31.8L297.0 32.5ZM308.9 27.5L308.3 32.7L305.7 31.6ZM34.5 36.0L35.6 41.1L32.8 40.9ZM45.7 36.6L44.3 41.5L41.9 40.1ZM50.1 42.0L53.3 37.9L54.9 40.2ZM62.2 43.6L61.3 38.5L64.1 38.7ZM68.2 40.2L73.0 38.3L73.3 41.0ZM81.5 36.0L82.8 41.0L80.0 41.0ZM91.8 36.1L91.9 41.3L89.2 40.6ZM100.9 36.0L101.4 41.2L98.7 40.7ZM105.9 39.9L110.8 38.3L110.9 41.1ZM115.3 39.5L120.4 38.5L120.2 41.3ZM128.2 43.6L127.2 38.5L130.0 38.7ZM139.3 36.2L138.8 41.4L136.2 40.4ZM143.6 40.1L148.4 38.3L148.7 41.1ZM156.8 36.0L158.1 41.0L155.3 41.0ZM162.6 38.6L167.8 38.8L166.9 41.5ZM175.2 36.0L177.1 40.8L174.3 41.1ZM188.8 39.5L183.9 41.3L183.7 38.5ZM195.4 36.1L195.5 41.3L192.8 40.6ZM203.9 36.0L205.2 41.0L202.4 41.0ZM213.0 43.6L212.0 38.5L214.8 38.7ZM219.9 42.3L222.7 37.9L224.5 40.0ZM231.4 43.5L231.0 38.3L233.7 38.9ZM240.7 43.5L240.4 38.3L243.2 38.9ZM251.8 36.1L252.0 41.3L249.3 40.6ZM258.0 42.7L260.0 38.0L262.2 39.7ZM270.5 43.5L268.2 38.8L271.0 38.4ZM279.3 43.6L277.8 38.6L280.6 38.5ZM288.3 36.0L290.1 40.8L287.4 41.1ZM297.8 43.6L296.7 38.5L299.5 38.7ZM303.7 39.4L308.8 38.5L308.5 41.3ZM32.0 51.6L33.9 46.8L36.1 48.4ZM40.5 50.6L44.0 46.7L45.5 49.1ZM49.4 48.2L54.5 47.3L54.2 50.1ZM60.7 51.8L61.9 46.8L64.4 48.2ZM68.4 49.8L72.7 46.8L73.6 49.5ZM83.2 51.9L79.6 48.1L82.1 46.8ZM91.9 44.9L91.8 50.1L89.1 49.3ZM100.4 44.8L101.6 49.8L98.8 49.7ZM107.7 51.8L109.1 46.8L111.5 48.3ZM115.7 50.3L119.5 46.8L120.8 49.2ZM125.4 50.7L128.7 46.7L130.3 49.0ZM138.4 44.8L139.1 49.9L136.4 49.6ZM148.7 45.0L148.2 50.2L145.6 49.2ZM154.4 51.6L156.4 46.7L158.6 48.4ZM165.0 45.0L167.9 49.2L165.2 50.1ZM173.7 51.9L175.0 46.8L177.4 48.2ZM181.2 49.0L186.1 47.0L186.4 49.8ZM194.5 44.8L195.8 49.8L193.0 49.7ZM201.8 45.3L205.7 48.8L203.3 50.3ZM209.5 48.9L214.3 47.0L214.6 49.8ZM219.0 49.3L223.6 46.9L224.2 49.7ZM232.8 44.8L233.3 50.0L230.5 49.5ZM240.7 44.8L243.2 49.4L240.4 50.0ZM247.6 50.4L251.4 46.7L252.7 49.2ZM259.2 44.9L262.1 49.3L259.4 50.1ZM266.6 46.4L271.6 48.1L270.0 50.4ZM275.5 49.1L280.2 47.0L280.6 49.8ZM286.0 51.3L288.4 46.7L290.5 48.6ZM294.4 49.7L298.8 46.9L299.6 49.5ZM304.6 51.0L307.5 46.7L309.3 48.8ZM33.0 53.8L36.0 58.0L33.4 58.9ZM39.9 57.3L44.9 55.9L44.9 58.7ZM49.7 58.9L53.7 55.6L54.8 58.1ZM64.1 53.9L63.3 59.0L60.8 57.8ZM72.0 61.1L70.6 56.1L73.4 56.1ZM83.5 54.2L81.9 59.1L79.6 57.5ZM92.3 60.8L89.1 56.8L91.6 55.7ZM96.8 55.8L101.9 56.5L100.8 59.1ZM110.4 61.1L108.1 56.4L110.8 55.9ZM118.4 53.6L120.7 58.2L117.9 58.8ZM125.2 59.2L128.8 55.5L130.2 57.9ZM136.6 53.7L139.6 58.0L137.0 58.9ZM143.5 57.1L148.6 56.0L148.4 58.8ZM153.3 58.8L157.3 55.6L158.4 58.1ZM162.5 56.3L167.7 56.3L167.0 59.0ZM175.7 61.1L174.2 56.1L177.0 56.1ZM185.4 53.5L186.3 58.6L183.5 58.4ZM190.7 56.8L195.8 56.1L195.4 58.9ZM202.5 60.9L203.0 55.7L205.6 56.7ZM213.3 61.1L211.9 56.1L214.7 56.1ZM219.0 56.6L224.1 56.2L223.6 58.9ZM229.2 59.7L232.1 55.5L233.9 57.6ZM241.0 61.1L240.3 55.9L243.1 56.3ZM250.0 61.0L249.9 55.8L252.6 56.5ZM261.7 53.8L261.3 58.9L258.7 58.0ZM269.8 61.1L268.4 56.1L271.2 56.1ZM276.6 60.1L279.0 55.5L281.1 57.4ZM289.4 61.0L287.0 56.4L289.8 55.9ZM294.4 56.4L299.6 56.3L298.9 59.0ZM303.7 57.5L308.6 55.9L308.7 58.7ZM34.2 62.3L35.7 67.3L32.9 67.3ZM43.4 69.9L42.4 64.8L45.2 65.0ZM53.6 62.3L54.4 67.5L51.6 67.1ZM58.8 65.3L64.0 65.0L63.4 67.7ZM71.1 69.8L70.9 64.6L73.6 65.2ZM78.5 68.5L81.4 64.2L83.2 66.4ZM90.6 62.3L92.3 67.2L89.5 67.4ZM101.1 62.4L101.3 67.6L98.6 66.9ZM107.9 69.4L109.0 64.4L111.5 65.7ZM115.4 67.1L119.9 64.4L120.6 67.1ZM124.8 65.2L130.0 65.0L129.3 67.7ZM139.5 69.5L136.1 65.6L138.7 64.4ZM146.9 62.3L148.9 67.1L146.1 67.5ZM156.7 62.3L158.2 67.3L155.4 67.3ZM163.4 68.7L166.1 64.2L168.0 66.3ZM173.1 68.9L175.3 64.3L177.4 66.1ZM185.7 62.3L186.2 67.5L183.4 67.0ZM192.1 69.1L194.1 64.3L196.3 66.0ZM201.6 63.0L205.7 66.2L203.5 67.9ZM211.5 62.7L215.1 66.5L212.6 67.8ZM221.0 69.5L222.0 64.4L224.5 65.7ZM232.0 69.9L230.7 64.9L233.5 64.9ZM240.3 69.7L240.6 64.5L243.3 65.4ZM248.6 69.0L250.6 64.3L252.8 66.0ZM258.8 69.6L259.6 64.4L262.1 65.6ZM266.3 67.7L270.3 64.3L271.5 66.9ZM275.9 64.2L281.0 65.5L279.5 67.9ZM288.3 69.9L287.4 64.8L290.1 65.0ZM297.7 62.3L299.6 67.1L296.8 67.4ZM308.4 62.4L308.6 67.6L305.8 66.9ZM33.6 71.1L35.9 75.8L33.1 76.3ZM40.0 75.4L44.7 73.3L45.1 76.1ZM49.3 74.7L54.4 73.5L54.3 76.3ZM60.9 71.4L64.3 75.3L61.8 76.5ZM68.6 76.6L72.4 73.1L73.7 75.6ZM79.9 78.3L80.6 73.2L83.2 74.3ZM89.6 78.5L89.9 73.3L92.5 74.2ZM96.5 74.4L101.6 73.6L101.2 76.4ZM112.2 72.1L109.9 76.7L107.8 74.8ZM115.3 74.9L120.3 73.4L120.3 76.2ZM131.7 76.9L126.7 75.4L128.3 73.0ZM139.3 71.3L138.8 76.5L136.2 75.5ZM143.8 76.3L147.9 73.1L149.0 75.7ZM153.1 75.7L157.6 73.2L158.3 75.9ZM164.9 78.4L165.3 73.3L167.9 74.2ZM172.5 77.1L175.8 73.0L177.4 75.3ZM181.6 73.2L186.7 74.1L185.5 76.6ZM192.2 77.9L194.0 73.1L196.3 74.7ZM200.1 75.2L204.9 73.4L205.2 76.1ZM209.7 73.5L214.9 74.0L213.9 76.6ZM219.0 75.6L223.6 73.3L224.2 76.0ZM234.1 78.1L230.3 74.6L232.7 73.1ZM238.2 76.7L241.9 73.1L243.3 75.5ZM249.2 71.5L252.8 75.3L250.3 76.6ZM256.8 73.6L262.0 73.9L261.0 76.6ZM266.8 77.2L269.9 73.0L271.6 75.2ZM278.8 78.6L277.9 73.5L280.7 73.8ZM284.9 75.5L289.6 73.3L290.1 76.0ZM300.7 77.5L296.2 75.0L298.2 73.0ZM308.1 78.6L305.9 73.9L308.7 73.4ZM34.9 87.4L32.7 82.7L35.5 82.2ZM42.7 80.0L45.4 84.4L42.7 85.2ZM54.1 87.3L51.5 82.8L54.2 82.1ZM58.9 84.7L63.3 81.9L64.1 84.6ZM73.2 87.2L70.3 82.9L72.9 82.0ZM82.1 79.9L82.5 85.1L79.8 84.5ZM92.7 80.3L91.4 85.4L89.0 84.0ZM98.6 80.2L102.0 84.1L99.5 85.3ZM108.3 87.2L108.8 82.0L111.4 83.0ZM118.8 79.8L120.6 84.7L117.8 84.9ZM128.9 87.4L127.0 82.6L129.8 82.3ZM136.7 80.0L139.6 84.3L137.0 85.2ZM145.9 87.1L146.5 82.0L149.1 83.1ZM154.5 86.7L156.4 81.8L158.6 83.5ZM164.8 80.1L167.9 84.2L165.3 85.3ZM171.8 83.9L176.7 82.2L176.9 85.0ZM181.3 84.2L186.0 82.1L186.4 84.9ZM190.7 84.5L195.3 82.0L195.9 84.7ZM202.0 87.0L203.2 81.9L205.7 83.2ZM209.6 82.8L214.8 82.5L214.2 85.3ZM220.5 86.7L222.2 81.8L224.5 83.5ZM231.2 79.9L233.8 84.5L231.0 85.1ZM238.0 84.9L242.2 81.9L243.1 84.6ZM251.9 79.9L252.0 85.1L249.3 84.5ZM256.8 82.4L262.0 82.7L261.1 85.3ZM271.2 80.1L270.7 85.3L268.1 84.2ZM277.4 80.3L281.0 84.0L278.6 85.4ZM289.1 79.9L289.9 85.0L287.1 84.7ZM294.3 83.7L299.2 82.2L299.3 85.0ZM308.2 79.9L308.6 85.1L305.9 84.5ZM33.8 88.6L35.8 93.4L33.1 93.8ZM40.1 91.3L45.3 91.4L44.5 94.1ZM55.9 95.0L51.3 92.6L53.3 90.6ZM61.4 96.0L61.6 90.8L64.3 91.7ZM70.0 95.7L71.4 90.7L73.8 92.1ZM83.2 89.1L82.1 94.1L79.6 92.8ZM94.0 94.5L89.1 92.9L90.6 90.6ZM96.4 92.4L101.4 91.0L101.4 93.8ZM109.5 88.6L111.1 93.5L108.3 93.7ZM119.4 88.6L120.4 93.7L117.6 93.5ZM127.6 88.7L130.2 93.2L127.4 93.9ZM140.3 95.4L136.1 92.3L138.3 90.6ZM144.8 95.2L147.1 90.6L149.2 92.5ZM153.1 91.3L158.3 91.4L157.5 94.1ZM163.6 95.2L166.0 90.6L168.0 92.5ZM172.6 94.7L175.7 90.6L177.4 92.8ZM182.4 95.2L184.8 90.6L186.9 92.5ZM190.8 91.4L196.0 91.4L195.2 94.1ZM202.6 88.8L205.6 93.1L202.9 94.0ZM209.5 91.8L214.7 91.2L214.2 94.0ZM222.5 96.2L221.4 91.1L224.2 91.3ZM231.2 96.1L231.0 90.9L233.8 91.6ZM237.7 92.4L242.7 91.0L242.8 93.8ZM251.9 88.7L252.0 93.9L249.3 93.2ZM256.7 91.7L261.8 91.3L261.3 94.0ZM266.8 94.7L269.9 90.6L271.6 92.8ZM279.0 88.6L280.7 93.5L277.9 93.7ZM285.0 93.5L289.4 90.7L290.2 93.4ZM298.6 88.6L299.3 93.8L296.5 93.4ZM303.7 92.6L308.6 90.9L308.7 93.7ZM33.0 97.6L36.0 101.8L33.4 102.8ZM39.9 100.9L45.0 99.9L44.8 102.7ZM51.7 104.7L52.3 99.5L54.9 100.6ZM59.7 98.6L64.4 100.9L62.5 103.0ZM74.6 104.0L70.1 101.2L72.2 99.3ZM82.5 104.8L79.7 100.4L82.4 99.6ZM87.4 99.5L92.5 100.4L91.3 103.0ZM97.5 103.8L100.2 99.3L102.1 101.4ZM109.8 105.0L108.2 100.0L111.0 99.9ZM119.8 97.4L120.2 102.6L117.5 102.1ZM125.1 102.8L129.0 99.4L130.2 101.9ZM139.1 97.6L138.9 102.8L136.2 101.9ZM143.7 102.2L148.1 99.5L148.9 102.2ZM155.5 104.7L155.9 99.6L158.5 100.5ZM162.8 102.9L166.6 99.4L167.9 101.9ZM174.5 97.5L177.3 101.9L174.6 102.7ZM181.4 102.3L185.7 99.5L186.6 102.1ZM193.8 97.4L196.0 102.1L193.3 102.6ZM201.3 104.0L203.6 99.3L205.7 101.2ZM214.2 97.5L214.3 102.7L211.6 102.0ZM218.9 100.7L224.1 99.9L223.7 102.7ZM228.4 100.4L233.6 100.0L233.0 102.8ZM240.3 97.6L243.3 101.8L240.6 102.8ZM247.2 100.5L252.4 100.0L251.9 102.8ZM256.7 100.4L261.8 100.0L261.3 102.8ZM272.5 98.5L269.9 103.0L268.0 101.0ZM275.6 102.2L280.0 99.5L280.8 102.2ZM290.7 104.4L286.8 100.9L289.2 99.4ZM294.3 100.4L299.5 100.0L299.0 102.8ZM303.8 102.1L308.3 99.5L309.0 102.2ZM34.3 106.1L35.7 111.1L32.9 111.1ZM44.3 113.7L42.2 108.9L44.9 108.6ZM50.4 112.6L53.0 108.1L55.0 110.1ZM58.9 108.9L64.1 108.9L63.3 111.6ZM72.8 106.2L73.1 111.4L70.4 110.8ZM80.1 106.4L83.1 110.6L80.5 111.5ZM91.1 113.7L89.3 108.8L92.1 108.7ZM98.6 106.5L102.0 110.4L99.5 111.6ZM108.4 113.5L108.7 108.3L111.4 109.3ZM115.4 110.9L119.9 108.3L120.6 111.0ZM128.1 106.2L130.0 111.0L127.2 111.3ZM137.5 113.7L136.7 108.6L139.4 108.9ZM145.0 113.0L146.9 108.1L149.2 109.8ZM153.8 112.3L156.8 108.1L158.6 110.3ZM164.9 106.3L167.9 110.6L165.2 111.5ZM174.1 106.5L177.4 110.5L174.8 111.6ZM181.3 110.5L186.0 108.4L186.4 111.2ZM191.0 108.4L196.1 109.1L195.0 111.7ZM205.0 113.6L202.2 109.2L204.8 108.4ZM214.1 106.2L214.4 111.4L211.7 110.8ZM221.3 113.5L221.9 108.3L224.5 109.4ZM230.5 113.4L231.3 108.3L233.9 109.4ZM238.5 112.3L241.6 108.1L243.3 110.3ZM250.8 106.1L252.4 111.1L249.6 111.2ZM256.7 108.8L261.9 108.9L261.1 111.6ZM268.4 113.5L268.9 108.3L271.5 109.3ZM275.6 111.2L279.9 108.2L280.8 110.9ZM285.0 111.1L289.3 108.2L290.2 110.9ZM294.8 111.8L298.4 108.1L299.8 110.6ZM303.7 109.8L308.7 108.6L308.6 111.4ZM31.6 121.4L34.2 116.9L36.1 118.8ZM44.1 114.9L45.0 120.0L42.2 119.8ZM50.7 121.6L52.9 116.9L55.0 118.7ZM63.0 114.9L63.8 120.1L61.0 119.8ZM68.8 120.8L72.2 116.9L73.7 119.2ZM77.6 118.6L82.6 117.3L82.6 120.1ZM88.7 121.9L90.3 116.9L92.7 118.5ZM96.8 117.1L101.9 117.9L100.8 120.5ZM107.8 122.0L109.0 117.0L111.5 118.3ZM116.9 115.6L120.9 118.9L118.6 120.5ZM130.0 115.2L129.3 120.4L126.7 119.2ZM139.3 122.2L136.2 118.1L138.8 117.1ZM148.3 115.0L148.4 120.2L145.7 119.5ZM159.8 116.4L156.7 120.6L155.0 118.3ZM166.5 122.5L164.7 117.6L167.5 117.4ZM175.5 114.9L177.0 119.9L174.2 120.0ZM184.5 122.5L183.8 117.3L186.6 117.7ZM196.1 115.3L195.2 120.4L192.7 119.2ZM204.5 115.0L205.0 120.1L202.3 119.7ZM211.3 121.9L212.7 117.0L215.1 118.4ZM219.2 120.2L223.3 117.0L224.3 119.5ZM228.9 120.8L232.4 116.9L233.9 119.2ZM239.4 121.8L241.1 116.9L243.4 118.5ZM247.8 120.9L251.2 116.9L252.7 119.2ZM259.1 115.1L262.1 119.3L259.5 120.3ZM270.2 114.9L271.1 120.1L268.3 119.7ZM278.9 114.9L280.7 119.8L277.9 120.0ZM288.4 114.9L290.1 119.8L287.3 120.0ZM297.2 122.4L297.0 117.2L299.7 117.9ZM306.9 122.5L306.3 117.3L309.0 117.7ZM33.0 131.0L33.4 125.9L36.0 126.8ZM44.1 123.7L45.0 128.8L42.2 128.5ZM54.7 124.0L53.9 129.2L51.4 128.0ZM58.8 127.3L63.8 126.1L63.7 128.9ZM68.3 128.3L72.9 125.9L73.4 128.6ZM79.9 124.0L83.2 128.0L80.6 129.1ZM87.0 127.5L92.0 126.1L92.0 128.9ZM96.5 126.8L101.7 126.3L101.2 129.1ZM106.0 128.6L110.4 125.8L111.2 128.5ZM116.3 130.1L119.0 125.6L120.9 127.7ZM128.4 123.7L129.9 128.6L127.1 128.7ZM136.0 124.2L139.7 127.8L137.3 129.2ZM150.6 125.6L147.0 129.3L145.6 126.9ZM154.0 130.1L156.6 125.6L158.6 127.7ZM165.2 123.8L167.8 128.3L165.1 129.0ZM172.4 129.5L175.8 125.7L177.4 128.0ZM185.0 123.7L186.4 128.7L183.6 128.7ZM196.0 130.9L192.7 127.0L195.2 125.8ZM200.3 128.8L204.5 125.8L205.5 128.4ZM211.9 131.0L212.4 125.9L215.0 126.9ZM221.4 131.0L221.8 125.9L224.4 126.8ZM231.2 131.2L231.0 126.0L233.8 126.6ZM238.2 125.8L243.2 126.8L242.0 129.3ZM247.2 127.8L252.0 126.0L252.3 128.8ZM260.7 123.7L261.7 128.8L258.9 128.6ZM268.2 124.0L271.6 128.0L269.0 129.2ZM280.2 123.8L280.2 129.0L277.5 128.3ZM287.6 131.1L287.6 125.9L290.3 126.7ZM295.4 130.2L297.9 125.6L299.9 127.6ZM304.9 124.7L309.3 127.4L307.2 129.3ZM36.6 139.3L32.5 136.2L34.7 134.4ZM45.7 139.5L41.9 136.0L44.3 134.5ZM50.0 138.3L53.4 134.4L54.9 136.8ZM65.8 138.2L60.8 136.8L62.3 134.4ZM71.1 140.0L70.9 134.8L73.6 135.4ZM80.4 139.9L80.4 134.7L83.1 135.5ZM93.9 138.5L89.0 136.7L90.7 134.4ZM99.9 140.0L99.0 134.9L101.7 135.2ZM113.2 134.9L109.0 138.0L108.0 135.4ZM122.4 134.5L118.7 138.0L117.4 135.6ZM131.2 138.9L126.7 136.4L128.6 134.4ZM141.7 136.5L136.6 137.6L136.8 134.8ZM150.3 138.7L145.5 136.6L147.3 134.4ZM160.6 136.4L155.5 137.6L155.6 134.8ZM169.7 134.8L165.6 138.0L164.5 135.4ZM178.7 138.4L173.8 136.7L175.4 134.4ZM187.7 133.6L185.2 138.1L183.2 136.1ZM198.2 136.8L193.1 137.5L193.4 134.7ZM207.2 138.1L202.1 136.9L203.5 134.4ZM217.1 136.5L212.0 137.6L212.2 134.8ZM226.3 135.0L222.0 138.0L221.1 135.3ZM235.2 138.4L230.3 136.7L231.9 134.4ZM245.3 136.3L240.3 137.6L240.3 134.8ZM254.1 138.4L249.2 136.7L250.8 134.4ZM263.7 134.4L260.0 138.1L258.6 135.6ZM273.6 136.0L268.7 137.7L268.5 134.9ZM282.9 137.0L277.8 137.4L278.3 134.6ZM292.1 134.6L288.2 138.0L287.0 135.5ZM301.3 138.3L296.3 136.8L297.8 134.4ZM311.2 136.9L306.0 137.4L306.5 134.7ZM38.0 144.2L33.4 146.7L32.8 143.9ZM45.3 148.5L42.0 144.5L44.5 143.4ZM56.9 145.5L51.8 146.3L52.1 143.5ZM64.8 148.1L60.7 144.9L63.0 143.2ZM72.1 148.8L70.6 143.8L73.4 143.8ZM82.7 148.6L79.7 144.4L82.3 143.4ZM92.8 148.2L89.0 144.8L91.4 143.3ZM101.1 148.7L98.6 144.2L101.3 143.5ZM113.2 146.4L108.0 145.9L109.0 143.3ZM122.6 146.3L117.5 145.9L118.4 143.3ZM131.5 147.3L126.7 145.4L128.4 143.2ZM141.7 144.9L136.8 146.5L136.7 143.7ZM151.1 144.4L146.4 146.6L145.9 143.8ZM160.4 143.8L156.1 146.7L155.2 144.1ZM168.8 147.7L164.3 145.1L166.3 143.2ZM179.2 143.7L174.9 146.7L174.0 144.1ZM188.8 145.1L183.8 146.4L183.8 143.6ZM197.5 147.3L192.6 145.4L194.3 143.2ZM207.7 144.9L202.7 146.5L202.6 143.7ZM216.9 143.7L212.6 146.7L211.7 144.1ZM226.4 144.2L221.8 146.6L221.2 143.9ZM235.7 143.9L231.4 146.7L230.6 144.0ZM245.0 143.5L241.0 146.8L239.9 144.2ZM254.5 143.6L250.4 146.8L249.3 144.2ZM264.2 145.1L259.1 146.4L259.2 143.6ZM272.1 148.0L268.0 144.9L270.2 143.2ZM282.8 146.3L277.6 145.9L278.6 143.3ZM292.4 144.5L287.7 146.6L287.2 143.8ZM301.8 145.8L296.6 146.1L297.2 143.4ZM311.1 143.9L306.7 146.7L305.9 144.0ZM37.6 155.6L32.6 154.4L33.9 152.0ZM45.7 157.0L41.9 153.5L44.3 152.0ZM56.8 152.8L52.3 155.4L51.6 152.7ZM61.9 157.5L61.4 152.4L64.1 152.8ZM75.5 155.3L70.3 154.6L71.4 152.0ZM82.1 157.5L79.8 152.9L82.6 152.4ZM90.7 157.6L89.5 152.5L92.3 152.6ZM103.3 156.1L98.4 154.2L100.1 151.9ZM113.3 154.8L108.1 154.8L108.9 152.1ZM122.6 152.4L118.5 155.5L117.5 152.9ZM131.8 155.7L126.8 154.4L128.1 152.0ZM141.7 153.8L136.7 155.2L136.7 152.4ZM150.9 155.2L145.7 154.7L146.7 152.0ZM160.5 154.2L155.4 155.0L155.7 152.3ZM169.9 154.4L164.8 155.0L165.2 152.2ZM178.9 155.6L173.9 154.4L175.2 152.0ZM188.7 152.7L184.2 155.5L183.5 152.8ZM197.7 155.8L192.7 154.4L194.2 152.0ZM207.3 155.4L202.2 154.6L203.4 152.0ZM216.8 152.4L212.7 155.5L211.6 152.9ZM226.2 152.3L222.2 155.6L221.0 153.0ZM235.8 152.7L231.4 155.5L230.6 152.8ZM245.3 153.3L240.5 155.3L240.2 152.6ZM253.1 150.6L251.5 155.6L249.1 154.0ZM263.6 155.7L258.6 154.4L260.1 152.0ZM273.4 155.0L268.2 154.7L269.1 152.1ZM282.7 155.4L277.5 154.5L278.7 152.0ZM292.2 152.4L288.1 155.5L287.0 152.9ZM301.8 153.3L297.0 155.3L296.7 152.5ZM310.9 152.0L307.1 155.6L305.8 153.1ZM37.8 164.0L32.7 163.4L33.7 160.8ZM45.0 166.1L42.0 161.9L44.6 160.9ZM52.9 166.4L51.8 161.3L54.6 161.4ZM61.9 166.3L61.4 161.1L64.2 161.6ZM75.3 160.8L71.6 164.4L70.3 161.9ZM84.9 164.0L79.8 163.4L80.8 160.8ZM93.9 164.8L89.0 163.0L90.7 160.7ZM101.3 166.2L98.6 161.8L101.3 161.0ZM113.4 162.9L108.3 163.8L108.6 161.1ZM122.8 163.2L117.7 163.8L118.1 161.0ZM132.3 163.1L127.1 163.8L127.5 161.0ZM139.8 165.9L136.1 162.2L138.5 160.8ZM151.1 162.7L146.1 163.9L146.2 161.1ZM160.5 163.2L155.3 163.7L155.8 161.0ZM170.0 162.1L165.2 164.1L164.8 161.3ZM179.4 162.2L174.5 164.1L174.3 161.3ZM188.6 161.2L184.4 164.3L183.4 161.7ZM198.2 162.6L193.2 163.9L193.3 161.1ZM207.4 161.3L203.2 164.3L202.3 161.6ZM214.9 166.0L211.5 162.1L214.0 160.9ZM226.1 164.3L221.0 163.2L222.3 160.8ZM234.9 160.0L232.2 164.4L230.3 162.3ZM244.8 164.5L239.8 163.1L241.2 160.7ZM254.7 163.0L249.6 163.8L249.9 161.0ZM264.0 161.4L259.7 164.3L258.8 161.6ZM273.3 164.0L268.2 163.4L269.2 160.8ZM282.8 161.4L278.5 164.3L277.7 161.6ZM291.7 164.8L286.8 163.0L288.5 160.7ZM300.6 165.4L296.2 162.6L298.3 160.7ZM310.6 164.7L305.7 163.1L307.3 160.7ZM36.2 174.6L32.5 171.0L34.9 169.6ZM46.6 173.8L41.9 171.6L43.7 169.5ZM55.9 174.0L51.3 171.5L53.2 169.5ZM65.6 173.6L60.8 171.8L62.4 169.5ZM74.3 174.3L70.1 171.2L72.4 169.5ZM85.1 172.0L80.0 172.5L80.5 169.7ZM93.7 173.8L89.0 171.6L90.8 169.5ZM103.1 173.8L98.4 171.6L100.2 169.5ZM112.8 173.5L107.9 171.8L109.5 169.5ZM122.7 172.3L117.6 172.4L118.3 169.7ZM132.1 172.6L126.9 172.2L127.8 169.6ZM141.6 172.1L136.5 172.5L137.0 169.7ZM151.1 171.4L146.1 172.7L146.2 169.9ZM160.5 171.6L155.5 172.6L155.7 169.8ZM170.0 171.4L165.0 172.7L165.0 169.9ZM179.2 172.6L174.0 172.3L174.9 169.6ZM188.6 172.7L183.4 172.2L184.4 169.6ZM198.2 170.5L193.6 172.9L193.0 170.2ZM207.5 172.3L202.3 172.4L203.1 169.7ZM217.1 171.8L211.9 172.6L212.2 169.8ZM226.5 171.5L221.4 172.7L221.6 169.9ZM235.9 171.0L231.0 172.8L230.8 170.0ZM244.9 173.1L239.8 172.0L241.1 169.5ZM254.6 172.5L249.4 172.3L250.2 169.6ZM264.0 172.5L258.8 172.3L259.7 169.6ZM273.5 172.4L268.3 172.4L269.0 169.7ZM282.1 173.8L277.4 171.6L279.2 169.5ZM292.3 172.2L287.2 172.4L287.8 169.7ZM300.7 174.1L296.2 171.4L298.3 169.5ZM311.2 171.9L306.1 172.5L306.5 169.8ZM37.5 182.2L32.5 180.6L34.1 178.3ZM46.9 182.2L42.0 180.6L43.5 178.3ZM55.3 183.2L51.3 179.9L53.6 178.3ZM65.9 181.9L60.8 180.8L62.2 178.3ZM74.4 183.0L70.1 180.1L72.3 178.3ZM83.6 183.2L79.6 179.9L81.9 178.3ZM93.2 183.1L89.0 180.0L91.2 178.3ZM102.7 183.0L98.4 180.1L100.6 178.3ZM112.7 182.4L107.9 180.5L109.6 178.3ZM122.9 180.2L117.8 181.5L117.9 178.7ZM131.5 182.4L126.7 180.5L128.4 178.3ZM141.5 181.3L136.3 181.0L137.2 178.4ZM151.1 180.2L146.1 181.5L146.2 178.7ZM160.5 180.7L155.3 181.3L155.8 178.5ZM170.0 180.5L164.8 181.4L165.1 178.6ZM178.9 182.0L173.9 180.7L175.3 178.3ZM188.8 180.1L183.8 181.5L183.8 178.7ZM197.7 182.0L192.7 180.7L194.1 178.3ZM207.6 180.7L202.4 181.3L202.9 178.5ZM217.1 179.8L212.2 181.6L212.0 178.8ZM226.4 179.4L221.8 181.7L221.3 178.9ZM235.9 180.5L230.8 181.4L231.1 178.6ZM245.3 180.2L240.3 181.5L240.4 178.7ZM254.5 181.4L249.4 181.0L250.3 178.4ZM264.0 181.3L258.8 181.1L259.7 178.4ZM273.6 180.0L268.7 181.5L268.6 178.7ZM282.9 180.9L277.8 181.2L278.3 178.5ZM292.3 181.0L287.1 181.2L287.8 178.5ZM301.4 181.9L296.3 180.7L297.7 178.3ZM311.2 180.8L306.1 181.3L306.5 178.5ZM37.5 190.9L32.5 189.4L34.0 187.0ZM46.2 191.8L41.9 188.9L44.0 187.0ZM55.8 191.6L51.3 189.0L53.3 187.0ZM66.1 190.2L60.9 189.7L61.9 187.1ZM75.0 191.2L70.2 189.2L71.9 187.0ZM84.2 191.5L79.6 189.1L81.5 187.0ZM93.1 191.9L89.0 188.7L91.2 187.1ZM102.8 191.7L98.4 188.9L100.5 187.0ZM112.4 191.5L107.8 189.1L109.7 187.0ZM122.9 188.6L118.0 190.4L117.8 187.6ZM132.1 190.1L126.9 189.8L127.8 187.2ZM141.7 188.2L137.0 190.4L136.5 187.7ZM150.8 190.4L145.7 189.7L146.8 187.1ZM160.4 189.9L155.2 189.9L156.0 187.2ZM170.0 189.0L164.9 190.2L165.0 187.4ZM179.3 189.8L174.1 189.9L174.8 187.2ZM188.5 190.3L183.4 189.7L184.4 187.1ZM198.1 189.8L192.9 189.9L193.6 187.2ZM207.6 189.3L202.5 190.1L202.8 187.3ZM216.5 190.9L211.5 189.4L213.0 187.0ZM226.4 189.9L221.2 189.9L221.9 187.2ZM235.8 189.7L230.6 190.0L231.3 187.2ZM245.2 190.0L240.0 189.9L240.8 187.2ZM254.8 189.1L249.7 190.2L249.8 187.4ZM264.0 190.1L258.8 189.8L259.7 187.2ZM273.4 189.9L268.3 189.9L269.0 187.2ZM282.9 189.6L277.8 190.0L278.3 187.3ZM292.4 189.1L287.4 190.2L287.5 187.4ZM301.7 189.8L296.5 189.9L297.3 187.2ZM311.3 188.5L306.4 190.4L306.1 187.6ZM36.7 200.6L32.5 197.6L34.6 195.8ZM47.2 199.2L42.0 198.4L43.2 195.9ZM55.6 200.6L51.3 197.6L53.5 195.8ZM65.4 200.2L60.7 197.9L62.6 195.8ZM75.1 199.9L70.2 198.1L71.8 195.8ZM85.1 198.6L79.9 198.7L80.6 196.0ZM94.1 199.5L89.1 198.3L90.5 195.8ZM102.9 200.3L98.4 197.8L100.4 195.8ZM113.1 199.2L108.0 198.4L109.1 195.9ZM122.8 198.6L117.6 198.7L118.3 196.0ZM132.0 199.0L126.9 198.5L127.9 195.9ZM141.7 198.1L136.6 198.9L136.9 196.1ZM151.1 198.4L145.9 198.8L146.4 196.0ZM160.6 197.7L155.5 199.0L155.6 196.2ZM169.8 198.9L164.6 198.6L165.5 195.9ZM179.4 198.1L174.2 198.9L174.6 196.1ZM188.8 197.9L183.7 198.9L183.9 196.2ZM198.2 198.2L193.0 198.8L193.5 196.1ZM207.6 198.5L202.4 198.8L203.0 196.0ZM216.8 199.0L211.7 198.5L212.6 195.9ZM226.5 197.7L221.5 199.0L221.5 196.2ZM235.9 198.3L230.7 198.8L231.2 196.0ZM245.3 198.0L240.2 198.9L240.5 196.1ZM254.6 198.7L249.4 198.6L250.2 196.0ZM264.1 198.4L258.9 198.8L259.5 196.0ZM273.3 199.2L268.1 198.4L269.3 195.9ZM283.0 198.4L277.8 198.8L278.3 196.0ZM292.4 197.8L287.4 199.0L287.5 196.2ZM301.8 198.4L296.6 198.8L297.1 196.0ZM311.3 197.8L306.2 199.0L306.3 196.2ZM37.5 208.4L32.5 207.0L34.0 204.6ZM47.3 207.8L42.1 207.3L43.1 204.7ZM56.2 208.7L51.3 206.8L53.0 204.6ZM64.9 209.4L60.7 206.3L62.9 204.6ZM75.2 208.3L70.2 207.0L71.7 204.6ZM84.4 208.7L79.6 206.8L81.3 204.6ZM93.5 209.1L89.0 206.6L91.0 204.6ZM103.6 208.2L98.5 207.1L99.9 204.6ZM112.9 208.4L107.9 207.0L109.4 204.6ZM122.4 208.3L117.3 207.0L118.8 204.6ZM131.5 208.8L126.7 206.8L128.4 204.6ZM141.1 208.5L136.2 206.9L137.7 204.6ZM150.5 208.4L145.6 206.9L147.1 204.6ZM160.4 207.5L155.2 207.4L156.0 204.7ZM169.0 208.9L164.4 206.7L166.2 204.6ZM178.7 208.6L173.8 206.9L175.4 204.6ZM188.3 208.4L183.3 207.0L184.7 204.6ZM196.8 209.4L192.6 206.3L194.8 204.6ZM206.2 209.4L202.0 206.4L204.2 204.6ZM217.0 207.3L211.8 207.5L212.4 204.8ZM225.0 209.4L220.9 206.3L223.1 204.6ZM235.4 208.3L230.4 207.0L231.8 204.6ZM244.3 209.0L239.7 206.6L241.6 204.6ZM253.8 209.0L249.1 206.6L251.0 204.6ZM262.6 209.5L258.5 206.2L260.8 204.6ZM272.5 209.1L268.0 206.6L269.9 204.6ZM282.6 208.1L277.5 207.1L278.8 204.6ZM291.1 209.3L286.8 206.4L288.9 204.6ZM301.4 208.3L296.3 207.1L297.7 204.6ZM310.7 208.4L305.7 207.0L307.2 204.6ZM38.0 216.2L32.8 216.2L33.5 213.5ZM46.6 217.6L41.9 215.5L43.7 213.3ZM56.7 216.6L51.5 216.0L52.6 213.4ZM66.0 216.9L60.9 215.9L62.1 213.4ZM75.0 217.5L70.2 215.5L71.9 213.3ZM83.8 218.2L79.6 215.1L81.8 213.4ZM94.4 216.5L89.2 216.1L90.2 213.5ZM102.8 218.0L98.4 215.2L100.5 213.4ZM112.6 217.6L107.8 215.5L109.6 213.3ZM122.5 216.9L117.4 215.9L118.6 213.4ZM132.0 216.7L126.8 216.0L128.0 213.4ZM140.7 217.8L136.1 215.4L138.0 213.3ZM150.4 217.4L145.6 215.6L147.2 213.3ZM159.8 217.5L155.0 215.6L156.7 213.3ZM169.7 216.7L164.5 216.0L165.6 213.4ZM179.3 215.8L174.2 216.4L174.7 213.6ZM187.3 218.2L183.2 215.1L185.4 213.4ZM197.9 216.8L192.7 215.9L194.0 213.4ZM205.6 218.6L202.1 214.7L204.6 213.5ZM216.4 217.4L211.5 215.6L213.1 213.3ZM225.3 217.9L220.9 215.3L222.9 213.3ZM235.8 216.2L230.6 216.2L231.3 213.5ZM244.7 217.3L239.8 215.7L241.3 213.4ZM253.8 217.7L249.1 215.4L251.0 213.3ZM263.3 217.6L258.6 215.5L260.4 213.3ZM272.7 217.7L268.0 215.5L269.8 213.3ZM282.4 217.3L277.5 215.7L279.0 213.4ZM291.7 217.4L286.8 215.6L288.5 213.3ZM301.4 217.0L296.3 215.8L297.7 213.4ZM311.1 216.5L305.9 216.1L306.8 213.5ZM37.7 225.7L32.6 224.6L33.9 222.2ZM46.3 226.7L41.9 224.0L43.9 222.1ZM55.5 226.9L51.3 223.9L53.5 222.1ZM65.4 226.5L60.7 224.2L62.6 222.1ZM75.4 225.5L70.3 224.7L71.5 222.2ZM84.4 226.3L79.6 224.3L81.3 222.1ZM93.7 226.5L89.0 224.2L90.9 222.1ZM103.4 226.1L98.5 224.5L100.0 222.1ZM112.1 226.8L107.8 224.0L109.9 222.1ZM121.7 226.7L117.2 224.0L119.3 222.1ZM131.8 225.8L126.8 224.6L128.2 222.1ZM140.9 226.3L136.1 224.3L137.8 222.1ZM150.3 226.4L145.5 224.3L147.3 222.1ZM160.0 226.0L155.0 224.5L156.5 222.1ZM169.1 226.4L164.4 224.2L166.2 222.1ZM178.4 226.5L173.8 224.2L175.6 222.1ZM187.9 226.4L183.2 224.3L185.0 222.1ZM197.8 225.8L192.7 224.6L194.1 222.1ZM207.0 226.1L202.1 224.4L203.7 222.1ZM215.9 226.7L211.4 224.0L213.5 222.1ZM225.7 226.3L220.9 224.3L222.6 222.1ZM235.5 225.8L230.4 224.6L231.7 222.1ZM245.2 225.0L240.0 225.0L240.8 222.3ZM253.6 226.7L249.1 224.0L251.1 222.1ZM263.6 225.9L258.6 224.5L260.1 222.1ZM272.8 226.3L268.0 224.3L269.7 222.1ZM282.6 225.7L277.5 224.7L278.8 222.2ZM291.9 225.9L286.9 224.5L288.3 222.1ZM301.6 225.3L296.4 224.8L297.4 222.2ZM310.8 225.8L305.7 224.6L307.1 222.1ZM38.1 232.8L33.1 234.1L33.1 231.3ZM47.5 232.8L42.5 234.1L42.6 231.3ZM56.9 232.6L52.0 234.1L51.9 231.3ZM66.4 232.6L61.4 234.1L61.3 231.3ZM75.8 232.2L71.0 234.3L70.6 231.5ZM85.2 232.4L80.3 234.2L80.1 231.4ZM94.6 233.0L89.5 234.0L89.7 231.2ZM104.0 232.7L99.1 234.1L99.0 231.3ZM113.5 233.0L108.4 234.0L108.6 231.2ZM122.9 233.0L117.8 234.0L118.0 231.2ZM132.3 232.6L127.4 234.2L127.2 231.4ZM141.7 232.6L136.8 234.2L136.7 231.4ZM151.1 232.9L146.1 234.1L146.2 231.3ZM160.5 232.4L155.7 234.2L155.4 231.4ZM170.0 232.9L164.9 234.1L165.1 231.3ZM179.4 233.0L174.3 234.0L174.5 231.2ZM188.8 232.6L183.9 234.2L183.8 231.4ZM198.2 232.7L193.3 234.1L193.2 231.3ZM207.7 232.8L202.6 234.1L202.7 231.3ZM217.1 232.7L212.1 234.1L212.1 231.3ZM226.5 232.7L221.5 234.1L221.5 231.3ZM235.9 232.7L230.9 234.1L230.9 231.3ZM245.3 232.8L240.3 234.1L240.4 231.3ZM254.7 233.1L249.6 234.0L249.9 231.2ZM264.2 233.0L259.1 234.0L259.3 231.2ZM273.6 232.6L268.6 234.2L268.6 231.4ZM283.0 232.9L278.0 234.1L278.1 231.3ZM292.4 232.6L287.5 234.2L287.4 231.4ZM301.9 232.5L297.0 234.2L296.8 231.4ZM311.3 232.8L306.3 234.1L306.3 231.3ZM38.1 241.4L33.1 242.9L33.1 240.1ZM47.5 241.1L42.7 243.0L42.4 240.2ZM56.9 241.4L52.0 242.9L51.9 240.1ZM66.3 241.1L61.5 243.0L61.2 240.2ZM75.8 241.2L70.9 243.0L70.7 240.2ZM85.2 241.3L80.3 242.9L80.1 240.1ZM94.6 241.5L89.6 242.9L89.6 240.1ZM104.0 241.7L99.0 242.8L99.1 240.0ZM113.5 241.7L108.4 242.8L108.5 240.0ZM122.9 241.4L117.9 242.9L117.8 240.1ZM132.3 241.4L127.3 242.9L127.3 240.1ZM141.7 241.5L136.7 242.9L136.7 240.1ZM151.1 241.3L146.2 242.9L146.1 240.1ZM160.6 241.6L155.5 242.9L155.6 240.1ZM170.0 241.3L165.1 243.0L164.9 240.2ZM179.4 241.5L174.4 242.9L174.4 240.1ZM188.8 241.5L183.8 242.9L183.8 240.1ZM198.2 241.5L193.2 242.9L193.2 240.1ZM207.7 241.5L202.7 242.9L202.7 240.1ZM217.0 241.0L212.3 243.0L211.9 240.3ZM226.5 241.8L221.4 242.8L221.6 240.0ZM235.9 241.5L230.9 242.9L230.9 240.1ZM245.3 241.2L240.4 243.0L240.3 240.2ZM254.8 241.3L249.8 242.9L249.7 240.1ZM264.2 241.6L259.2 242.9L259.2 240.1ZM273.6 241.1L268.7 243.0L268.5 240.2ZM283.0 241.7L277.9 242.8L278.1 240.0ZM292.4 241.7L287.3 242.8L287.5 240.0ZM301.9 241.4L296.9 242.9L296.8 240.1ZM311.3 241.8L306.2 242.8L306.4 240.0ZM38.1 250.7L32.9 251.5L33.3 248.7ZM47.5 250.1L42.6 251.7L42.5 248.9ZM56.9 250.1L52.0 251.7L51.9 248.9ZM66.4 250.1L61.4 251.7L61.3 248.9ZM75.8 250.4L70.7 251.6L70.8 248.8ZM85.2 250.2L80.2 251.7L80.2 248.9ZM94.6 250.5L89.6 251.6L89.7 248.8ZM104.0 249.9L99.2 251.8L98.9 249.0ZM113.5 250.1L108.5 251.7L108.4 248.9ZM122.9 250.1L117.9 251.7L117.8 248.9ZM132.3 250.6L127.2 251.5L127.4 248.7ZM141.7 250.1L136.8 251.7L136.7 248.9ZM151.1 250.0L146.3 251.7L146.0 249.0ZM160.6 250.0L155.7 251.7L155.5 248.9ZM170.0 250.1L165.0 251.7L164.9 248.9ZM179.4 250.3L174.4 251.7L174.4 248.9ZM188.8 250.3L183.8 251.6L183.8 248.8ZM198.2 250.1L193.3 251.7L193.2 248.9ZM207.7 250.2L202.7 251.7L202.6 248.9ZM217.1 250.2L212.1 251.7L212.1 248.9ZM226.5 250.3L221.5 251.6L221.5 248.8ZM235.9 249.9L231.0 251.8L230.8 249.0ZM245.3 250.5L240.3 251.6L240.4 248.8ZM254.8 250.3L249.8 251.7L249.8 248.9ZM264.2 250.4L259.1 251.6L259.2 248.8ZM273.6 250.1L268.7 251.7L268.5 248.9ZM283.0 250.0L278.1 251.7L277.9 249.0ZM292.4 250.0L287.5 251.7L287.4 248.9ZM301.9 250.1L296.9 251.7L296.8 248.9ZM311.3 250.5L306.2 251.6L306.4 248.8ZM38.1 258.6L33.3 260.6L33.0 257.8ZM47.5 258.9L42.6 260.5L42.5 257.7ZM56.9 259.1L51.9 260.4L51.9 257.6ZM66.4 259.0L61.4 260.4L61.4 257.6ZM75.8 259.1L70.8 260.4L70.8 257.6ZM85.2 258.9L80.2 260.5L80.2 257.7ZM94.6 259.0L89.6 260.4L89.6 257.6ZM104.0 259.1L99.0 260.4L99.1 257.6ZM113.4 259.5L108.3 260.3L108.7 257.5ZM122.9 259.0L117.9 260.4L117.9 257.6ZM132.3 258.9L127.3 260.5L127.3 257.7ZM141.7 258.9L136.8 260.5L136.7 257.7ZM151.1 259.1L146.1 260.4L146.2 257.6ZM160.6 258.9L155.6 260.5L155.5 257.7ZM170.0 258.8L165.1 260.5L164.9 257.7ZM179.4 259.1L174.4 260.4L174.4 257.6ZM188.8 258.7L183.9 260.5L183.7 257.7ZM198.2 259.4L193.1 260.3L193.4 257.5ZM207.7 259.3L202.6 260.3L202.8 257.6ZM217.1 259.2L212.0 260.4L212.1 257.6ZM226.5 259.5L221.3 260.3L221.7 257.5ZM235.9 259.2L230.8 260.4L231.0 257.6ZM245.3 258.8L240.4 260.5L240.3 257.7ZM254.8 258.8L249.9 260.5L249.7 257.7ZM264.2 259.0L259.2 260.4L259.2 257.6ZM273.6 258.7L268.7 260.5L268.5 257.7ZM283.0 259.0L278.0 260.4L278.0 257.6ZM292.4 259.1L287.4 260.4L287.5 257.6ZM301.9 259.0L296.9 260.4L296.8 257.6ZM311.3 259.1L306.3 260.4L306.3 257.6Z" fill="#000" stroke="#000" stroke-width="0.3"/>
<path d="M33.6 3.5L33.4 4.5L33.1 6.5L32.9 8.5L32.8 10.5L32.8 12.5L32.8 14.5L32.8 16.5L32.7 18.5L32.7 20.5L32.7 22.5L32.6 24.5L32.6 26.5L32.6 28.5L32.6 30.5L32.6 32.5L32.6 34.5L32.6 36.5L32.6 38.5L32.6 40.5L32.6 42.5L32.6 44.5L32.5 46.5L32.4 47.5L32.1 49.5L31.7 51.5L31.3 52.5L30.2 53.5L29.5 53.7M55.1 3.5L54.9 5.5L54.8 7.5L54.6 9.5L54.5 11.5L54.4 12.5L54.3 14.5L54.2 16.5L54.2 18.5L54.2 20.5L54.2 22.5L54.1 24.5L54.1 26.5L54.0 28.5L53.8 30.5L53.6 32.5L53.5 33.5L53.1 35.5L52.8 37.5L52.5 39.5L52.4 40.5L52.2 42.5L52.0 44.5L52.0 46.5L52.0 48.5L52.2 50.5L52.4 52.5L52.5 53.5L52.7 55.5L52.9 57.5L53.1 59.5L53.2 61.5L53.3 63.5L53.4 65.5L53.5 67.5L53.5 68.5L53.7 70.5L53.9 72.5L54.3 74.5L54.5 75.6L54.8 77.5L55.2 79.5L55.5 81.4L55.6 82.5L55.8 84.5L55.8 86.5L55.6 88.5L55.5 89.5L54.9 91.5L54.5 92.5L53.5 94.1L52.5 95.4L51.6 96.5L50.6 97.5L49.5 98.4L48.5 98.9L47.1 99.5L45.5 99.8L43.5 99.9L41.5 99.7L40.5 99.5L38.5 98.7L37.5 98.3L35.5 97.6L34.5 97.4L32.5 97.3L30.5 97.2L29.5 97.2M125.9 3.5L125.5 5.5L125.4 6.5L125.3 8.5L125.4 10.5L125.5 11.5L125.8 13.5L126.1 15.5L126.4 17.5L126.5 18.8L126.5 20.5L126.6 22.5L126.6 24.5L126.7 26.5L127.2 28.5L127.5 29.5L128.4 31.5L128.8 32.5L129.5 33.8L130.4 35.5L130.8 36.5L131.5 37.9L132.1 39.5L132.5 40.8L132.9 42.5L133.3 44.5L133.5 45.5L133.8 47.5L133.9 49.5L134.0 51.5L134.1 53.5L134.2 55.5L134.3 57.5L134.3 59.5L134.4 61.5L134.3 63.5L134.1 65.5L133.6 67.5L133.1 68.5L132.3 69.5L131.0 70.5L129.5 71.2L128.5 71.5L126.5 71.7L125.5 71.4L124.1 70.5L123.2 69.5L122.5 68.1L122.0 66.5L121.5 64.7L121.3 63.5L121.0 61.5L120.9 59.5L120.8 57.5L120.8 55.5L120.9 53.5L121.1 51.5L121.2 49.5L121.4 47.5L121.5 46.5L121.7 44.5L121.9 42.5L122.2 40.5L122.4 38.5L122.5 37.5L122.8 35.5L123.0 33.5L123.3 31.5L123.4 29.5L123.4 27.5L123.3 25.5L123.0 23.5L122.5 21.5L122.3 20.5L121.9 18.5L121.5 17.4L120.8 15.5L120.3 14.5L119.5 13.3L118.5 12.0L117.5 10.9L116.5 9.8L115.5 8.6L114.7 7.5L114.1 6.5L113.6 4.5L113.6 3.5M223.4 3.5L223.2 5.5L223.1 7.5L223.1 9.5L223.2 11.5L223.4 13.5L223.7 14.5L224.5 16.5L225.5 17.4L226.5 17.9L228.5 18.2L230.5 18.5L231.5 18.8L232.6 19.5L233.5 20.7L234.1 22.5L234.3 24.5L234.3 26.5L234.2 28.5L234.0 30.5L233.9 32.5L233.7 34.5L233.5 36.5L233.4 37.5L233.2 39.5L232.7 41.5L232.2 42.5L231.1 43.5L229.5 43.8L228.2 43.5L226.5 42.7L225.5 42.1L224.5 41.4L223.4 40.5L222.2 39.5L221.2 38.5L220.1 37.5L218.9 36.5L217.5 35.6L216.5 35.0L215.4 34.5L213.5 33.6L212.5 32.8L211.9 31.5L211.5 29.9L211.3 28.5L211.1 26.5L210.8 24.5L210.6 22.5L210.5 21.5L210.3 19.5L210.2 17.5L210.1 15.5L210.1 13.5L210.1 11.5L210.1 9.5L210.1 7.5L210.0 5.5L209.9 3.5M110.6 5.5L112.5 5.4L112.9 6.5L112.7 8.5L112.5 9.7L112.1 11.5L111.5 12.8L110.5 12.5L110.0 10.5L110.0 8.5L110.3 6.5L110.6 5.5M308.5 33.5L307.3 33.5L305.5 32.5L304.9 31.5L304.4 30.5L303.8 28.5L303.5 26.9L303.3 25.5L303.1 23.5L303.0 21.5L303.0 19.5L303.0 17.5L303.1 15.5L303.2 13.5L303.3 11.5L303.4 9.5L303.4 7.5L303.4 5.5L303.2 3.5M205.2 36.5L206.5 35.9L208.5 35.7L210.1 36.5L210.7 37.5L211.2 39.5L211.5 41.1L211.7 42.5L212.0 44.5L212.1 46.5L212.0 48.5L211.7 50.5L211.5 51.5L210.8 53.5L210.5 54.5L209.5 56.5L208.8 57.5L207.9 58.5L206.5 59.4L205.5 59.6L204.5 59.4L203.4 58.5L202.6 56.5L202.4 55.5L202.3 53.5L202.3 51.5L202.3 49.5L202.3 47.5L202.3 45.5L202.3 43.5L202.4 41.5L202.6 40.5L203.3 38.5L204.0 37.5L205.2 36.5M29.5 68.7L31.3 69.5L31.7 70.5L32.0 72.5L32.1 74.5L32.0 76.5L32.0 78.5L32.0 80.5L32.1 82.5L32.3 84.5L32.5 85.9L32.7 87.5L33.3 89.5L33.6 90.5L34.5 92.4L35.3 93.5L36.5 94.5L37.5 94.7L38.5 94.4L39.9 93.5L40.9 92.5L41.7 91.5L42.5 89.8L43.0 88.5L43.4 86.5L43.5 84.5L43.5 82.9L43.5 81.5L43.6 79.5L43.8 77.5L44.0 75.5L43.9 73.5L43.5 72.5L42.5 71.0L41.5 69.9L40.5 68.9L39.7 67.5L39.5 66.5L39.4 64.5L39.5 63.2L39.6 61.5L39.7 59.5L39.6 57.5L39.5 56.4L39.4 54.5L39.2 52.5L39.1 50.5L39.0 48.5L39.0 46.5L39.0 44.5L39.1 42.5L39.1 40.5L39.2 38.5L39.2 36.5L39.3 34.5L39.3 32.5L39.3 30.5L39.3 28.5L39.3 26.5L39.2 24.5L39.2 22.5L39.2 20.5L39.1 18.5L39.1 16.5L39.0 14.5L39.0 12.5L38.9 10.5L38.7 8.5L38.5 6.5L38.4 5.5L38.2 3.5M221.5 84.5L222.5 84.2L224.5 84.1L225.6 84.5L227.3 85.5L228.4 86.5L229.2 87.5L229.8 88.5L230.3 90.5L230.3 92.5L229.9 94.5L229.5 96.5L229.3 97.5L229.2 99.5L229.3 101.5L229.4 103.5L229.3 105.5L228.9 107.5L228.5 108.5L227.5 110.0L226.5 111.2L225.5 112.2L224.5 113.2L223.5 114.2L222.5 115.3L221.5 116.5L220.7 117.5L219.9 118.5L219.1 119.5L218.1 120.5L216.5 121.5L215.5 121.8L213.5 122.0L211.7 121.5L210.5 120.9L209.5 120.0L208.5 118.6L208.1 117.5L208.0 115.5L208.2 113.5L208.5 112.2L209.0 110.5L209.5 109.2L210.2 107.5L210.7 106.5L211.5 105.0L212.4 103.5L213.0 102.5L213.6 101.5L214.5 99.7L214.9 98.5L215.4 96.5L215.5 94.6L215.6 93.5L215.8 91.5L216.3 89.5L216.8 88.5L217.5 87.5L218.5 86.5L219.7 85.5L221.5 84.5M28.0 226.3L30.0 226.1L32.0 226.0L34.0 225.9L36.0 225.8L38.0 225.7L40.0 225.6L42.0 225.5L44.0 225.4L46.0 225.3L48.0 225.3L50.0 225.2L52.0 225.2L54.0 225.1L56.0 225.0L58.0 225.0L60.0 225.0L62.0 224.9L64.0 224.9L66.0 224.9L68.0 224.9L70.0 224.9L72.0 225.0L74.0 225.0L76.0 225.0L78.0 225.1L80.0 225.2L82.0 225.2L84.0 225.3L86.0 225.4L88.0 225.5L90.0 225.6L92.0 225.7L94.0 225.9L96.0 226.1L98.0 226.2L100.0 226.4L102.0 226.6L104.0 226.8L106.0 227.0L108.0 227.3L110.0 227.5L112.0 227.8L114.0 228.1L116.0 228.4L118.0 228.6L120.0 228.9L122.0 229.1L124.0 229.3L126.0 229.5L128.0 229.7L130.0 229.9L132.0 230.1L134.0 230.2L136.0 230.4L138.0 230.6L140.0 230.8L142.0 231.0L144.0 231.2L146.0 231.4L148.0 231.5L150.0 231.7L152.0 231.9L154.0 232.1L156.0 232.4L158.0 232.6L160.0 232.9L162.0 233.2L164.0 233.6L166.0 233.9L168.0 234.2L170.0 234.5L172.0 234.8L174.0 235.1L176.0 235.4L178.0 235.7L180.0 235.9L182.0 236.2L184.0 236.4L186.0 236.6L188.0 236.8L190.0 236.9L192.0 237.1L194.0 237.2L196.0 237.3L198.0 237.5L200.0 237.6L202.0 237.7L204.0 237.8L206.0 238.0L208.0 238.2L210.0 238.4L212.0 238.6L214.0 238.8L216.0 239.0L218.0 239.3L220.0 239.5L222.0 239.7L224.0 239.9L226.0 240.1L228.0 240.3L230.0 240.5L232.0 240.7L234.0 240.9L236.0 241.0L238.0 241.2L240.0 241.4L242.0 241.6L244.0 241.8L246.0 242.0L248.0 242.2L250.0 242.4L252.0 242.6L254.0 242.8L256.0 243.0L258.0 243.2L260.0 243.4L262.0 243.6L264.0 243.8L266.0 244.0L268.0 244.2L270.0 244.4L272.0 244.5L274.0 244.7L276.0 244.9L278.0 245.2L280.0 245.4L282.0 245.7L284.0 245.9L286.0 246.2L288.0 246.5L290.0 246.8L292.0 247.1L294.0 247.5L296.0 247.8L298.0 248.1L300.0 248.4L302.0 248.8L304.0 249.1L306.0 249.5L308.0 249.8L310.0 250.2" fill="none" stroke="#000" stroke-width="1.7" stroke-linejoin="round"/>
<path d="M29.0 1.0L30.0 1.0L31.0 1.0L32.0 25.3L33.0 43.2L34.0 57.0L35.0 68.3L36.0 77.9L37.0 86.2L38.0 93.5L39.0 100.0L40.0 105.9L41.0 111.3L42.0 116.3L43.0 120.9L44.0 125.2L45.0 129.2L46.0 132.9L47.0 136.5L48.0 139.8L49.0 143.0L50.0 146.1L51.0 148.9L52.0 151.7L53.0 154.3L54.0 156.9L55.0 159.3L56.0 161.6L57.0 163.9L58.0 166.1L59.0 168.2L60.0 170.2L61.0 172.2L62.0 174.1L63.0 175.9L64.0 177.7L65.0 179.5L66.0 181.2L67.0 182.8L68.0 184.5L69.0 186.0L70.0 187.6L71.0 189.1L72.0 190.5L73.0 191.9L74.0 193.3L75.0 194.7L76.0 196.0L77.0 197.3L78.0 198.6L79.0 199.9L80.0 201.1L81.0 202.3L82.0 203.5L83.0 204.6L84.0 205.8L85.0 206.9L86.0 208.0L87.0 209.1L88.0 210.1L89.0 211.2L90.0 212.2L91.0 213.2L92.0 214.2L93.0 215.2L94.0 216.1L95.0 217.1L96.0 218.0L97.0 218.9L98.0 219.9L99.0 220.7L100.0 221.6L101.0 222.5L102.0 223.3L103.0 224.2L104.0 225.0L105.0 225.8L106.0 226.7L107.0 227.5L108.0 228.2L109.0 229.0L110.0 229.8L111.0 230.6L112.0 231.3L113.0 232.1L114.0 232.8L115.0 233.5L116.0 234.2L117.0 234.9L118.0 235.6L119.0 236.3L120.0 237.0L121.0 237.7L122.0 238.4L123.0 239.0L124.0 239.7L125.0 240.3L126.0 241.0L127.0 241.6L128.0 242.2L129.0 242.9L130.0 243.5L131.0 244.1L132.0 244.7L133.0 245.3L134.0 245.9L135.0 246.5L136.0 247.1L137.0 247.6L138.0 248.2L139.0 248.8L140.0 249.3L141.0 249.9L142.0 250.5L143.0 251.0L144.0 251.5L145.0 252.1L146.0 252.6L147.0 253.1L148.0 253.7L149.0 254.2L150.0 254.7L151.0 255.2L152.0 255.7L153.0 256.2L154.0 256.7L155.0 257.2L156.0 257.7L157.0 258.2L158.0 258.7L159.0 259.1L160.0 259.6L161.0 260.1L162.0 260.6L163.0 261.0L164.0 261.5L165.0 261.9L166.0 262.4L167.0 262.9L168.0 263.0L169.0 263.0L170.0 263.0L171.0 262.9L172.0 262.4L173.0 261.9L174.0 261.5L175.0 261.0L176.0 260.6L177.0 260.1L178.0 259.6L179.0 259.1L180.0 258.7L181.0 258.2L182.0 257.7L183.0 257.2L184.0 256.7L185.0 256.2L186.0 255.7L187.0 255.2L188.0 254.7L189.0 254.2L190.0 253.7L191.0 253.1L192.0 252.6L193.0 252.1L194.0 251.5L195.0 251.0L196.0 250.5L197.0 249.9L198.0 249.3L199.0 248.8L200.0 248.2L201.0 247.6L202.0 247.1L203.0 246.5L204.0 245.9L205.0 245.3L206.0 244.7L207.0 244.1L208.0 243.5L209.0 242.9L210.0 242.2L211.0 241.6L212.0 241.0L213.0 240.3L214.0 239.7L215.0 239.0L216.0 238.4L217.0 237.7L218.0 237.0L219.0 236.3L220.0 235.6L221.0 234.9L222.0 234.2L223.0 233.5L224.0 232.8L225.0 232.1L226.0 231.3L227.0 230.6L228.0 229.8L229.0 229.0L230.0 228.2L231.0 227.5L232.0 226.7L233.0 225.8L234.0 225.0L235.0 224.2L236.0 223.3L237.0 222.5L238.0 221.6L239.0 220.7L240.0 219.9L241.0 218.9L242.0 218.0L243.0 217.1L244.0 216.1L245.0 215.2L246.0 214.2L247.0 213.2L248.0 212.2L249.0 211.2L250.0 210.1L251.0 209.1L252.0 208.0L253.0 206.9L254.0 205.8L255.0 204.6L256.0 203.5L257.0 202.3L258.0 201.1L259.0 199.9L260.0 198.6L261.0 197.3L262.0 196.0L263.0 194.7L264.0 193.3L265.0 191.9L266.0 190.5L267.0 189.1L268.0 187.6L269.0 186.0L270.0 184.5L271.0 182.8L272.0 181.2L273.0 179.5L274.0 177.7L275.0 175.9L276.0 174.1L277.0 172.2L278.0 170.2L279.0 168.2L280.0 166.1L281.0 163.9L282.0 161.6L283.0 159.3L284.0 156.9L285.0 154.3L286.0 151.7L287.0 148.9L288.0 146.1L289.0 143.0L290.0 139.8L291.0 136.5L292.0 132.9L293.0 129.2L294.0 125.2L295.0 120.9L296.0 116.3L297.0 111.3L298.0 105.9L299.0 100.0L300.0 93.5L301.0 86.2L302.0 77.9L303.0 68.3L304.0 57.0L305.0 43.2L306.0 25.3L307.0 1.0L308.0 1.0L309.0 1.0" fill="none" stroke="#000" stroke-width="1.3" stroke-dasharray="4.5 3.5"/>
</g>
<rect x="29.3" y="3.3" width="279.4" height="257.6" fill="none" stroke="#666" stroke-width="0.7"/>
<g clip-path="url(#cr)">
<path d="M425.4 4.2L430.4 4.9M466.6 8.6L467.1 3.6M474.6 1.2L476.9 5.7M484.0 8.1L486.3 3.7M501.4 2.6L505.6 5.3M512.4 8.2L514.6 3.7M522.5 8.5L523.8 3.6M562.8 8.2L560.7 3.7M581.2 8.4L579.7 3.7M589.0 0.8L589.6 5.8M606.8 8.3L608.7 3.7M637.9 8.3L636.1 3.7M656.3 0.9L655.1 5.8M673.4 0.9L674.5 5.8M706.4 4.4L701.4 4.8M433.2 13.1L428.2 13.6M454.3 11.3L458.5 14.1M469.0 16.8L466.4 12.5M479.9 15.2L475.4 13.0M486.3 17.3L485.7 12.4M511.2 10.8L514.9 14.2M522.6 17.3L523.8 12.4M532.7 9.6L533.0 14.6M557.3 13.8L562.3 13.4M583.8 12.6L578.9 13.7M593.2 14.6L588.4 13.1M606.5 17.0L608.8 12.5M634.8 10.0L637.0 14.4M652.0 15.3L656.3 12.9M670.4 12.9L675.3 13.6M685.4 17.0L683.1 12.5M694.4 17.1L692.7 12.4M703.6 17.2L702.2 12.4M427.4 25.6L429.8 21.3M461.5 22.1L456.5 22.3M465.8 18.5L467.3 23.3M475.4 18.5L476.7 23.3M511.8 19.1L514.7 23.1M520.5 24.8L524.3 21.5M529.1 21.5L534.0 22.5M549.1 19.3L552.5 23.1M559.1 25.5L561.8 21.3M577.8 25.4L580.7 21.3M586.0 24.1L590.4 21.7M615.4 25.4L618.4 21.4M625.9 18.5L627.5 23.3M639.6 24.6L635.7 21.6M649.9 22.2L644.9 22.2M653.0 25.3L656.1 21.4M678.1 22.3L673.1 22.2M687.4 23.1L682.6 22.0M689.4 21.0L694.1 22.6M699.4 19.8L703.3 22.9M433.2 31.3L428.2 30.9M437.8 27.2L439.0 32.1M445.5 28.2L448.9 31.8M454.7 33.7L458.4 30.3M466.1 34.8L467.2 29.9M480.1 29.9L475.3 31.3M512.2 34.5L514.6 30.0M524.9 34.6L523.1 30.0M552.4 27.2L551.6 32.1M562.3 34.7L560.9 30.0M570.8 27.1L570.5 32.1M609.8 34.6L607.8 30.0M614.5 33.2L618.6 30.4M623.3 30.2L628.2 31.2M638.1 27.4L636.1 32.0M643.5 34.0L646.7 30.2M656.3 34.8L655.1 29.9M676.6 34.1L673.6 30.1M681.1 34.0L684.4 30.2M689.3 29.9L694.1 31.3M698.7 30.0L703.5 31.3M425.9 41.8L430.2 39.2M438.4 35.9L438.8 40.9M444.8 37.7L449.1 40.4M453.7 39.6L458.7 39.8M463.5 41.4L468.0 39.3M473.1 37.6L477.3 40.4M520.3 42.0L524.4 39.2M551.7 43.7L551.8 38.7M574.4 39.0L569.5 40.0M607.5 36.0L608.5 40.9M613.8 39.2L618.8 39.9M631.0 40.3L626.0 39.6M632.7 39.2L637.6 39.9M643.3 37.0L646.7 40.6M658.4 42.3L654.5 39.1M668.6 40.6L663.7 39.5M674.7 35.9L674.1 40.9M687.0 37.8L682.7 40.3M696.9 39.3L692.0 39.9M699.1 41.8L703.4 39.2M429.1 44.7L429.4 49.6M436.4 51.7L439.4 47.7M451.7 50.1L447.1 48.1M453.7 49.2L458.6 48.4M466.7 52.4L467.1 47.5M473.9 45.6L477.1 49.4M510.8 50.7L515.0 47.9M519.6 48.8L524.6 48.5M571.7 52.3L570.3 47.5M595.8 50.9L599.7 47.9M612.2 48.9L607.2 48.5M629.3 51.8L626.5 47.6M639.0 51.5L635.8 47.7M643.9 51.9L646.5 47.6M654.6 52.4L655.6 47.5M668.7 48.7L663.7 48.5M672.1 51.8L674.8 47.6M685.4 52.0L683.2 47.6M692.0 52.3L693.4 47.5M703.2 52.4L702.3 47.5M425.4 57.5L430.4 57.3M434.9 56.6L439.8 57.5M444.2 57.5L449.2 57.3M464.3 60.2L467.7 56.5M510.8 59.4L515.0 56.7M520.0 59.0L524.5 56.8M529.0 57.1L534.0 57.4M546.2 57.2L541.2 57.4M566.9 58.5L571.7 57.0M596.7 60.6L599.5 56.4M604.5 56.4L609.4 57.6M613.8 57.4L618.8 57.3M639.6 59.7L635.7 56.7M651.6 58.1L656.5 57.1M671.1 55.0L675.1 58.0M681.7 60.7L684.2 56.4M696.9 56.4L692.0 57.6M699.6 59.9L703.3 56.6M425.4 65.6L430.4 66.2M434.8 66.5L439.8 66.0M484.1 69.6L486.3 65.1M496.4 62.4L494.9 67.1M511.0 68.5L515.0 65.4M519.6 65.9L524.6 66.1M529.4 67.8L533.9 65.6M542.1 62.2L542.4 67.2M550.4 62.5L552.2 67.1M604.7 64.4L609.3 66.6M613.8 66.4L618.8 66.0M661.4 68.1L665.7 65.5M671.7 63.1L674.9 66.9M685.0 69.7L683.3 65.1M693.5 70.0L692.9 65.0M702.9 70.0L702.4 65.0M425.4 74.7L430.4 74.9M434.9 75.4L439.8 74.7M493.5 78.4L495.7 73.9M510.2 75.4L515.2 74.7M520.3 77.1L524.4 74.2M529.8 77.2L533.8 74.2M542.7 71.0L542.2 76.0M549.4 71.8L552.4 75.7M559.9 71.2L561.5 75.9M568.2 78.0L571.3 74.0M612.1 74.2L607.2 75.0M617.1 71.0L617.9 75.9M642.7 77.0L646.9 74.3M684.9 78.6L683.3 73.8M692.9 78.8L693.1 73.8M702.4 78.8L702.5 73.8M425.9 85.5L430.3 83.1M435.1 85.0L439.7 83.2M465.9 87.4L467.3 82.6M472.6 84.3L477.5 83.4M495.0 87.5L495.3 82.5M519.9 85.0L524.5 83.2M529.1 84.4L534.0 83.4M542.7 79.7L542.2 84.7M552.4 79.8L551.6 84.7M560.1 79.9L561.5 84.7M567.7 81.0L571.4 84.4M618.6 87.4L617.5 82.6M623.4 82.4L628.2 84.0M634.8 87.1L637.0 82.6M648.5 86.6L645.2 82.8M683.9 87.5L683.6 82.5M693.9 87.4L692.8 82.6M701.9 87.5L702.7 82.5M425.4 92.1L430.4 92.5M434.9 91.9L439.8 92.5M465.7 96.1L467.3 91.4M473.1 90.3L477.3 93.0M496.5 96.1L494.9 91.4M519.7 93.1L524.6 92.2M529.2 93.7L534.0 92.0M542.8 88.5L542.2 93.5M550.7 88.6L552.0 93.5M561.6 88.5L561.1 93.5M604.9 94.4L609.2 91.8M614.2 94.0L618.7 91.9M623.7 94.4L628.1 91.8M632.9 93.8L637.6 92.0M649.7 93.4L644.9 92.1M673.5 96.2L674.4 91.3M683.7 96.3L683.6 91.3M693.5 96.3L692.9 91.3M704.0 96.0L702.0 91.4M476.1 105.1L476.5 100.1M484.5 104.9L486.2 100.1M491.6 102.6L496.3 100.8M520.0 102.9L524.5 100.7M529.0 101.4L534.0 101.1M541.1 97.5L542.7 102.2M550.4 97.5L552.1 102.2M562.7 97.6L560.8 102.2M567.1 103.0L571.6 100.7M595.5 103.1L599.8 100.6M604.5 102.2L609.3 100.9M614.1 102.8L618.7 100.7M623.6 102.9L628.1 100.7M633.6 103.7L637.4 100.5M643.0 98.6L646.8 101.9M686.0 104.3L683.0 100.3M693.1 105.1L693.1 100.1M703.7 104.9L702.1 100.1M483.3 112.9L486.5 109.1M496.4 106.2L494.9 111.0M500.8 109.2L505.7 110.2M529.5 111.8L533.9 109.4M540.4 106.5L542.9 110.9M550.6 106.2L552.1 111.0M560.1 106.2L561.5 111.0M586.0 111.7L590.4 109.4M596.4 112.9L599.6 109.1M605.7 112.9L609.0 109.1M614.3 111.9L618.7 109.4M623.9 112.2L628.0 109.3M633.0 111.6L637.5 109.5M685.1 113.5L683.2 108.9M693.7 113.8L692.9 108.9M702.7 113.8L702.4 108.8M433.2 118.3L428.2 118.8M483.5 121.9L486.5 117.8M493.5 115.2L495.7 119.7M529.7 120.9L533.8 118.1M542.8 122.6L542.2 117.6M548.5 120.9L552.7 118.1M561.0 114.8L561.2 119.8M586.4 121.2L590.3 118.0M595.3 120.4L599.9 118.2M605.2 121.1L609.2 118.0M614.1 120.3L618.7 118.3M624.5 121.6L627.9 117.9M633.1 120.6L637.5 118.2M693.5 122.6L692.9 117.6M703.4 122.5L702.2 117.6M427.3 124.1L429.9 128.4M437.6 123.8L439.0 128.5M446.2 124.1L448.7 128.4M533.0 123.6L532.9 128.6M538.4 127.7L543.4 127.4M549.9 130.9L552.3 126.5M559.0 130.7L561.8 126.6M576.8 129.7L580.9 126.8M587.2 130.6L590.1 126.6M595.6 129.6L599.8 126.9M604.7 129.1L609.3 127.0M614.0 128.7L618.7 127.1M624.4 130.3L627.9 126.7M633.3 129.7L637.4 126.9M694.2 131.2L692.7 126.4M703.2 131.3L702.3 126.4M426.3 133.8L430.2 136.9M435.8 133.6L439.5 137.0M446.1 132.9L448.7 137.2M461.3 135.2L456.5 136.6M510.2 135.6L515.2 136.4M519.7 137.0L524.6 136.0M529.1 136.9L534.0 136.1M538.5 136.8L543.4 136.1M547.9 136.1L552.9 136.3M563.4 139.5L560.6 135.3M567.0 137.8L571.6 135.8M576.8 138.5L580.9 135.6M586.0 138.1L590.4 135.7M595.7 138.5L599.8 135.6M604.9 138.2L609.2 135.7M614.6 138.6L618.6 135.6M624.4 139.1L627.9 135.4M632.9 137.7L637.6 135.8M694.1 140.0L692.8 135.2M701.2 139.9L702.8 135.2M428.4 141.2L429.6 146.1M436.6 141.8L439.3 145.9M445.9 141.8L448.8 145.9M454.4 147.3L458.5 144.4M501.9 142.2L505.4 145.8M510.2 145.1L515.2 145.0M519.7 145.7L524.6 144.8M529.0 145.0L534.0 145.0M538.5 145.3L543.4 144.9M547.9 144.5L552.8 145.2M561.6 141.1L561.1 146.1M567.7 147.6L571.4 144.3M576.5 146.7L581.0 144.6M586.0 146.8L590.4 144.5M595.9 147.6L599.7 144.3M605.9 148.1L608.9 144.1M614.7 147.5L618.6 144.3M624.0 147.4L628.0 144.3M633.2 147.1L637.5 144.4M428.4 157.6L429.6 152.7M434.8 153.5L439.8 153.9M445.0 151.4L449.0 154.5M453.7 154.1L458.7 153.7M508.4 154.7L503.6 153.5M510.2 153.5L515.2 153.9M519.6 153.3L524.6 153.9M529.1 153.1L534.0 154.0M538.5 154.5L543.4 153.6M547.9 154.2L552.9 153.7M576.4 155.3L581.0 153.4M587.1 156.9L590.1 152.9M595.8 156.2L599.7 153.1M604.8 155.5L609.3 153.3M614.7 156.2L618.6 153.1M623.9 156.0L628.0 153.2M633.1 155.6L637.5 153.3M643.2 156.6L646.7 153.0M508.5 162.3L503.6 162.6M510.4 161.2L515.1 162.9M519.6 162.9L524.6 162.5M529.0 162.9L534.0 162.5M538.4 162.3L543.4 162.6M547.9 162.6L552.9 162.5M586.1 164.7L590.4 162.0M600.5 166.1L598.4 161.6M606.7 159.0L608.7 163.6M613.8 162.8L618.8 162.5M631.0 163.3L626.0 162.4M633.5 165.0L637.4 161.9M642.2 161.7L647.0 162.8M501.5 169.1L505.6 172.0M510.8 169.3L515.0 171.9M520.7 168.6L524.3 172.1M529.0 171.0L534.0 171.4M539.4 168.8L543.2 172.0M548.5 169.2L552.7 171.9M557.4 170.4L562.2 171.6M566.9 170.3L571.7 171.6M576.1 171.4L581.1 171.3M585.7 170.2L590.5 171.6M595.0 171.4L600.0 171.3M604.4 171.3L609.4 171.3M614.1 169.8L618.7 171.8M623.2 171.2L628.2 171.4M632.8 170.1L637.6 171.7M642.2 172.4L647.0 171.0M651.6 170.3L656.4 171.6M661.2 169.9L665.8 171.7M670.9 169.3L675.2 171.9M680.1 169.7L684.6 171.8M689.3 170.1L694.1 171.7M698.9 169.9L703.5 171.7M502.0 177.2L505.4 180.9M511.2 177.5L514.9 180.8M520.4 177.7L524.4 180.8M529.3 178.7L534.0 180.5M539.9 177.0L543.0 181.0M548.8 177.6L552.6 180.8M557.6 178.7L562.2 180.5M567.1 178.3L571.6 180.6M576.5 178.5L581.0 180.6M585.8 178.7L590.5 180.5M595.0 179.8L600.0 180.2M604.5 179.2L609.3 180.4M614.0 178.9L618.7 180.4M623.2 179.7L628.2 180.2M632.7 179.5L637.6 180.3M642.2 179.1L647.0 180.4M651.5 179.5L656.5 180.3M661.1 178.7L665.8 180.5M670.3 179.7L675.3 180.2M679.8 179.6L684.7 180.2M689.3 179.0L694.1 180.4M698.9 178.5L703.5 180.6M425.6 187.5L430.3 189.2M435.5 186.7L439.6 189.5M444.3 188.6L449.2 189.0M454.6 186.3L458.4 189.6M463.5 187.1L468.0 189.4M473.4 186.4L477.3 189.6M482.5 186.8L486.7 189.5M491.8 187.1L496.2 189.4M501.8 186.2L505.5 189.6M510.9 186.6L515.0 189.5M520.2 186.7L524.4 189.5M529.7 186.7L533.8 189.5M538.9 187.0L543.3 189.4M548.2 187.2L552.8 189.3M557.3 188.6L562.3 188.9M566.8 188.2L571.7 189.0M576.3 187.8L581.1 189.2M585.9 187.3L590.5 189.3M595.2 187.6L599.9 189.2M604.6 187.7L609.3 189.2M613.8 188.5L618.8 189.0M623.4 187.8L628.2 189.2M633.0 187.3L637.5 189.3M642.1 188.5L647.1 189.0M651.7 187.5L656.4 189.2M661.1 187.6L665.8 189.2M670.4 187.9L675.3 189.1M679.8 188.4L684.7 189.0M689.9 186.6L693.9 189.5M698.9 187.3L703.5 189.3M426.0 195.5L430.2 198.2M435.7 195.2L439.6 198.3M445.3 194.9L448.9 198.4M454.6 195.1L458.4 198.4M463.3 196.2L468.0 198.0M473.4 195.2L477.2 198.3M482.4 195.8L486.8 198.2M491.8 195.9L496.2 198.1M501.7 195.2L505.5 198.3M510.7 195.7L515.0 198.2M520.5 195.2L524.3 198.3M530.0 195.1L533.7 198.4M539.6 194.8L543.1 198.4M548.3 195.9L552.7 198.1M557.4 196.6L562.2 197.9M566.9 196.5L571.6 198.0M576.4 196.1L581.0 198.1M585.6 198.1L590.5 197.5M595.0 197.3L600.0 197.7M604.5 196.7L609.4 197.9M614.0 196.4L618.7 198.0M623.7 195.9L628.1 198.1M632.7 197.0L637.6 197.8M642.1 197.0L647.0 197.8M651.9 195.9L656.4 198.1M660.9 197.6L665.9 197.6M670.3 197.4L675.3 197.7M680.0 196.2L684.7 198.0M689.3 196.5L694.1 198.0M698.7 196.5L703.5 197.9M529.7 204.3L533.8 207.0M539.2 204.1L543.2 207.1M549.3 203.4L552.4 207.3M557.3 206.6L562.3 206.4M566.7 205.8L571.7 206.6M576.1 206.5L581.1 206.4M585.5 206.4L590.5 206.4M595.1 205.5L599.9 206.7M604.4 205.8L609.4 206.6M613.8 206.1L618.8 206.5M623.2 206.1L628.2 206.5M632.7 205.5L637.6 206.7M642.3 205.2L647.0 206.8M651.6 205.6L656.5 206.6M661.1 205.1L665.8 206.8M670.5 205.2L675.3 206.7M680.3 204.3L684.6 207.0M689.2 205.7L694.1 206.6M698.9 204.9L703.5 206.8M426.3 212.6L430.1 215.9M435.5 212.9L439.6 215.8M444.8 213.1L449.1 215.8M453.8 214.1L458.6 215.5M463.7 213.1L467.9 215.8M473.8 212.2L477.1 216.0M482.6 213.0L486.7 215.8M492.3 212.6L496.1 215.9M501.3 213.2L505.6 215.7M511.2 212.6L514.9 215.9M520.6 212.6L524.3 215.9M529.9 212.7L533.8 215.9M539.4 212.6L543.2 215.9M549.4 212.1L552.4 216.1M557.5 213.9L562.2 215.5M566.8 214.4L571.7 215.4M576.1 215.2L581.1 215.2M585.7 214.2L590.5 215.5M595.1 214.1L599.9 215.5M604.4 214.8L609.4 215.3M613.8 214.7L618.8 215.3M623.2 215.5L628.2 215.1M632.7 214.8L637.6 215.3M642.1 214.4L647.0 215.4M651.5 215.3L656.5 215.2M660.9 215.4L665.9 215.1M670.5 214.1L675.3 215.5M679.8 214.5L684.7 215.4M689.6 213.3L694.0 215.7M698.7 214.1L703.5 215.5M425.4 223.8L430.4 224.0M434.8 223.9L439.8 224.0M444.2 223.9L449.2 224.0M453.7 223.9L458.7 224.0M463.1 223.9L468.1 224.0M472.5 224.0L477.5 223.9M481.9 224.0L486.9 223.9M491.3 223.9L496.3 224.0M500.8 223.8L505.8 224.0M510.2 224.1L515.2 223.9M519.6 224.1L524.6 223.9M529.0 223.9L534.0 224.0M538.4 224.0L543.4 223.9M547.9 223.7L552.9 224.0M557.3 223.7L562.3 224.0M566.7 223.9L571.7 224.0M576.1 224.2L581.1 223.9M585.5 223.8L590.5 224.0M595.0 223.8L600.0 224.0M604.4 224.2L609.4 223.9M613.8 223.7L618.8 224.0M623.2 224.0L628.2 223.9M632.6 224.0L637.6 223.9M642.1 223.9L647.1 224.0M651.5 224.0L656.5 223.9M660.9 224.3L665.9 223.8M670.3 223.8L675.3 224.0M679.7 223.9L684.7 224.0M689.2 223.9L694.2 224.0M698.6 223.9L703.6 224.0M425.4 232.5L430.4 232.8M434.8 232.9L439.8 232.7M444.2 232.7L449.2 232.7M453.7 232.5L458.7 232.8M463.1 232.6L468.1 232.7M472.5 232.8L477.5 232.7M481.9 232.8L486.9 232.7M491.3 232.5L496.3 232.8M500.8 232.7L505.8 232.7M510.2 232.8L515.2 232.7M519.6 232.8L524.6 232.7M529.0 232.8L534.0 232.7M538.4 232.5L543.4 232.8M547.9 233.0L552.9 232.6M557.3 232.7L562.3 232.7M566.7 233.0L571.7 232.7M576.1 233.1L581.1 232.6M585.5 232.7L590.5 232.7M595.0 232.6L600.0 232.8M604.4 232.8L609.4 232.7M613.8 232.7L618.8 232.7M623.2 232.7L628.2 232.7M632.6 232.6L637.6 232.8M642.1 232.9L647.1 232.7M651.5 232.7L656.5 232.7M660.9 232.5L665.9 232.8M670.3 232.7L675.3 232.7M679.7 232.6L684.7 232.8M689.2 232.7L694.2 232.7M698.6 232.7L703.6 232.7M425.4 241.3L430.4 241.5M434.8 241.6L439.8 241.5M444.2 241.4L449.2 241.5M453.7 241.6L458.7 241.5M463.1 241.7L468.1 241.4M472.5 241.4L477.5 241.5M481.9 241.4L486.9 241.5M491.3 241.5L496.3 241.5M500.8 241.6L505.8 241.5M510.2 241.5L515.2 241.5M519.6 241.5L524.6 241.5M529.0 241.5L534.0 241.5M538.4 241.5L543.4 241.5M547.9 241.6L552.9 241.5M557.3 241.4L562.3 241.5M566.7 241.4L571.7 241.5M576.1 241.5L581.1 241.5M585.5 241.4L590.5 241.5M595.0 241.5L600.0 241.5M604.4 241.6L609.4 241.5M613.8 241.5L618.8 241.5M623.2 241.4L628.2 241.5M632.6 241.4L637.6 241.5M642.1 241.7L647.1 241.4M651.5 241.6L656.5 241.5M660.9 241.3L665.9 241.5M670.3 241.4L675.3 241.5M679.7 241.7L684.7 241.4M689.2 241.7L694.2 241.4M698.6 241.5L703.6 241.5M425.4 250.4L430.4 250.2M434.8 250.1L439.8 250.3M444.2 250.3L449.2 250.3M453.7 250.4L458.7 250.2M463.1 250.0L468.1 250.3M472.5 250.2L477.5 250.3M481.9 250.4L486.9 250.2M491.3 250.4L496.3 250.2M500.8 250.2L505.8 250.3M510.2 250.3L515.2 250.2M519.6 250.5L524.6 250.2M529.0 250.2L534.0 250.3M538.4 250.1L543.4 250.3M547.9 250.3L552.9 250.3M557.3 250.2L562.3 250.3M566.7 250.4L571.7 250.2M576.1 250.3L581.1 250.3M585.5 250.2L590.5 250.3M595.0 250.6L600.0 250.2M604.4 250.2L609.4 250.3M613.8 250.3L618.8 250.2M623.2 250.4L628.2 250.2M632.6 250.4L637.6 250.2M642.1 250.3L647.1 250.3M651.5 250.3L656.5 250.2M660.9 250.3L665.9 250.3M670.3 250.1L675.3 250.3M679.7 250.2L684.7 250.3M689.2 250.2L694.2 250.3M698.6 250.2L703.6 250.3M425.4 259.0L430.4 259.0M434.8 258.9L439.8 259.1M444.2 259.2L449.2 259.0M453.7 259.2L458.7 259.0M463.1 258.7L468.1 259.1M472.5 259.0L477.5 259.0M481.9 258.9L486.9 259.1M491.4 258.7L496.3 259.1M500.8 259.1L505.8 259.0M510.2 258.9L515.2 259.1M519.6 259.0L524.6 259.0M529.0 258.9L534.0 259.1M538.4 259.2L543.4 259.0M547.9 259.2L552.9 259.0M557.3 259.1L562.3 259.0M566.7 259.1L571.7 259.0M576.1 259.0L581.1 259.0M585.5 259.0L590.5 259.0M595.0 258.9L600.0 259.1M604.4 259.0L609.4 259.0M613.8 258.9L618.8 259.1M623.2 259.1L628.2 259.0M632.6 259.1L637.6 259.0M642.1 259.1L647.1 259.0M651.5 259.2L656.5 259.0M660.9 259.4L665.9 258.9M670.3 258.7L675.3 259.1M679.7 259.0L684.7 259.0M689.2 259.0L694.2 259.1M698.6 259.0L703.6 259.0" fill="none" stroke="#111" stroke-width="0.75"/>
<path d="M433.2 5.2L430.2 6.0L430.5 3.7ZM467.4 0.8L468.2 3.7L466.0 3.5ZM478.2 8.2L475.9 6.2L477.9 5.2ZM487.6 1.3L487.4 4.3L485.3 3.2ZM507.9 6.8L504.9 6.3L506.2 4.3ZM515.8 1.2L515.6 4.2L513.5 3.2ZM524.5 0.9L524.9 3.9L522.7 3.3ZM559.5 1.2L561.7 3.2L559.7 4.2ZM578.8 1.0L580.8 3.3L578.6 4.0ZM589.9 8.6L588.4 5.9L590.7 5.7ZM609.7 1.1L609.8 4.1L607.6 3.3ZM635.1 1.1L637.2 3.3L635.1 4.1ZM654.5 8.5L654.0 5.5L656.2 6.0ZM675.1 8.5L673.3 6.0L675.6 5.5ZM698.6 5.0L701.3 3.6L701.5 5.9ZM425.4 13.9L428.1 12.4L428.3 14.7ZM460.8 15.6L457.8 15.0L459.1 13.1ZM465.0 10.1L467.4 11.9L465.4 13.1ZM472.9 11.8L475.9 12.0L474.9 14.0ZM485.3 9.6L486.8 12.2L484.5 12.5ZM516.9 16.1L514.1 15.1L515.7 13.4ZM524.4 9.7L524.9 12.7L522.6 12.1ZM533.1 17.4L531.8 14.6L534.1 14.5ZM565.1 13.2L562.4 14.5L562.2 12.2ZM576.2 14.3L578.7 12.6L579.2 14.8ZM585.7 12.3L588.7 12.0L588.1 14.2ZM610.0 10.0L609.8 13.0L607.7 12.0ZM638.3 16.9L636.0 15.0L638.1 13.9ZM658.8 11.6L656.9 13.9L655.8 11.9ZM678.1 14.0L675.1 14.8L675.5 12.5ZM681.9 10.0L684.2 12.0L682.1 13.0ZM691.7 9.8L693.8 12.0L691.6 12.8ZM701.3 9.7L703.3 12.1L701.1 12.8ZM431.2 18.8L430.8 21.8L428.8 20.7ZM453.7 22.4L456.4 21.1L456.5 23.4ZM468.2 25.9L466.2 23.6L468.4 22.9ZM477.4 26.0L475.6 23.6L477.8 23.0ZM516.4 25.4L513.8 23.8L515.7 22.5ZM526.5 19.7L525.1 22.4L523.6 20.7ZM536.7 23.0L533.8 23.6L534.2 21.3ZM554.4 25.1L551.6 23.8L553.4 22.3ZM563.3 19.0L562.7 21.9L560.8 20.7ZM582.3 19.1L581.6 22.0L579.7 20.7ZM592.9 20.3L591.0 22.7L589.8 20.7ZM620.0 19.1L619.3 22.0L617.4 20.7ZM628.3 25.9L626.4 23.6L628.6 22.9ZM633.4 19.9L636.4 20.7L635.0 22.5ZM642.1 22.2L644.9 21.1L644.9 23.4ZM657.8 19.2L657.0 22.1L655.1 20.7ZM670.3 22.2L673.1 21.1L673.1 23.4ZM679.8 21.3L682.8 20.9L682.3 23.1ZM696.8 23.5L693.7 23.7L694.5 21.5ZM705.5 24.7L702.6 23.8L704.1 22.0ZM425.4 30.7L428.3 29.8L428.1 32.1ZM439.6 34.8L437.9 32.3L440.1 31.8ZM450.8 33.8L448.1 32.6L449.7 31.0ZM460.4 28.4L459.1 31.1L457.6 29.4ZM467.9 27.2L468.4 30.2L466.1 29.7ZM472.7 32.2L475.0 30.2L475.7 32.4ZM515.9 27.6L515.6 30.6L513.6 29.5ZM522.1 27.4L524.2 29.6L522.0 30.4ZM551.1 34.9L550.4 31.9L552.7 32.3ZM560.0 27.3L561.9 29.6L559.8 30.3ZM570.4 34.9L569.4 32.0L571.7 32.2ZM606.7 27.4L608.9 29.5L606.8 30.5ZM620.9 28.8L619.3 31.3L618.0 29.4ZM630.9 31.8L627.9 32.4L628.4 30.1ZM635.0 34.6L635.0 31.6L637.2 32.5ZM648.4 28.0L647.5 30.9L645.8 29.4ZM654.5 27.2L656.2 29.7L654.0 30.2ZM671.9 27.9L674.5 29.4L672.6 30.8ZM686.2 28.0L685.2 30.9L683.5 29.4ZM696.8 32.1L693.8 32.4L694.4 30.2ZM706.2 32.1L703.2 32.4L703.9 30.2ZM432.7 37.8L430.8 40.2L429.7 38.2ZM439.1 43.7L437.7 41.0L440.0 40.8ZM451.5 41.8L448.5 41.3L449.7 39.4ZM461.5 39.9L458.6 41.0L458.7 38.7ZM470.5 38.1L468.5 40.4L467.5 38.3ZM479.7 41.9L476.7 41.3L478.0 39.4ZM526.7 37.6L525.1 40.1L523.8 38.2ZM551.8 35.9L552.9 38.7L550.6 38.7ZM566.8 40.5L569.3 38.9L569.7 41.1ZM609.1 43.6L607.4 41.1L609.6 40.6ZM621.6 40.3L618.6 41.1L619.0 38.8ZM623.3 39.2L626.2 38.5L625.9 40.8ZM640.4 40.4L637.4 41.1L637.8 38.8ZM648.7 42.6L645.9 41.4L647.6 39.8ZM652.4 37.3L655.3 38.2L653.8 39.9ZM661.0 39.0L664.0 38.4L663.5 40.7ZM673.8 43.7L673.0 40.7L675.2 41.0ZM680.3 41.8L682.1 39.4L683.3 41.3ZM689.2 40.3L691.8 38.8L692.1 41.1ZM705.8 37.8L704.0 40.2L702.8 38.2ZM429.5 52.4L428.2 49.7L430.5 49.6ZM441.0 45.4L440.3 48.3L438.4 47.0ZM444.6 47.0L447.6 47.1L446.7 49.2ZM461.4 47.9L458.8 49.5L458.4 47.2ZM467.3 44.7L468.2 47.5L465.9 47.4ZM478.9 51.5L476.2 50.1L478.0 48.6ZM517.3 46.4L515.6 48.9L514.4 47.0ZM527.4 48.3L524.7 49.6L524.5 47.3ZM569.5 44.8L571.4 47.2L569.2 47.8ZM601.9 46.2L600.4 48.8L599.0 47.0ZM604.4 48.2L607.3 47.3L607.1 49.6ZM624.9 45.3L627.5 47.0L625.6 48.3ZM634.0 45.6L636.7 47.0L635.0 48.4ZM648.0 45.2L647.5 48.2L645.5 47.0ZM656.2 44.7L656.7 47.7L654.5 47.2ZM660.9 48.4L663.8 47.3L663.6 49.6ZM676.4 45.3L675.8 48.3L673.9 47.0ZM681.9 45.1L684.2 47.1L682.1 48.1ZM694.1 44.8L694.5 47.8L692.3 47.2ZM701.8 44.7L703.4 47.3L701.2 47.7ZM433.2 57.2L430.4 58.4L430.4 56.1ZM442.6 58.0L439.6 58.6L440.0 56.4ZM452.0 57.1L449.3 58.4L449.2 56.1ZM469.7 54.5L468.6 57.3L466.9 55.7ZM517.4 55.2L515.6 57.7L514.4 55.8ZM527.0 55.6L525.0 57.9L524.0 55.8ZM536.8 57.6L533.9 58.5L534.1 56.2ZM538.4 57.4L541.2 56.2L541.3 58.5ZM574.3 56.2L572.0 58.1L571.3 55.9ZM601.0 54.0L600.4 57.0L598.5 55.8ZM612.1 58.2L609.1 58.7L609.6 56.5ZM621.6 57.2L618.8 58.4L618.8 56.1ZM633.4 55.0L636.4 55.7L635.0 57.6ZM659.2 56.6L656.7 58.2L656.2 56.0ZM677.4 59.6L674.4 58.9L675.8 57.0ZM685.6 54.0L685.2 57.0L683.2 55.8ZM689.3 58.2L691.7 56.4L692.2 58.7ZM705.4 54.7L704.1 57.4L702.5 55.7ZM433.2 66.6L430.2 67.4L430.5 65.1ZM442.6 65.7L439.9 67.1L439.7 64.8ZM487.6 62.6L487.3 65.6L485.3 64.6ZM494.1 69.8L493.8 66.8L496.0 67.5ZM517.2 63.7L515.7 66.3L514.3 64.5ZM527.4 66.3L524.5 67.3L524.6 65.0ZM536.4 64.4L534.4 66.6L533.4 64.6ZM542.5 70.0L541.2 67.2L543.5 67.1ZM553.2 69.7L551.1 67.5L553.2 66.7ZM611.8 67.7L608.8 67.6L609.8 65.5ZM621.6 65.8L618.9 67.2L618.7 64.9ZM668.2 64.1L666.3 66.5L665.2 64.5ZM676.7 69.1L674.1 67.7L675.8 66.2ZM682.3 62.4L684.3 64.7L682.2 65.5ZM692.6 62.2L694.1 64.9L691.8 65.1ZM702.1 62.2L703.5 64.9L701.2 65.1ZM433.2 75.0L430.4 76.1L430.4 73.8ZM442.6 74.4L440.0 75.9L439.7 73.6ZM496.9 71.3L496.8 74.4L494.7 73.4ZM517.9 74.3L515.3 75.8L515.0 73.6ZM526.7 72.7L525.1 75.2L523.8 73.3ZM536.1 72.5L534.5 75.1L533.1 73.3ZM542.0 78.7L541.1 75.8L543.4 76.1ZM554.1 77.9L551.5 76.4L553.3 75.0ZM562.4 78.6L560.4 76.3L562.6 75.5ZM573.0 71.8L572.2 74.7L570.4 73.3ZM604.4 75.5L607.0 73.9L607.4 76.2ZM618.3 78.7L616.7 76.1L619.0 75.8ZM649.2 72.7L647.5 75.2L646.3 73.3ZM682.4 71.2L684.4 73.5L682.2 74.2ZM693.2 71.0L694.2 73.8L692.0 73.7ZM702.5 71.0L703.6 73.8L701.3 73.7ZM432.7 81.8L430.8 84.1L429.7 82.1ZM442.4 82.2L440.2 84.3L439.3 82.2ZM468.0 79.9L468.4 82.9L466.2 82.3ZM480.2 83.0L477.7 84.6L477.3 82.3ZM495.5 79.7L496.5 82.6L494.2 82.4ZM527.1 82.2L524.9 84.3L524.1 82.2ZM536.7 82.9L534.2 84.6L533.8 82.3ZM542.0 87.5L541.1 84.6L543.4 84.8ZM551.2 87.5L550.5 84.5L552.7 84.9ZM562.3 87.4L560.4 85.0L562.6 84.4ZM573.5 86.3L570.6 85.2L572.2 83.5ZM616.8 79.8L618.6 82.3L616.3 82.8ZM630.8 84.9L627.8 85.1L628.5 82.9ZM638.3 80.1L638.1 83.2L636.0 82.1ZM643.4 80.7L646.1 82.0L644.4 83.6ZM683.4 79.7L684.7 82.5L682.4 82.6ZM692.2 79.8L693.9 82.3L691.7 82.8ZM703.1 79.8L703.8 82.7L701.5 82.4ZM433.2 92.7L430.3 93.6L430.5 91.3ZM442.6 92.9L439.7 93.7L440.0 91.4ZM468.2 88.7L468.4 91.7L466.2 91.0ZM479.7 94.5L476.7 94.0L477.9 92.0ZM494.0 88.7L496.0 91.0L493.8 91.7ZM527.3 91.7L524.8 93.3L524.4 91.1ZM536.6 91.1L534.3 93.1L533.6 91.0ZM541.8 96.3L541.1 93.3L543.3 93.6ZM552.8 96.2L550.9 93.8L553.2 93.2ZM560.8 96.3L559.9 93.4L562.2 93.6ZM611.6 90.4L609.8 92.8L608.6 90.8ZM621.2 90.8L619.2 93.0L618.2 90.9ZM630.5 90.4L628.6 92.8L627.5 90.9ZM640.2 91.0L638.0 93.1L637.1 90.9ZM642.2 91.4L645.2 91.0L644.6 93.2ZM674.9 88.6L675.5 91.5L673.3 91.1ZM683.5 88.5L684.8 91.3L682.5 91.3ZM692.7 88.5L694.1 91.2L691.8 91.4ZM700.9 88.8L703.1 90.9L701.0 91.8ZM476.7 97.3L477.6 100.1L475.3 100.0ZM487.1 97.5L487.3 100.5L485.1 99.8ZM498.9 99.7L496.7 101.8L495.8 99.7ZM527.0 99.4L525.0 101.7L524.0 99.6ZM536.8 100.9L534.1 102.2L533.9 100.0ZM543.6 104.9L541.6 102.6L543.8 101.8ZM553.1 104.8L551.1 102.6L553.2 101.8ZM559.7 104.8L559.7 101.8L561.8 102.6ZM574.1 99.4L572.1 101.7L571.0 99.6ZM602.2 99.2L600.4 101.6L599.2 99.6ZM612.0 100.1L609.7 102.0L609.0 99.8ZM621.3 99.6L619.2 101.8L618.2 99.7ZM630.6 99.5L628.6 101.7L627.6 99.7ZM639.5 98.7L638.1 101.3L636.6 99.6ZM648.9 103.7L646.0 102.8L647.5 101.0ZM681.3 98.0L683.9 99.6L682.1 101.0ZM693.0 97.3L694.2 100.1L691.9 100.1ZM701.2 97.5L703.2 99.8L701.0 100.5ZM488.4 107.0L487.4 109.9L485.7 108.4ZM494.1 113.7L493.8 110.6L496.0 111.3ZM508.5 110.7L505.5 111.3L506.0 109.0ZM536.3 108.0L534.4 110.4L533.3 108.4ZM544.2 113.4L541.9 111.5L543.9 110.3ZM552.9 113.7L551.0 111.3L553.2 110.6ZM562.3 113.7L560.4 111.3L562.6 110.7ZM592.9 108.2L590.9 110.5L589.9 108.4ZM601.3 106.9L600.4 109.8L598.7 108.4ZM610.9 107.0L609.9 109.9L608.1 108.4ZM621.1 108.0L619.2 110.4L618.1 108.4ZM630.3 107.7L628.7 110.3L627.4 108.4ZM640.1 108.3L638.0 110.5L637.0 108.4ZM682.1 106.3L684.3 108.5L682.2 109.4ZM692.4 106.1L694.0 108.7L691.7 109.1ZM702.2 106.0L703.6 108.8L701.3 108.9ZM425.4 119.1L428.1 117.7L428.3 120.0ZM488.1 115.6L487.4 118.5L485.5 117.1ZM497.0 122.2L494.7 120.2L496.8 119.2ZM536.2 116.5L534.5 119.1L533.2 117.1ZM541.9 114.8L543.3 117.5L541.1 117.8ZM555.0 116.5L553.3 119.0L552.0 117.1ZM561.3 122.6L560.1 119.9L562.4 119.8ZM592.5 116.2L591.0 118.9L589.6 117.1ZM602.4 117.1L600.3 119.3L599.4 117.2ZM611.4 116.4L609.9 119.0L608.5 117.1ZM621.3 117.1L619.2 119.3L618.2 117.2ZM629.8 115.9L628.7 118.7L627.0 117.1ZM639.9 116.8L638.1 119.2L636.9 117.2ZM692.6 114.8L694.1 117.5L691.8 117.7ZM701.6 114.9L703.3 117.4L701.1 117.9ZM431.3 130.8L428.9 129.0L430.9 127.8ZM439.9 131.2L437.9 128.9L440.1 128.2ZM450.1 130.9L447.7 129.0L449.7 127.9ZM532.8 131.4L531.7 128.6L534.0 128.6ZM546.2 127.2L543.5 128.6L543.4 126.3ZM553.6 124.0L553.3 127.0L551.3 126.0ZM563.4 124.2L562.7 127.2L560.8 125.9ZM583.2 125.2L581.6 127.8L580.3 125.9ZM591.7 124.3L591.0 127.3L589.2 125.9ZM602.1 125.4L600.4 127.8L599.2 125.9ZM611.8 125.9L609.8 128.1L608.8 126.0ZM621.4 126.2L619.1 128.2L618.4 126.0ZM629.8 124.7L628.7 127.5L627.0 125.9ZM639.8 125.3L638.1 127.8L636.8 125.9ZM691.9 123.8L693.8 126.1L691.6 126.8ZM701.8 123.6L703.4 126.2L701.1 126.6ZM432.3 138.7L429.4 137.8L430.9 136.0ZM441.6 138.9L438.8 137.8L440.3 136.1ZM450.2 139.6L447.7 137.8L449.7 136.6ZM453.8 137.3L456.2 135.5L456.8 137.7ZM517.9 136.9L515.0 137.6L515.4 135.3ZM527.3 135.5L524.8 137.2L524.3 134.9ZM536.8 135.6L534.2 137.2L533.8 134.9ZM546.2 135.7L543.6 137.2L543.3 135.0ZM555.7 136.4L552.8 137.4L552.9 135.1ZM559.0 133.0L561.5 134.7L559.6 136.0ZM574.2 134.7L572.1 136.9L571.1 134.8ZM583.2 134.0L581.6 136.5L580.2 134.7ZM592.8 134.4L591.0 136.7L589.8 134.7ZM602.0 134.0L600.4 136.5L599.1 134.7ZM611.7 134.3L609.8 136.7L608.7 134.7ZM620.8 133.9L619.3 136.5L617.9 134.7ZM629.8 133.4L628.7 136.2L627.0 134.7ZM640.2 134.8L638.0 136.9L637.1 134.8ZM692.0 132.5L693.9 134.9L691.6 135.5ZM703.7 132.6L703.9 135.6L701.7 134.8ZM430.2 148.8L428.4 146.4L430.7 145.8ZM440.9 148.3L438.4 146.6L440.3 145.3ZM450.4 148.2L447.8 146.6L449.7 145.3ZM460.7 142.8L459.1 145.3L457.8 143.4ZM507.4 147.8L504.6 146.6L506.3 145.0ZM518.0 145.0L515.2 146.2L515.2 143.9ZM527.3 144.3L524.8 146.0L524.4 143.7ZM536.8 145.1L534.0 146.2L534.0 143.9ZM546.2 144.7L543.5 146.1L543.4 143.8ZM555.6 145.6L552.7 146.3L553.0 144.0ZM560.7 148.9L559.9 146.0L562.2 146.2ZM573.5 142.4L572.2 145.1L570.6 143.4ZM583.6 143.4L581.5 145.6L580.5 143.5ZM592.9 143.3L590.9 145.6L589.9 143.5ZM601.8 142.5L600.4 145.2L598.9 143.4ZM610.6 141.9L609.9 144.8L608.0 143.4ZM620.7 142.6L619.3 145.2L617.8 143.4ZM630.2 142.6L628.7 145.2L627.3 143.4ZM639.9 143.0L638.1 145.4L636.9 143.5ZM430.2 150.0L430.7 153.0L428.4 152.4ZM442.6 154.1L439.7 155.0L439.9 152.7ZM451.3 156.1L448.3 155.4L449.7 153.5ZM461.4 153.5L458.8 154.8L458.6 152.5ZM500.9 152.8L503.9 152.4L503.3 154.6ZM518.0 154.1L515.1 155.0L515.3 152.7ZM527.4 154.3L524.4 155.1L524.7 152.8ZM536.8 154.5L533.8 155.1L534.2 152.8ZM546.2 153.1L543.6 154.7L543.2 152.5ZM555.6 153.4L553.0 154.8L552.7 152.5ZM583.6 152.3L581.5 154.4L580.6 152.3ZM591.8 150.7L591.0 153.6L589.2 152.2ZM602.0 151.4L600.4 154.0L599.0 152.2ZM611.8 152.1L609.8 154.4L608.8 152.3ZM620.7 151.3L619.3 154.0L617.8 152.2ZM630.3 151.6L628.7 154.1L627.4 152.2ZM640.0 152.0L638.0 154.3L637.0 152.3ZM648.7 151.0L647.6 153.8L645.9 152.2ZM500.8 162.9L503.5 161.5L503.7 163.8ZM517.7 163.9L514.7 164.0L515.5 161.9ZM527.4 162.3L524.7 163.6L524.5 161.3ZM536.8 162.2L534.1 163.6L533.9 161.3ZM546.2 162.8L543.4 163.8L543.5 161.5ZM555.7 162.5L552.9 163.7L552.8 161.4ZM592.7 160.5L591.0 162.9L589.8 161.0ZM597.2 159.0L599.4 161.1L597.4 162.0ZM609.8 166.1L607.7 164.0L609.8 163.1ZM621.6 162.3L618.9 163.6L618.7 161.3ZM623.3 161.8L626.3 161.2L625.8 163.5ZM639.6 160.1L638.1 162.8L636.7 161.0ZM649.8 163.4L646.8 163.9L647.3 161.7ZM507.9 173.6L504.9 172.9L506.2 171.0ZM517.4 173.4L514.4 172.9L515.6 170.9ZM526.3 174.0L523.5 172.9L525.1 171.3ZM536.8 171.6L533.9 172.6L534.1 170.3ZM545.3 173.9L542.4 172.9L543.9 171.2ZM555.0 173.5L552.0 172.9L553.3 171.0ZM565.0 172.3L562.0 172.7L562.5 170.5ZM574.3 172.4L571.3 172.7L572.0 170.5ZM583.9 171.3L581.1 172.5L581.1 170.2ZM593.2 172.5L590.2 172.7L590.8 170.5ZM602.8 171.2L600.0 172.5L599.9 170.2ZM612.2 171.4L609.4 172.5L609.4 170.2ZM621.3 172.8L618.3 172.8L619.2 170.7ZM631.0 171.4L628.2 172.5L628.3 170.2ZM640.2 172.6L637.2 172.8L637.9 170.6ZM649.7 170.3L647.3 172.1L646.7 169.9ZM659.1 172.4L656.1 172.7L656.8 170.5ZM668.4 172.8L665.4 172.8L666.2 170.7ZM677.6 173.3L674.6 172.9L675.8 170.9ZM687.2 173.0L684.2 172.8L685.1 170.8ZM696.8 172.5L693.8 172.8L694.5 170.6ZM706.1 172.8L703.1 172.8L703.9 170.7ZM507.3 183.0L504.6 181.7L506.3 180.1ZM517.0 182.7L514.1 181.7L515.7 180.0ZM526.6 182.5L523.7 181.7L525.1 179.8ZM536.6 181.5L533.5 181.6L534.4 179.4ZM544.7 183.2L542.1 181.7L543.9 180.3ZM554.7 182.6L551.8 181.7L553.3 179.9ZM564.8 181.5L561.8 181.6L562.6 179.4ZM574.1 181.9L571.1 181.6L572.1 179.6ZM583.6 181.7L580.5 181.6L581.5 179.5ZM593.1 181.5L590.1 181.6L590.9 179.4ZM602.7 180.4L599.9 181.3L600.1 179.0ZM612.1 181.0L609.1 181.5L609.6 179.2ZM621.4 181.3L618.4 181.5L619.1 179.3ZM631.0 180.5L628.1 181.4L628.3 179.1ZM640.4 180.7L637.4 181.4L637.8 179.1ZM649.7 181.1L646.7 181.5L647.3 179.3ZM659.2 180.7L656.3 181.4L656.6 179.1ZM668.5 181.5L665.4 181.6L666.2 179.4ZM678.1 180.5L675.2 181.4L675.4 179.1ZM687.5 180.6L684.6 181.4L684.9 179.1ZM696.8 181.2L693.8 181.5L694.4 179.3ZM706.0 181.7L703.0 181.6L704.0 179.5ZM433.0 190.2L429.9 190.3L430.7 188.2ZM442.0 191.1L439.0 190.4L440.3 188.5ZM452.0 189.2L449.1 190.1L449.3 187.8ZM460.5 191.5L457.6 190.5L459.1 188.7ZM470.5 190.6L467.5 190.4L468.5 188.3ZM479.4 191.3L476.5 190.5L478.0 188.7ZM489.1 191.0L486.1 190.4L487.4 188.5ZM498.7 190.6L495.7 190.4L496.7 188.3ZM507.5 191.5L504.7 190.5L506.2 188.8ZM517.2 191.2L514.3 190.4L515.6 188.6ZM526.8 191.0L523.8 190.4L525.1 188.5ZM536.2 191.0L533.2 190.4L534.5 188.5ZM545.7 190.8L542.7 190.4L543.9 188.4ZM555.3 190.5L552.3 190.4L553.2 188.3ZM565.1 189.1L562.2 190.1L562.4 187.8ZM574.4 189.5L571.5 190.2L571.9 187.9ZM583.8 189.9L580.8 190.3L581.4 188.1ZM593.0 190.4L590.0 190.4L590.9 188.2ZM602.5 190.2L599.5 190.3L600.3 188.1ZM612.0 190.0L609.0 190.3L609.7 188.1ZM621.6 189.2L618.7 190.1L618.9 187.8ZM630.9 189.9L627.9 190.3L628.5 188.1ZM640.1 190.5L637.1 190.4L638.0 188.3ZM649.8 189.3L646.9 190.1L647.2 187.8ZM659.0 190.2L656.0 190.3L656.8 188.2ZM668.5 190.2L665.4 190.3L666.2 188.2ZM678.0 189.8L675.0 190.3L675.6 188.0ZM687.5 189.4L684.6 190.1L684.9 187.9ZM696.2 191.2L693.3 190.4L694.6 188.6ZM706.1 190.4L703.0 190.4L703.9 188.2ZM432.6 199.8L429.6 199.2L430.9 197.3ZM441.8 200.1L438.9 199.2L440.3 197.4ZM451.0 200.3L448.1 199.2L449.7 197.6ZM460.5 200.2L457.7 199.2L459.1 197.5ZM470.6 199.0L467.6 199.1L468.4 197.0ZM479.4 200.1L476.5 199.2L478.0 197.5ZM489.3 199.5L486.3 199.2L487.3 197.1ZM498.7 199.4L495.7 199.2L496.7 197.1ZM507.7 200.1L504.8 199.2L506.2 197.5ZM517.4 199.6L514.4 199.2L515.6 197.2ZM526.5 200.1L523.6 199.2L525.1 197.5ZM535.9 200.2L533.0 199.2L534.5 197.5ZM545.0 200.5L542.3 199.2L543.9 197.6ZM555.3 199.4L552.2 199.2L553.3 197.1ZM564.9 198.7L561.9 199.0L562.6 196.8ZM574.3 198.8L571.3 199.1L572.0 196.9ZM583.6 199.2L580.6 199.1L581.5 197.0ZM593.3 197.2L590.7 198.7L590.4 196.4ZM602.7 198.0L599.9 198.9L600.0 196.6ZM612.1 198.5L609.1 199.0L609.6 196.8ZM621.4 198.9L618.4 199.1L619.1 196.9ZM630.6 199.4L627.6 199.2L628.6 197.1ZM640.4 198.3L637.4 198.9L637.8 196.7ZM649.8 198.3L646.9 198.9L647.2 196.7ZM658.9 199.4L655.9 199.2L656.9 197.1ZM668.7 197.7L665.9 198.8L665.9 196.5ZM678.1 197.9L675.2 198.9L675.4 196.6ZM687.3 199.1L684.2 199.1L685.1 197.0ZM696.8 198.8L693.8 199.1L694.5 196.9ZM706.2 198.7L703.2 199.1L703.9 196.8ZM536.2 208.6L533.2 208.0L534.5 206.1ZM545.5 208.7L542.5 208.0L543.9 206.1ZM554.2 209.5L551.5 208.0L553.3 206.6ZM565.1 206.2L562.3 207.5L562.2 205.2ZM574.5 207.0L571.5 207.7L571.9 205.4ZM583.9 206.4L581.1 207.5L581.1 205.2ZM593.3 206.4L590.6 207.5L590.5 205.2ZM602.6 207.4L599.6 207.8L600.2 205.6ZM612.1 207.0L609.2 207.7L609.5 205.4ZM621.6 206.7L618.7 207.6L618.9 205.4ZM631.0 206.7L628.1 207.6L628.3 205.3ZM640.3 207.3L637.3 207.8L637.9 205.6ZM649.7 207.6L646.6 207.8L647.4 205.7ZM659.2 207.2L656.2 207.8L656.7 205.5ZM668.5 207.7L665.4 207.9L666.2 205.7ZM677.9 207.6L674.9 207.8L675.6 205.6ZM686.9 208.5L684.0 208.0L685.2 206.0ZM696.9 207.2L693.9 207.8L694.4 205.5ZM706.1 207.9L703.1 207.9L703.9 205.8ZM432.3 217.7L429.4 216.8L430.9 215.0ZM441.9 217.4L438.9 216.8L440.3 214.9ZM451.5 217.2L448.5 216.7L449.7 214.8ZM461.3 216.3L458.3 216.6L458.9 214.4ZM470.3 217.3L467.3 216.7L468.5 214.8ZM479.0 218.1L476.3 216.8L478.0 215.3ZM489.1 217.3L486.1 216.7L487.4 214.8ZM498.2 217.7L495.3 216.8L496.8 215.0ZM508.0 217.2L505.0 216.7L506.2 214.8ZM517.0 217.8L514.1 216.8L515.7 215.1ZM526.4 217.8L523.5 216.8L525.1 215.1ZM535.9 217.7L533.0 216.8L534.5 215.0ZM545.3 217.8L542.4 216.8L543.9 215.0ZM554.1 218.3L551.5 216.7L553.3 215.4ZM564.9 216.4L561.9 216.6L562.6 214.4ZM574.4 216.0L571.4 216.5L571.9 214.3ZM583.9 215.2L581.1 216.3L581.1 214.0ZM593.2 216.2L590.2 216.6L590.8 214.4ZM602.6 216.2L599.6 216.6L600.2 214.4ZM612.2 215.6L609.2 216.4L609.5 214.2ZM621.6 215.6L618.7 216.4L618.9 214.2ZM631.0 214.9L628.3 216.3L628.1 214.0ZM640.4 215.6L637.5 216.4L637.8 214.2ZM649.8 216.0L646.8 216.5L647.3 214.3ZM659.3 215.1L656.5 216.3L656.5 214.0ZM668.7 215.0L666.0 216.3L665.8 214.0ZM678.0 216.3L674.9 216.6L675.6 214.4ZM687.5 215.9L684.5 216.5L684.9 214.2ZM696.5 217.1L693.5 216.7L694.6 214.7ZM706.2 216.2L703.2 216.6L703.8 214.4ZM433.2 224.1L430.4 225.1L430.4 222.8ZM442.6 224.0L439.8 225.1L439.8 222.8ZM452.0 224.0L449.2 225.1L449.3 222.8ZM461.5 224.0L458.7 225.1L458.7 222.8ZM470.9 224.0L468.1 225.1L468.1 222.8ZM480.3 223.9L477.5 225.1L477.5 222.8ZM489.7 223.9L486.9 225.1L486.9 222.8ZM499.1 224.0L496.3 225.1L496.4 222.8ZM508.6 224.1L505.7 225.1L505.8 222.9ZM518.0 223.8L515.2 225.1L515.1 222.8ZM527.4 223.8L524.7 225.0L524.5 222.7ZM536.8 224.0L534.0 225.1L534.0 222.8ZM546.2 223.9L543.5 225.1L543.4 222.8ZM555.7 224.2L552.8 225.2L552.9 222.9ZM565.1 224.2L562.2 225.2L562.3 222.9ZM574.5 224.0L571.7 225.1L571.7 222.8ZM583.9 223.7L581.2 225.0L581.1 222.7ZM593.3 224.1L590.5 225.1L590.6 222.8ZM602.8 224.1L599.9 225.1L600.0 222.8ZM612.2 223.7L609.4 225.0L609.3 222.7ZM621.6 224.2L618.7 225.2L618.9 222.9ZM631.0 223.9L628.2 225.1L628.2 222.8ZM640.4 223.9L637.7 225.1L637.6 222.8ZM649.9 224.0L647.1 225.1L647.1 222.8ZM659.3 223.9L656.5 225.1L656.5 222.8ZM668.7 223.6L666.0 225.0L665.8 222.7ZM678.1 224.1L675.3 225.1L675.4 222.8ZM687.5 224.0L684.7 225.1L684.8 222.8ZM697.0 224.0L694.2 225.1L694.2 222.8ZM706.4 224.0L703.6 225.1L703.6 222.8ZM433.2 232.9L430.3 233.9L430.5 231.6ZM442.6 232.5L439.9 233.8L439.8 231.5ZM452.0 232.7L449.2 233.9L449.2 231.6ZM461.5 233.0L458.6 233.9L458.7 231.6ZM470.9 232.8L468.1 233.9L468.1 231.6ZM480.3 232.7L477.5 233.9L477.5 231.6ZM489.7 232.7L486.9 233.9L486.9 231.6ZM499.1 232.9L496.3 233.9L496.4 231.6ZM508.6 232.7L505.8 233.9L505.8 231.6ZM518.0 232.7L515.2 233.9L515.2 231.6ZM527.4 232.7L524.6 233.9L524.6 231.6ZM536.8 232.7L534.0 233.9L534.0 231.6ZM546.2 233.0L543.4 233.9L543.5 231.6ZM555.7 232.5L552.9 233.8L552.8 231.5ZM565.1 232.7L562.3 233.9L562.3 231.6ZM574.5 232.5L571.8 233.8L571.6 231.5ZM583.9 232.3L581.2 233.8L581.0 231.5ZM593.3 232.7L590.5 233.9L590.5 231.6ZM602.8 232.9L599.9 233.9L600.0 231.6ZM612.2 232.6L609.4 233.8L609.3 231.5ZM621.6 232.7L618.8 233.9L618.8 231.6ZM631.0 232.8L628.2 233.9L628.2 231.6ZM640.4 232.9L637.6 233.9L637.7 231.6ZM649.9 232.5L647.1 233.8L647.0 231.5ZM659.3 232.8L656.5 233.9L656.5 231.6ZM668.7 232.9L665.8 233.9L666.0 231.6ZM678.1 232.8L675.3 233.9L675.3 231.6ZM687.5 232.9L684.7 233.9L684.8 231.6ZM697.0 232.7L694.2 233.9L694.2 231.6ZM706.4 232.8L703.6 233.9L703.6 231.6ZM433.2 241.6L430.4 242.7L430.4 240.4ZM442.6 241.4L439.8 242.6L439.8 240.3ZM452.0 241.6L449.2 242.7L449.3 240.4ZM461.5 241.4L458.7 242.6L458.6 240.3ZM470.9 241.3L468.1 242.6L468.0 240.3ZM480.3 241.5L477.5 242.7L477.5 240.4ZM489.7 241.6L486.9 242.7L486.9 240.4ZM499.1 241.5L496.3 242.6L496.3 240.3ZM508.6 241.4L505.8 242.6L505.7 240.3ZM518.0 241.5L515.2 242.6L515.2 240.3ZM527.4 241.5L524.6 242.6L524.6 240.3ZM536.8 241.5L534.0 242.6L534.0 240.3ZM546.2 241.4L543.5 242.6L543.4 240.3ZM555.7 241.4L552.9 242.6L552.8 240.3ZM565.1 241.6L562.3 242.7L562.3 240.4ZM574.5 241.6L571.7 242.7L571.7 240.4ZM583.9 241.5L581.1 242.6L581.1 240.3ZM593.3 241.6L590.5 242.7L590.6 240.4ZM602.8 241.5L600.0 242.6L600.0 240.3ZM612.2 241.4L609.4 242.6L609.4 240.3ZM621.6 241.5L618.8 242.6L618.8 240.3ZM631.0 241.6L628.2 242.7L628.2 240.4ZM640.4 241.6L637.6 242.7L637.7 240.4ZM649.9 241.3L647.1 242.6L647.0 240.3ZM659.3 241.4L656.5 242.6L656.4 240.3ZM668.7 241.6L665.9 242.7L665.9 240.4ZM678.1 241.6L675.3 242.7L675.4 240.4ZM687.5 241.2L684.8 242.6L684.7 240.3ZM697.0 241.3L694.2 242.6L694.1 240.3ZM706.4 241.5L703.6 242.6L703.6 240.3ZM433.2 250.1L430.4 251.4L430.4 249.1ZM442.6 250.5L439.8 251.5L439.9 249.2ZM452.0 250.3L449.2 251.4L449.2 249.1ZM461.5 250.2L458.7 251.4L458.6 249.1ZM470.9 250.5L468.0 251.5L468.2 249.2ZM480.3 250.4L477.5 251.4L477.5 249.1ZM489.7 250.2L487.0 251.4L486.9 249.1ZM499.1 250.1L496.4 251.4L496.3 249.1ZM508.6 250.3L505.7 251.4L505.8 249.1ZM518.0 250.2L515.2 251.4L515.2 249.1ZM527.4 250.0L524.7 251.3L524.5 249.1ZM536.8 250.3L534.0 251.4L534.0 249.1ZM546.2 250.4L543.4 251.5L543.5 249.2ZM555.7 250.3L552.9 251.4L552.9 249.1ZM565.1 250.3L562.3 251.4L562.3 249.1ZM574.5 250.1L571.8 251.4L571.6 249.1ZM583.9 250.2L581.1 251.4L581.1 249.1ZM593.3 250.4L590.5 251.4L590.6 249.1ZM602.7 249.9L600.1 251.3L599.9 249.0ZM612.2 250.3L609.4 251.4L609.4 249.1ZM621.6 250.2L618.8 251.4L618.8 249.1ZM631.0 250.2L628.2 251.4L628.2 249.1ZM640.4 250.2L637.7 251.4L637.6 249.1ZM649.9 250.2L647.1 251.4L647.1 249.1ZM659.3 250.2L656.5 251.4L656.5 249.1ZM668.7 250.3L665.9 251.4L665.9 249.1ZM678.1 250.5L675.3 251.5L675.4 249.2ZM687.5 250.3L684.7 251.4L684.7 249.1ZM697.0 250.3L694.2 251.4L694.2 249.1ZM706.4 250.3L703.6 251.4L703.6 249.1ZM433.2 259.0L430.4 260.2L430.4 257.9ZM442.6 259.1L439.8 260.2L439.8 257.9ZM452.0 258.8L449.3 260.1L449.2 257.8ZM461.5 258.8L458.7 260.1L458.6 257.8ZM470.9 259.3L468.0 260.3L468.2 258.0ZM480.3 259.0L477.5 260.2L477.5 257.9ZM489.7 259.1L486.9 260.2L486.9 257.9ZM499.1 259.4L496.2 260.3L496.4 258.0ZM508.6 259.0L505.8 260.2L505.7 257.9ZM518.0 259.1L515.2 260.2L515.2 257.9ZM527.4 259.1L524.6 260.2L524.6 257.9ZM536.8 259.1L534.0 260.2L534.0 257.9ZM546.2 258.9L543.5 260.1L543.4 257.8ZM555.7 258.9L552.9 260.1L552.8 257.8ZM565.1 259.0L562.3 260.2L562.3 257.9ZM574.5 258.9L571.7 260.2L571.7 257.9ZM583.9 259.0L581.1 260.2L581.1 257.9ZM593.3 259.0L590.5 260.2L590.5 257.9ZM602.8 259.1L599.9 260.2L600.0 257.9ZM612.2 259.0L609.4 260.2L609.4 257.9ZM621.6 259.1L618.8 260.2L618.8 257.9ZM631.0 259.0L628.2 260.2L628.2 257.9ZM640.4 258.9L637.7 260.1L637.6 257.8ZM649.9 259.0L647.1 260.2L647.0 257.9ZM659.3 258.9L656.5 260.1L656.4 257.8ZM668.7 258.7L666.0 260.1L665.8 257.8ZM678.1 259.3L675.2 260.3L675.4 258.0ZM687.5 259.0L684.7 260.2L684.7 257.9ZM697.0 259.1L694.1 260.2L694.2 257.9ZM706.4 259.1L703.6 260.2L703.6 257.9Z" fill="#000" stroke="#000" stroke-width="0.3"/>
<path d="M426.8 3.1L426.5 3.9L426.2 4.6L426.0 5.4L426.0 6.4L425.8 7.1L425.8 8.1L425.8 9.1L425.8 10.1L425.8 11.1L425.8 12.1L426.0 12.9L426.1 13.8L426.2 14.6L426.5 15.4L426.9 16.0L427.2 16.6L427.9 17.0L428.6 16.8L429.0 16.1L429.4 15.5L429.6 14.8L429.8 13.9L430.0 13.1L430.1 12.2L430.2 11.4L430.2 10.4L430.2 9.4L430.2 8.4L430.2 7.4L430.0 6.6L430.0 5.6L429.8 4.9L429.5 4.1L429.2 3.4L429.2 3.1M477.2 3.1L477.0 3.9L477.0 4.9L476.8 5.6L476.8 6.6L476.8 7.6L476.8 8.6L476.8 9.6L476.8 10.6L477.0 11.4L477.1 12.2L477.2 13.1L477.5 13.9L477.8 14.6L478.0 15.4L478.4 16.0L478.8 16.6L479.2 17.1L479.8 17.6L480.4 18.0L481.4 18.0L482.1 17.8L482.6 17.2L483.1 16.8L483.5 16.1L483.9 15.5L484.1 14.8L484.5 14.1L484.8 13.4L484.8 12.4L485.0 11.6L485.1 10.8L485.2 9.9L485.2 8.9L485.2 7.9L485.2 6.9L485.2 5.9L485.0 5.1L485.0 4.1L484.8 3.4L484.8 3.1M521.2 3.1L520.9 3.8L520.6 4.5L520.5 5.4L520.2 6.1L520.0 6.9L519.8 7.6L519.6 8.5L519.5 9.4L519.2 10.1L519.2 11.1L519.0 11.9L519.0 12.9L519.0 13.9L518.8 14.6L518.8 15.6L518.8 16.6L518.8 17.6L518.8 18.6L518.8 19.6L518.8 20.6L518.8 21.6L518.8 22.6L518.8 23.6L518.8 24.6L519.0 25.4L519.0 26.4L519.2 27.1L519.2 28.1L519.5 28.9L519.6 29.8L519.8 30.6L520.0 31.4L520.2 32.1L520.6 32.8L521.0 33.4L521.4 34.0L522.0 34.4L522.9 34.5L523.4 34.0L523.9 33.5L524.2 32.9L524.6 32.2L525.0 31.6L525.2 30.9L525.5 30.1L525.8 29.4L526.0 28.6L526.0 27.6L526.2 26.9L526.5 26.1L526.5 25.1L526.8 24.4L526.8 23.4L527.0 22.6L527.0 21.6L527.1 20.8L527.2 19.9L527.2 18.9L527.2 17.9L527.2 16.9L527.2 15.9L527.2 14.9L527.2 13.9L527.2 12.9L527.2 11.9L527.2 10.9L527.0 10.1L527.0 9.1L527.0 8.1L526.8 7.4L526.6 6.5L526.5 5.6L526.2 4.9L526.0 4.1L525.8 3.4L525.8 3.1M558.2 3.1L558.0 3.9L557.9 4.8L557.8 5.6L557.5 6.4L557.5 7.4L557.5 8.4L557.5 9.4L557.5 10.4L557.5 11.4L557.5 12.4L557.5 13.4L557.8 14.1L557.8 15.1L558.0 15.9L558.2 16.6L558.5 17.4L558.8 18.1L559.1 18.8L559.6 19.2L560.4 19.5L561.0 19.1L561.4 18.5L561.8 17.9L562.0 17.1L562.2 16.4L562.5 15.6L562.6 14.8L562.8 13.9L562.8 12.9L563.0 12.1L563.0 11.1L563.0 10.1L563.0 9.1L563.0 8.1L562.9 7.2L562.8 6.4L562.8 5.4L562.5 4.6L562.2 3.9L562.2 3.1M582.8 3.1L582.5 3.9L582.2 4.6L582.2 5.6L582.0 6.4L582.0 7.4L582.0 8.4L581.9 9.2L581.8 10.1L581.8 11.1L581.8 12.1L581.8 13.1L581.8 14.1L582.0 14.9L582.0 15.9L582.0 16.9L582.1 17.8L582.2 18.6L582.4 19.5L582.5 20.4L582.8 21.1L583.0 21.9L583.4 22.5L583.9 23.0L584.5 22.6L584.9 22.0L585.2 21.4L585.4 20.5L585.5 19.6L585.8 18.9L585.8 17.9L586.0 17.1L586.0 16.1L586.0 15.1L586.2 14.4L586.2 13.4L586.2 12.4L586.2 11.4L586.2 10.4L586.2 9.4L586.0 8.6L586.0 7.6L586.0 6.6L585.8 5.9L585.8 4.9L585.5 4.1L585.2 3.4L585.2 3.1M587.8 3.1L587.5 3.9L587.5 4.9L587.2 5.6L587.2 6.6L587.0 7.4L587.0 8.4L587.0 9.4L587.0 10.4L587.0 11.4L587.0 12.4L587.0 13.4L587.0 14.4L587.1 15.2L587.2 16.1L587.4 17.0L587.5 17.9L587.8 18.6L588.0 19.4L588.2 20.1L588.6 20.8L589.4 21.0L589.9 20.5L590.2 19.9L590.5 19.1L590.8 18.4L591.0 17.6L591.0 16.6L591.2 15.9L591.2 14.9L591.5 14.1L591.5 13.1L591.5 12.1L591.5 11.1L591.5 10.1L591.5 9.1L591.5 8.1L591.2 7.4L591.2 6.4L591.1 5.5L591.0 4.6L590.8 3.9L590.5 3.1M652.2 3.1L652.2 4.1L652.0 4.9L652.0 5.9L652.0 6.9L651.8 7.6L651.8 8.6L651.8 9.6L651.8 10.6L651.8 11.6L651.8 12.6L651.8 13.6L651.8 14.6L651.8 15.6L651.8 16.6L652.0 17.4L652.0 18.4L652.0 19.4L652.2 20.1L652.2 21.1L652.5 21.9L652.8 22.6L653.0 23.4L653.4 24.0L654.0 23.6L654.4 23.0L654.5 22.1L654.8 21.4L655.0 20.6L655.0 19.6L655.2 18.9L655.2 17.9L655.2 16.9L655.5 16.1L655.5 15.1L655.5 14.1L655.5 13.1L655.5 12.1L655.5 11.1L655.5 10.1L655.5 9.1L655.5 8.1L655.2 7.4L655.2 6.4L655.2 5.4L655.0 4.6L655.0 3.6L655.0 3.1M701.0 3.1L700.6 3.8L700.2 4.4L700.0 5.1L699.8 5.9L699.5 6.6L699.4 7.5L699.2 8.4L699.0 9.1L698.8 9.9L698.8 10.9L698.5 11.6L698.5 12.6L698.2 13.4L698.2 14.4L698.1 15.2L698.0 16.1L698.0 17.1L697.9 18.0L697.8 18.9L697.8 19.9L697.8 20.9L697.8 21.9L697.5 22.6L697.5 23.6L697.5 24.6L697.5 25.6L697.5 26.6L697.5 27.6L697.5 28.6L697.5 29.6L697.5 30.6L697.5 31.6L697.5 32.6L697.5 33.6L697.6 34.5L697.8 35.4L697.8 36.4L697.8 37.4L697.8 38.4L698.0 39.1L698.0 40.1L698.0 41.1L698.2 41.9L698.2 42.9L698.2 43.9L698.5 44.6L698.5 45.6L698.8 46.4L698.9 47.2L699.0 48.1L699.2 48.9L699.5 49.6L699.6 50.5L699.8 51.4L700.0 52.1L700.4 52.8L700.8 53.4L701.1 54.0L701.6 54.5L702.5 54.4L702.9 54.0M464.9 5.5L464.2 5.9L463.8 6.4L463.4 7.0L463.0 7.6L462.8 8.4L462.4 9.0L462.1 9.8L461.9 10.5L461.8 11.4L461.5 12.1L461.2 12.9L461.1 13.8L461.0 14.6L460.8 15.4L460.8 16.4L460.5 17.1L460.5 18.1L460.2 18.9L460.2 19.9L460.2 20.9L460.0 21.6L460.0 22.6L460.0 23.6L460.0 24.6L459.8 25.4L459.8 26.4L459.8 27.4L459.8 28.4L459.8 29.4L459.8 30.4L459.8 31.4L459.8 32.4L460.0 33.1L460.0 34.1L460.0 35.1L460.0 36.1L460.1 37.0L460.2 37.9L460.2 38.9L460.5 39.6L460.5 40.6L460.6 41.5L460.8 42.4L461.0 43.1L461.0 44.1L461.2 44.9L461.5 45.6L461.6 46.5L461.8 47.4L462.0 48.1L462.2 48.9L462.6 49.5L463.0 50.1L463.2 50.9L463.6 51.5L464.1 52.0L464.8 52.4L465.6 52.5L466.2 52.1L466.8 51.6L467.2 51.1L467.5 50.4L467.9 49.8L468.2 49.1L468.5 48.4L468.8 47.6L468.9 46.8L469.1 46.0L469.2 45.1L469.5 44.4L469.6 43.5L469.8 42.6L470.0 41.9L470.0 40.9L470.2 40.1L470.2 39.1L470.2 38.1L470.5 37.4L470.5 36.4L470.5 35.4L470.8 34.6L470.8 33.6L470.8 32.6L470.8 31.6L470.8 30.6L470.8 29.6L470.8 28.6L470.8 27.6L470.8 26.6L470.8 25.6L470.8 24.6L470.8 23.6L470.5 22.9L470.5 21.9L470.5 20.9L470.4 20.0L470.2 19.1L470.2 18.1L470.0 17.4L470.0 16.4L469.8 15.6L469.8 14.6L469.5 13.9L469.2 13.1L469.2 12.1L469.0 11.4L468.8 10.6L468.5 9.9L468.2 9.1L468.0 8.4L467.6 7.8L467.2 7.1L466.9 6.5L466.4 6.0L465.8 5.6L464.9 5.5M677.4 13.0L676.8 13.4L676.1 13.8L675.6 14.2L675.2 14.9L674.8 15.4L674.4 16.0L674.0 16.6L673.8 17.4L673.5 18.1L673.2 18.9L673.0 19.6L672.8 20.4L672.5 21.1L672.2 21.9L672.1 22.8L672.0 23.6L671.8 24.4L671.8 25.4L671.5 26.1L671.5 27.1L671.5 28.1L671.2 28.9L671.2 29.9L671.2 30.9L671.2 31.9L671.2 32.9L671.2 33.9L671.5 34.6L671.5 35.6L671.5 36.6L671.8 37.4L671.8 38.4L672.0 39.1L672.2 39.9L672.4 40.8L672.5 41.6L672.8 42.4L673.1 43.0L673.5 43.6L673.8 44.4L674.1 45.0L674.5 45.6L675.0 46.1L675.6 46.5L676.2 46.9L677.1 47.0L677.9 46.8L678.6 46.5L679.1 46.0L679.6 45.5L680.0 44.9L680.4 44.2L680.8 43.6L681.1 43.0L681.5 42.4L681.8 41.6L682.0 40.9L682.2 40.1L682.5 39.4L682.6 38.5L682.8 37.6L683.0 36.9L683.1 36.0L683.2 35.1L683.4 34.2L683.5 33.4L683.5 32.4L683.8 31.6L683.8 30.6L683.8 29.6L683.8 28.6L683.8 27.6L683.8 26.6L683.8 25.6L683.5 24.9L683.5 23.9L683.4 23.0L683.2 22.1L683.0 21.4L683.0 20.4L682.8 19.6L682.5 18.9L682.2 18.1L682.0 17.4L681.8 16.6L681.5 15.9L681.0 15.4L680.6 14.8L680.2 14.1L679.8 13.6L679.1 13.2L678.4 13.0L677.4 13.0M637.9 13.8L637.4 14.2L637.0 14.9L636.8 15.6L636.5 16.4L636.5 17.4L636.5 18.4L636.5 19.4L636.5 20.4L636.8 21.1L637.0 21.9L637.5 22.4L638.1 22.8L638.9 22.5L639.2 21.9L639.5 21.1L639.8 20.4L640.0 19.6L640.0 18.6L640.0 17.6L639.9 16.8L639.8 15.9L639.5 15.1L639.1 14.5L638.6 14.0L637.9 13.8M455.9 20.0L455.4 20.5L455.0 21.1L454.8 21.9L454.5 22.6L454.2 23.4L454.1 24.2L454.0 25.1L453.8 25.9L453.8 26.9L453.8 27.9L453.5 28.6L453.5 29.6L453.5 30.6L453.5 31.6L453.5 32.6L453.5 33.6L453.5 34.6L453.8 35.4L453.8 36.4L453.9 37.2L454.0 38.1L454.2 38.9L454.2 39.9L454.5 40.6L454.8 41.4L455.1 42.0L455.5 42.6L456.1 43.0L456.9 42.8L457.2 42.1L457.5 41.4L457.8 40.6L458.0 39.9L458.2 39.1L458.4 38.2L458.5 37.4L458.6 36.5L458.8 35.6L458.8 34.6L458.8 33.6L459.0 32.9L459.0 31.9L459.0 30.9L458.9 30.0L458.8 29.1L458.8 28.1L458.8 27.1L458.5 26.4L458.5 25.4L458.2 24.6L458.2 23.6L458.0 22.9L457.8 22.1L457.5 21.4L457.1 20.8L456.6 20.2L455.9 20.0M678.0 20.1L678.9 20.0L679.5 20.4L680.0 20.9L680.2 21.6L680.5 22.4L680.8 23.1L681.0 23.9L681.0 24.9L681.0 25.9L681.0 26.9L681.0 27.9L680.8 28.6L680.6 29.5L680.5 30.4L680.2 31.1L679.9 31.8L679.5 32.4L679.1 33.0L678.6 33.5L678.0 33.9L677.1 34.0L676.5 33.6L676.0 33.1L675.8 32.4L675.5 31.6L675.2 30.9L675.0 30.1L675.0 29.1L675.0 28.1L675.0 27.1L675.0 26.1L675.2 25.4L675.4 24.5L675.5 23.6L675.8 22.9L676.1 22.2L676.5 21.6L676.9 21.0L677.4 20.5L678.0 20.1M617.9 23.5L617.1 23.8L616.5 24.1L616.0 24.6L615.6 25.2L615.2 25.9L615.0 26.6L615.0 27.6L614.8 28.4L614.8 29.4L614.8 30.4L614.8 31.4L614.8 32.4L614.9 33.2L615.0 34.1L615.2 34.9L615.5 35.6L615.6 36.5L615.9 37.2L616.2 37.9L616.5 38.6L616.9 39.2L617.2 39.9L617.6 40.5L618.1 41.0L618.6 41.5L619.1 42.0L619.9 42.2L620.6 42.5L621.4 42.2L621.9 41.8L622.4 41.2L622.8 40.6L623.0 39.9L623.2 39.1L623.5 38.4L623.8 37.6L623.8 36.6L623.8 35.6L623.8 34.6L623.8 33.6L623.5 32.9L623.4 32.0L623.2 31.1L623.0 30.4L622.8 29.6L622.5 28.9L622.2 28.1L622.0 27.4L621.6 26.8L621.2 26.1L620.8 25.6L620.4 25.0L619.9 24.5L619.4 24.0L618.6 23.8L617.9 23.5M631.9 24.8L631.2 25.1L630.6 25.5L630.1 26.0L629.8 26.6L629.4 27.2L629.0 27.9L628.8 28.6L628.5 29.4L628.2 30.1L628.0 30.9L627.8 31.6L627.5 32.4L627.5 33.4L627.2 34.1L627.2 35.1L627.0 35.9L627.0 36.9L627.0 37.9L627.0 38.9L627.0 39.9L627.0 40.9L627.1 41.8L627.2 42.6L627.2 43.6L627.5 44.4L627.5 45.4L627.8 46.1L628.0 46.9L628.2 47.6L628.5 48.4L628.8 49.1L629.0 49.9L629.4 50.5L629.8 51.1L630.2 51.6L630.8 52.1L631.4 52.5L632.1 52.8L633.1 52.8L633.6 52.2L634.2 51.9L634.8 51.4L635.1 50.8L635.5 50.1L635.8 49.4L636.0 48.6L636.2 47.9L636.5 47.1L636.8 46.4L637.0 45.6L637.0 44.6L637.2 43.9L637.2 42.9L637.5 42.1L637.5 41.1L637.5 40.1L637.5 39.1L637.5 38.1L637.5 37.1L637.5 36.1L637.5 35.1L637.2 34.4L637.2 33.4L637.0 32.6L636.9 31.8L636.8 30.9L636.5 30.1L636.2 29.4L636.0 28.6L635.6 28.0L635.2 27.4L635.0 26.6L634.5 26.1L634.0 25.6L633.5 25.1L632.8 24.9L631.9 24.8M552.4 25.5L551.9 26.0L551.4 26.5L550.9 27.0L550.6 27.8L550.2 28.4L550.2 29.4L550.0 30.1L550.0 31.1L550.0 32.1L550.2 32.9L550.4 33.8L550.8 34.4L551.0 35.1L551.5 35.6L552.0 36.1L552.6 36.5L553.6 36.5L554.1 36.0L554.6 35.5L555.1 35.0L555.4 34.2L555.8 33.6L555.8 32.6L556.0 31.9L556.0 30.9L556.0 29.9L555.8 29.1L555.6 28.2L555.2 27.6L555.0 26.9L554.5 26.4L554.0 25.9L553.4 25.5L552.4 25.5M655.1 27.5L654.5 27.9L653.9 28.2L653.5 28.9L653.0 29.4L652.8 30.1L652.5 30.9L652.2 31.6L652.0 32.4L651.8 33.1L651.5 33.9L651.4 34.8L651.2 35.6L651.2 36.6L651.0 37.4L651.0 38.4L651.0 39.4L651.0 40.4L651.0 41.4L651.0 42.4L651.0 43.4L651.0 44.4L651.2 45.1L651.2 46.1L651.5 46.9L651.5 47.9L651.8 48.6L652.0 49.4L652.2 50.1L652.5 50.9L652.8 51.6L653.1 52.2L653.5 52.9L654.0 53.4L654.6 53.8L655.4 54.0L656.1 53.8L656.8 53.4L657.1 52.8L657.5 52.1L657.9 51.5L658.2 50.9L658.5 50.1L658.8 49.4L658.9 48.5L659.0 47.6L659.2 46.9L659.2 45.9L659.5 45.1L659.5 44.1L659.6 43.2L659.8 42.4L659.8 41.4L659.8 40.4L659.8 39.4L659.8 38.4L659.5 37.6L659.5 36.6L659.4 35.8L659.2 34.9L659.0 34.1L659.0 33.1L658.8 32.4L658.5 31.6L658.2 30.9L658.0 30.1L657.6 29.5L657.2 28.9L656.8 28.4L656.2 27.9L655.5 27.6L655.1 27.5M437.1 29.8L436.5 30.1L436.1 30.8L435.8 31.4L435.5 32.1L435.5 33.1L435.5 34.1L435.5 35.1L435.5 36.1L435.8 36.9L435.8 37.9L436.0 38.6L436.1 39.5L436.2 40.4L436.5 41.1L436.8 41.9L437.0 42.6L437.2 43.4L437.5 44.1L437.8 44.9L438.0 45.6L438.2 46.4L438.5 47.1L438.9 47.8L439.2 48.4L439.5 49.1L439.9 49.8L440.2 50.4L440.5 51.1L440.9 51.8L441.2 52.4L441.6 53.0L442.1 53.5L442.5 54.1L443.0 54.6L443.4 55.2L443.9 55.8L444.4 56.2L445.0 56.6L445.6 57.0L446.4 57.2L447.1 57.0L447.8 56.6L448.0 55.9L448.2 55.1L448.5 54.4L448.5 53.4L448.5 52.4L448.5 51.4L448.5 50.4L448.2 49.6L448.1 48.8L448.0 47.9L447.8 47.1L447.5 46.4L447.4 45.5L447.1 44.8L447.0 43.9L446.8 43.1L446.5 42.4L446.1 41.8L445.9 41.0L445.5 40.4L445.2 39.6L445.0 38.9L444.6 38.2L444.2 37.6L444.0 36.9L443.6 36.2L443.2 35.6L442.9 35.0L442.5 34.4L442.1 33.8L441.8 33.1L441.2 32.6L440.9 32.0L440.4 31.5L439.9 31.0L439.2 30.6L438.6 30.2L438.0 29.9L437.1 29.8M570.6 35.8L570.0 36.1L569.5 36.6L569.1 37.2L568.8 37.9L568.5 38.6L568.2 39.4L568.0 40.1L567.9 41.0L567.8 41.9L567.5 42.6L567.5 43.6L567.4 44.5L567.2 45.4L567.2 46.4L567.2 47.4L567.2 48.4L567.5 49.1L567.5 50.1L567.5 51.1L567.8 51.9L567.9 52.8L568.0 53.6L568.2 54.4L568.5 55.1L568.9 55.8L569.2 56.4L569.6 57.0L570.1 57.5L570.9 57.8L571.8 57.6L572.2 57.1L572.8 56.6L573.0 55.9L573.4 55.2L573.6 54.5L573.9 53.8L574.0 52.9L574.2 52.1L574.4 51.2L574.5 50.4L574.5 49.4L574.8 48.6L574.8 47.6L574.8 46.6L574.8 45.6L574.8 44.6L574.5 43.9L574.5 42.9L574.2 42.1L574.2 41.1L574.0 40.4L573.8 39.6L573.5 38.9L573.2 38.1L573.0 37.4L572.5 36.9L572.1 36.2L571.5 35.9L570.6 35.8M604.1 42.0L603.6 42.5L603.1 43.0L602.8 43.6L602.4 44.2L602.1 45.0L601.9 45.8L601.8 46.6L601.5 47.4L601.5 48.4L601.5 49.4L601.5 50.4L601.5 51.4L601.5 52.4L601.8 53.1L601.8 54.1L602.0 54.9L602.2 55.6L602.6 56.2L603.0 56.9L603.5 57.4L604.0 57.9L604.9 58.0L605.6 57.8L606.1 57.2L606.5 56.6L606.9 56.0L607.2 55.4L607.5 54.6L607.6 53.8L607.8 52.9L608.0 52.1L608.0 51.1L608.0 50.1L608.0 49.1L608.0 48.1L607.8 47.4L607.8 46.4L607.5 45.6L607.2 44.9L607.0 44.1L606.6 43.5L606.2 42.9L605.8 42.4L605.1 42.0L604.1 42.0M673.9 47.0L673.2 47.4L672.8 47.9L672.4 48.5L672.0 49.1L671.8 49.9L671.5 50.6L671.2 51.4L671.1 52.2L671.0 53.1L671.0 54.1L671.0 55.1L671.2 55.9L671.2 56.9L671.5 57.6L671.8 58.4L672.0 59.1L672.5 59.6L672.9 60.2L673.4 60.8L674.1 61.0L675.1 61.0L675.8 60.6L676.2 60.1L676.6 59.5L677.0 58.9L677.2 58.1L677.5 57.4L677.8 56.6L677.9 55.8L678.0 54.9L678.0 53.9L678.0 52.9L677.8 52.1L677.8 51.1L677.5 50.4L677.2 49.6L677.0 48.9L676.5 48.4L676.1 47.8L675.6 47.2L674.9 47.0L673.9 47.0M518.9 48.5L518.1 48.8L517.1 48.8L516.2 48.9L515.4 49.0L515.0 49.6L515.0 50.6L515.0 51.6L514.8 52.4L514.8 53.4L514.8 54.4L514.8 55.4L514.8 56.4L514.8 57.4L514.8 58.4L515.0 59.1L515.0 60.1L515.0 61.1L515.1 62.0L515.2 62.9L515.2 63.9L515.5 64.6L515.8 65.4L516.0 66.1L516.2 66.9L516.5 67.6L516.8 68.4L517.0 69.1L517.2 69.9L517.5 70.6L517.8 71.4L518.0 72.1L518.4 72.8L518.8 73.4L519.0 74.1L519.4 74.8L519.8 75.4L520.0 76.1L520.4 76.8L520.8 77.4L521.0 78.1L521.4 78.8L521.8 79.4L522.1 80.0L522.5 80.6L522.9 81.2L523.2 81.9L523.6 82.5L524.0 83.1L524.2 83.9L524.8 84.4L525.0 85.1L525.2 85.9L525.5 86.6L525.8 87.4L526.0 88.1L526.2 88.9L526.5 89.6L526.8 90.4L527.0 91.1L527.2 91.9L527.4 92.8L527.5 93.6L527.8 94.4L528.0 95.1L528.0 96.1L528.2 96.9L528.5 97.6L528.5 98.6L528.8 99.4L529.0 100.1L529.0 101.1L529.2 101.9L529.4 102.8L529.5 103.6L529.8 104.4L529.9 105.2L530.0 106.1L530.2 106.9L530.5 107.6L530.8 108.4L531.0 109.1L531.2 109.9L531.5 110.6L531.8 111.4L532.1 112.0L532.6 112.5L533.1 113.0L533.8 113.4L534.2 113.9L534.9 114.2L535.4 114.8L536.0 115.1L536.5 115.6L537.1 116.0L538.0 116.1L538.9 116.2L539.9 116.2L540.6 116.5L541.6 116.5L542.4 116.8L543.4 116.8L544.1 117.0L545.1 117.0L546.1 117.0L546.9 116.8L547.9 116.8L548.8 116.6L549.6 116.5L550.6 116.5L551.4 116.2L552.4 116.2L553.4 116.2L554.1 116.0L555.1 116.0L555.6 115.5L556.2 115.1L556.9 114.8L557.5 114.4L558.1 114.0L558.6 113.5L559.2 113.1L559.9 112.8L560.5 112.4L561.0 111.9L561.2 111.1L561.5 110.4L561.8 109.6L562.0 108.9L562.2 108.1L562.5 107.4L562.8 106.6L563.0 105.9L563.2 105.1L563.5 104.4L563.5 103.4L563.5 102.4L563.5 101.4L563.5 100.4L563.5 99.4L563.5 98.4L563.5 97.4L563.5 96.4L563.5 95.4L563.5 94.4L563.5 93.4L563.5 92.4L563.5 91.4L563.2 90.6L563.0 89.9L563.0 88.9L562.8 88.1L562.6 87.2L562.5 86.4L562.2 85.6L562.1 84.8L562.0 83.9L561.6 83.2L561.2 82.6L561.0 81.9L560.6 81.2L560.2 80.6L560.0 79.9L559.6 79.2L559.2 78.6L559.0 77.9L558.5 77.4L558.1 76.8L557.8 76.1L557.4 75.5L557.0 74.9L556.5 74.4L556.1 73.8L555.8 73.1L555.4 72.5L555.0 71.9L554.5 71.4L554.0 70.9L553.6 70.2L553.1 69.8L552.8 69.1L552.2 68.6L551.9 68.0L551.4 67.5L550.9 67.0L550.4 66.5L549.8 66.1L549.2 65.6L548.6 65.2L548.1 64.8L547.5 64.4L546.9 64.0L546.1 63.8L545.4 63.5L544.6 63.2L543.9 63.0L543.1 63.2L542.5 63.6L541.9 64.0L541.1 64.2L540.6 64.8L539.9 65.0L539.1 64.8L538.5 64.4L537.8 64.1L537.2 63.6L536.9 63.0L536.4 62.5L536.0 61.9L535.6 61.2L535.2 60.6L534.8 60.1L534.4 59.5L533.9 59.0L533.4 58.5L532.9 58.0L532.2 57.6L531.8 57.1L531.1 56.8L530.6 56.2L530.0 55.9L529.5 55.4L528.9 55.0L528.4 54.5L527.9 54.0L527.2 53.6L526.8 53.1L526.1 52.8L525.6 52.2L525.0 51.9L524.5 51.4L523.9 51.0L523.4 50.5L522.6 50.2L522.1 49.8L521.5 49.4L520.9 49.0L520.2 48.6L519.4 48.5L518.9 48.5M424.1 55.0L424.9 55.2L425.9 55.2L426.6 55.5L427.6 55.5L428.4 55.2L429.4 55.2L430.1 55.0L431.0 54.9L431.4 54.2L431.8 53.6L432.0 52.9L432.4 52.2L432.8 51.6L433.0 50.9L433.4 50.2L433.5 49.4L433.8 48.6L433.8 47.6L434.0 46.9L434.0 45.9L434.1 45.0L434.2 44.1L434.2 43.1L434.5 42.4L434.5 41.4L434.5 40.4L434.2 39.6L434.2 38.6L434.2 37.6L434.2 36.6L434.2 35.6L434.0 34.9L434.0 33.9L434.0 32.9L433.8 32.1L433.4 31.5L433.1 30.8L432.8 30.1L432.5 29.4L432.2 28.6L431.9 28.0L431.2 27.6L430.6 27.2L429.9 27.0L429.2 26.6L428.6 26.2L427.9 26.0L427.1 26.2L426.4 26.5L425.5 26.6L424.6 26.8L424.1 27.0M702.9 70.2L702.2 69.9L701.6 69.5L701.1 69.0L700.5 68.6L699.9 68.2L699.2 67.9L698.6 67.5L698.1 67.0L697.5 66.6L697.0 66.1L696.5 65.6L696.0 65.1L695.4 64.8L694.9 64.2L694.4 63.8L693.9 63.2L693.4 62.8L692.6 62.5L691.9 62.2L691.1 62.0L690.4 61.8L689.6 61.5L688.9 61.2L688.1 61.0L687.4 61.2L686.5 61.4L685.6 61.5L684.9 61.8L684.1 62.0L683.8 62.6L683.5 63.4L683.2 64.1L683.0 64.9L682.8 65.6L682.5 66.4L682.2 67.1L682.2 68.1L682.0 68.9L682.0 69.9L681.8 70.6L681.8 71.6L681.5 72.4L681.5 73.4L681.5 74.4L681.5 75.4L681.2 76.1L681.2 77.1L681.2 78.1L681.2 79.1L681.2 80.1L681.2 81.1L681.1 82.0L681.0 82.9L681.0 83.9L681.0 84.9L681.0 85.9L681.2 86.6L681.2 87.6L681.2 88.6L681.5 89.4L681.5 90.4L681.6 91.2L681.8 92.1L681.8 93.1L682.0 93.9L682.0 94.9L682.2 95.6L682.4 96.5L682.5 97.4L682.8 98.1L683.0 98.9L683.2 99.6L683.4 100.5L683.5 101.4L683.8 102.1L684.0 102.9L684.4 103.5L684.9 104.0L685.4 104.5L685.9 105.0L686.4 105.5L686.9 106.0L687.4 106.5L687.9 107.0L688.4 107.5L688.8 108.1L689.2 108.6L689.6 109.2L690.1 109.8L690.5 110.4L691.0 110.9L691.4 111.5L691.8 112.1L692.2 112.6L692.5 113.4L692.5 114.4L692.2 115.1L692.2 116.1L692.2 117.1L692.2 118.1L692.0 118.9L692.0 119.9L692.0 120.9L692.0 121.9L692.2 122.6L692.2 123.6L692.2 124.6L692.2 125.6L692.2 126.6L692.5 127.4L692.5 128.4L692.6 129.2L693.1 129.8L693.5 130.4L694.0 130.9L694.4 131.5L694.8 132.1L695.2 132.6L695.6 133.2L696.1 133.8L696.5 134.4L697.0 134.9L697.6 135.2L698.6 135.2L699.4 135.5L700.1 135.8L701.0 135.9L701.9 136.0L702.6 136.2L702.9 136.2M537.8 71.4L538.4 71.5L538.9 72.0L539.2 72.6L539.8 73.1L540.2 73.6L540.6 74.2L541.0 74.9L541.4 75.5L541.8 76.1L542.1 76.8L542.5 77.4L542.9 78.0L543.2 78.6L543.6 79.2L543.9 80.0L544.2 80.6L544.5 81.4L544.8 82.1L545.0 82.9L545.4 83.5L545.8 84.1L546.0 84.9L546.0 85.9L546.2 86.6L546.2 87.6L546.2 88.6L546.5 89.4L546.4 90.2L546.0 90.9L545.6 91.5L545.2 92.1L545.0 92.9L544.6 93.5L544.2 94.1L543.8 94.6L543.1 95.0L542.4 95.2L541.6 95.5L541.0 95.9L540.2 96.1L539.6 96.5L538.9 96.2L538.1 96.0L537.4 95.8L536.6 95.5L535.9 95.2L535.1 95.0L534.8 94.4L534.4 93.8L534.0 93.1L533.8 92.4L533.4 91.8L533.0 91.1L532.8 90.4L532.5 89.6L532.5 88.6L532.8 87.9L532.8 86.9L532.8 85.9L533.0 85.1L533.0 84.1L533.2 83.4L533.5 82.6L533.8 81.9L534.0 81.1L534.2 80.4L534.5 79.6L534.8 78.9L535.0 78.1L535.2 77.4L535.5 76.6L535.8 75.9L536.0 75.1L536.2 74.4L536.6 73.8L537.0 73.1L537.2 72.4L537.6 71.8L537.8 71.4M567.1 77.5L566.4 77.8L565.9 78.2L565.2 78.6L564.8 79.1L564.5 79.9L564.2 80.6L564.0 81.4L564.2 82.1L564.5 82.9L564.8 83.6L565.2 84.1L565.8 84.6L566.4 85.0L567.1 85.2L567.9 85.5L568.8 85.4L569.6 85.2L570.4 85.0L570.9 84.5L571.4 84.0L571.9 83.5L572.2 82.9L572.5 82.1L572.5 81.1L572.2 80.4L572.0 79.6L571.6 79.0L571.1 78.5L570.6 78.0L569.9 77.8L569.1 77.5L568.1 77.5L567.1 77.5M641.9 79.8L641.4 80.2L640.9 80.8L640.5 81.4L640.1 82.0L639.8 82.6L639.6 83.5L639.5 84.4L639.2 85.1L639.2 86.1L639.2 87.1L639.2 88.1L639.2 89.1L639.2 90.1L639.4 91.0L639.5 91.9L639.6 92.8L639.8 93.6L640.0 94.4L640.2 95.1L640.5 95.9L640.8 96.6L641.0 97.4L641.2 98.1L641.5 98.9L641.9 99.5L642.2 100.1L642.6 100.8L643.1 101.2L643.5 101.9L644.0 102.4L644.6 102.8L645.2 103.1L646.1 103.2L647.1 103.2L647.6 102.8L648.1 102.2L648.5 101.6L648.9 101.0L649.2 100.4L649.4 99.5L649.5 98.6L649.8 97.9L649.8 96.9L649.8 95.9L649.8 94.9L649.8 93.9L649.8 92.9L649.6 92.0L649.5 91.1L649.4 90.2L649.2 89.4L649.0 88.6L648.8 87.9L648.5 87.1L648.2 86.4L648.0 85.6L647.8 84.9L647.5 84.1L647.1 83.5L646.8 82.9L646.4 82.2L645.9 81.8L645.5 81.1L645.0 80.6L644.4 80.2L643.8 79.9L642.9 79.8L641.9 79.8M618.6 85.0L618.1 85.5L617.8 86.1L617.2 86.6L616.8 87.1L616.4 87.8L615.9 88.2L615.4 88.8L615.0 89.4L614.5 89.9L614.0 90.4L613.6 91.0L613.2 91.6L612.9 92.2L612.5 92.9L612.1 93.5L611.8 94.1L611.2 94.6L610.9 95.2L610.5 95.9L610.1 96.5L609.8 97.1L609.2 97.6L608.8 98.1L608.2 98.6L607.8 99.1L607.2 99.6L606.8 100.1L606.2 100.6L605.8 101.1L605.2 101.6L604.8 102.1L604.2 102.6L603.8 103.1L603.2 103.6L602.8 104.1L602.1 104.5L601.6 105.0L601.1 105.5L600.5 105.9L600.0 106.4L599.4 106.8L598.9 107.2L598.4 107.8L597.9 108.2L597.4 108.8L596.9 109.2L596.5 109.9L596.0 110.4L595.5 110.9L595.0 111.4L594.6 112.0L594.1 112.5L593.6 113.0L593.2 113.6L592.8 114.1L592.2 114.6L591.9 115.2L591.5 115.9L591.1 116.5L590.8 117.1L590.2 117.6L590.0 118.4L589.5 118.9L589.1 119.5L588.8 120.1L588.4 120.8L588.0 121.4L587.6 122.0L587.2 122.6L586.9 123.2L586.4 123.8L586.0 124.4L585.5 124.9L585.1 125.5L584.8 126.1L584.2 126.6L583.9 127.2L583.4 127.8L583.0 128.4L582.5 128.9L582.1 129.5L581.8 130.1L581.2 130.6L580.8 131.1L580.2 131.6L579.8 132.1L579.1 132.5L578.6 133.0L578.1 133.5L577.5 133.9L577.0 134.4L576.4 134.8L575.9 135.2L575.4 135.8L574.9 136.2L574.4 136.8L574.0 137.4L573.5 137.9L573.0 138.4L572.6 139.0L572.1 139.5L571.8 140.1L571.2 140.6L571.0 141.4L571.2 142.1L571.5 142.9L571.6 143.8L571.8 144.6L572.0 145.4L572.2 146.1L572.4 147.0L572.8 147.6L573.4 148.0L573.9 148.5L574.5 148.9L575.1 149.2L575.6 149.8L576.2 150.1L576.9 150.5L577.4 151.0L578.0 151.4L578.6 151.8L579.4 152.0L580.1 152.2L581.0 152.4L581.9 152.5L582.6 152.8L583.5 152.9L584.4 153.0L585.1 153.2L586.1 153.2L586.9 153.5L587.6 153.8L588.6 153.8L589.4 154.0L590.1 154.2L591.1 154.2L591.9 154.5L592.9 154.5L593.9 154.5L594.6 154.8L595.6 154.8L596.6 154.8L597.6 154.8L598.6 154.8L599.5 154.9L600.4 155.0L601.4 155.0L602.4 155.0L603.4 155.0L604.4 155.0L605.1 155.2L606.1 155.2L607.1 155.2L608.1 155.2L609.1 155.2L609.9 155.5L610.9 155.5L611.9 155.5L612.9 155.5L613.9 155.5L614.6 155.2L615.6 155.2L616.6 155.2L617.6 155.2L618.4 155.0L619.4 155.0L620.4 155.0L621.4 155.0L622.1 154.8L623.1 154.8L624.1 154.8L625.1 154.8L626.0 154.6L626.9 154.5L627.9 154.5L628.5 154.1L629.1 153.8L629.8 153.4L630.2 152.9L630.9 152.5L631.5 152.1L632.1 151.8L632.6 151.2L633.2 150.9L633.9 150.5L634.4 150.0L634.8 149.4L634.8 148.4L635.0 147.6L635.2 146.9L635.2 145.9L635.5 145.1L635.8 144.4L635.8 143.4L636.0 142.6L636.2 141.9L636.2 140.9L636.5 140.1L636.5 139.1L636.8 138.4L636.8 137.4L637.0 136.6L637.0 135.6L637.2 134.9L637.2 133.9L637.4 133.0L637.5 132.1L637.5 131.1L637.8 130.4L637.8 129.4L638.0 128.6L638.0 127.6L638.1 126.8L638.2 125.9L638.2 124.9L638.5 124.1L638.5 123.1L638.5 122.1L638.8 121.4L638.8 120.4L638.8 119.4L639.0 118.6L639.0 117.6L638.9 116.8L638.8 115.9L638.8 114.9L638.5 114.1L638.5 113.1L638.5 112.1L638.2 111.4L638.2 110.4L638.0 109.6L638.0 108.6L637.6 108.0L637.2 107.4L636.8 106.9L636.4 106.2L636.0 105.6L635.5 105.1L635.1 104.5L634.8 103.9L634.2 103.4L633.9 102.8L633.4 102.2L632.9 101.8L632.5 101.1L632.0 100.6L631.5 100.1L631.1 99.5L630.6 99.0L630.1 98.5L629.8 97.9L629.2 97.4L628.8 96.9L628.4 96.2L627.9 95.8L627.5 95.1L627.0 94.6L626.6 94.0L626.1 93.5L625.8 92.9L625.2 92.4L624.8 91.9L624.4 91.2L624.0 90.6L623.5 90.1L623.0 89.6L622.6 89.0L622.1 88.5L621.6 88.0L621.1 87.5L620.6 87.0L620.1 86.5L619.6 86.0L619.1 85.5L618.6 85.0M491.1 95.0L490.8 95.6L490.6 96.5L490.5 97.4L490.2 98.1L490.0 98.9L489.8 99.6L489.6 100.5L489.5 101.4L489.5 102.4L489.4 103.2L489.2 104.1L489.2 105.1L489.2 106.1L489.2 107.1L489.0 107.9L489.0 108.9L489.0 109.9L489.0 110.9L489.1 111.8L489.2 112.6L489.2 113.6L489.2 114.6L489.5 115.4L489.5 116.4L489.8 117.1L490.2 117.6L490.8 118.1L491.4 118.5L491.9 119.0L492.4 119.5L492.9 120.0L493.6 119.8L494.5 119.6L495.4 119.5L496.1 119.2L496.9 119.0L497.2 118.4L497.5 117.6L497.8 116.9L498.1 116.2L498.4 115.5L498.8 114.9L499.0 114.1L498.8 113.4L498.6 112.5L498.5 111.6L498.2 110.9L498.0 110.1L497.8 109.4L497.6 108.5L497.4 107.8L497.1 107.0L496.8 106.4L496.5 105.6L496.2 104.9L496.0 104.1L495.6 103.5L495.2 102.9L495.0 102.1L494.8 101.4L494.6 100.5L494.5 99.6L494.2 98.9L494.0 98.1L493.8 97.4L493.6 96.5L493.2 95.9L492.5 95.6L491.9 95.2L491.1 95.0M424.1 97.5L425.1 97.5L425.6 97.0L426.2 96.6L426.6 96.0L427.0 95.4L427.4 94.8L427.6 94.0L427.9 93.2L428.1 92.5L428.2 91.6L428.5 90.9L428.8 90.1L428.8 89.1L429.0 88.4L429.0 87.4L429.0 86.4L429.0 85.4L429.0 84.4L429.0 83.4L429.0 82.4L429.0 81.4L428.9 80.5L428.8 79.6L428.6 78.8L428.5 77.9L428.2 77.1L428.0 76.4L427.8 75.6L427.5 74.9L427.2 74.1L427.0 73.4L426.5 72.9L426.1 72.2L425.5 71.9L424.9 71.5L424.1 71.5M534.4 132.0L533.6 132.2L532.6 132.2L531.9 132.5L531.0 132.6L530.1 132.8L529.2 132.9L528.4 133.0L527.6 133.2L526.6 133.2L525.9 133.5L524.9 133.5L524.1 133.8L523.1 133.8L522.4 134.0L521.6 134.2L520.9 134.5L520.2 134.9L519.6 135.2L518.9 135.5L518.2 135.9L517.6 136.2L516.9 136.5L516.2 136.9L515.6 137.2L514.9 137.5L514.2 137.9L513.6 138.2L512.9 138.5L512.2 138.9L511.8 139.4L511.4 140.0L511.0 140.6L510.5 141.1L510.1 141.8L509.8 142.4L509.4 143.0L509.0 143.6L508.5 144.1L508.1 144.8L507.8 145.4L507.4 146.0L507.0 146.6L506.5 147.1L506.1 147.8L506.0 148.6L506.0 149.6L505.8 150.4L505.8 151.4L505.8 152.4L505.6 153.2L505.5 154.1L505.5 155.1L505.5 156.1L505.2 156.9L505.2 157.9L505.2 158.9L505.2 159.9L505.0 160.6L505.0 161.6L505.4 162.2L505.9 162.8L506.4 163.2L506.9 163.8L507.4 164.2L507.9 164.8L508.4 165.2L509.0 165.6L509.5 166.1L510.0 166.6L510.5 167.1L511.0 167.6L511.5 168.1L512.1 168.5L512.9 168.8L513.6 169.0L514.5 169.1L515.4 169.2L516.1 169.5L516.9 169.8L517.6 170.0L518.5 170.1L519.4 170.2L520.1 170.5L520.9 170.8L521.6 171.0L522.5 171.1L523.4 171.2L524.1 171.5L524.9 171.2L525.8 171.1L526.6 171.0L527.4 170.8L528.1 170.5L529.0 170.4L529.9 170.2L530.6 170.0L531.4 169.8L532.2 169.6L533.1 169.5L533.9 169.2L534.6 169.0L535.4 168.8L535.9 168.2L536.4 167.8L536.9 167.2L537.5 166.9L538.0 166.4L538.5 165.9L539.1 165.5L539.6 165.0L540.1 164.5L540.6 164.0L541.2 163.6L541.8 163.1L542.2 162.6L542.8 162.1L543.2 161.6L543.6 161.0L544.1 160.5L544.5 159.9L544.9 159.2L545.2 158.6L545.8 158.1L546.1 157.5L546.5 156.9L547.0 156.4L547.4 155.8L547.8 155.1L548.2 154.6L548.6 154.0L549.0 153.4L549.5 152.9L549.9 152.2L550.2 151.6L550.8 151.1L551.1 150.5L551.6 150.0L552.1 149.5L552.5 148.9L553.0 148.4L553.4 147.8L553.9 147.2L554.2 146.6L554.8 146.1L555.2 145.6L555.6 145.0L556.1 144.5L556.5 143.9L556.5 142.9L556.4 142.0L556.2 141.1L556.2 140.1L556.2 139.1L556.2 138.1L556.0 137.4L556.0 136.4L555.6 135.8L554.9 135.5L554.2 135.1L553.6 134.8L552.9 134.5L552.2 134.1L551.6 133.8L550.9 133.5L550.2 133.1L549.6 132.8L548.9 132.5L548.2 132.1L547.4 132.0L546.4 132.0L545.4 132.0L544.4 132.0L543.4 132.0L542.4 132.0L541.4 132.0L540.4 132.0L539.4 132.0L538.4 132.0L537.4 132.0L536.4 132.0L535.4 132.0L534.4 132.0M424.1 146.0L424.9 146.2L425.9 146.2L426.9 146.2L427.9 146.2L428.6 146.5L429.6 146.5L430.6 146.5L431.6 146.5L432.6 146.5L433.4 146.8L434.4 146.8L435.4 146.8L436.4 146.8L437.4 146.8L438.2 146.9L439.1 147.0L440.1 147.0L441.1 147.0L442.1 147.0L443.1 147.0L444.0 146.9L444.9 146.8L445.9 146.8L446.9 146.8L447.9 146.8L448.9 146.8L449.9 146.8L450.6 146.5L451.6 146.5L452.6 146.5L453.2 146.1L453.6 145.5L454.0 144.9L454.2 144.1L454.6 143.5L455.0 142.9L455.4 142.2L455.2 141.6L454.8 141.1L454.4 140.5L453.9 140.0L453.5 139.4L453.0 138.9L452.6 138.2L452.1 137.8L451.8 137.1L451.2 136.6L450.9 136.0L450.4 135.5L449.9 135.0L449.4 134.5L448.8 134.1L448.2 133.6L447.6 133.2L447.1 132.8L446.5 132.4L445.9 132.0L445.4 131.5L444.8 131.1L444.2 130.6L443.6 130.2L443.1 129.8L442.5 129.4L441.9 129.0L441.2 128.6L440.6 128.2L439.9 128.0L439.2 127.6L438.6 127.2L437.9 127.0L437.2 126.6L436.6 126.2L435.9 126.0L435.2 125.6L434.6 125.2L433.9 125.0L433.2 124.6L432.6 124.2L431.9 124.0L431.0 123.9L430.1 123.8L429.1 123.8L428.4 123.5L427.4 123.5L426.5 123.4L425.6 123.2L424.6 123.2L424.1 123.0M702.9 174.0L701.9 174.0L700.9 174.0L699.9 174.0L698.9 174.0L698.1 173.8L697.1 173.8L696.1 173.8L695.1 173.8L694.1 173.8L693.1 173.8L692.1 173.8L691.1 173.8L690.1 173.8L689.1 173.8L688.1 173.8L687.1 173.8L686.2 173.6L685.4 173.5L684.4 173.5L683.4 173.5L682.4 173.5L681.4 173.5L680.4 173.5L679.4 173.5L678.6 173.2L677.6 173.2L676.9 173.0L675.9 173.0L675.1 172.8L674.2 172.6L673.4 172.5L672.5 172.4L671.6 172.2L670.8 172.1L669.9 172.0L669.1 171.8L668.1 171.8L667.4 171.5L666.4 171.5L665.6 171.2L664.6 171.2L663.9 171.0L662.9 171.0L662.1 170.8L661.1 170.8L660.4 170.5L659.4 170.5L658.6 170.2L657.6 170.2L656.9 170.0L655.9 170.0L655.0 169.9L654.1 169.8L653.1 169.8L652.4 169.5L651.4 169.5L650.6 169.2L649.6 169.2L648.9 169.0L647.9 169.0L647.0 168.9L646.1 168.8L645.1 168.8L644.4 168.5L643.4 168.5L642.6 168.2L641.6 168.2L640.9 168.0L639.9 168.0L638.9 168.0L637.9 168.0L636.9 168.0L635.9 168.0L635.0 168.1L634.1 168.2L633.1 168.2L632.1 168.2L631.1 168.2L630.1 168.2L629.1 168.2L628.1 168.2L627.1 168.2L626.1 168.2L625.1 168.2L624.4 168.5L623.4 168.5L622.4 168.5L621.4 168.5L620.4 168.5L619.4 168.5L618.4 168.5L617.5 168.6L616.6 168.8L615.6 168.8L614.6 168.8L613.6 168.8L612.6 168.8L611.9 169.0L610.9 169.0L609.9 169.0L608.9 169.0L607.9 169.0L607.1 169.2L606.1 169.2L605.1 169.2L604.1 169.2L603.1 169.2L602.4 169.5L601.4 169.5L600.4 169.5L599.4 169.5L598.6 169.8L597.6 169.8L596.6 169.8L595.9 170.0L594.9 170.0L593.9 170.0L593.1 170.2L592.1 170.2L591.2 170.4L590.4 170.5L589.4 170.5L588.6 170.8L587.6 170.8L586.6 170.8L585.9 171.0L584.9 171.0L583.9 171.0L583.1 171.2L582.1 171.2L581.2 171.4L580.4 171.5L579.6 171.8L578.9 172.0L578.1 172.2L577.4 172.5L576.6 172.8L575.9 173.0L575.1 173.2L574.4 173.5L573.8 173.9L573.0 174.1L572.2 174.4L571.8 174.9L571.4 175.5L571.0 176.1L570.5 176.6L570.1 177.2L569.8 177.9L569.4 178.5L569.0 179.1L568.5 179.6L568.1 180.2L568.2 180.9L568.5 181.6L568.9 182.2L569.2 182.9L569.5 183.6L569.9 184.2L570.5 184.6L571.4 184.8L572.1 185.0L572.9 185.2L573.6 185.5L574.5 185.6L575.4 185.8L576.1 186.0L576.9 186.2L577.6 186.5L578.5 186.6L579.4 186.8L580.1 187.0L581.1 187.0L581.9 187.2L582.9 187.2L583.8 187.4L584.6 187.5L585.6 187.5L586.4 187.8L587.4 187.8L588.4 187.8L589.1 188.0L590.1 188.0L591.1 188.0L591.9 188.2L592.9 188.2L593.8 188.4L594.6 188.5L595.6 188.5L596.4 188.8L597.4 188.8L598.1 189.0L599.1 189.0L599.9 189.2L600.8 189.4L601.6 189.5L602.5 189.6L603.4 189.8L604.2 189.9L605.0 190.1L605.4 190.8L605.8 191.4L606.0 192.1L606.4 192.8L606.8 193.4L607.0 194.1L607.4 194.8L607.0 195.1L606.1 195.2L605.4 195.5L604.6 195.8L603.9 196.0L603.1 196.2L602.2 196.4L601.5 196.6L600.6 196.8L599.9 197.0L599.0 197.1L598.1 197.2L597.2 197.4L596.4 197.5L595.4 197.5L594.6 197.8L593.6 197.8L592.9 198.0L591.9 198.0L591.1 198.2L590.1 198.2L589.4 198.5L588.4 198.5L587.6 198.8L586.6 198.8L585.9 199.0L584.9 199.0L583.9 199.0L582.9 199.0L582.1 199.2L581.1 199.2L580.1 199.2L579.1 199.2L578.1 199.2L577.4 199.5L576.4 199.5L575.4 199.5L574.4 199.5L573.4 199.5L572.5 199.6L571.6 199.8L570.6 199.8L569.6 199.8L568.6 199.8L567.6 199.8L566.9 200.0L565.9 200.0L564.9 200.0L564.1 200.2L563.1 200.2L562.4 200.5L561.4 200.5L560.6 200.8L559.8 200.9L558.9 201.0L558.1 201.2L557.1 201.2L556.4 201.5L556.8 201.9L557.4 202.2L558.0 202.6L558.6 203.0L559.2 203.4L559.9 203.8L560.5 204.1L561.1 204.5L561.8 204.9L562.4 205.2L563.0 205.6L563.6 206.0L564.2 206.4L564.9 206.8L565.5 207.1L566.1 207.5L566.6 208.0L567.4 208.2L567.9 208.8L568.5 209.1L569.1 209.5L569.8 209.9L570.4 210.2L571.0 210.6L571.6 211.0L572.1 211.5L572.8 211.9L573.4 212.2L573.9 212.8L574.5 213.1L575.1 213.5L575.8 213.9L576.2 214.4L576.9 214.8L577.5 215.1L577.4 215.5L576.4 215.5L575.4 215.5L574.4 215.5L573.4 215.5L572.4 215.5L571.4 215.5L570.4 215.5L569.4 215.5L568.5 215.6L567.6 215.8L566.6 215.8L565.6 215.8L564.6 215.8L563.6 215.8L562.6 215.8L561.6 215.8L560.6 215.8L559.6 215.8L558.6 215.8L557.6 215.8L556.6 215.8L555.6 215.8L554.6 215.8L553.6 215.8L552.6 215.8L551.6 215.8L550.6 215.8L549.6 215.8L548.9 216.0L547.9 216.0L546.9 216.0L545.9 216.0L544.9 216.0L543.9 216.0L542.9 216.0L541.9 216.0L540.9 216.0L539.9 216.0L538.9 216.0L537.9 216.0L536.9 216.0L535.9 216.0L535.0 215.9L534.1 215.8L533.1 215.8L532.1 215.8L531.1 215.8L530.1 215.8L529.1 215.8L528.1 215.8L527.1 215.8L526.1 215.8L525.1 215.8L524.4 215.5L523.4 215.5L522.4 215.5L521.4 215.5L520.4 215.5L519.4 215.5L518.4 215.5L517.4 215.5L516.4 215.5L515.4 215.5L514.6 215.2L513.6 215.2L512.6 215.2L511.6 215.2L510.6 215.2L509.6 215.2L508.6 215.2L507.6 215.2L506.6 215.2L505.6 215.2L504.9 215.0L503.9 215.0L502.9 215.0L501.9 215.0L500.9 215.0L499.9 215.0L498.9 215.0L497.9 215.0L496.9 215.0L495.9 215.0L494.9 215.0L493.9 215.0L492.9 215.0L491.9 215.0L490.9 215.0L489.9 215.0L488.9 215.0L487.9 215.0L487.1 214.8L486.1 214.8L485.1 214.8L484.1 214.8L483.1 214.8L482.1 214.8L481.1 214.8L480.1 214.8L479.1 214.8L478.1 214.8L477.1 214.8L476.1 214.8L475.1 214.8L474.1 214.8L473.1 214.8L472.1 214.8L471.1 214.8L470.1 214.8L469.1 214.8L468.1 214.8L467.1 214.8L466.1 214.8L465.1 214.8L464.1 214.8L463.1 214.8L462.4 214.5L461.4 214.5L460.4 214.5L459.4 214.5L458.4 214.5L457.4 214.5L456.4 214.5L455.4 214.5L454.4 214.5L453.4 214.5L452.4 214.5L451.4 214.5L450.4 214.5L449.4 214.5L448.4 214.5L447.4 214.5L446.4 214.5L445.4 214.5L444.4 214.5L443.4 214.5L442.6 214.2L441.6 214.2L440.6 214.2L439.6 214.2L438.6 214.2L437.6 214.2L436.6 214.2L435.6 214.2L434.6 214.2L433.6 214.2L432.6 214.2L431.6 214.2L430.6 214.2L429.8 214.1L428.9 214.0L427.9 214.0L426.9 214.0L425.9 214.0L424.9 214.0L424.1 214.0M424.1 195.5L424.9 195.2L425.9 195.2L426.9 195.2L427.6 195.0L428.6 195.0L429.6 195.0L430.4 194.8L431.4 194.8L432.4 194.8L433.1 194.5L434.1 194.5L435.1 194.5L435.9 194.2L436.9 194.2L437.9 194.2L438.6 194.0L439.6 194.0L440.6 194.0L441.4 193.8L442.1 193.5L443.1 193.5L443.9 193.2L444.6 193.0L445.6 193.0L446.4 192.8L447.1 192.5L448.1 192.5L448.9 192.2L449.8 192.1L450.6 192.0L451.4 191.8L452.2 191.6L453.1 191.5L453.9 191.2L454.8 191.1L454.1 190.8L453.2 190.6L452.4 190.5L451.6 190.2L450.6 190.2L449.9 190.0L448.9 190.0L448.1 189.8L447.1 189.8L446.4 189.5L445.5 189.4L444.6 189.2L443.9 189.0L442.9 189.0L442.1 188.8L441.1 188.8L440.4 188.5L439.4 188.5L438.4 188.5L437.6 188.2L436.6 188.2L435.6 188.2L434.6 188.2L433.8 188.1L432.9 188.0L431.9 188.0L430.9 188.0L429.9 188.0L429.1 187.8L428.1 187.8L427.1 187.8L426.1 187.8L425.2 187.6L424.4 187.5L424.1 187.5" fill="none" stroke="#000" stroke-width="1.7" stroke-linejoin="round"/>
<path d="M424.0 1.0L425.0 1.0L426.0 1.0L427.0 25.3L428.0 43.2L429.0 57.0L430.0 68.3L431.0 77.9L432.0 86.2L433.0 93.5L434.0 100.0L435.0 105.9L436.0 111.3L437.0 116.3L438.0 120.9L439.0 125.2L440.0 129.2L441.0 132.9L442.0 136.5L443.0 139.8L444.0 143.0L445.0 146.1L446.0 148.9L447.0 151.7L448.0 154.3L449.0 156.9L450.0 159.3L451.0 161.6L452.0 163.9L453.0 166.1L454.0 168.2L455.0 170.2L456.0 172.2L457.0 174.1L458.0 175.9L459.0 177.7L460.0 179.5L461.0 181.2L462.0 182.8L463.0 184.5L464.0 186.0L465.0 187.6L466.0 189.1L467.0 190.5L468.0 191.9L469.0 193.3L470.0 194.7L471.0 196.0L472.0 197.3L473.0 198.6L474.0 199.9L475.0 201.1L476.0 202.3L477.0 203.5L478.0 204.6L479.0 205.8L480.0 206.9L481.0 208.0L482.0 209.1L483.0 210.1L484.0 211.2L485.0 212.2L486.0 213.2L487.0 214.2L488.0 215.2L489.0 216.1L490.0 217.1L491.0 218.0L492.0 218.9L493.0 219.9L494.0 220.7L495.0 221.6L496.0 222.5L497.0 223.3L498.0 224.2L499.0 225.0L500.0 225.8L501.0 226.7L502.0 227.5L503.0 228.2L504.0 229.0L505.0 229.8L506.0 230.6L507.0 231.3L508.0 232.1L509.0 232.8L510.0 233.5L511.0 234.2L512.0 234.9L513.0 235.6L514.0 236.3L515.0 237.0L516.0 237.7L517.0 238.4L518.0 239.0L519.0 239.7L520.0 240.3L521.0 241.0L522.0 241.6L523.0 242.2L524.0 242.9L525.0 243.5L526.0 244.1L527.0 244.7L528.0 245.3L529.0 245.9L530.0 246.5L531.0 247.1L532.0 247.6L533.0 248.2L534.0 248.8L535.0 249.3L536.0 249.9L537.0 250.5L538.0 251.0L539.0 251.5L540.0 252.1L541.0 252.6L542.0 253.1L543.0 253.7L544.0 254.2L545.0 254.7L546.0 255.2L547.0 255.7L548.0 256.2L549.0 256.7L550.0 257.2L551.0 257.7L552.0 258.2L553.0 258.7L554.0 259.1L555.0 259.6L556.0 260.1L557.0 260.6L558.0 261.0L559.0 261.5L560.0 261.9L561.0 262.4L562.0 262.9L563.0 263.0L564.0 263.0L565.0 262.9L566.0 262.4L567.0 261.9L568.0 261.5L569.0 261.0L570.0 260.6L571.0 260.1L572.0 259.6L573.0 259.1L574.0 258.7L575.0 258.2L576.0 257.7L577.0 257.2L578.0 256.7L579.0 256.2L580.0 255.7L581.0 255.2L582.0 254.7L583.0 254.2L584.0 253.7L585.0 253.1L586.0 252.6L587.0 252.1L588.0 251.5L589.0 251.0L590.0 250.5L591.0 249.9L592.0 249.3L593.0 248.8L594.0 248.2L595.0 247.6L596.0 247.1L597.0 246.5L598.0 245.9L599.0 245.3L600.0 244.7L601.0 244.1L602.0 243.5L603.0 242.9L604.0 242.2L605.0 241.6L606.0 241.0L607.0 240.3L608.0 239.7L609.0 239.0L610.0 238.4L611.0 237.7L612.0 237.0L613.0 236.3L614.0 235.6L615.0 234.9L616.0 234.2L617.0 233.5L618.0 232.8L619.0 232.1L620.0 231.3L621.0 230.6L622.0 229.8L623.0 229.0L624.0 228.2L625.0 227.5L626.0 226.7L627.0 225.8L628.0 225.0L629.0 224.2L630.0 223.3L631.0 222.5L632.0 221.6L633.0 220.7L634.0 219.9L635.0 218.9L636.0 218.0L637.0 217.1L638.0 216.1L639.0 215.2L640.0 214.2L641.0 213.2L642.0 212.2L643.0 211.2L644.0 210.1L645.0 209.1L646.0 208.0L647.0 206.9L648.0 205.8L649.0 204.6L650.0 203.5L651.0 202.3L652.0 201.1L653.0 199.9L654.0 198.6L655.0 197.3L656.0 196.0L657.0 194.7L658.0 193.3L659.0 191.9L660.0 190.5L661.0 189.1L662.0 187.6L663.0 186.0L664.0 184.5L665.0 182.8L666.0 181.2L667.0 179.5L668.0 177.7L669.0 175.9L670.0 174.1L671.0 172.2L672.0 170.2L673.0 168.2L674.0 166.1L675.0 163.9L676.0 161.6L677.0 159.3L678.0 156.9L679.0 154.3L680.0 151.7L681.0 148.9L682.0 146.1L683.0 143.0L684.0 139.8L685.0 136.5L686.0 132.9L687.0 129.2L688.0 125.2L689.0 120.9L690.0 116.3L691.0 111.3L692.0 105.9L693.0 100.0L694.0 93.5L695.0 86.2L696.0 77.9L697.0 68.3L698.0 57.0L699.0 43.2L700.0 25.3L701.0 1.0L702.0 1.0L703.0 1.0" fill="none" stroke="#000" stroke-width="1.3" stroke-dasharray="4.5 3.5"/>
</g>
<rect x="424.3" y="3.3" width="278.4" height="257.6" fill="none" stroke="#666" stroke-width="0.7"/>
<rect x="325.0" y="256.98" width="24.5" height="4.32" fill="#2a2e82"/>
<rect x="325.0" y="252.95" width="24.5" height="4.32" fill="#2b3186"/>
<rect x="325.0" y="248.93" width="24.5" height="4.32" fill="#2b348a"/>
<rect x="325.0" y="244.91" width="24.5" height="4.32" fill="#2c368f"/>
<rect x="325.0" y="240.88" width="24.5" height="4.32" fill="#2c3993"/>
<rect x="325.0" y="236.86" width="24.5" height="4.32" fill="#2d3d97"/>
<rect x="325.0" y="232.84" width="24.5" height="4.32" fill="#2d409b"/>
<rect x="325.0" y="228.81" width="24.5" height="4.32" fill="#2e439f"/>
<rect x="325.0" y="224.79" width="24.5" height="4.32" fill="#2f47a2"/>
<rect x="325.0" y="220.77" width="24.5" height="4.32" fill="#304ba4"/>
<rect x="325.0" y="216.74" width="24.5" height="4.32" fill="#314fa7"/>
<rect x="325.0" y="212.72" width="24.5" height="4.32" fill="#3253a9"/>
<rect x="325.0" y="208.70" width="24.5" height="4.32" fill="#3457ab"/>
<rect x="325.0" y="204.67" width="24.5" height="4.32" fill="#345daf"/>
<rect x="325.0" y="200.65" width="24.5" height="4.32" fill="#3464b4"/>
<rect x="325.0" y="196.62" width="24.5" height="4.32" fill="#356bb8"/>
<rect x="325.0" y="192.60" width="24.5" height="4.32" fill="#3572bd"/>
<rect x="325.0" y="188.58" width="24.5" height="4.32" fill="#357ac2"/>
<rect x="325.0" y="184.55" width="24.5" height="4.32" fill="#3385c9"/>
<rect x="325.0" y="180.53" width="24.5" height="4.32" fill="#3290d0"/>
<rect x="325.0" y="176.51" width="24.5" height="4.32" fill="#309cd7"/>
<rect x="325.0" y="172.48" width="24.5" height="4.32" fill="#32a6dd"/>
<rect x="325.0" y="168.46" width="24.5" height="4.32" fill="#3baee1"/>
<rect x="325.0" y="164.44" width="24.5" height="4.32" fill="#43b7e4"/>
<rect x="325.0" y="160.41" width="24.5" height="4.32" fill="#50bbde"/>
<rect x="325.0" y="156.39" width="24.5" height="4.32" fill="#5cbed5"/>
<rect x="325.0" y="152.37" width="24.5" height="4.32" fill="#69c1cb"/>
<rect x="325.0" y="148.34" width="24.5" height="4.32" fill="#74c3ba"/>
<rect x="325.0" y="144.32" width="24.5" height="4.32" fill="#7ec5a3"/>
<rect x="325.0" y="140.30" width="24.5" height="4.32" fill="#88c68b"/>
<rect x="325.0" y="136.27" width="24.5" height="4.32" fill="#91c877"/>
<rect x="325.0" y="132.25" width="24.5" height="4.32" fill="#98ca65"/>
<rect x="325.0" y="128.23" width="24.5" height="4.32" fill="#9fcc53"/>
<rect x="325.0" y="124.20" width="24.5" height="4.32" fill="#a8ce43"/>
<rect x="325.0" y="120.18" width="24.5" height="4.32" fill="#b6d33b"/>
<rect x="325.0" y="116.16" width="24.5" height="4.32" fill="#c4d732"/>
<rect x="325.0" y="112.13" width="24.5" height="4.32" fill="#d2dc2a"/>
<rect x="325.0" y="108.11" width="24.5" height="4.32" fill="#dfe125"/>
<rect x="325.0" y="104.09" width="24.5" height="4.32" fill="#ece620"/>
<rect x="325.0" y="100.06" width="24.5" height="4.32" fill="#f9eb1b"/>
<rect x="325.0" y="96.04" width="24.5" height="4.32" fill="#fbe119"/>
<rect x="325.0" y="92.02" width="24.5" height="4.32" fill="#fcd419"/>
<rect x="325.0" y="87.99" width="24.5" height="4.32" fill="#fcc718"/>
<rect x="325.0" y="83.97" width="24.5" height="4.32" fill="#fbb919"/>
<rect x="325.0" y="79.95" width="24.5" height="4.32" fill="#f9ab1b"/>
<rect x="325.0" y="75.92" width="24.5" height="4.32" fill="#f89c1c"/>
<rect x="325.0" y="71.90" width="24.5" height="4.32" fill="#f68f1e"/>
<rect x="325.0" y="67.88" width="24.5" height="4.32" fill="#f5831f"/>
<rect x="325.0" y="63.85" width="24.5" height="4.32" fill="#f47620"/>
<rect x="325.0" y="59.83" width="24.5" height="4.32" fill="#f36a21"/>
<rect x="325.0" y="55.80" width="24.5" height="4.32" fill="#f05b23"/>
<rect x="325.0" y="51.78" width="24.5" height="4.32" fill="#ed4924"/>
<rect x="325.0" y="47.76" width="24.5" height="4.32" fill="#ea3825"/>
<rect x="325.0" y="43.73" width="24.5" height="4.32" fill="#e72727"/>
<rect x="325.0" y="39.71" width="24.5" height="4.32" fill="#e22227"/>
<rect x="325.0" y="35.69" width="24.5" height="4.32" fill="#dd2127"/>
<rect x="325.0" y="31.66" width="24.5" height="4.32" fill="#d82127"/>
<rect x="325.0" y="27.64" width="24.5" height="4.32" fill="#d32027"/>
<rect x="325.0" y="23.62" width="24.5" height="4.32" fill="#c31f25"/>
<rect x="325.0" y="19.59" width="24.5" height="4.32" fill="#b31d23"/>
<rect x="325.0" y="15.57" width="24.5" height="4.32" fill="#a31b21"/>
<rect x="325.0" y="11.55" width="24.5" height="4.32" fill="#961a1e"/>
<rect x="325.0" y="7.52" width="24.5" height="4.32" fill="#8b191c"/>
<rect x="325.0" y="3.50" width="24.5" height="4.32" fill="#80181a"/>
<rect x="325.0" y="3.5" width="24.5" height="257.5" fill="none" stroke="#555" stroke-width="0.8"/>
<rect x="719.2" y="256.48" width="24.5" height="4.32" fill="#2a2e82"/>
<rect x="719.2" y="252.47" width="24.5" height="4.32" fill="#2b3186"/>
<rect x="719.2" y="248.45" width="24.5" height="4.32" fill="#2b348a"/>
<rect x="719.2" y="244.44" width="24.5" height="4.32" fill="#2c368f"/>
<rect x="719.2" y="240.42" width="24.5" height="4.32" fill="#2c3993"/>
<rect x="719.2" y="236.41" width="24.5" height="4.32" fill="#2d3d97"/>
<rect x="719.2" y="232.39" width="24.5" height="4.32" fill="#2d409b"/>
<rect x="719.2" y="228.38" width="24.5" height="4.32" fill="#2e439f"/>
<rect x="719.2" y="224.36" width="24.5" height="4.32" fill="#2f47a2"/>
<rect x="719.2" y="220.34" width="24.5" height="4.32" fill="#304ba4"/>
<rect x="719.2" y="216.33" width="24.5" height="4.32" fill="#314fa7"/>
<rect x="719.2" y="212.31" width="24.5" height="4.32" fill="#3253a9"/>
<rect x="719.2" y="208.30" width="24.5" height="4.32" fill="#3457ab"/>
<rect x="719.2" y="204.28" width="24.5" height="4.32" fill="#345daf"/>
<rect x="719.2" y="200.27" width="24.5" height="4.32" fill="#3464b4"/>
<rect x="719.2" y="196.25" width="24.5" height="4.32" fill="#356bb8"/>
<rect x="719.2" y="192.23" width="24.5" height="4.32" fill="#3572bd"/>
<rect x="719.2" y="188.22" width="24.5" height="4.32" fill="#357ac2"/>
<rect x="719.2" y="184.20" width="24.5" height="4.32" fill="#3385c9"/>
<rect x="719.2" y="180.19" width="24.5" height="4.32" fill="#3290d0"/>
<rect x="719.2" y="176.17" width="24.5" height="4.32" fill="#309cd7"/>
<rect x="719.2" y="172.16" width="24.5" height="4.32" fill="#32a6dd"/>
<rect x="719.2" y="168.14" width="24.5" height="4.32" fill="#3baee1"/>
<rect x="719.2" y="164.12" width="24.5" height="4.32" fill="#43b7e4"/>
<rect x="719.2" y="160.11" width="24.5" height="4.32" fill="#50bbde"/>
<rect x="719.2" y="156.09" width="24.5" height="4.32" fill="#5cbed5"/>
<rect x="719.2" y="152.08" width="24.5" height="4.32" fill="#69c1cb"/>
<rect x="719.2" y="148.06" width="24.5" height="4.32" fill="#74c3ba"/>
<rect x="719.2" y="144.05" width="24.5" height="4.32" fill="#7ec5a3"/>
<rect x="719.2" y="140.03" width="24.5" height="4.32" fill="#88c68b"/>
<rect x="719.2" y="136.02" width="24.5" height="4.32" fill="#91c877"/>
<rect x="719.2" y="132.00" width="24.5" height="4.32" fill="#98ca65"/>
<rect x="719.2" y="127.98" width="24.5" height="4.32" fill="#9fcc53"/>
<rect x="719.2" y="123.97" width="24.5" height="4.32" fill="#a8ce43"/>
<rect x="719.2" y="119.95" width="24.5" height="4.32" fill="#b6d33b"/>
<rect x="719.2" y="115.94" width="24.5" height="4.32" fill="#c4d732"/>
<rect x="719.2" y="111.92" width="24.5" height="4.32" fill="#d2dc2a"/>
<rect x="719.2" y="107.91" width="24.5" height="4.32" fill="#dfe125"/>
<rect x="719.2" y="103.89" width="24.5" height="4.32" fill="#ece620"/>
<rect x="719.2" y="99.88" width="24.5" height="4.32" fill="#f9eb1b"/>
<rect x="719.2" y="95.86" width="24.5" height="4.32" fill="#fbe119"/>
<rect x="719.2" y="91.84" width="24.5" height="4.32" fill="#fcd419"/>
<rect x="719.2" y="87.83" width="24.5" height="4.32" fill="#fcc718"/>
<rect x="719.2" y="83.81" width="24.5" height="4.32" fill="#fbb919"/>
<rect x="719.2" y="79.80" width="24.5" height="4.32" fill="#f9ab1b"/>
<rect x="719.2" y="75.78" width="24.5" height="4.32" fill="#f89c1c"/>
<rect x="719.2" y="71.77" width="24.5" height="4.32" fill="#f68f1e"/>
<rect x="719.2" y="67.75" width="24.5" height="4.32" fill="#f5831f"/>
<rect x="719.2" y="63.73" width="24.5" height="4.32" fill="#f47620"/>
<rect x="719.2" y="59.72" width="24.5" height="4.32" fill="#f36a21"/>
<rect x="719.2" y="55.70" width="24.5" height="4.32" fill="#f05b23"/>
<rect x="719.2" y="51.69" width="24.5" height="4.32" fill="#ed4924"/>
<rect x="719.2" y="47.67" width="24.5" height="4.32" fill="#ea3825"/>
<rect x="719.2" y="43.66" width="24.5" height="4.32" fill="#e72727"/>
<rect x="719.2" y="39.64" width="24.5" height="4.32" fill="#e22227"/>
<rect x="719.2" y="35.62" width="24.5" height="4.32" fill="#dd2127"/>
<rect x="719.2" y="31.61" width="24.5" height="4.32" fill="#d82127"/>
<rect x="719.2" y="27.59" width="24.5" height="4.32" fill="#d32027"/>
<rect x="719.2" y="23.58" width="24.5" height="4.32" fill="#c31f25"/>
<rect x="719.2" y="19.56" width="24.5" height="4.32" fill="#b31d23"/>
<rect x="719.2" y="15.55" width="24.5" height="4.32" fill="#a31b21"/>
<rect x="719.2" y="11.53" width="24.5" height="4.32" fill="#961a1e"/>
<rect x="719.2" y="7.52" width="24.5" height="4.32" fill="#8b191c"/>
<rect x="719.2" y="3.50" width="24.5" height="4.32" fill="#80181a"/>
<rect x="719.2" y="3.5" width="24.5" height="257.0" fill="none" stroke="#555" stroke-width="0.8"/>
<path d="M325 18.4h2.5M349.5 18.4h-2.5" stroke="#222" stroke-width="0.8"/>
<text x="352.3" y="22.5">64</text>
<path d="M325 37.5h2.5M349.5 37.5h-2.5" stroke="#222" stroke-width="0.8"/>
<text x="352.3" y="41.6">32</text>
<path d="M325 56.6h2.5M349.5 56.6h-2.5" stroke="#222" stroke-width="0.8"/>
<text x="352.3" y="60.7">16</text>
<path d="M325 75.7h2.5M349.5 75.7h-2.5" stroke="#222" stroke-width="0.8"/>
<text x="355.1" y="79.8">8</text>
<path d="M325 94.8h2.5M349.5 94.8h-2.5" stroke="#222" stroke-width="0.8"/>
<text x="355.1" y="98.9">4</text>
<path d="M325 113.9h2.5M349.5 113.9h-2.5" stroke="#222" stroke-width="0.8"/>
<text x="355.1" y="118.0">2</text>
<path d="M325 133.0h2.5M349.5 133.0h-2.5" stroke="#222" stroke-width="0.8"/>
<text x="355.1" y="137.1">1</text>
<path d="M325 152.1h2.5M349.5 152.1h-2.5" stroke="#222" stroke-width="0.8"/>
<text x="352.3" y="156.2">1/2</text>
<path d="M325 171.2h2.5M349.5 171.2h-2.5" stroke="#222" stroke-width="0.8"/>
<text x="352.3" y="175.3">1/4</text>
<path d="M325 190.3h2.5M349.5 190.3h-2.5" stroke="#222" stroke-width="0.8"/>
<text x="352.3" y="194.4">1/8</text>
<path d="M325 209.4h2.5M349.5 209.4h-2.5" stroke="#222" stroke-width="0.8"/>
<text x="352.3" y="213.5">1/16</text>
<path d="M325 228.5h2.5M349.5 228.5h-2.5" stroke="#222" stroke-width="0.8"/>
<text x="352.3" y="232.6">1/32</text>
<path d="M325 247.6h2.5M349.5 247.6h-2.5" stroke="#222" stroke-width="0.8"/>
<text x="352.3" y="251.7">1/64</text>
<path d="M719.2 3.5h2.5M743.7 3.5h-2.5" stroke="#222" stroke-width="0.8"/>
<text x="746.2" y="8.5">1</text>
<path d="M719.2 29.2h2.5M743.7 29.2h-2.5" stroke="#222" stroke-width="0.8"/>
<text x="746.2" y="34.2">0.9</text>
<path d="M719.2 54.9h2.5M743.7 54.9h-2.5" stroke="#222" stroke-width="0.8"/>
<text x="746.2" y="59.9">0.8</text>
<path d="M719.2 80.6h2.5M743.7 80.6h-2.5" stroke="#222" stroke-width="0.8"/>
<text x="746.2" y="85.6">0.7</text>
<path d="M719.2 106.3h2.5M743.7 106.3h-2.5" stroke="#222" stroke-width="0.8"/>
<text x="746.2" y="111.3">0.6</text>
<path d="M719.2 132.0h2.5M743.7 132.0h-2.5" stroke="#222" stroke-width="0.8"/>
<text x="746.2" y="137.0">0.5</text>
<path d="M719.2 157.7h2.5M743.7 157.7h-2.5" stroke="#222" stroke-width="0.8"/>
<text x="746.2" y="162.7">0.4</text>
<path d="M719.2 183.4h2.5M743.7 183.4h-2.5" stroke="#222" stroke-width="0.8"/>
<text x="746.2" y="188.4">0.3</text>
<path d="M719.2 209.1h2.5M743.7 209.1h-2.5" stroke="#222" stroke-width="0.8"/>
<text x="746.2" y="214.1">0.2</text>
<path d="M719.2 234.8h2.5M743.7 234.8h-2.5" stroke="#222" stroke-width="0.8"/>
<text x="746.2" y="239.8">0.1</text>
<path d="M719.2 260.5h2.5M743.7 260.5h-2.5" stroke="#222" stroke-width="0.8"/>
<text x="746.2" y="265.5">0</text>
<text x="26.9" y="47.7" text-anchor="end">4</text>
<text x="26.9" y="89.7" text-anchor="end">8</text>
<text x="26.9" y="131.7" text-anchor="end">16</text>
<text x="26.9" y="173.7" text-anchor="end">32</text>
<text x="26.9" y="215.7" text-anchor="end">64</text>
<text x="26.9" y="257.7" text-anchor="end">128</text>
<text x="37.4" y="274.1" text-anchor="middle">1980</text>
<text x="74.5" y="274.1" text-anchor="middle">1985</text>
<text x="116.3" y="274.1" text-anchor="middle">1990</text>
<text x="159.5" y="274.1" text-anchor="middle">1995</text>
<text x="202.9" y="274.1" text-anchor="middle">2000</text>
<text x="244.9" y="274.1" text-anchor="middle">2005</text>
<text x="283.4" y="274.1" text-anchor="middle">2010</text>
<text x="170.5" y="285.9" text-anchor="middle">Calendar Year</text>
<text transform="translate(7.6 132) rotate(-90)" text-anchor="middle">Period(months)</text>
<text x="421.9" y="47.7" text-anchor="end">4</text>
<text x="421.9" y="89.7" text-anchor="end">8</text>
<text x="421.9" y="131.7" text-anchor="end">16</text>
<text x="421.9" y="173.7" text-anchor="end">32</text>
<text x="421.9" y="215.7" text-anchor="end">64</text>
<text x="421.9" y="257.7" text-anchor="end">128</text>
<text x="432.4" y="274.1" text-anchor="middle">1980</text>
<text x="469.5" y="274.1" text-anchor="middle">1985</text>
<text x="511.3" y="274.1" text-anchor="middle">1990</text>
<text x="554.5" y="274.1" text-anchor="middle">1995</text>
<text x="597.9" y="274.1" text-anchor="middle">2000</text>
<text x="639.9" y="274.1" text-anchor="middle">2005</text>
<text x="678.4" y="274.1" text-anchor="middle">2010</text>
<text x="565.5" y="285.9" text-anchor="middle">Calendar Year</text>
<text transform="translate(402.6 132) rotate(-90)" text-anchor="middle">Period(months)</text>
</svg>
</body></html>
